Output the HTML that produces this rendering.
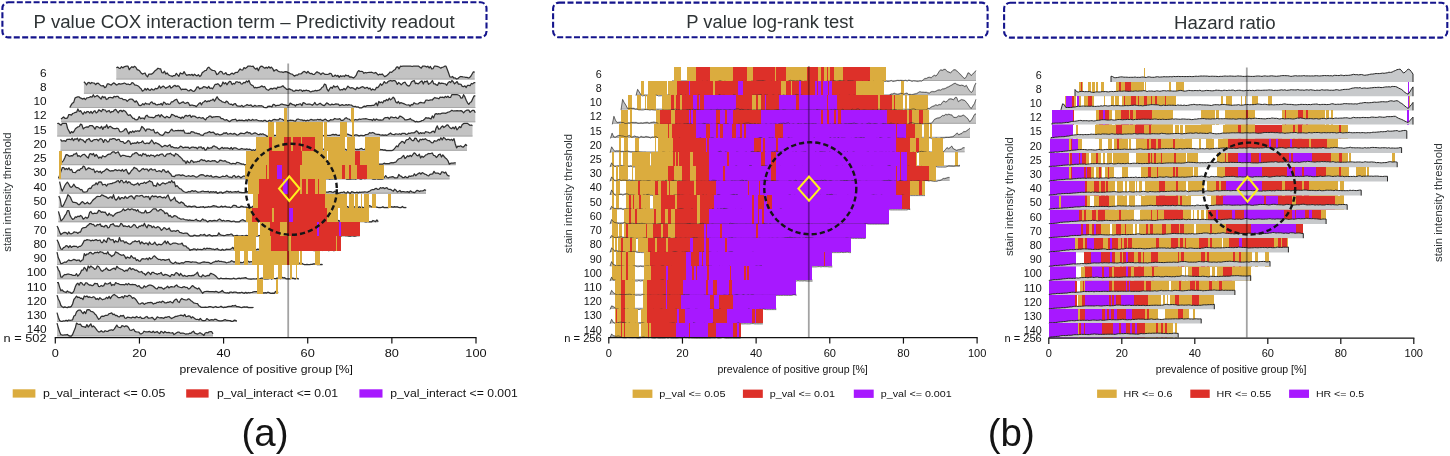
<!DOCTYPE html>
<html><head><meta charset="utf-8"><style>html,body{margin:0;padding:0;background:#fff;}svg{display:block;will-change:transform;}</style></head><body>
<svg width="1450" height="456" viewBox="0 0 1450 456" font-family="&quot;Liberation Sans&quot;, sans-serif">
<rect width="1450" height="456" fill="#ffffff"/>
<rect x="2.4" y="2.2" width="484.1" height="35.2" rx="6" ry="6" fill="none" stroke="#14148c" stroke-width="2.1" stroke-dasharray="6 2.4"/>
<rect x="553.1" y="2.6" width="434.5" height="34.7" rx="6" ry="6" fill="none" stroke="#14148c" stroke-width="2.1" stroke-dasharray="6 2.4"/>
<rect x="1004.1" y="2.8" width="443.2" height="34.8" rx="6" ry="6" fill="none" stroke="#14148c" stroke-width="2.1" stroke-dasharray="6 2.4"/>
<text x="33.6" y="28" font-size="18.3" fill="#2e3335" textLength="421" lengthAdjust="spacingAndGlyphs">P value COX interaction term – Predictivity readout</text>
<text x="686.2" y="28.2" font-size="18.3" fill="#2e3335" textLength="167.5" lengthAdjust="spacingAndGlyphs">P value log-rank test</text>
<text x="1174" y="28.7" font-size="18.3" fill="#2e3335" textLength="101.5" lengthAdjust="spacingAndGlyphs">Hazard ratio</text>
<path d="M116.3 79.5L116.3 67.7 117.6 67.1 118.9 68.1 120.2 68.5 121.5 66.7 122.8 67.9 124.1 66.8 125.4 66.3 126.7 66.2 128 66.2 129.3 69.7 130.6 67.9 131.9 66.7 133.2 67.6 134.5 66.3 135.8 67.2 137.2 69.6 138.5 70.1 139.8 71.1 141.1 73 142.4 74.1 143.7 73.5 145 73 146.3 75.6 147.6 76.8 148.9 74.1 150.2 74.1 151.5 74.1 152.8 73.3 154.1 71.8 155.4 70.4 156.7 69.5 158 68.2 159.3 68.8 160.6 68.8 161.9 72.6 163.2 72.9 164.5 71.2 165.8 74.1 167.1 73 168.4 74.7 169.7 75.5 171 75.9 172.3 76.5 173.6 75.6 174.9 75.7 176.3 73.4 177.6 74.9 178.9 76.3 180.2 72.9 181.5 73.7 182.8 73.8 184.1 71.7 185.4 73.8 186.7 75.3 188 74.9 189.3 74.7 190.6 75.2 191.9 74.3 193.2 75.7 194.5 74.2 195.8 75.3 197.1 75.8 198.4 74.7 199.7 76.5 201 75.4 202.3 72.6 203.6 71.8 204.9 70.6 206.2 70.5 207.5 68.1 208.8 67.2 210.1 68.7 211.4 69.8 212.7 70.3 214 70.5 215.3 71.3 216.7 74.6 218 74 219.3 72.3 220.6 71.3 221.9 71.9 223.2 74 224.5 73.8 225.8 72.6 227.1 74.7 228.4 74.6 229.7 74.9 231 73.7 232.3 73.2 233.6 74.2 234.9 72.9 236.2 72.4 237.5 72.5 238.8 70.7 240.1 68.9 241.4 69.9 242.7 70 244 67.6 245.3 68.6 246.6 67.6 247.9 66.2 249.2 66.2 250.5 66.2 251.8 66.5 253.1 66.2 254.4 68.1 255.8 69.2 257.1 68 258.4 70.7 259.7 67.5 261 66.2 262.3 66.3 263.6 67.4 264.9 68.3 266.2 67.2 267.5 68.2 268.8 66.6 270.1 68.2 271.4 67.1 272.7 68.6 274 71.1 275.3 70 276.6 69.6 277.9 71 279.2 71.6 280.5 72 281.8 71.9 283.1 72.5 284.4 71.9 285.7 71.6 287 71.9 288.3 72.7 289.6 73.2 290.9 74 292.2 74.1 293.5 75.4 294.8 76.1 296.2 75 297.5 75.2 298.8 73.9 300.1 74 301.4 73.7 302.7 72.3 304 71.4 305.3 72 306.6 73 307.9 71.3 309.2 72.9 310.5 73.7 311.8 73.4 313.1 74.5 314.4 74.4 315.7 72.9 317 71.8 318.3 72.6 319.6 73.1 320.9 74.6 322.2 73.1 323.5 73.2 324.8 74.4 326.1 74.4 327.4 74.5 328.7 74.2 330 73.2 331.3 73.8 332.6 76.4 333.9 76.2 335.2 75.1 336.6 76.2 337.9 75.4 339.2 77.4 340.5 75.7 341.8 76.5 343.1 75.8 344.4 76.5 345.7 75 347 75.8 348.3 75.5 349.6 77.2 350.9 76.8 352.2 77.4 353.5 78 354.8 76.9 356.1 75.4 357.4 72.2 358.7 70.6 360 71.5 361.3 71.3 362.6 71.5 363.9 73.3 365.2 72.5 366.5 72.8 367.8 72.5 369.1 72.4 370.4 72.3 371.7 72.2 373 72.8 374.3 73.1 375.7 72.5 377 73.8 378.3 75 379.6 74.2 380.9 74.6 382.2 74 383.5 75.4 384.8 76.7 386.1 75.9 387.4 75 388.7 73.8 390 72 391.3 72.4 392.6 71.4 393.9 70.2 395.2 69.5 396.5 67.1 397.8 66.9 399.1 68.8 400.4 66.2 401.7 66.3 403 66.2 404.3 66.2 405.6 66.2 406.9 66.2 408.2 66.2 409.5 66.2 410.8 66.2 412.1 66.5 413.4 66.2 414.7 66.2 416.1 66.2 417.4 66.2 418.7 66.2 420 67.3 421.3 68.2 422.6 66.2 423.9 66.2 425.2 66.2 426.5 67.1 427.8 66.2 429.1 68 430.4 66.5 431.7 68.9 433 68.7 434.3 66.2 435.6 66.2 436.9 66.3 438.2 66.7 439.5 67.3 440.8 68.2 442.1 67.3 443.4 67 444.7 66.2 446 66.2 447.3 69.5 448.6 73 449.9 76.9 451.2 77.2 452.5 76.5 453.8 78 455.2 77.9 456.5 79 457.8 78.7 459.1 77.4 460.4 76.5 461.7 76.7 463 76.9 464.3 77 465.6 77.3 466.9 77.3 468.2 78 469.5 77.6 470.8 76.2 472.1 74 473.4 71.8 474.7 72.1 474.7 79.5" fill="#c3c3c3"/>
<path d="M116.3 79H474.7" stroke="#a9a9a9" stroke-width="1.1"/>
<path d="M116.3 67.7 117.6 67.1 118.9 68.1 120.2 68.5 121.5 66.7 122.8 67.9 124.1 66.8 125.4 66.3 126.7 66.2 128 66.2 129.3 69.7 130.6 67.9 131.9 66.7 133.2 67.6 134.5 66.3 135.8 67.2 137.2 69.6 138.5 70.1 139.8 71.1 141.1 73 142.4 74.1 143.7 73.5 145 73 146.3 75.6 147.6 76.8 148.9 74.1 150.2 74.1 151.5 74.1 152.8 73.3 154.1 71.8 155.4 70.4 156.7 69.5 158 68.2 159.3 68.8 160.6 68.8 161.9 72.6 163.2 72.9 164.5 71.2 165.8 74.1 167.1 73 168.4 74.7 169.7 75.5 171 75.9 172.3 76.5 173.6 75.6 174.9 75.7 176.3 73.4 177.6 74.9 178.9 76.3 180.2 72.9 181.5 73.7 182.8 73.8 184.1 71.7 185.4 73.8 186.7 75.3 188 74.9 189.3 74.7 190.6 75.2 191.9 74.3 193.2 75.7 194.5 74.2 195.8 75.3 197.1 75.8 198.4 74.7 199.7 76.5 201 75.4 202.3 72.6 203.6 71.8 204.9 70.6 206.2 70.5 207.5 68.1 208.8 67.2 210.1 68.7 211.4 69.8 212.7 70.3 214 70.5 215.3 71.3 216.7 74.6 218 74 219.3 72.3 220.6 71.3 221.9 71.9 223.2 74 224.5 73.8 225.8 72.6 227.1 74.7 228.4 74.6 229.7 74.9 231 73.7 232.3 73.2 233.6 74.2 234.9 72.9 236.2 72.4 237.5 72.5 238.8 70.7 240.1 68.9 241.4 69.9 242.7 70 244 67.6 245.3 68.6 246.6 67.6 247.9 66.2 249.2 66.2 250.5 66.2 251.8 66.5 253.1 66.2 254.4 68.1 255.8 69.2 257.1 68 258.4 70.7 259.7 67.5 261 66.2 262.3 66.3 263.6 67.4 264.9 68.3 266.2 67.2 267.5 68.2 268.8 66.6 270.1 68.2 271.4 67.1 272.7 68.6 274 71.1 275.3 70 276.6 69.6 277.9 71 279.2 71.6 280.5 72 281.8 71.9 283.1 72.5 284.4 71.9 285.7 71.6 287 71.9 288.3 72.7 289.6 73.2 290.9 74 292.2 74.1 293.5 75.4 294.8 76.1 296.2 75 297.5 75.2 298.8 73.9 300.1 74 301.4 73.7 302.7 72.3 304 71.4 305.3 72 306.6 73 307.9 71.3 309.2 72.9 310.5 73.7 311.8 73.4 313.1 74.5 314.4 74.4 315.7 72.9 317 71.8 318.3 72.6 319.6 73.1 320.9 74.6 322.2 73.1 323.5 73.2 324.8 74.4 326.1 74.4 327.4 74.5 328.7 74.2 330 73.2 331.3 73.8 332.6 76.4 333.9 76.2 335.2 75.1 336.6 76.2 337.9 75.4 339.2 77.4 340.5 75.7 341.8 76.5 343.1 75.8 344.4 76.5 345.7 75 347 75.8 348.3 75.5 349.6 77.2 350.9 76.8 352.2 77.4 353.5 78 354.8 76.9 356.1 75.4 357.4 72.2 358.7 70.6 360 71.5 361.3 71.3 362.6 71.5 363.9 73.3 365.2 72.5 366.5 72.8 367.8 72.5 369.1 72.4 370.4 72.3 371.7 72.2 373 72.8 374.3 73.1 375.7 72.5 377 73.8 378.3 75 379.6 74.2 380.9 74.6 382.2 74 383.5 75.4 384.8 76.7 386.1 75.9 387.4 75 388.7 73.8 390 72 391.3 72.4 392.6 71.4 393.9 70.2 395.2 69.5 396.5 67.1 397.8 66.9 399.1 68.8 400.4 66.2 401.7 66.3 403 66.2 404.3 66.2 405.6 66.2 406.9 66.2 408.2 66.2 409.5 66.2 410.8 66.2 412.1 66.5 413.4 66.2 414.7 66.2 416.1 66.2 417.4 66.2 418.7 66.2 420 67.3 421.3 68.2 422.6 66.2 423.9 66.2 425.2 66.2 426.5 67.1 427.8 66.2 429.1 68 430.4 66.5 431.7 68.9 433 68.7 434.3 66.2 435.6 66.2 436.9 66.3 438.2 66.7 439.5 67.3 440.8 68.2 442.1 67.3 443.4 67 444.7 66.2 446 66.2 447.3 69.5 448.6 73 449.9 76.9 451.2 77.2 452.5 76.5 453.8 78 455.2 77.9 456.5 79 457.8 78.7 459.1 77.4 460.4 76.5 461.7 76.7 463 76.9 464.3 77 465.6 77.3 466.9 77.3 468.2 78 469.5 77.6 470.8 76.2 472.1 74 473.4 71.8 474.7 72.1" fill="none" stroke="#303030" stroke-opacity="1" stroke-width="1.25" stroke-linejoin="round"/>
<path d="M83.9 93.8L83.9 81.7 85.2 83 86.5 84.9 87.8 82.9 89.1 82.4 90.4 83.7 91.7 82.5 93 83 94.3 83.2 95.6 84.7 96.9 83.3 98.2 83.2 99.5 84.4 100.8 85.6 102.1 85.8 103.4 85.6 104.7 87.7 106 86.9 107.3 83.9 108.6 83.9 109.9 84.5 111.2 85.1 112.5 83.7 113.8 82.9 115.1 83.7 116.4 85 117.7 84.6 119 83.6 120.3 84.1 121.6 83.9 122.9 83.7 124.2 83 125.5 83.5 126.8 84.4 128.1 84 129.4 84.7 130.7 84.4 132 82.6 133.3 83 134.6 84.8 135.9 85.1 137.2 85.5 138.5 86.2 139.8 87.7 141.1 88.8 142.4 91.1 143.7 90.5 145 88.5 146.3 90.1 147.6 88.5 148.9 89.8 150.2 90.3 151.5 88.8 152.8 89.8 154.1 89.9 155.4 88.3 156.7 88.9 158 88.1 159.3 85.8 160.6 88.1 161.9 87 163.2 86.1 164.5 87.1 165.8 88.3 167.1 87.3 168.4 86.9 169.7 85.6 171 88.1 172.3 87.2 173.6 86 174.9 85.3 176.2 86.5 177.5 85.8 178.8 86.2 180.1 87.8 181.4 89.8 182.7 89.1 184 89.3 185.3 89.1 186.6 89.4 187.9 90.6 189.2 90.8 190.5 89.6 191.8 90.4 193.1 91.3 194.4 91.1 195.7 89.5 197 87.1 198.3 86.8 199.6 88.9 200.9 88.2 202.2 88.2 203.5 86.7 204.8 86.8 206.1 87.4 207.4 88.2 208.7 86.3 210 88.3 211.3 88 212.6 88.8 213.9 86.5 215.2 84.3 216.5 84.4 217.8 83.7 219.1 84.8 220.4 86.5 221.7 85.3 223 82 224.3 83.8 225.6 82.6 226.9 84.8 228.2 82.9 229.5 81.4 230.8 81.7 232.1 84.6 233.4 83.4 234.7 84 236 81.8 237.3 81.8 238.6 82.5 239.9 82.2 241.2 84 242.5 83.8 243.8 82.4 245.1 82.8 246.4 81 247.7 82 249 80.5 250.3 83.9 251.6 85.1 252.9 85.5 254.2 87.8 255.5 87.4 256.8 87.8 258.1 87.4 259.4 87.3 260.7 86.6 262 85.9 263.3 87 264.6 86.5 265.9 88.7 267.2 89.7 268.5 90.3 269.8 89.1 271.1 88.3 272.4 89.1 273.7 88.2 275 88.1 276.3 89.1 277.6 87.1 278.9 87.4 280.3 87.2 281.6 86.6 282.9 85.8 284.2 87.2 285.5 88.3 286.8 89.4 288.1 89.2 289.4 88.8 290.7 89.6 292 89.9 293.3 91.2 294.6 91.2 295.9 90.1 297.2 90.3 298.5 90.7 299.8 89.9 301.1 90 302.4 91.4 303.7 90.3 305 90.8 306.3 90.1 307.6 90.7 308.9 90.7 310.2 91.8 311.5 91.6 312.8 91 314.1 91 315.4 90.4 316.7 90.8 318 90.4 319.3 90.1 320.6 89.3 321.9 87.5 323.2 86.8 324.5 84.1 325.8 84.8 327.1 89.2 328.4 91.1 329.7 88.7 331 87.2 332.3 88.3 333.6 85.7 334.9 87.2 336.2 86.7 337.5 86 338.8 88.3 340.1 90.2 341.4 89.5 342.7 89.8 344 88.4 345.3 89.8 346.6 88.2 347.9 86.1 349.2 87.3 350.5 88.2 351.8 87.6 353.1 88 354.4 88.9 355.7 89.6 357 87.3 358.3 88.5 359.6 88.1 360.9 87.4 362.2 86.7 363.5 87 364.8 88.4 366.1 87.7 367.4 87.3 368.7 88.9 370 88 371.3 90.2 372.6 89 373.9 89.8 375.2 89.8 376.5 87.4 377.8 87.7 379.1 86 380.4 83.7 381.7 85.3 383 83.9 384.3 81.6 385.6 83.1 386.9 83 388.2 81.3 389.5 80.9 390.8 80.5 392.1 81.1 393.4 80.5 394.7 80.5 396 81.7 397.3 84.4 398.6 82.5 399.9 83.4 401.2 84.9 402.5 83.6 403.8 82.5 405.1 82.2 406.4 84.5 407.7 85.7 409 86.1 410.3 84.6 411.6 81.8 412.9 81.1 414.2 80.5 415.5 83.7 416.8 83.2 418.1 83.9 419.4 82.8 420.7 81.6 422 80.9 423.3 84.1 424.6 81.2 425.9 81.9 427.2 80.8 428.5 84.3 429.8 83.4 431.1 82.4 432.4 80.5 433.7 83.8 435 83.8 436.3 84.9 437.6 85.3 438.9 82.4 440.2 83.7 441.5 83.2 442.8 83.4 444.1 83.7 445.4 83.9 446.7 85.3 448 82.9 449.3 81.6 450.6 82.6 451.9 80.5 453.2 81.7 454.5 83.9 455.8 82.7 457.1 81.6 458.4 84.1 459.7 84 461 84.3 462.3 86.4 463.6 86.6 464.9 85.9 466.2 87.5 467.5 85.3 468.8 85.3 470.1 85.6 471.4 83.5 472.7 83.9 474 82.6 475.3 82.6 475.3 93.8" fill="#c3c3c3"/>
<path d="M83.9 93.2H475.3" stroke="#a9a9a9" stroke-width="1.1"/>
<path d="M83.9 81.7 85.2 83 86.5 84.9 87.8 82.9 89.1 82.4 90.4 83.7 91.7 82.5 93 83 94.3 83.2 95.6 84.7 96.9 83.3 98.2 83.2 99.5 84.4 100.8 85.6 102.1 85.8 103.4 85.6 104.7 87.7 106 86.9 107.3 83.9 108.6 83.9 109.9 84.5 111.2 85.1 112.5 83.7 113.8 82.9 115.1 83.7 116.4 85 117.7 84.6 119 83.6 120.3 84.1 121.6 83.9 122.9 83.7 124.2 83 125.5 83.5 126.8 84.4 128.1 84 129.4 84.7 130.7 84.4 132 82.6 133.3 83 134.6 84.8 135.9 85.1 137.2 85.5 138.5 86.2 139.8 87.7 141.1 88.8 142.4 91.1 143.7 90.5 145 88.5 146.3 90.1 147.6 88.5 148.9 89.8 150.2 90.3 151.5 88.8 152.8 89.8 154.1 89.9 155.4 88.3 156.7 88.9 158 88.1 159.3 85.8 160.6 88.1 161.9 87 163.2 86.1 164.5 87.1 165.8 88.3 167.1 87.3 168.4 86.9 169.7 85.6 171 88.1 172.3 87.2 173.6 86 174.9 85.3 176.2 86.5 177.5 85.8 178.8 86.2 180.1 87.8 181.4 89.8 182.7 89.1 184 89.3 185.3 89.1 186.6 89.4 187.9 90.6 189.2 90.8 190.5 89.6 191.8 90.4 193.1 91.3 194.4 91.1 195.7 89.5 197 87.1 198.3 86.8 199.6 88.9 200.9 88.2 202.2 88.2 203.5 86.7 204.8 86.8 206.1 87.4 207.4 88.2 208.7 86.3 210 88.3 211.3 88 212.6 88.8 213.9 86.5 215.2 84.3 216.5 84.4 217.8 83.7 219.1 84.8 220.4 86.5 221.7 85.3 223 82 224.3 83.8 225.6 82.6 226.9 84.8 228.2 82.9 229.5 81.4 230.8 81.7 232.1 84.6 233.4 83.4 234.7 84 236 81.8 237.3 81.8 238.6 82.5 239.9 82.2 241.2 84 242.5 83.8 243.8 82.4 245.1 82.8 246.4 81 247.7 82 249 80.5 250.3 83.9 251.6 85.1 252.9 85.5 254.2 87.8 255.5 87.4 256.8 87.8 258.1 87.4 259.4 87.3 260.7 86.6 262 85.9 263.3 87 264.6 86.5 265.9 88.7 267.2 89.7 268.5 90.3 269.8 89.1 271.1 88.3 272.4 89.1 273.7 88.2 275 88.1 276.3 89.1 277.6 87.1 278.9 87.4 280.3 87.2 281.6 86.6 282.9 85.8 284.2 87.2 285.5 88.3 286.8 89.4 288.1 89.2 289.4 88.8 290.7 89.6 292 89.9 293.3 91.2 294.6 91.2 295.9 90.1 297.2 90.3 298.5 90.7 299.8 89.9 301.1 90 302.4 91.4 303.7 90.3 305 90.8 306.3 90.1 307.6 90.7 308.9 90.7 310.2 91.8 311.5 91.6 312.8 91 314.1 91 315.4 90.4 316.7 90.8 318 90.4 319.3 90.1 320.6 89.3 321.9 87.5 323.2 86.8 324.5 84.1 325.8 84.8 327.1 89.2 328.4 91.1 329.7 88.7 331 87.2 332.3 88.3 333.6 85.7 334.9 87.2 336.2 86.7 337.5 86 338.8 88.3 340.1 90.2 341.4 89.5 342.7 89.8 344 88.4 345.3 89.8 346.6 88.2 347.9 86.1 349.2 87.3 350.5 88.2 351.8 87.6 353.1 88 354.4 88.9 355.7 89.6 357 87.3 358.3 88.5 359.6 88.1 360.9 87.4 362.2 86.7 363.5 87 364.8 88.4 366.1 87.7 367.4 87.3 368.7 88.9 370 88 371.3 90.2 372.6 89 373.9 89.8 375.2 89.8 376.5 87.4 377.8 87.7 379.1 86 380.4 83.7 381.7 85.3 383 83.9 384.3 81.6 385.6 83.1 386.9 83 388.2 81.3 389.5 80.9 390.8 80.5 392.1 81.1 393.4 80.5 394.7 80.5 396 81.7 397.3 84.4 398.6 82.5 399.9 83.4 401.2 84.9 402.5 83.6 403.8 82.5 405.1 82.2 406.4 84.5 407.7 85.7 409 86.1 410.3 84.6 411.6 81.8 412.9 81.1 414.2 80.5 415.5 83.7 416.8 83.2 418.1 83.9 419.4 82.8 420.7 81.6 422 80.9 423.3 84.1 424.6 81.2 425.9 81.9 427.2 80.8 428.5 84.3 429.8 83.4 431.1 82.4 432.4 80.5 433.7 83.8 435 83.8 436.3 84.9 437.6 85.3 438.9 82.4 440.2 83.7 441.5 83.2 442.8 83.4 444.1 83.7 445.4 83.9 446.7 85.3 448 82.9 449.3 81.6 450.6 82.6 451.9 80.5 453.2 81.7 454.5 83.9 455.8 82.7 457.1 81.6 458.4 84.1 459.7 84 461 84.3 462.3 86.4 463.6 86.6 464.9 85.9 466.2 87.5 467.5 85.3 468.8 85.3 470.1 85.6 471.4 83.5 472.7 83.9 474 82.6 475.3 82.6" fill="none" stroke="#303030" stroke-opacity="1" stroke-width="1.25" stroke-linejoin="round"/>
<path d="M69.8 108L69.8 107.5 71.1 105.1 72.4 103.2 73.7 102.4 75 98.1 76.3 97.3 77.6 96.9 78.9 96.8 80.2 97.9 81.5 98.4 82.8 99.1 84.1 98.2 85.4 99.6 86.8 97.8 88.1 97.7 89.4 97.3 90.7 96.6 92 97.2 93.3 94.7 94.6 97 95.9 96.3 97.2 95.5 98.5 96.5 99.8 97.8 101.1 99 102.4 96.3 103.7 97.6 105 96.8 106.3 99.5 107.6 99 108.9 97.5 110.2 97.4 111.5 97.6 112.8 98 114.1 96.3 115.4 96.9 116.7 96.4 118 96.4 119.3 98 120.7 98.5 122 98.4 123.3 99.7 124.6 99.5 125.9 99.8 127.2 101.4 128.5 100.1 129.8 99.2 131.1 99 132.4 99.3 133.7 100.7 135 102.2 136.3 100.8 137.6 102.7 138.9 105.1 140.2 105.7 141.5 105.2 142.8 103.6 144.1 104.9 145.4 103 146.7 104 148 103.8 149.3 104.5 150.6 102.5 151.9 101.9 153.2 103.6 154.6 103.3 155.9 104.7 157.2 104.9 158.5 104.4 159.8 104.5 161.1 103.5 162.4 105.2 163.7 102.1 165 102.8 166.3 104.4 167.6 103.8 168.9 104.4 170.2 104 171.5 101.8 172.8 101.8 174.1 100.6 175.4 99.8 176.7 99.2 178 101.9 179.3 103.6 180.6 103.1 181.9 102.3 183.2 101.8 184.5 103.1 185.8 103.3 187.1 102.4 188.5 102.9 189.8 105.6 191.1 105.1 192.4 105.2 193.7 105.7 195 105.7 196.3 106.7 197.6 105.1 198.9 103.6 200.2 102.7 201.5 104.8 202.8 102.5 204.1 101.7 205.4 100.6 206.7 101.9 208 100.9 209.3 101.4 210.6 100.3 211.9 100.2 213.2 99.1 214.5 101.2 215.8 98.9 217.1 96.7 218.4 99 219.7 100.1 221 100.7 222.4 102 223.7 102.2 225 102.8 226.3 101.1 227.6 101.9 228.9 103.7 230.2 104.3 231.5 104.1 232.8 105.3 234.1 103.9 235.4 103.6 236.7 105.7 238 106.2 239.3 106.1 240.6 106.3 241.9 105.3 243.2 106.8 244.5 106 245.8 105.5 247.1 104.6 248.4 105.3 249.7 105.3 251 104.8 252.3 106.3 253.6 106.3 254.9 105.3 256.3 106.2 257.6 106 258.9 105.7 260.2 105.9 261.5 105.7 262.8 106.3 264.1 107.4 265.4 107.7 266.7 107.7 268 106.3 269.3 106.2 270.6 106.3 271.9 106.9 273.2 104.3 274.5 104.6 275.8 106 277.1 105.3 278.4 105.4 279.7 105.1 281 104.2 282.3 104.1 283.6 104.7 284.9 104.8 286.2 105.1 287.5 105.6 288.8 105.5 290.2 103.1 291.5 103.9 292.8 104.7 294.1 104.8 295.4 106 296.7 104.5 298 104.7 299.3 104 300.6 103.9 301.9 105.7 303.2 102.6 304.5 103.1 305.8 104 307.1 104.3 308.4 104 309.7 104 311 104.5 312.3 105.3 313.6 104.1 314.9 102.5 316.2 104.7 317.5 104.8 318.8 104 320.1 103.2 321.4 104.2 322.7 105.2 324.1 105.7 325.4 104.5 326.7 102.9 328 103.6 329.3 104.7 330.6 105 331.9 104.1 333.2 104.6 334.5 104.3 335.8 103.9 337.1 104.2 338.4 104.2 339.7 105.6 341 105.1 342.3 104.6 343.6 105.3 344.9 105.1 346.2 104.6 347.5 105.3 348.8 104.6 350.1 105 351.4 105.1 352.7 106.2 354 106.5 355.3 106.3 356.6 107 358 106.8 359.3 107.8 360.6 107.8 361.9 107.8 363.2 106.7 364.5 106.2 365.8 106.6 367.1 105.6 368.4 105.7 369.7 105.5 371 105.6 372.3 105.3 373.6 105.4 374.9 104.4 376.2 103 377.5 105.8 378.8 101.4 380.1 102.8 381.4 102 382.7 102.9 384 100.6 385.3 101 386.6 99.5 387.9 100.5 389.2 98.2 390.5 99.9 391.9 98.7 393.2 97.2 394.5 98.5 395.8 102 397.1 103 398.4 101.5 399.7 103.6 401 102.6 402.3 103.2 403.6 103.7 404.9 104.2 406.2 104.8 407.5 105 408.8 104.8 410.1 106.2 411.4 104.5 412.7 104.9 414 102.7 415.3 103.6 416.6 103.9 417.9 104 419.2 102.9 420.5 102.3 421.8 102.7 423.1 102.8 424.4 102.9 425.8 100.2 427.1 100 428.4 100.5 429.7 100.1 431 99.8 432.3 100 433.6 98.5 434.9 97.5 436.2 98.2 437.5 98.2 438.8 98.8 440.1 97.1 441.4 97.3 442.7 97.1 444 97.8 445.3 96.3 446.6 97.4 447.9 96.2 449.2 97.5 450.5 97.4 451.8 94.7 453.1 94.7 454.4 94.7 455.7 94.7 457 94.7 458.3 95 459.7 95.7 461 98.1 462.3 97.9 463.6 94.7 464.9 96.9 466.2 100.2 467.5 102.8 468.8 104.4 470.1 102.5 471.4 101.7 472.7 98.7 474 96.1 475.3 95.6 475.3 108" fill="#c3c3c3"/>
<path d="M69.8 107.5H475.3" stroke="#a9a9a9" stroke-width="1.1"/>
<path d="M69.8 107.5 71.1 105.1 72.4 103.2 73.7 102.4 75 98.1 76.3 97.3 77.6 96.9 78.9 96.8 80.2 97.9 81.5 98.4 82.8 99.1 84.1 98.2 85.4 99.6 86.8 97.8 88.1 97.7 89.4 97.3 90.7 96.6 92 97.2 93.3 94.7 94.6 97 95.9 96.3 97.2 95.5 98.5 96.5 99.8 97.8 101.1 99 102.4 96.3 103.7 97.6 105 96.8 106.3 99.5 107.6 99 108.9 97.5 110.2 97.4 111.5 97.6 112.8 98 114.1 96.3 115.4 96.9 116.7 96.4 118 96.4 119.3 98 120.7 98.5 122 98.4 123.3 99.7 124.6 99.5 125.9 99.8 127.2 101.4 128.5 100.1 129.8 99.2 131.1 99 132.4 99.3 133.7 100.7 135 102.2 136.3 100.8 137.6 102.7 138.9 105.1 140.2 105.7 141.5 105.2 142.8 103.6 144.1 104.9 145.4 103 146.7 104 148 103.8 149.3 104.5 150.6 102.5 151.9 101.9 153.2 103.6 154.6 103.3 155.9 104.7 157.2 104.9 158.5 104.4 159.8 104.5 161.1 103.5 162.4 105.2 163.7 102.1 165 102.8 166.3 104.4 167.6 103.8 168.9 104.4 170.2 104 171.5 101.8 172.8 101.8 174.1 100.6 175.4 99.8 176.7 99.2 178 101.9 179.3 103.6 180.6 103.1 181.9 102.3 183.2 101.8 184.5 103.1 185.8 103.3 187.1 102.4 188.5 102.9 189.8 105.6 191.1 105.1 192.4 105.2 193.7 105.7 195 105.7 196.3 106.7 197.6 105.1 198.9 103.6 200.2 102.7 201.5 104.8 202.8 102.5 204.1 101.7 205.4 100.6 206.7 101.9 208 100.9 209.3 101.4 210.6 100.3 211.9 100.2 213.2 99.1 214.5 101.2 215.8 98.9 217.1 96.7 218.4 99 219.7 100.1 221 100.7 222.4 102 223.7 102.2 225 102.8 226.3 101.1 227.6 101.9 228.9 103.7 230.2 104.3 231.5 104.1 232.8 105.3 234.1 103.9 235.4 103.6 236.7 105.7 238 106.2 239.3 106.1 240.6 106.3 241.9 105.3 243.2 106.8 244.5 106 245.8 105.5 247.1 104.6 248.4 105.3 249.7 105.3 251 104.8 252.3 106.3 253.6 106.3 254.9 105.3 256.3 106.2 257.6 106 258.9 105.7 260.2 105.9 261.5 105.7 262.8 106.3 264.1 107.4 265.4 107.7 266.7 107.7 268 106.3 269.3 106.2 270.6 106.3 271.9 106.9 273.2 104.3 274.5 104.6 275.8 106 277.1 105.3 278.4 105.4 279.7 105.1 281 104.2 282.3 104.1 283.6 104.7 284.9 104.8 286.2 105.1 287.5 105.6 288.8 105.5 290.2 103.1 291.5 103.9 292.8 104.7 294.1 104.8 295.4 106 296.7 104.5 298 104.7 299.3 104 300.6 103.9 301.9 105.7 303.2 102.6 304.5 103.1 305.8 104 307.1 104.3 308.4 104 309.7 104 311 104.5 312.3 105.3 313.6 104.1 314.9 102.5 316.2 104.7 317.5 104.8 318.8 104 320.1 103.2 321.4 104.2 322.7 105.2 324.1 105.7 325.4 104.5 326.7 102.9 328 103.6 329.3 104.7 330.6 105 331.9 104.1 333.2 104.6 334.5 104.3 335.8 103.9 337.1 104.2 338.4 104.2 339.7 105.6 341 105.1 342.3 104.6 343.6 105.3 344.9 105.1 346.2 104.6 347.5 105.3 348.8 104.6 350.1 105 351.4 105.1 352.7 106.2 354 106.5 355.3 106.3 356.6 107 358 106.8 359.3 107.8 360.6 107.8 361.9 107.8 363.2 106.7 364.5 106.2 365.8 106.6 367.1 105.6 368.4 105.7 369.7 105.5 371 105.6 372.3 105.3 373.6 105.4 374.9 104.4 376.2 103 377.5 105.8 378.8 101.4 380.1 102.8 381.4 102 382.7 102.9 384 100.6 385.3 101 386.6 99.5 387.9 100.5 389.2 98.2 390.5 99.9 391.9 98.7 393.2 97.2 394.5 98.5 395.8 102 397.1 103 398.4 101.5 399.7 103.6 401 102.6 402.3 103.2 403.6 103.7 404.9 104.2 406.2 104.8 407.5 105 408.8 104.8 410.1 106.2 411.4 104.5 412.7 104.9 414 102.7 415.3 103.6 416.6 103.9 417.9 104 419.2 102.9 420.5 102.3 421.8 102.7 423.1 102.8 424.4 102.9 425.8 100.2 427.1 100 428.4 100.5 429.7 100.1 431 99.8 432.3 100 433.6 98.5 434.9 97.5 436.2 98.2 437.5 98.2 438.8 98.8 440.1 97.1 441.4 97.3 442.7 97.1 444 97.8 445.3 96.3 446.6 97.4 447.9 96.2 449.2 97.5 450.5 97.4 451.8 94.7 453.1 94.7 454.4 94.7 455.7 94.7 457 94.7 458.3 95 459.7 95.7 461 98.1 462.3 97.9 463.6 94.7 464.9 96.9 466.2 100.2 467.5 102.8 468.8 104.4 470.1 102.5 471.4 101.7 472.7 98.7 474 96.1 475.3 95.6" fill="none" stroke="#303030" stroke-opacity="1" stroke-width="1.25" stroke-linejoin="round"/>
<path d="M61 122.3L61 119 62.3 118 63.6 116.9 64.9 118.3 66.2 118.4 67.5 117.9 68.8 114.6 70.1 114.7 71.4 115.2 72.7 113.5 74 113 75.3 112.4 76.6 112.2 77.9 109 79.2 111.5 80.5 110.7 81.8 112.6 83.1 114.3 84.5 111.9 85.8 113.1 87.1 111.5 88.4 111.7 89.7 113.2 91 111.4 92.3 113.5 93.6 111.6 94.9 110.7 96.2 113 97.5 112.1 98.8 109.9 100.1 110.6 101.4 111.7 102.7 109.3 104 109.8 105.3 110 106.6 112 107.9 111.1 109.2 110.5 110.5 112.7 111.8 111.5 113.1 111.7 114.4 110 115.7 109.4 117 111.2 118.3 112.8 119.6 110.6 120.9 110.3 122.2 111.7 123.5 110.3 124.8 111 126.1 112.2 127.4 114.4 128.7 115.4 130.1 114.7 131.4 116.4 132.7 118.1 134 118.3 135.3 119.7 136.6 119.8 137.9 119.3 139.2 116.6 140.5 118.7 141.8 118.1 143.1 118.1 144.4 119.1 145.7 116 147 115.2 148.3 116.8 149.6 117.2 150.9 117.3 152.2 117.4 153.5 117.8 154.8 117.1 156.1 115.5 157.4 115.6 158.7 114.8 160 117 161.3 114.6 162.6 115.9 163.9 117 165.2 117.9 166.5 116.3 167.8 116.9 169.1 117.8 170.4 117.1 171.7 114.3 173 114.8 174.3 115.5 175.6 116.6 177 116.1 178.3 117.4 179.6 117.3 180.9 118.5 182.2 116.9 183.5 118 184.8 116.1 186.1 115.3 187.4 116.2 188.7 115.6 190 115.2 191.3 117.3 192.6 116 193.9 116.1 195.2 116.4 196.5 117.5 197.8 118 199.1 117.2 200.4 117.8 201.7 118.1 203 117.6 204.3 119 205.6 119.9 206.9 117.8 208.2 117.2 209.5 116.1 210.8 116.2 212.1 117.6 213.4 116.9 214.7 116.9 216 116.7 217.3 116.5 218.6 116.7 219.9 116.8 221.2 118.7 222.6 118.6 223.9 119.6 225.2 120.2 226.5 119.6 227.8 120.5 229.1 121.6 230.4 121.1 231.7 120.1 233 119.5 234.3 119.5 235.6 119.2 236.9 121 238.2 120.4 239.5 120.1 240.8 120.3 242.1 120.1 243.4 120.7 244.7 120.7 246 119.8 247.3 120.8 248.6 119.4 249.9 120.1 251.2 120.4 252.5 119.4 253.8 120.2 255.1 120 256.4 119.7 257.7 120.3 259 120.7 260.3 120.8 261.6 120.7 262.9 121.3 264.2 120.3 265.5 120.4 266.8 121.4 268.1 121.1 269.5 120.2 270.8 121.1 272.1 120.6 273.4 119.6 274.7 119.4 276 119.8 277.3 119.9 278.6 119.9 279.9 118.5 281.2 119 282.5 119.3 283.8 120.4 285.1 120.6 286.4 120.4 287.7 120.8 289 120.5 290.3 120.1 291.6 120.3 292.9 120.4 294.2 120.8 295.5 121.1 296.8 119.4 298.1 119 299.4 119.5 300.7 119.8 302 119.9 303.3 120.6 304.6 120.2 305.9 121 307.2 120.2 308.5 120.7 309.8 120 311.1 119.4 312.4 119.8 313.7 120.2 315.1 119.9 316.4 120 317.7 119.3 319 119.9 320.3 119.4 321.6 120.2 322.9 120.6 324.2 119.7 325.5 119.2 326.8 120.2 328.1 121.1 329.4 120.7 330.7 119.6 332 120 333.3 119.7 334.6 118.5 335.9 118.9 337.2 119.2 338.5 119.1 339.8 118.7 341.1 120.4 342.4 120.4 343.7 119.9 345 118.4 346.3 117.7 347.6 118.9 348.9 119 350.2 120 351.5 120.4 352.8 119.9 354.1 120.1 355.4 119.5 356.7 119.9 358 119.8 359.3 119 360.7 119.3 362 119 363.3 118.8 364.6 118.9 365.9 118.7 367.2 119 368.5 119.5 369.8 119.7 371.1 119.6 372.4 120.5 373.7 118.8 375 120.4 376.3 119 377.6 119.6 378.9 120.1 380.2 119.8 381.5 120.2 382.8 120 384.1 118.3 385.4 117.6 386.7 117.7 388 117.4 389.3 119.1 390.6 117.1 391.9 117 393.2 117.7 394.5 117.7 395.8 117.1 397.1 118.3 398.4 118.1 399.7 116.1 401 116.4 402.3 117.3 403.6 118.2 404.9 119.9 406.2 119.9 407.6 119.6 408.9 119.4 410.2 118.5 411.5 119.9 412.8 120.2 414.1 120.9 415.4 121.9 416.7 121.4 418 122 419.3 121.7 420.6 121.4 421.9 120.5 423.2 120.3 424.5 119.3 425.8 117.6 427.1 118.1 428.4 117.9 429.7 118.4 431 119 432.3 115.9 433.6 117.9 434.9 114.4 436.2 113.6 437.5 114.1 438.8 113.7 440.1 114 441.4 113.4 442.7 113.1 444 113 445.3 113.4 446.6 112.9 447.9 112.2 449.2 112 450.5 111.3 451.8 110.3 453.2 111 454.5 110.8 455.8 110.8 457.1 110.7 458.4 110.8 459.7 110.8 461 110.6 462.3 111.4 463.6 112.9 464.9 111.3 466.2 110.4 467.5 110.1 468.8 110.1 470.1 112.4 471.4 111.1 472.7 110.3 474 110.4 475.3 112.7 475.3 122.3" fill="#c3c3c3"/>
<path d="M61 121.8H475.3" stroke="#a9a9a9" stroke-width="1.1"/>
<path d="M61 119 62.3 118 63.6 116.9 64.9 118.3 66.2 118.4 67.5 117.9 68.8 114.6 70.1 114.7 71.4 115.2 72.7 113.5 74 113 75.3 112.4 76.6 112.2 77.9 109 79.2 111.5 80.5 110.7 81.8 112.6 83.1 114.3 84.5 111.9 85.8 113.1 87.1 111.5 88.4 111.7 89.7 113.2 91 111.4 92.3 113.5 93.6 111.6 94.9 110.7 96.2 113 97.5 112.1 98.8 109.9 100.1 110.6 101.4 111.7 102.7 109.3 104 109.8 105.3 110 106.6 112 107.9 111.1 109.2 110.5 110.5 112.7 111.8 111.5 113.1 111.7 114.4 110 115.7 109.4 117 111.2 118.3 112.8 119.6 110.6 120.9 110.3 122.2 111.7 123.5 110.3 124.8 111 126.1 112.2 127.4 114.4 128.7 115.4 130.1 114.7 131.4 116.4 132.7 118.1 134 118.3 135.3 119.7 136.6 119.8 137.9 119.3 139.2 116.6 140.5 118.7 141.8 118.1 143.1 118.1 144.4 119.1 145.7 116 147 115.2 148.3 116.8 149.6 117.2 150.9 117.3 152.2 117.4 153.5 117.8 154.8 117.1 156.1 115.5 157.4 115.6 158.7 114.8 160 117 161.3 114.6 162.6 115.9 163.9 117 165.2 117.9 166.5 116.3 167.8 116.9 169.1 117.8 170.4 117.1 171.7 114.3 173 114.8 174.3 115.5 175.6 116.6 177 116.1 178.3 117.4 179.6 117.3 180.9 118.5 182.2 116.9 183.5 118 184.8 116.1 186.1 115.3 187.4 116.2 188.7 115.6 190 115.2 191.3 117.3 192.6 116 193.9 116.1 195.2 116.4 196.5 117.5 197.8 118 199.1 117.2 200.4 117.8 201.7 118.1 203 117.6 204.3 119 205.6 119.9 206.9 117.8 208.2 117.2 209.5 116.1 210.8 116.2 212.1 117.6 213.4 116.9 214.7 116.9 216 116.7 217.3 116.5 218.6 116.7 219.9 116.8 221.2 118.7 222.6 118.6 223.9 119.6 225.2 120.2 226.5 119.6 227.8 120.5 229.1 121.6 230.4 121.1 231.7 120.1 233 119.5 234.3 119.5 235.6 119.2 236.9 121 238.2 120.4 239.5 120.1 240.8 120.3 242.1 120.1 243.4 120.7 244.7 120.7 246 119.8 247.3 120.8 248.6 119.4 249.9 120.1 251.2 120.4 252.5 119.4 253.8 120.2 255.1 120 256.4 119.7 257.7 120.3 259 120.7 260.3 120.8 261.6 120.7 262.9 121.3 264.2 120.3 265.5 120.4 266.8 121.4 268.1 121.1 269.5 120.2 270.8 121.1 272.1 120.6 273.4 119.6 274.7 119.4 276 119.8 277.3 119.9 278.6 119.9 279.9 118.5 281.2 119 282.5 119.3 283.8 120.4 285.1 120.6 286.4 120.4 287.7 120.8 289 120.5 290.3 120.1 291.6 120.3 292.9 120.4 294.2 120.8 295.5 121.1 296.8 119.4 298.1 119 299.4 119.5 300.7 119.8 302 119.9 303.3 120.6 304.6 120.2 305.9 121 307.2 120.2 308.5 120.7 309.8 120 311.1 119.4 312.4 119.8 313.7 120.2 315.1 119.9 316.4 120 317.7 119.3 319 119.9 320.3 119.4 321.6 120.2 322.9 120.6 324.2 119.7 325.5 119.2 326.8 120.2 328.1 121.1 329.4 120.7 330.7 119.6 332 120 333.3 119.7 334.6 118.5 335.9 118.9 337.2 119.2 338.5 119.1 339.8 118.7 341.1 120.4 342.4 120.4 343.7 119.9 345 118.4 346.3 117.7 347.6 118.9 348.9 119 350.2 120 351.5 120.4 352.8 119.9 354.1 120.1 355.4 119.5 356.7 119.9 358 119.8 359.3 119 360.7 119.3 362 119 363.3 118.8 364.6 118.9 365.9 118.7 367.2 119 368.5 119.5 369.8 119.7 371.1 119.6 372.4 120.5 373.7 118.8 375 120.4 376.3 119 377.6 119.6 378.9 120.1 380.2 119.8 381.5 120.2 382.8 120 384.1 118.3 385.4 117.6 386.7 117.7 388 117.4 389.3 119.1 390.6 117.1 391.9 117 393.2 117.7 394.5 117.7 395.8 117.1 397.1 118.3 398.4 118.1 399.7 116.1 401 116.4 402.3 117.3 403.6 118.2 404.9 119.9 406.2 119.9 407.6 119.6 408.9 119.4 410.2 118.5 411.5 119.9 412.8 120.2 414.1 120.9 415.4 121.9 416.7 121.4 418 122 419.3 121.7 420.6 121.4 421.9 120.5 423.2 120.3 424.5 119.3 425.8 117.6 427.1 118.1 428.4 117.9 429.7 118.4 431 119 432.3 115.9 433.6 117.9 434.9 114.4 436.2 113.6 437.5 114.1 438.8 113.7 440.1 114 441.4 113.4 442.7 113.1 444 113 445.3 113.4 446.6 112.9 447.9 112.2 449.2 112 450.5 111.3 451.8 110.3 453.2 111 454.5 110.8 455.8 110.8 457.1 110.7 458.4 110.8 459.7 110.8 461 110.6 462.3 111.4 463.6 112.9 464.9 111.3 466.2 110.4 467.5 110.1 468.8 110.1 470.1 112.4 471.4 111.1 472.7 110.3 474 110.4 475.3 112.7" fill="none" stroke="#303030" stroke-opacity="1" stroke-width="1.25" stroke-linejoin="round"/>
<path d="M284 108h3v14h-3zM351 108h3v14h-3z" fill="#dbac3e" shape-rendering="crispEdges"/>
<path d="M57.2 136.6L57.2 123.5 58.5 123.3 59.8 124.4 61.1 125.2 62.4 123.3 63.7 123.3 65 123.3 66.3 123.3 67.6 128.5 68.9 130.9 70.2 133.4 71.5 131.6 72.8 132.7 74.1 131.3 75.4 128.8 76.7 127.7 78 126.9 79.3 126.5 80.6 124.1 81.9 124.9 83.2 128.9 84.5 127.8 85.8 127.2 87.1 126.8 88.4 127.2 89.7 125.6 91 125.6 92.4 125.7 93.7 127.1 95 129.2 96.3 126.5 97.6 126.7 98.9 127.6 100.2 128.2 101.5 126.3 102.8 129.4 104.1 126.9 105.4 127.3 106.7 124.7 108 128.3 109.3 126.6 110.6 126.4 111.9 127.6 113.2 128.4 114.5 128.7 115.8 128.6 117.1 128.2 118.4 128.8 119.7 131.6 121 131.8 122.3 131.5 123.6 130.8 124.9 129.1 126.2 128.7 127.5 131.5 128.8 133.9 130.1 131.6 131.4 132.6 132.7 130.9 134 132.4 135.3 130.9 136.6 131.3 137.9 130.7 139.2 131.4 140.5 129.8 141.8 126.5 143.1 127.6 144.4 129 145.7 131.1 147 129 148.3 129.1 149.6 129.2 150.9 130.1 152.2 130.2 153.5 129.5 154.8 132.7 156.1 133.1 157.4 132.1 158.7 133.4 160 134.7 161.4 135.1 162.7 135.3 164 134 165.3 131.9 166.6 132.4 167.9 132.9 169.2 132.4 170.5 130.5 171.8 129.1 173.1 130.9 174.4 131 175.7 130.5 177 130.7 178.3 130.3 179.6 130.6 180.9 130.4 182.2 130.9 183.5 130.1 184.8 132.9 186.1 133.2 187.4 133.4 188.7 133.1 190 133.5 191.3 131.6 192.6 131.8 193.9 132.2 195.2 133.2 196.5 133.1 197.8 133.8 199.1 133.6 200.4 134.9 201.7 135.1 203 135.3 204.3 133.5 205.6 133.1 206.9 132.9 208.2 132.2 209.5 131.6 210.8 132.7 212.1 132.4 213.4 132.2 214.7 133.5 216 134.6 217.3 133.8 218.6 134.4 219.9 135 221.2 134.6 222.5 134.2 223.8 132.9 225.1 133.4 226.4 132.6 227.7 134.2 229 134 230.4 133.4 231.7 133.9 233 134.1 234.3 133.4 235.6 134.1 236.9 135.1 238.2 134.8 239.5 133.9 240.8 133.1 242.1 133.3 243.4 133.5 244.7 133.5 246 132.6 247.3 131.9 248.6 133 249.9 132.6 251.2 134.1 252.5 134 253.8 133.2 255.1 132.8 256.4 133.5 257.7 134.3 259 134.7 260.3 133.9 261.6 134.4 262.9 133.8 264.2 134.7 265.5 135 266.8 136.3 268.1 136.3 269.4 135.3 270.7 135.8 272 134.9 273.3 134.5 274.6 135.7 275.9 135.3 277.2 134.2 278.5 134.1 279.8 134.7 281.1 134.7 282.4 134.5 283.7 135.2 285 135.2 286.3 135.3 287.6 136 288.9 135.3 290.2 135.8 291.5 134.8 292.8 135.6 294.1 136 295.4 135.6 296.7 135.2 298 134.3 299.3 134.7 300.7 134.7 302 136.1 303.3 136.3 304.6 136.3 305.9 136 307.2 135.9 308.5 136 309.8 136.2 311.1 136.3 312.4 135.9 313.7 135.2 315 135.8 316.3 135.4 317.6 136 318.9 136.3 320.2 136.3 321.5 136.3 322.8 136 324.1 135.3 325.4 134.5 326.7 135.2 328 135.5 329.3 135.3 330.6 135.3 331.9 134.7 333.2 134.3 334.5 134.8 335.8 134.3 337.1 135.1 338.4 135.3 339.7 135.1 341 135.8 342.3 135.1 343.6 135.2 344.9 135.2 346.2 134 347.5 134.2 348.8 134.7 350.1 135.1 351.4 135.8 352.7 135 354 135.6 355.3 134.9 356.6 134.8 357.9 135.3 359.2 135.8 360.5 135.4 361.8 135.3 363.1 135.7 364.4 135.5 365.7 134.6 367 134.5 368.3 134.2 369.7 132.6 371 133.2 372.3 132.5 373.6 132.8 374.9 133.8 376.2 134.1 377.5 134.3 378.8 134.4 380.1 134.9 381.4 135.1 382.7 134.8 384 135.3 385.3 134.9 386.6 135.4 387.9 134.7 389.2 133.9 390.5 133 391.8 134.2 393.1 134.5 394.4 134.6 395.7 133.9 397 134 398.3 134.3 399.6 133.7 400.9 134.6 402.2 133.3 403.5 133.3 404.8 133.3 406.1 134.4 407.4 134.2 408.7 133.1 410 133.5 411.3 132.8 412.6 132.8 413.9 132.9 415.2 132.1 416.5 130.8 417.8 131.9 419.1 133.8 420.4 132.6 421.7 133.4 423 132.8 424.3 133.5 425.6 131.6 426.9 132 428.2 132.2 429.5 133 430.8 132.7 432.1 131.6 433.4 131.1 434.7 132.6 436 128.2 437.3 125.9 438.7 129.2 440 128.9 441.3 127.1 442.6 126 443.9 127.5 445.2 126.6 446.5 125.2 447.8 124.9 449.1 126.6 450.4 128.2 451.7 128.6 453 127.2 454.3 128.8 455.6 126.5 456.9 129.9 458.2 128.4 459.5 126.6 460.8 127.7 462.1 124.7 463.4 123.7 464.7 123.3 466 123.3 467.3 123.3 468.6 124.2 469.9 125.3 471.2 125 472.5 125.6 472.5 136.6" fill="#c3c3c3"/>
<path d="M57.2 136H472.5" stroke="#a9a9a9" stroke-width="1.1"/>
<path d="M57.2 123.5 58.5 123.3 59.8 124.4 61.1 125.2 62.4 123.3 63.7 123.3 65 123.3 66.3 123.3 67.6 128.5 68.9 130.9 70.2 133.4 71.5 131.6 72.8 132.7 74.1 131.3 75.4 128.8 76.7 127.7 78 126.9 79.3 126.5 80.6 124.1 81.9 124.9 83.2 128.9 84.5 127.8 85.8 127.2 87.1 126.8 88.4 127.2 89.7 125.6 91 125.6 92.4 125.7 93.7 127.1 95 129.2 96.3 126.5 97.6 126.7 98.9 127.6 100.2 128.2 101.5 126.3 102.8 129.4 104.1 126.9 105.4 127.3 106.7 124.7 108 128.3 109.3 126.6 110.6 126.4 111.9 127.6 113.2 128.4 114.5 128.7 115.8 128.6 117.1 128.2 118.4 128.8 119.7 131.6 121 131.8 122.3 131.5 123.6 130.8 124.9 129.1 126.2 128.7 127.5 131.5 128.8 133.9 130.1 131.6 131.4 132.6 132.7 130.9 134 132.4 135.3 130.9 136.6 131.3 137.9 130.7 139.2 131.4 140.5 129.8 141.8 126.5 143.1 127.6 144.4 129 145.7 131.1 147 129 148.3 129.1 149.6 129.2 150.9 130.1 152.2 130.2 153.5 129.5 154.8 132.7 156.1 133.1 157.4 132.1 158.7 133.4 160 134.7 161.4 135.1 162.7 135.3 164 134 165.3 131.9 166.6 132.4 167.9 132.9 169.2 132.4 170.5 130.5 171.8 129.1 173.1 130.9 174.4 131 175.7 130.5 177 130.7 178.3 130.3 179.6 130.6 180.9 130.4 182.2 130.9 183.5 130.1 184.8 132.9 186.1 133.2 187.4 133.4 188.7 133.1 190 133.5 191.3 131.6 192.6 131.8 193.9 132.2 195.2 133.2 196.5 133.1 197.8 133.8 199.1 133.6 200.4 134.9 201.7 135.1 203 135.3 204.3 133.5 205.6 133.1 206.9 132.9 208.2 132.2 209.5 131.6 210.8 132.7 212.1 132.4 213.4 132.2 214.7 133.5 216 134.6 217.3 133.8 218.6 134.4 219.9 135 221.2 134.6 222.5 134.2 223.8 132.9 225.1 133.4 226.4 132.6 227.7 134.2 229 134 230.4 133.4 231.7 133.9 233 134.1 234.3 133.4 235.6 134.1 236.9 135.1 238.2 134.8 239.5 133.9 240.8 133.1 242.1 133.3 243.4 133.5 244.7 133.5 246 132.6 247.3 131.9 248.6 133 249.9 132.6 251.2 134.1 252.5 134 253.8 133.2 255.1 132.8 256.4 133.5 257.7 134.3 259 134.7 260.3 133.9 261.6 134.4 262.9 133.8 264.2 134.7 265.5 135 266.8 136.3 268.1 136.3 269.4 135.3 270.7 135.8 272 134.9 273.3 134.5 274.6 135.7 275.9 135.3 277.2 134.2 278.5 134.1 279.8 134.7 281.1 134.7 282.4 134.5 283.7 135.2 285 135.2 286.3 135.3 287.6 136 288.9 135.3 290.2 135.8 291.5 134.8 292.8 135.6 294.1 136 295.4 135.6 296.7 135.2 298 134.3 299.3 134.7 300.7 134.7 302 136.1 303.3 136.3 304.6 136.3 305.9 136 307.2 135.9 308.5 136 309.8 136.2 311.1 136.3 312.4 135.9 313.7 135.2 315 135.8 316.3 135.4 317.6 136 318.9 136.3 320.2 136.3 321.5 136.3 322.8 136 324.1 135.3 325.4 134.5 326.7 135.2 328 135.5 329.3 135.3 330.6 135.3 331.9 134.7 333.2 134.3 334.5 134.8 335.8 134.3 337.1 135.1 338.4 135.3 339.7 135.1 341 135.8 342.3 135.1 343.6 135.2 344.9 135.2 346.2 134 347.5 134.2 348.8 134.7 350.1 135.1 351.4 135.8 352.7 135 354 135.6 355.3 134.9 356.6 134.8 357.9 135.3 359.2 135.8 360.5 135.4 361.8 135.3 363.1 135.7 364.4 135.5 365.7 134.6 367 134.5 368.3 134.2 369.7 132.6 371 133.2 372.3 132.5 373.6 132.8 374.9 133.8 376.2 134.1 377.5 134.3 378.8 134.4 380.1 134.9 381.4 135.1 382.7 134.8 384 135.3 385.3 134.9 386.6 135.4 387.9 134.7 389.2 133.9 390.5 133 391.8 134.2 393.1 134.5 394.4 134.6 395.7 133.9 397 134 398.3 134.3 399.6 133.7 400.9 134.6 402.2 133.3 403.5 133.3 404.8 133.3 406.1 134.4 407.4 134.2 408.7 133.1 410 133.5 411.3 132.8 412.6 132.8 413.9 132.9 415.2 132.1 416.5 130.8 417.8 131.9 419.1 133.8 420.4 132.6 421.7 133.4 423 132.8 424.3 133.5 425.6 131.6 426.9 132 428.2 132.2 429.5 133 430.8 132.7 432.1 131.6 433.4 131.1 434.7 132.6 436 128.2 437.3 125.9 438.7 129.2 440 128.9 441.3 127.1 442.6 126 443.9 127.5 445.2 126.6 446.5 125.2 447.8 124.9 449.1 126.6 450.4 128.2 451.7 128.6 453 127.2 454.3 128.8 455.6 126.5 456.9 129.9 458.2 128.4 459.5 126.6 460.8 127.7 462.1 124.7 463.4 123.7 464.7 123.3 466 123.3 467.3 123.3 468.6 124.2 469.9 125.3 471.2 125 472.5 125.6" fill="none" stroke="#303030" stroke-opacity="1" stroke-width="1.25" stroke-linejoin="round"/>
<path d="M268 122h6v15h-6zM276 122h47v15h-47zM324 122h3v15h-3zM340 122h7v15h-7zM352 122h2v15h-2z" fill="#dbac3e" shape-rendering="crispEdges"/>
<path d="M60.5 150.8L60.5 139.4 61.8 141.2 63.1 140.9 64.4 140.7 65.7 141.4 67 139.3 68.3 139.4 69.6 139.2 70.9 139.8 72.2 138.2 73.5 140.6 74.8 138.8 76.1 139.4 77.4 138.2 78.7 141.1 80 138.8 81.3 139.6 82.6 139.8 84 141.3 85.3 142.5 86.6 139.8 87.9 139.3 89.2 138.6 90.5 141 91.8 141.5 93.1 140.2 94.4 139.5 95.7 139.5 97 139.4 98.3 140.9 99.6 139 100.9 138.7 102.2 139.5 103.5 142.4 104.8 139.6 106.1 140 107.4 141.9 108.7 141.7 110 139 111.3 139.4 112.6 138.7 113.9 138.6 115.2 139 116.5 140.4 117.8 139.4 119.1 139.4 120.4 141.5 121.7 141.7 123 141.6 124.3 143.3 125.6 143.1 126.9 142.1 128.2 140.5 129.6 141.3 130.9 144.4 132.2 143.2 133.5 143.3 134.8 142.9 136.1 143.3 137.4 141.8 138.7 143.2 140 142.5 141.3 142.3 142.6 140.9 143.9 143 145.2 143.7 146.5 143.1 147.8 143.1 149.1 143.6 150.4 142 151.7 140 153 141.8 154.3 143.9 155.6 142.6 156.9 143.2 158.2 143.9 159.5 144.6 160.8 145.8 162.1 147 163.4 146.3 164.7 145.4 166 145.7 167.3 146.5 168.6 145.6 169.9 144.7 171.2 147.1 172.5 146.7 173.9 147.7 175.2 147.9 176.5 147.7 177.8 148.3 179.1 147.6 180.4 146.2 181.7 146.6 183 147.8 184.3 147.4 185.6 147.1 186.9 147.4 188.2 147.1 189.5 148.6 190.8 147.7 192.1 147.2 193.4 147.2 194.7 147.6 196 147.3 197.3 148.8 198.6 147.2 199.9 147.2 201.2 146.9 202.5 148.7 203.8 147.6 205.1 150.2 206.4 149.6 207.7 147.2 209 148.5 210.3 147.8 211.6 148 212.9 146.3 214.2 145.9 215.5 146.8 216.8 147.2 218.1 148.6 219.5 149.2 220.8 148.2 222.1 147.3 223.4 148.5 224.7 147.8 226 148.2 227.3 147.9 228.6 148.3 229.9 149 231.2 147.4 232.5 149.4 233.8 147.8 235.1 147.9 236.4 148.2 237.7 149 239 149.3 240.3 149.1 241.6 148.5 242.9 148.9 244.2 149.1 245.5 149.4 246.8 148.9 248.1 149.5 249.4 149.2 250.7 149.5 252 150.6 253.3 149.7 254.6 150.6 255.9 149.4 257.2 148.7 258.5 147.8 259.8 150 261.1 150 262.4 149.8 263.8 149.6 265.1 150.6 266.4 150.6 267.7 149.9 269 150.1 270.3 150.6 271.6 149.9 272.9 149.5 274.2 149.4 275.5 149.5 276.8 149.9 278.1 149.6 279.4 150.3 280.7 149.9 282 149.5 283.3 149.3 284.6 149 285.9 149.4 287.2 148.8 288.5 149.9 289.8 149.6 291.1 148.9 292.4 148.9 293.7 149.2 295 149.1 296.3 147.8 297.6 149.2 298.9 149.9 300.2 149.7 301.5 150.3 302.8 150.1 304.1 149.3 305.4 149.7 306.7 148.9 308 149.4 309.4 150 310.7 149.2 312 149.6 313.3 149.6 314.6 150.3 315.9 149.2 317.2 150.3 318.5 150.3 319.8 150.4 321.1 150.5 322.4 149.6 323.7 149.2 325 149 326.3 148.4 327.6 148.7 328.9 149.1 330.2 148.7 331.5 149.7 332.8 148.9 334.1 149.1 335.4 149.7 336.7 149.4 338 149.5 339.3 149.7 340.6 149.2 341.9 148.7 343.2 147.9 344.5 148.9 345.8 149.5 347.1 150.1 348.4 150.1 349.7 149.1 351 149.1 352.3 149.5 353.6 149.2 355 149.2 356.3 149.7 357.6 149.3 358.9 149.7 360.2 148.8 361.5 148.4 362.8 149.3 364.1 149.5 365.4 148.8 366.7 148.4 368 148 369.3 148.1 370.6 149 371.9 149.2 373.2 150.5 374.5 149.4 375.8 149.7 377.1 150.5 378.4 149.9 379.7 149.3 381 149.7 382.3 149.7 383.6 150.2 384.9 149.8 386.2 150.6 387.5 150.6 388.8 150.5 390.1 150.6 391.4 150.6 392.7 150.3 394 149.2 395.3 147.7 396.6 145.9 397.9 146.8 399.2 143.9 400.6 142.8 401.9 141.4 403.2 141.9 404.5 143.3 405.8 140.6 407.1 139.6 408.4 139.5 409.7 137.5 411 139.3 412.3 140.6 413.6 140.6 414.9 138.1 416.2 138.4 417.5 140.7 418.8 141.8 420.1 139.2 421.4 139.9 422.7 139.1 424 139.6 425.3 138.7 426.6 139.7 427.9 140.6 429.2 140.5 430.5 141.8 431.8 142.8 433.1 142.6 434.4 140.6 435.7 141.2 437 140.8 438.3 139.3 439.6 140.1 440.9 137.7 442.2 139.9 443.5 137.5 444.9 138.3 446.2 139.9 447.5 139.4 448.8 139.3 450.1 140.2 451.4 139.3 452.7 140.5 454 138.7 455.3 144 456.6 147.8 457.9 146.1 459.2 146.5 460.5 145.8 461.8 146.6 463.1 147.2 464.4 146 465.7 144.5 467 145.7 467 150.8" fill="#c3c3c3"/>
<path d="M60.5 150.3H467" stroke="#a9a9a9" stroke-width="1.1"/>
<path d="M60.5 139.4 61.8 141.2 63.1 140.9 64.4 140.7 65.7 141.4 67 139.3 68.3 139.4 69.6 139.2 70.9 139.8 72.2 138.2 73.5 140.6 74.8 138.8 76.1 139.4 77.4 138.2 78.7 141.1 80 138.8 81.3 139.6 82.6 139.8 84 141.3 85.3 142.5 86.6 139.8 87.9 139.3 89.2 138.6 90.5 141 91.8 141.5 93.1 140.2 94.4 139.5 95.7 139.5 97 139.4 98.3 140.9 99.6 139 100.9 138.7 102.2 139.5 103.5 142.4 104.8 139.6 106.1 140 107.4 141.9 108.7 141.7 110 139 111.3 139.4 112.6 138.7 113.9 138.6 115.2 139 116.5 140.4 117.8 139.4 119.1 139.4 120.4 141.5 121.7 141.7 123 141.6 124.3 143.3 125.6 143.1 126.9 142.1 128.2 140.5 129.6 141.3 130.9 144.4 132.2 143.2 133.5 143.3 134.8 142.9 136.1 143.3 137.4 141.8 138.7 143.2 140 142.5 141.3 142.3 142.6 140.9 143.9 143 145.2 143.7 146.5 143.1 147.8 143.1 149.1 143.6 150.4 142 151.7 140 153 141.8 154.3 143.9 155.6 142.6 156.9 143.2 158.2 143.9 159.5 144.6 160.8 145.8 162.1 147 163.4 146.3 164.7 145.4 166 145.7 167.3 146.5 168.6 145.6 169.9 144.7 171.2 147.1 172.5 146.7 173.9 147.7 175.2 147.9 176.5 147.7 177.8 148.3 179.1 147.6 180.4 146.2 181.7 146.6 183 147.8 184.3 147.4 185.6 147.1 186.9 147.4 188.2 147.1 189.5 148.6 190.8 147.7 192.1 147.2 193.4 147.2 194.7 147.6 196 147.3 197.3 148.8 198.6 147.2 199.9 147.2 201.2 146.9 202.5 148.7 203.8 147.6 205.1 150.2 206.4 149.6 207.7 147.2 209 148.5 210.3 147.8 211.6 148 212.9 146.3 214.2 145.9 215.5 146.8 216.8 147.2 218.1 148.6 219.5 149.2 220.8 148.2 222.1 147.3 223.4 148.5 224.7 147.8 226 148.2 227.3 147.9 228.6 148.3 229.9 149 231.2 147.4 232.5 149.4 233.8 147.8 235.1 147.9 236.4 148.2 237.7 149 239 149.3 240.3 149.1 241.6 148.5 242.9 148.9 244.2 149.1 245.5 149.4 246.8 148.9 248.1 149.5 249.4 149.2 250.7 149.5 252 150.6 253.3 149.7 254.6 150.6 255.9 149.4 257.2 148.7 258.5 147.8 259.8 150 261.1 150 262.4 149.8 263.8 149.6 265.1 150.6 266.4 150.6 267.7 149.9 269 150.1 270.3 150.6 271.6 149.9 272.9 149.5 274.2 149.4 275.5 149.5 276.8 149.9 278.1 149.6 279.4 150.3 280.7 149.9 282 149.5 283.3 149.3 284.6 149 285.9 149.4 287.2 148.8 288.5 149.9 289.8 149.6 291.1 148.9 292.4 148.9 293.7 149.2 295 149.1 296.3 147.8 297.6 149.2 298.9 149.9 300.2 149.7 301.5 150.3 302.8 150.1 304.1 149.3 305.4 149.7 306.7 148.9 308 149.4 309.4 150 310.7 149.2 312 149.6 313.3 149.6 314.6 150.3 315.9 149.2 317.2 150.3 318.5 150.3 319.8 150.4 321.1 150.5 322.4 149.6 323.7 149.2 325 149 326.3 148.4 327.6 148.7 328.9 149.1 330.2 148.7 331.5 149.7 332.8 148.9 334.1 149.1 335.4 149.7 336.7 149.4 338 149.5 339.3 149.7 340.6 149.2 341.9 148.7 343.2 147.9 344.5 148.9 345.8 149.5 347.1 150.1 348.4 150.1 349.7 149.1 351 149.1 352.3 149.5 353.6 149.2 355 149.2 356.3 149.7 357.6 149.3 358.9 149.7 360.2 148.8 361.5 148.4 362.8 149.3 364.1 149.5 365.4 148.8 366.7 148.4 368 148 369.3 148.1 370.6 149 371.9 149.2 373.2 150.5 374.5 149.4 375.8 149.7 377.1 150.5 378.4 149.9 379.7 149.3 381 149.7 382.3 149.7 383.6 150.2 384.9 149.8 386.2 150.6 387.5 150.6 388.8 150.5 390.1 150.6 391.4 150.6 392.7 150.3 394 149.2 395.3 147.7 396.6 145.9 397.9 146.8 399.2 143.9 400.6 142.8 401.9 141.4 403.2 141.9 404.5 143.3 405.8 140.6 407.1 139.6 408.4 139.5 409.7 137.5 411 139.3 412.3 140.6 413.6 140.6 414.9 138.1 416.2 138.4 417.5 140.7 418.8 141.8 420.1 139.2 421.4 139.9 422.7 139.1 424 139.6 425.3 138.7 426.6 139.7 427.9 140.6 429.2 140.5 430.5 141.8 431.8 142.8 433.1 142.6 434.4 140.6 435.7 141.2 437 140.8 438.3 139.3 439.6 140.1 440.9 137.7 442.2 139.9 443.5 137.5 444.9 138.3 446.2 139.9 447.5 139.4 448.8 139.3 450.1 140.2 451.4 139.3 452.7 140.5 454 138.7 455.3 144 456.6 147.8 457.9 146.1 459.2 146.5 460.5 145.8 461.8 146.6 463.1 147.2 464.4 146 465.7 144.5 467 145.7" fill="none" stroke="#303030" stroke-opacity="1" stroke-width="1.25" stroke-linejoin="round"/>
<path d="M256 137h13v14h-13zM272 137h12v14h-12zM291 137h2v14h-2zM301 137h1v14h-1zM315 137h8v14h-8zM324 137h21v14h-21zM347 137h8v14h-8zM365 137h15v14h-15z" fill="#dbac3e" shape-rendering="crispEdges"/>
<path d="M269 137h3v14h-3zM284 137h7v14h-7zM293 137h8v14h-8zM302 137h13v14h-13z" fill="#dd3029" shape-rendering="crispEdges"/>
<path d="M59.6 165.1L59.6 161.6 60.9 162.9 62.2 161.9 63.5 160.6 64.8 157.8 66.1 154.6 67.4 154.8 68.7 155.9 70 156.3 71.3 155.6 72.6 155.9 73.9 154.2 75.2 154.1 76.5 152.9 77.8 156.3 79.1 155.6 80.5 156.9 81.8 155.4 83.1 154.5 84.4 154.3 85.7 155.6 87 157 88.3 158 89.6 154 90.9 153.6 92.2 154.8 93.5 153.5 94.8 156.4 96.1 154.5 97.4 156 98.7 158.3 100 156.9 101.3 158.1 102.6 155.7 103.9 156.3 105.2 156.8 106.5 155.7 107.8 154.6 109.1 154.1 110.4 154.2 111.7 152.6 113 151.8 114.3 151.8 115.6 153.3 116.9 152.5 118.2 151.8 119.6 154.7 120.9 156.6 122.2 155.4 123.5 155.3 124.8 155.5 126.1 156.2 127.4 156.3 128.7 156.4 130 157 131.3 156.2 132.6 154.2 133.9 153.9 135.2 152.8 136.5 152.6 137.8 153.8 139.1 155.4 140.4 154.7 141.7 156.1 143 153.4 144.3 154.5 145.6 154.1 146.9 156.3 148.2 155.1 149.5 156.4 150.8 154.9 152.1 155.5 153.4 155.4 154.7 156.8 156 155.6 157.3 154.9 158.7 155.7 160 154.5 161.3 154.1 162.6 154 163.9 156 165.2 156.4 166.5 154.3 167.8 153.9 169.1 153.9 170.4 153.2 171.7 154.7 173 154.9 174.3 156.2 175.6 153.5 176.9 154.2 178.2 155.1 179.5 156.6 180.8 157.6 182.1 158.9 183.4 160.9 184.7 160.9 186 163.5 187.3 160.8 188.6 162.5 189.9 162.8 191.2 160.3 192.5 161 193.8 162.5 195.1 161.8 196.4 162 197.7 161.4 199.1 161.5 200.4 160.1 201.7 159.5 203 160.6 204.3 160.1 205.6 161.1 206.9 161.6 208.2 160.6 209.5 161.1 210.8 161.5 212.1 160.7 213.4 160.9 214.7 160.6 216 161.5 217.3 162.4 218.6 161.8 219.9 160.1 221.2 160.4 222.5 160.8 223.8 161.1 225.1 160.6 226.4 161.8 227.7 162.2 229 162.5 230.3 163.5 231.6 163.9 232.9 163.3 234.2 163.5 235.5 163.8 236.8 162.3 238.2 162.5 239.5 163 240.8 163.7 242.1 164.2 243.4 164 244.7 164.9 246 164.5 247.3 163.8 248.6 163.7 249.9 164.1 251.2 163.7 252.5 164.7 253.8 164.4 255.1 164.8 256.4 163.7 257.7 164.3 259 164.6 260.3 164.9 261.6 163.1 262.9 164.4 264.2 164.3 265.5 164.1 266.8 164.5 268.1 163.7 269.4 163 270.7 164.5 272 164.7 273.3 164.5 274.6 164.9 275.9 164.9 277.2 164.9 278.6 164.9 279.9 164.9 281.2 163.8 282.5 164 283.8 163.5 285.1 163.3 286.4 163.3 287.7 162.9 289 163.5 290.3 164.4 291.6 163.4 292.9 163.9 294.2 163.9 295.5 163.3 296.8 163.8 298.1 164.6 299.4 164.9 300.7 164 302 164.4 303.3 164.9 304.6 164.6 305.9 164.3 307.2 164.2 308.5 164.9 309.8 163.8 311.1 163.2 312.4 164.4 313.7 163.7 315 164.3 316.3 164 317.7 163.7 319 164.3 320.3 164.7 321.6 164.9 322.9 164.6 324.2 164.7 325.5 164.8 326.8 164.7 328.1 164.4 329.4 164.4 330.7 164.9 332 164.5 333.3 164.7 334.6 164.5 335.9 164.4 337.2 164.3 338.5 164.6 339.8 164.2 341.1 163.4 342.4 164 343.7 164.2 345 164.5 346.3 163.2 347.6 163.3 348.9 163 350.2 164.9 351.5 164.9 352.8 164.4 354.1 164.9 355.4 164.7 356.8 163.2 358.1 163.2 359.4 162.7 360.7 163 362 164.2 363.3 164.7 364.6 163.8 365.9 164.5 367.2 164.1 368.5 164.3 369.8 164.9 371.1 164.9 372.4 164.8 373.7 163.8 375 163.3 376.3 164.1 377.6 164.6 378.9 164.2 380.2 164 381.5 164 382.8 164 384.1 163.2 385.4 163.7 386.7 163.5 388 163.6 389.3 163.6 390.6 162.8 391.9 162.7 393.2 162.8 394.5 162.3 395.8 162.1 397.2 160.4 398.5 159 399.8 158.5 401.1 158.2 402.4 156.6 403.7 155.5 405 158.5 406.3 157.2 407.6 155.8 408.9 156.6 410.2 155.3 411.5 156.5 412.8 154.6 414.1 152.8 415.4 153.6 416.7 155.4 418 155.8 419.3 154.1 420.6 158 421.9 156.1 423.2 157.3 424.5 156.2 425.8 154.9 427.1 154.6 428.4 153.5 429.7 153.6 431 153.4 432.3 153 433.6 155.5 434.9 155.6 436.3 157.5 437.6 156.2 438.9 154.5 440.2 154.1 441.5 157 442.8 154.9 444.1 156.5 445.4 158 446.7 159 448 160.8 449.3 164.2 450.6 163.4 451.9 163 453.2 163.2 454.5 162.8 455.8 162.8 455.8 165.1" fill="#c3c3c3"/>
<path d="M59.6 164.6H455.8" stroke="#a9a9a9" stroke-width="1.1"/>
<path d="M59.6 161.6 60.9 162.9 62.2 161.9 63.5 160.6 64.8 157.8 66.1 154.6 67.4 154.8 68.7 155.9 70 156.3 71.3 155.6 72.6 155.9 73.9 154.2 75.2 154.1 76.5 152.9 77.8 156.3 79.1 155.6 80.5 156.9 81.8 155.4 83.1 154.5 84.4 154.3 85.7 155.6 87 157 88.3 158 89.6 154 90.9 153.6 92.2 154.8 93.5 153.5 94.8 156.4 96.1 154.5 97.4 156 98.7 158.3 100 156.9 101.3 158.1 102.6 155.7 103.9 156.3 105.2 156.8 106.5 155.7 107.8 154.6 109.1 154.1 110.4 154.2 111.7 152.6 113 151.8 114.3 151.8 115.6 153.3 116.9 152.5 118.2 151.8 119.6 154.7 120.9 156.6 122.2 155.4 123.5 155.3 124.8 155.5 126.1 156.2 127.4 156.3 128.7 156.4 130 157 131.3 156.2 132.6 154.2 133.9 153.9 135.2 152.8 136.5 152.6 137.8 153.8 139.1 155.4 140.4 154.7 141.7 156.1 143 153.4 144.3 154.5 145.6 154.1 146.9 156.3 148.2 155.1 149.5 156.4 150.8 154.9 152.1 155.5 153.4 155.4 154.7 156.8 156 155.6 157.3 154.9 158.7 155.7 160 154.5 161.3 154.1 162.6 154 163.9 156 165.2 156.4 166.5 154.3 167.8 153.9 169.1 153.9 170.4 153.2 171.7 154.7 173 154.9 174.3 156.2 175.6 153.5 176.9 154.2 178.2 155.1 179.5 156.6 180.8 157.6 182.1 158.9 183.4 160.9 184.7 160.9 186 163.5 187.3 160.8 188.6 162.5 189.9 162.8 191.2 160.3 192.5 161 193.8 162.5 195.1 161.8 196.4 162 197.7 161.4 199.1 161.5 200.4 160.1 201.7 159.5 203 160.6 204.3 160.1 205.6 161.1 206.9 161.6 208.2 160.6 209.5 161.1 210.8 161.5 212.1 160.7 213.4 160.9 214.7 160.6 216 161.5 217.3 162.4 218.6 161.8 219.9 160.1 221.2 160.4 222.5 160.8 223.8 161.1 225.1 160.6 226.4 161.8 227.7 162.2 229 162.5 230.3 163.5 231.6 163.9 232.9 163.3 234.2 163.5 235.5 163.8 236.8 162.3 238.2 162.5 239.5 163 240.8 163.7 242.1 164.2 243.4 164 244.7 164.9 246 164.5 247.3 163.8 248.6 163.7 249.9 164.1 251.2 163.7 252.5 164.7 253.8 164.4 255.1 164.8 256.4 163.7 257.7 164.3 259 164.6 260.3 164.9 261.6 163.1 262.9 164.4 264.2 164.3 265.5 164.1 266.8 164.5 268.1 163.7 269.4 163 270.7 164.5 272 164.7 273.3 164.5 274.6 164.9 275.9 164.9 277.2 164.9 278.6 164.9 279.9 164.9 281.2 163.8 282.5 164 283.8 163.5 285.1 163.3 286.4 163.3 287.7 162.9 289 163.5 290.3 164.4 291.6 163.4 292.9 163.9 294.2 163.9 295.5 163.3 296.8 163.8 298.1 164.6 299.4 164.9 300.7 164 302 164.4 303.3 164.9 304.6 164.6 305.9 164.3 307.2 164.2 308.5 164.9 309.8 163.8 311.1 163.2 312.4 164.4 313.7 163.7 315 164.3 316.3 164 317.7 163.7 319 164.3 320.3 164.7 321.6 164.9 322.9 164.6 324.2 164.7 325.5 164.8 326.8 164.7 328.1 164.4 329.4 164.4 330.7 164.9 332 164.5 333.3 164.7 334.6 164.5 335.9 164.4 337.2 164.3 338.5 164.6 339.8 164.2 341.1 163.4 342.4 164 343.7 164.2 345 164.5 346.3 163.2 347.6 163.3 348.9 163 350.2 164.9 351.5 164.9 352.8 164.4 354.1 164.9 355.4 164.7 356.8 163.2 358.1 163.2 359.4 162.7 360.7 163 362 164.2 363.3 164.7 364.6 163.8 365.9 164.5 367.2 164.1 368.5 164.3 369.8 164.9 371.1 164.9 372.4 164.8 373.7 163.8 375 163.3 376.3 164.1 377.6 164.6 378.9 164.2 380.2 164 381.5 164 382.8 164 384.1 163.2 385.4 163.7 386.7 163.5 388 163.6 389.3 163.6 390.6 162.8 391.9 162.7 393.2 162.8 394.5 162.3 395.8 162.1 397.2 160.4 398.5 159 399.8 158.5 401.1 158.2 402.4 156.6 403.7 155.5 405 158.5 406.3 157.2 407.6 155.8 408.9 156.6 410.2 155.3 411.5 156.5 412.8 154.6 414.1 152.8 415.4 153.6 416.7 155.4 418 155.8 419.3 154.1 420.6 158 421.9 156.1 423.2 157.3 424.5 156.2 425.8 154.9 427.1 154.6 428.4 153.5 429.7 153.6 431 153.4 432.3 153 433.6 155.5 434.9 155.6 436.3 157.5 437.6 156.2 438.9 154.5 440.2 154.1 441.5 157 442.8 154.9 444.1 156.5 445.4 158 446.7 159 448 160.8 449.3 164.2 450.6 163.4 451.9 163 453.2 163.2 454.5 162.8 455.8 162.8" fill="none" stroke="#303030" stroke-opacity="1" stroke-width="1.25" stroke-linejoin="round"/>
<path d="M246 151h23v14h-23zM302 151h25v14h-25zM328 151h27v14h-27zM360 151h19v14h-19zM59 151h3v14h-3z" fill="#dbac3e" shape-rendering="crispEdges"/>
<path d="M269 151h33v14h-33zM355 151h5v14h-5z" fill="#dd3029" shape-rendering="crispEdges"/>
<path d="M58.5 179.4L58.5 178.3 59.8 174.9 61.1 170.9 62.4 167.6 63.7 167.5 65 169.6 66.3 168.5 67.6 169.6 68.9 167.8 70.2 170.2 71.5 169.3 72.8 172.3 74.1 172.5 75.4 172.7 76.8 170.9 78.1 169.9 79.4 170.3 80.7 168.6 82 168.4 83.3 166.1 84.6 166.8 85.9 170 87.2 169.1 88.5 167.8 89.8 168.3 91.1 169 92.4 169.6 93.7 169.1 95 172.6 96.3 171.1 97.6 171.1 98.9 172.4 100.2 171.1 101.5 173.2 102.8 171.6 104.1 171.2 105.4 169.9 106.7 168.8 108 169.6 109.3 170.7 110.6 171.1 112 170.7 113.3 170.9 114.6 169.9 115.9 169.7 117.2 170.7 118.5 170 119.8 170.2 121.1 171.1 122.4 169.5 123.7 171.4 125 170.1 126.3 169.4 127.6 172.5 128.9 174 130.2 172.8 131.5 170.5 132.8 169.5 134.1 167.4 135.4 168.1 136.7 168.6 138 170.4 139.3 171.6 140.6 170.6 141.9 169.1 143.2 168.5 144.5 169.7 145.8 169 147.1 169 148.5 171.1 149.8 169.4 151.1 168.7 152.4 170 153.7 169.9 155 169.3 156.3 171.5 157.6 171.3 158.9 170.7 160.2 171.1 161.5 172 162.8 169.7 164.1 169.8 165.4 171.8 166.7 172.3 168 170.9 169.3 172.8 170.6 173.9 171.9 176.1 173.2 176.3 174.5 176.7 175.8 175.1 177.1 175.1 178.4 174.8 179.7 174.9 181 175.7 182.3 174.8 183.7 175.3 185 176 186.3 176.5 187.6 176 188.9 175.7 190.2 176.3 191.5 176.1 192.8 175.6 194.1 176 195.4 176.8 196.7 177.1 198 176.5 199.3 175.6 200.6 174.8 201.9 174.7 203.2 174.8 204.5 175.8 205.8 176.4 207.1 175.3 208.4 175.8 209.7 176.4 211 175.5 212.3 177 213.6 177.2 214.9 176.7 216.2 176.3 217.5 176.8 218.9 177.4 220.2 177.3 221.5 176.7 222.8 176.1 224.1 176.5 225.4 176.3 226.7 175.3 228 176.5 229.3 177.2 230.6 177.1 231.9 177.7 233.2 175.9 234.5 175.5 235.8 177.4 237.1 176.9 238.4 176.1 239.7 176.8 241 177.9 242.3 176.7 243.6 176 244.9 176.1 246.2 177.4 247.5 177.7 248.8 178.3 250.1 179.1 251.4 179.1 252.7 179.1 254.1 179.1 255.4 179.1 256.7 179.1 258 179.1 259.3 179.1 260.6 178.7 261.9 178.2 263.2 179.1 264.5 178.4 265.8 178 267.1 178.9 268.4 178.9 269.7 179 271 178.4 272.3 178.6 273.6 178.8 274.9 178.5 276.2 178.9 277.5 178.4 278.8 177.6 280.1 178.2 281.4 178.5 282.7 178.1 284 179.1 285.3 178.4 286.6 179 287.9 178.9 289.2 179.1 290.6 178.5 291.9 178 293.2 178.5 294.5 178.3 295.8 178.5 297.1 178.2 298.4 178.6 299.7 179.1 301 179.1 302.3 178.4 303.6 178.3 304.9 178 306.2 177.7 307.5 178.7 308.8 179.1 310.1 179.1 311.4 179.1 312.7 178.3 314 178.5 315.3 179 316.6 178.8 317.9 178.7 319.2 179.1 320.5 178.7 321.8 179.1 323.1 178.6 324.4 178.5 325.8 178.7 327.1 178.5 328.4 178.7 329.7 179.1 331 178.6 332.3 178.9 333.6 178.6 334.9 178.7 336.2 178.7 337.5 178.1 338.8 178.1 340.1 178.1 341.4 177.6 342.7 178 344 177.9 345.3 178 346.6 179.1 347.9 179.1 349.2 179.1 350.5 179.1 351.8 179 353.1 178.8 354.4 178.7 355.7 179.1 357 178.3 358.3 178 359.6 178.7 361 179.1 362.3 178.4 363.6 178.4 364.9 178.6 366.2 178.4 367.5 178.2 368.8 177.6 370.1 178.4 371.4 178.2 372.7 179.1 374 178.8 375.3 179.1 376.6 178.4 377.9 179.1 379.2 179.1 380.5 179 381.8 179.1 383.1 178.8 384.4 177.4 385.7 175.7 387 177.5 388.3 177.9 389.6 177.2 390.9 177.2 392.2 176.6 393.5 176.9 394.8 177.9 396.1 177.8 397.5 177.7 398.8 174.5 400.1 175.9 401.4 176.3 402.7 177.7 404 177.7 405.3 176.5 406.6 177.5 407.9 177.5 409.2 176 410.5 176.3 411.8 175.8 413.1 176 414.4 173.9 415.7 175.7 417 174.6 418.3 173.6 419.6 172.8 420.9 174.2 422.2 172.6 423.5 173.2 424.8 174.2 426.1 174.5 427.4 175.5 428.7 175.9 430 174.4 431.3 174.1 432.7 173.9 434 171.4 435.3 173.1 436.6 173.2 437.9 173.1 439.2 173.8 440.5 174.3 441.8 171.8 443.1 172 444.4 173.1 445.7 172.1 447 174.7 448.3 175.8 449.6 175.8 449.6 179.4" fill="#c3c3c3"/>
<path d="M58.5 178.8H449.6" stroke="#a9a9a9" stroke-width="1.1"/>
<path d="M58.5 178.3 59.8 174.9 61.1 170.9 62.4 167.6 63.7 167.5 65 169.6 66.3 168.5 67.6 169.6 68.9 167.8 70.2 170.2 71.5 169.3 72.8 172.3 74.1 172.5 75.4 172.7 76.8 170.9 78.1 169.9 79.4 170.3 80.7 168.6 82 168.4 83.3 166.1 84.6 166.8 85.9 170 87.2 169.1 88.5 167.8 89.8 168.3 91.1 169 92.4 169.6 93.7 169.1 95 172.6 96.3 171.1 97.6 171.1 98.9 172.4 100.2 171.1 101.5 173.2 102.8 171.6 104.1 171.2 105.4 169.9 106.7 168.8 108 169.6 109.3 170.7 110.6 171.1 112 170.7 113.3 170.9 114.6 169.9 115.9 169.7 117.2 170.7 118.5 170 119.8 170.2 121.1 171.1 122.4 169.5 123.7 171.4 125 170.1 126.3 169.4 127.6 172.5 128.9 174 130.2 172.8 131.5 170.5 132.8 169.5 134.1 167.4 135.4 168.1 136.7 168.6 138 170.4 139.3 171.6 140.6 170.6 141.9 169.1 143.2 168.5 144.5 169.7 145.8 169 147.1 169 148.5 171.1 149.8 169.4 151.1 168.7 152.4 170 153.7 169.9 155 169.3 156.3 171.5 157.6 171.3 158.9 170.7 160.2 171.1 161.5 172 162.8 169.7 164.1 169.8 165.4 171.8 166.7 172.3 168 170.9 169.3 172.8 170.6 173.9 171.9 176.1 173.2 176.3 174.5 176.7 175.8 175.1 177.1 175.1 178.4 174.8 179.7 174.9 181 175.7 182.3 174.8 183.7 175.3 185 176 186.3 176.5 187.6 176 188.9 175.7 190.2 176.3 191.5 176.1 192.8 175.6 194.1 176 195.4 176.8 196.7 177.1 198 176.5 199.3 175.6 200.6 174.8 201.9 174.7 203.2 174.8 204.5 175.8 205.8 176.4 207.1 175.3 208.4 175.8 209.7 176.4 211 175.5 212.3 177 213.6 177.2 214.9 176.7 216.2 176.3 217.5 176.8 218.9 177.4 220.2 177.3 221.5 176.7 222.8 176.1 224.1 176.5 225.4 176.3 226.7 175.3 228 176.5 229.3 177.2 230.6 177.1 231.9 177.7 233.2 175.9 234.5 175.5 235.8 177.4 237.1 176.9 238.4 176.1 239.7 176.8 241 177.9 242.3 176.7 243.6 176 244.9 176.1 246.2 177.4 247.5 177.7 248.8 178.3 250.1 179.1 251.4 179.1 252.7 179.1 254.1 179.1 255.4 179.1 256.7 179.1 258 179.1 259.3 179.1 260.6 178.7 261.9 178.2 263.2 179.1 264.5 178.4 265.8 178 267.1 178.9 268.4 178.9 269.7 179 271 178.4 272.3 178.6 273.6 178.8 274.9 178.5 276.2 178.9 277.5 178.4 278.8 177.6 280.1 178.2 281.4 178.5 282.7 178.1 284 179.1 285.3 178.4 286.6 179 287.9 178.9 289.2 179.1 290.6 178.5 291.9 178 293.2 178.5 294.5 178.3 295.8 178.5 297.1 178.2 298.4 178.6 299.7 179.1 301 179.1 302.3 178.4 303.6 178.3 304.9 178 306.2 177.7 307.5 178.7 308.8 179.1 310.1 179.1 311.4 179.1 312.7 178.3 314 178.5 315.3 179 316.6 178.8 317.9 178.7 319.2 179.1 320.5 178.7 321.8 179.1 323.1 178.6 324.4 178.5 325.8 178.7 327.1 178.5 328.4 178.7 329.7 179.1 331 178.6 332.3 178.9 333.6 178.6 334.9 178.7 336.2 178.7 337.5 178.1 338.8 178.1 340.1 178.1 341.4 177.6 342.7 178 344 177.9 345.3 178 346.6 179.1 347.9 179.1 349.2 179.1 350.5 179.1 351.8 179 353.1 178.8 354.4 178.7 355.7 179.1 357 178.3 358.3 178 359.6 178.7 361 179.1 362.3 178.4 363.6 178.4 364.9 178.6 366.2 178.4 367.5 178.2 368.8 177.6 370.1 178.4 371.4 178.2 372.7 179.1 374 178.8 375.3 179.1 376.6 178.4 377.9 179.1 379.2 179.1 380.5 179 381.8 179.1 383.1 178.8 384.4 177.4 385.7 175.7 387 177.5 388.3 177.9 389.6 177.2 390.9 177.2 392.2 176.6 393.5 176.9 394.8 177.9 396.1 177.8 397.5 177.7 398.8 174.5 400.1 175.9 401.4 176.3 402.7 177.7 404 177.7 405.3 176.5 406.6 177.5 407.9 177.5 409.2 176 410.5 176.3 411.8 175.8 413.1 176 414.4 173.9 415.7 175.7 417 174.6 418.3 173.6 419.6 172.8 420.9 174.2 422.2 172.6 423.5 173.2 424.8 174.2 426.1 174.5 427.4 175.5 428.7 175.9 430 174.4 431.3 174.1 432.7 173.9 434 171.4 435.3 173.1 436.6 173.2 437.9 173.1 439.2 173.8 440.5 174.3 441.8 171.8 443.1 172 444.4 173.1 445.7 172.1 447 174.7 448.3 175.8 449.6 175.8" fill="none" stroke="#303030" stroke-opacity="1" stroke-width="1.25" stroke-linejoin="round"/>
<path d="M245 165h21v14h-21zM267 165h2v14h-2zM300 165h42v14h-42zM345 165h4v14h-4zM351 165h6v14h-6zM367 165h17v14h-17zM59 165h2v14h-2z" fill="#dbac3e" shape-rendering="crispEdges"/>
<path d="M266 165h1v14h-1zM269 165h8v14h-8zM282 165h18v14h-18zM342 165h3v14h-3zM349 165h2v14h-2zM357 165h10v14h-10z" fill="#dd3029" shape-rendering="crispEdges"/>
<path d="M277 165h5v14h-5z" fill="#a718ff" shape-rendering="crispEdges"/>
<path d="M59.6 193.7L59.6 181.7 60.9 187.2 62.2 191.1 63.5 188.4 64.8 185.5 66.1 183.7 67.4 182.2 68.7 184 70 186.4 71.3 187.4 72.6 186.2 73.9 184.2 75.2 186.5 76.6 187.7 77.9 187.7 79.2 188.6 80.5 189.8 81.8 189.5 83.1 191.9 84.4 192.2 85.7 192 87 191.7 88.3 189 89.6 188.2 90.9 188.6 92.2 185.9 93.5 185 94.8 184.8 96.1 182.8 97.4 184.7 98.7 182.1 100 181.8 101.3 182.1 102.6 185 103.9 184.5 105.2 184.4 106.5 186.1 107.8 184.2 109.1 184 110.5 183.7 111.8 183.6 113.1 182.9 114.4 182.7 115.7 182.2 117 181 118.3 180.7 119.6 182.7 120.9 180.4 122.2 180.5 123.5 182.8 124.8 182.5 126.1 180.8 127.4 183.1 128.7 181.7 130 182.4 131.3 184.2 132.6 184.4 133.9 185.2 135.2 184.4 136.5 184.1 137.8 183 139.1 185.3 140.4 183.5 141.7 183.3 143.1 183.4 144.4 182.1 145.7 183.4 147 182.3 148.3 181.9 149.6 180.7 150.9 181.7 152.2 182 153.5 185.9 154.8 185.5 156.1 186.4 157.4 183 158.7 184.6 160 185.4 161.3 183.9 162.6 182.9 163.9 183.2 165.2 184 166.5 183.2 167.8 182.9 169.1 181.7 170.4 182.7 171.7 180.5 173 182.7 174.3 181.9 175.6 186.7 177 185.6 178.3 187.2 179.6 188.7 180.9 188.9 182.2 190.3 183.5 191.5 184.8 192 186.1 192.3 187.4 192.1 188.7 191.5 190 191.9 191.3 190.9 192.6 190.7 193.9 191.6 195.2 190.7 196.5 191.5 197.8 192.3 199.1 192 200.4 191.8 201.7 191.3 203 191 204.3 191.7 205.6 191.6 206.9 191.6 208.2 191.3 209.6 192.6 210.9 191.6 212.2 192.2 213.5 191.7 214.8 192.4 216.1 191.6 217.4 193.4 218.7 192.9 220 192 221.3 192 222.6 193.3 223.9 192.4 225.2 192.2 226.5 191.2 227.8 191.3 229.1 192.3 230.4 191.4 231.7 192.3 233 192 234.3 191.8 235.6 191.6 236.9 192.1 238.2 191.2 239.5 192.4 240.8 192.3 242.1 192.7 243.5 192.7 244.8 192.6 246.1 191.6 247.4 192 248.7 191 250 191.1 251.3 192.2 252.6 192.7 253.9 192.7 255.2 192.6 256.5 192.6 257.8 192.6 259.1 192.7 260.4 191.9 261.7 192.1 263 192.5 264.3 191.7 265.6 192.1 266.9 193.3 268.2 192 269.5 191.7 270.8 192.8 272.1 192.4 273.4 190.4 274.7 191.2 276 192.8 277.4 192.8 278.7 192.7 280 193.4 281.3 192.6 282.6 193.3 283.9 193.2 285.2 192.6 286.5 191.6 287.8 189.6 289.1 190.7 290.4 191 291.7 191.2 293 192.9 294.3 192.2 295.6 193.4 296.9 192 298.2 192.7 299.5 191.5 300.8 191.8 302.1 191.3 303.4 191.5 304.7 190.2 306 191.1 307.3 192.6 308.6 191.7 310 191.8 311.3 192.4 312.6 192.2 313.9 193.4 315.2 192.7 316.5 193.2 317.8 191.9 319.1 191.8 320.4 191.2 321.7 192.3 323 192.2 324.3 191.8 325.6 192.1 326.9 192.2 328.2 192.1 329.5 191.5 330.8 191.5 332.1 192.1 333.4 192.3 334.7 191.3 336 191.7 337.3 192.7 338.6 193.4 339.9 192.8 341.2 192.3 342.5 192.5 343.9 191.8 345.2 193 346.5 193.2 347.8 191.7 349.1 192.9 350.4 193.4 351.7 191.7 353 192.1 354.3 192.6 355.6 192.7 356.9 192.1 358.2 192.9 359.5 192.1 360.8 192.3 362.1 192.1 363.4 192.1 364.7 191.8 366 192 367.3 192.3 368.6 191.6 369.9 191 371.2 190 372.5 189.5 373.8 189.7 375.1 188.7 376.5 188.4 377.8 189.4 379.1 189.1 380.4 187.6 381.7 188.2 383 187.6 384.3 188.6 385.6 188.1 386.9 187.7 388.2 189.2 389.5 189.4 390.8 189.4 392.1 190.5 393.4 191.1 394.7 189.2 396 190.2 397.3 192 398.6 191.3 399.9 190.4 401.2 192 402.5 191.5 403.8 191.6 405.1 192 406.4 191.8 407.7 191.6 409 192.5 410.4 190.8 411.7 191.8 413 192.1 414.3 192.7 415.6 191.7 416.9 190.4 418.2 190.7 419.5 191.5 420.8 190.9 422.1 191 423.4 190.7 424.7 189.7 426 190.6 426 193.7" fill="#c3c3c3"/>
<path d="M59.6 193.1H426" stroke="#a9a9a9" stroke-width="1.1"/>
<path d="M59.6 181.7 60.9 187.2 62.2 191.1 63.5 188.4 64.8 185.5 66.1 183.7 67.4 182.2 68.7 184 70 186.4 71.3 187.4 72.6 186.2 73.9 184.2 75.2 186.5 76.6 187.7 77.9 187.7 79.2 188.6 80.5 189.8 81.8 189.5 83.1 191.9 84.4 192.2 85.7 192 87 191.7 88.3 189 89.6 188.2 90.9 188.6 92.2 185.9 93.5 185 94.8 184.8 96.1 182.8 97.4 184.7 98.7 182.1 100 181.8 101.3 182.1 102.6 185 103.9 184.5 105.2 184.4 106.5 186.1 107.8 184.2 109.1 184 110.5 183.7 111.8 183.6 113.1 182.9 114.4 182.7 115.7 182.2 117 181 118.3 180.7 119.6 182.7 120.9 180.4 122.2 180.5 123.5 182.8 124.8 182.5 126.1 180.8 127.4 183.1 128.7 181.7 130 182.4 131.3 184.2 132.6 184.4 133.9 185.2 135.2 184.4 136.5 184.1 137.8 183 139.1 185.3 140.4 183.5 141.7 183.3 143.1 183.4 144.4 182.1 145.7 183.4 147 182.3 148.3 181.9 149.6 180.7 150.9 181.7 152.2 182 153.5 185.9 154.8 185.5 156.1 186.4 157.4 183 158.7 184.6 160 185.4 161.3 183.9 162.6 182.9 163.9 183.2 165.2 184 166.5 183.2 167.8 182.9 169.1 181.7 170.4 182.7 171.7 180.5 173 182.7 174.3 181.9 175.6 186.7 177 185.6 178.3 187.2 179.6 188.7 180.9 188.9 182.2 190.3 183.5 191.5 184.8 192 186.1 192.3 187.4 192.1 188.7 191.5 190 191.9 191.3 190.9 192.6 190.7 193.9 191.6 195.2 190.7 196.5 191.5 197.8 192.3 199.1 192 200.4 191.8 201.7 191.3 203 191 204.3 191.7 205.6 191.6 206.9 191.6 208.2 191.3 209.6 192.6 210.9 191.6 212.2 192.2 213.5 191.7 214.8 192.4 216.1 191.6 217.4 193.4 218.7 192.9 220 192 221.3 192 222.6 193.3 223.9 192.4 225.2 192.2 226.5 191.2 227.8 191.3 229.1 192.3 230.4 191.4 231.7 192.3 233 192 234.3 191.8 235.6 191.6 236.9 192.1 238.2 191.2 239.5 192.4 240.8 192.3 242.1 192.7 243.5 192.7 244.8 192.6 246.1 191.6 247.4 192 248.7 191 250 191.1 251.3 192.2 252.6 192.7 253.9 192.7 255.2 192.6 256.5 192.6 257.8 192.6 259.1 192.7 260.4 191.9 261.7 192.1 263 192.5 264.3 191.7 265.6 192.1 266.9 193.3 268.2 192 269.5 191.7 270.8 192.8 272.1 192.4 273.4 190.4 274.7 191.2 276 192.8 277.4 192.8 278.7 192.7 280 193.4 281.3 192.6 282.6 193.3 283.9 193.2 285.2 192.6 286.5 191.6 287.8 189.6 289.1 190.7 290.4 191 291.7 191.2 293 192.9 294.3 192.2 295.6 193.4 296.9 192 298.2 192.7 299.5 191.5 300.8 191.8 302.1 191.3 303.4 191.5 304.7 190.2 306 191.1 307.3 192.6 308.6 191.7 310 191.8 311.3 192.4 312.6 192.2 313.9 193.4 315.2 192.7 316.5 193.2 317.8 191.9 319.1 191.8 320.4 191.2 321.7 192.3 323 192.2 324.3 191.8 325.6 192.1 326.9 192.2 328.2 192.1 329.5 191.5 330.8 191.5 332.1 192.1 333.4 192.3 334.7 191.3 336 191.7 337.3 192.7 338.6 193.4 339.9 192.8 341.2 192.3 342.5 192.5 343.9 191.8 345.2 193 346.5 193.2 347.8 191.7 349.1 192.9 350.4 193.4 351.7 191.7 353 192.1 354.3 192.6 355.6 192.7 356.9 192.1 358.2 192.9 359.5 192.1 360.8 192.3 362.1 192.1 363.4 192.1 364.7 191.8 366 192 367.3 192.3 368.6 191.6 369.9 191 371.2 190 372.5 189.5 373.8 189.7 375.1 188.7 376.5 188.4 377.8 189.4 379.1 189.1 380.4 187.6 381.7 188.2 383 187.6 384.3 188.6 385.6 188.1 386.9 187.7 388.2 189.2 389.5 189.4 390.8 189.4 392.1 190.5 393.4 191.1 394.7 189.2 396 190.2 397.3 192 398.6 191.3 399.9 190.4 401.2 192 402.5 191.5 403.8 191.6 405.1 192 406.4 191.8 407.7 191.6 409 192.5 410.4 190.8 411.7 191.8 413 192.1 414.3 192.7 415.6 191.7 416.9 190.4 418.2 190.7 419.5 191.5 420.8 190.9 422.1 191 423.4 190.7 424.7 189.7 426 190.6" fill="none" stroke="#303030" stroke-opacity="1" stroke-width="1.25" stroke-linejoin="round"/>
<path d="M248 179h11v15h-11zM300 179h2v15h-2zM306 179h2v15h-2zM315 179h3v15h-3zM319 179h7v15h-7z" fill="#dbac3e" shape-rendering="crispEdges"/>
<path d="M259 179h24v15h-24zM288 179h12v15h-12zM302 179h4v15h-4zM308 179h7v15h-7zM318 179h1v15h-1z" fill="#dd3029" shape-rendering="crispEdges"/>
<path d="M283 179h5v15h-5z" fill="#a718ff" shape-rendering="crispEdges"/>
<path d="M58.8 207.9L58.8 196 60.1 198.9 61.4 206.2 62.7 206.4 64 204.1 65.3 201.3 66.6 198.6 67.9 194.7 69.2 195.9 70.5 197.4 71.8 200.6 73.1 202.4 74.4 202.4 75.7 202.6 77 203.1 78.3 204.5 79.6 204.5 80.9 203 82.2 201.6 83.5 202.5 84.8 203.9 86.1 203.2 87.4 202.2 88.7 203.6 90 203.9 91.3 202.5 92.6 200.5 93.9 199.2 95.2 198.4 96.5 196.8 97.8 196.4 99.1 196.5 100.4 196.4 101.7 194.9 103.1 195.4 104.4 196.1 105.7 196.6 107 197.4 108.3 198.4 109.6 197.3 110.9 196.7 112.2 198.4 113.5 194.7 114.8 198.9 116.1 200.2 117.4 198.8 118.7 196.7 120 199.5 121.3 197.6 122.6 197.7 123.9 198.6 125.2 196.3 126.5 198 127.8 198 129.1 196.8 130.4 196.1 131.7 195.9 133 197.5 134.3 199.1 135.6 196.1 136.9 195.7 138.2 196 139.5 196.1 140.8 195.5 142.1 195.4 143.4 196.8 144.7 197.2 146 196.4 147.3 197 148.6 196.4 149.9 199.7 151.2 196.7 152.5 195.7 153.8 196.9 155.1 196.1 156.4 196.3 157.7 197.6 159 196.6 160.3 196.4 161.6 197.4 162.9 197.9 164.2 196.9 165.5 198.1 166.8 196.4 168.1 194.9 169.4 198.5 170.7 200.9 172 199.8 173.3 199 174.6 197.2 175.9 200.8 177.2 201.3 178.5 202.6 179.8 203.3 181.1 201.9 182.4 202.6 183.7 203.4 185 205.4 186.3 205.9 187.6 206.8 188.9 206.1 190.3 206.4 191.6 206.9 192.9 206.3 194.2 206 195.5 206.4 196.8 207.5 198.1 207.4 199.4 207.3 200.7 206.9 202 207 203.3 206.6 204.6 207.7 205.9 207.1 207.2 207.2 208.5 206.5 209.8 207 211.1 206.7 212.4 206.1 213.7 205.7 215 206.2 216.3 206.2 217.6 207.1 218.9 207.1 220.2 206.8 221.5 206.1 222.8 207 224.1 206.5 225.4 206.2 226.7 207 228 207.2 229.3 207 230.6 207.7 231.9 207 233.2 205.4 234.5 205.3 235.8 205.5 237.1 207 238.4 207.4 239.7 207.4 241 206.2 242.3 206.4 243.6 206.8 244.9 207 246.2 207.2 247.5 207.7 248.8 207.7 250.1 207.7 251.4 207.7 252.7 206.3 254 206.6 255.3 207.1 256.6 206.7 257.9 206.9 259.2 207.5 260.5 206.7 261.8 206.7 263.1 207.3 264.4 207.5 265.7 207.2 267 207 268.3 205.9 269.6 206.6 270.9 206.5 272.2 206.4 273.5 206.7 274.8 206.7 276.2 206.9 277.5 206.7 278.8 207.1 280.1 207.3 281.4 207.7 282.7 207.1 284 207.3 285.3 207.1 286.6 206.8 287.9 207.7 289.2 207.1 290.5 206.2 291.8 207.2 293.1 206.6 294.4 206.9 295.7 206.5 297 206.6 298.3 205.9 299.6 206.8 300.9 207.2 302.2 207.6 303.5 207 304.8 207 306.1 207.7 307.4 207.4 308.7 207.6 310 207.2 311.3 206.8 312.6 207 313.9 206.9 315.2 206.3 316.5 206.8 317.8 206.9 319.1 207 320.4 207.7 321.7 207.7 323 207.7 324.3 207.7 325.6 207.4 326.9 207.1 328.2 206.3 329.5 207.6 330.8 207.6 332.1 206.3 333.4 206.3 334.7 206.9 336 207.6 337.3 207.7 338.6 207.2 339.9 207.2 341.2 207.2 342.5 207.2 343.8 207.4 345.1 207.1 346.4 206.4 347.7 206.7 349 207.5 350.3 207.4 351.6 207.5 352.9 206.9 354.2 206.9 355.5 207.1 356.8 207.4 358.1 207.5 359.4 206.8 360.7 207.5 362 207 363.4 207.7 364.7 207.7 366 207.7 367.3 207.2 368.6 205.8 369.9 205.7 371.2 206.5 372.5 207.2 373.8 206.8 375.1 206.8 376.4 207 377.7 207.4 379 207.7 380.3 207.7 381.6 207.5 382.9 206.7 384.2 207.7 385.5 207.7 386.8 207.7 388.1 207.7 389.4 207.3 390.7 206.6 392 206.8 393.3 207.1 394.6 206.6 395.9 207 397.2 206.7 398.5 207.4 399.8 207.7 401.1 207.6 402.4 206.4 403.7 207.6 405 207.5 406.3 207.6 406.3 207.9" fill="#c3c3c3"/>
<path d="M58.8 207.4H406.3" stroke="#a9a9a9" stroke-width="1.1"/>
<path d="M58.8 196 60.1 198.9 61.4 206.2 62.7 206.4 64 204.1 65.3 201.3 66.6 198.6 67.9 194.7 69.2 195.9 70.5 197.4 71.8 200.6 73.1 202.4 74.4 202.4 75.7 202.6 77 203.1 78.3 204.5 79.6 204.5 80.9 203 82.2 201.6 83.5 202.5 84.8 203.9 86.1 203.2 87.4 202.2 88.7 203.6 90 203.9 91.3 202.5 92.6 200.5 93.9 199.2 95.2 198.4 96.5 196.8 97.8 196.4 99.1 196.5 100.4 196.4 101.7 194.9 103.1 195.4 104.4 196.1 105.7 196.6 107 197.4 108.3 198.4 109.6 197.3 110.9 196.7 112.2 198.4 113.5 194.7 114.8 198.9 116.1 200.2 117.4 198.8 118.7 196.7 120 199.5 121.3 197.6 122.6 197.7 123.9 198.6 125.2 196.3 126.5 198 127.8 198 129.1 196.8 130.4 196.1 131.7 195.9 133 197.5 134.3 199.1 135.6 196.1 136.9 195.7 138.2 196 139.5 196.1 140.8 195.5 142.1 195.4 143.4 196.8 144.7 197.2 146 196.4 147.3 197 148.6 196.4 149.9 199.7 151.2 196.7 152.5 195.7 153.8 196.9 155.1 196.1 156.4 196.3 157.7 197.6 159 196.6 160.3 196.4 161.6 197.4 162.9 197.9 164.2 196.9 165.5 198.1 166.8 196.4 168.1 194.9 169.4 198.5 170.7 200.9 172 199.8 173.3 199 174.6 197.2 175.9 200.8 177.2 201.3 178.5 202.6 179.8 203.3 181.1 201.9 182.4 202.6 183.7 203.4 185 205.4 186.3 205.9 187.6 206.8 188.9 206.1 190.3 206.4 191.6 206.9 192.9 206.3 194.2 206 195.5 206.4 196.8 207.5 198.1 207.4 199.4 207.3 200.7 206.9 202 207 203.3 206.6 204.6 207.7 205.9 207.1 207.2 207.2 208.5 206.5 209.8 207 211.1 206.7 212.4 206.1 213.7 205.7 215 206.2 216.3 206.2 217.6 207.1 218.9 207.1 220.2 206.8 221.5 206.1 222.8 207 224.1 206.5 225.4 206.2 226.7 207 228 207.2 229.3 207 230.6 207.7 231.9 207 233.2 205.4 234.5 205.3 235.8 205.5 237.1 207 238.4 207.4 239.7 207.4 241 206.2 242.3 206.4 243.6 206.8 244.9 207 246.2 207.2 247.5 207.7 248.8 207.7 250.1 207.7 251.4 207.7 252.7 206.3 254 206.6 255.3 207.1 256.6 206.7 257.9 206.9 259.2 207.5 260.5 206.7 261.8 206.7 263.1 207.3 264.4 207.5 265.7 207.2 267 207 268.3 205.9 269.6 206.6 270.9 206.5 272.2 206.4 273.5 206.7 274.8 206.7 276.2 206.9 277.5 206.7 278.8 207.1 280.1 207.3 281.4 207.7 282.7 207.1 284 207.3 285.3 207.1 286.6 206.8 287.9 207.7 289.2 207.1 290.5 206.2 291.8 207.2 293.1 206.6 294.4 206.9 295.7 206.5 297 206.6 298.3 205.9 299.6 206.8 300.9 207.2 302.2 207.6 303.5 207 304.8 207 306.1 207.7 307.4 207.4 308.7 207.6 310 207.2 311.3 206.8 312.6 207 313.9 206.9 315.2 206.3 316.5 206.8 317.8 206.9 319.1 207 320.4 207.7 321.7 207.7 323 207.7 324.3 207.7 325.6 207.4 326.9 207.1 328.2 206.3 329.5 207.6 330.8 207.6 332.1 206.3 333.4 206.3 334.7 206.9 336 207.6 337.3 207.7 338.6 207.2 339.9 207.2 341.2 207.2 342.5 207.2 343.8 207.4 345.1 207.1 346.4 206.4 347.7 206.7 349 207.5 350.3 207.4 351.6 207.5 352.9 206.9 354.2 206.9 355.5 207.1 356.8 207.4 358.1 207.5 359.4 206.8 360.7 207.5 362 207 363.4 207.7 364.7 207.7 366 207.7 367.3 207.2 368.6 205.8 369.9 205.7 371.2 206.5 372.5 207.2 373.8 206.8 375.1 206.8 376.4 207 377.7 207.4 379 207.7 380.3 207.7 381.6 207.5 382.9 206.7 384.2 207.7 385.5 207.7 386.8 207.7 388.1 207.7 389.4 207.3 390.7 206.6 392 206.8 393.3 207.1 394.6 206.6 395.9 207 397.2 206.7 398.5 207.4 399.8 207.7 401.1 207.6 402.4 206.4 403.7 207.6 405 207.5 406.3 207.6" fill="none" stroke="#303030" stroke-opacity="1" stroke-width="1.25" stroke-linejoin="round"/>
<path d="M253 194h5v14h-5zM325 194h22v14h-22zM349 194h5v14h-5zM355 194h3v14h-3zM361 194h1v14h-1zM364 194h5v14h-5zM372 194h4v14h-4zM388 194h3v14h-3z" fill="#dbac3e" shape-rendering="crispEdges"/>
<path d="M258 194h67v14h-67z" fill="#dd3029" shape-rendering="crispEdges"/>
<path d="M58.4 222.2L58.4 211.4 59.7 215.7 61 220.8 62.3 219.7 63.6 218.1 64.9 215.6 66.2 213.8 67.5 210.6 68.8 210.7 70.1 215.6 71.4 217.8 72.7 219.4 74 218.8 75.3 216.9 76.6 217.3 77.9 216.1 79.2 216.7 80.5 215.5 81.8 216.2 83.1 219.1 84.4 218.4 85.7 217.1 87 218.3 88.3 217.2 89.6 212.6 90.9 211.5 92.2 213.6 93.5 213.7 94.8 213.2 96.1 213.5 97.4 212.9 98.7 210.4 100 210.9 101.3 212.3 102.6 211.9 103.9 212.4 105.2 212.1 106.5 214.3 107.8 215.6 109.1 213.2 110.4 215 111.7 214.9 113 216.4 114.3 214.9 115.6 213.5 116.9 212.9 118.2 212.4 119.5 212.1 120.8 211.5 122.1 210.7 123.4 208.9 124.7 210.6 126 210.1 127.3 209.2 128.6 208.9 129.9 209.9 131.2 208.9 132.5 209 133.8 210 135.1 209.6 136.4 211.2 137.7 209.7 139 211.8 140.3 212 141.6 212.9 142.9 212.8 144.2 212.8 145.5 210.4 146.8 213 148.1 212.6 149.4 212.5 150.7 211.6 152 210.1 153.3 208.9 154.6 208.9 155.9 208.9 157.2 210.9 158.5 211 159.8 209.6 161.1 209.4 162.4 210.6 163.7 211.3 165 213.6 166.3 212.9 167.6 213.4 168.9 216.2 170.2 215.4 171.5 217.1 172.8 217.1 174.1 215.6 175.4 215.8 176.7 216.5 178 217.9 179.3 218.2 180.6 219 181.9 219 183.2 218.9 184.5 219.5 185.8 219.8 187.1 219.8 188.4 220.3 189.7 219.9 191 220.3 192.3 220.4 193.6 220.5 194.9 220 196.2 219.2 197.5 220.6 198.8 220.7 200.1 221.3 201.4 220.3 202.7 218.9 204 220.2 205.3 220.1 206.6 221.1 207.9 221.9 209.2 220.7 210.5 220.5 211.8 221.1 213.1 220.6 214.4 220.3 215.7 220.7 217 220.9 218.3 219.7 219.6 219 220.9 219.9 222.2 221 223.5 220.3 224.8 221 226.1 220.9 227.4 220.6 228.7 220.7 230 221.2 231.3 221.7 232.6 221.3 233.9 221 235.2 221.8 236.5 221.8 237.8 221.9 239.1 221.9 240.4 220.8 241.7 220 243 219.7 244.3 220.7 245.6 221.2 246.9 221.2 248.2 220.7 249.5 221.3 250.8 220.5 252.1 219.8 253.4 220.3 254.7 220.1 256 220.9 257.3 220.8 258.6 221.1 259.9 220.9 261.2 220.8 262.5 219.8 263.8 220.7 265.1 221.4 266.4 221.4 267.7 221.9 269 221.9 270.3 221.5 271.6 220.7 272.9 220.7 274.2 221.8 275.5 221 276.8 220.7 278.1 220.4 279.4 221.4 280.7 219.9 282 220.4 283.3 221.8 284.6 220.9 285.9 220.3 287.2 220.4 288.5 220.5 289.8 220.9 291.1 220.6 292.4 221.5 293.7 220.5 295 220.3 296.3 220.3 297.6 220.7 298.9 220.2 300.2 220.2 301.5 221.3 302.8 220.7 304.1 220.2 305.4 220.2 306.7 220.9 308 220.3 309.3 219.6 310.6 220.5 311.9 220 313.2 220.2 314.5 221.2 315.8 221.2 317.1 220.2 318.4 220.9 319.7 220.3 321 220.3 322.3 220.3 323.6 220.9 324.9 220.9 326.2 220.8 327.5 220.8 328.8 221 330.1 221.5 331.4 221.5 332.7 220.8 334 221.4 335.3 220.6 336.6 220.6 337.9 220.3 339.2 221.1 340.5 220.7 341.8 220.6 343.1 220.7 344.4 220.5 345.7 219.7 347 221.9 348.3 221.4 349.6 221.9 350.9 221.9 352.2 220.9 353.5 221.3 354.8 221.5 356.1 221.3 357.4 221.3 358.7 220.4 360 220.6 361.3 220.6 362.6 221.2 363.9 221.3 365.2 221.9 366.5 221.9 367.8 221.5 369.1 221.9 370.4 221.9 371.7 221.8 373 220.5 374.3 221 375.6 221.6 376.9 219.9 378.2 221.6 378.2 222.2" fill="#c3c3c3"/>
<path d="M58.4 221.6H378.2" stroke="#a9a9a9" stroke-width="1.1"/>
<path d="M58.4 211.4 59.7 215.7 61 220.8 62.3 219.7 63.6 218.1 64.9 215.6 66.2 213.8 67.5 210.6 68.8 210.7 70.1 215.6 71.4 217.8 72.7 219.4 74 218.8 75.3 216.9 76.6 217.3 77.9 216.1 79.2 216.7 80.5 215.5 81.8 216.2 83.1 219.1 84.4 218.4 85.7 217.1 87 218.3 88.3 217.2 89.6 212.6 90.9 211.5 92.2 213.6 93.5 213.7 94.8 213.2 96.1 213.5 97.4 212.9 98.7 210.4 100 210.9 101.3 212.3 102.6 211.9 103.9 212.4 105.2 212.1 106.5 214.3 107.8 215.6 109.1 213.2 110.4 215 111.7 214.9 113 216.4 114.3 214.9 115.6 213.5 116.9 212.9 118.2 212.4 119.5 212.1 120.8 211.5 122.1 210.7 123.4 208.9 124.7 210.6 126 210.1 127.3 209.2 128.6 208.9 129.9 209.9 131.2 208.9 132.5 209 133.8 210 135.1 209.6 136.4 211.2 137.7 209.7 139 211.8 140.3 212 141.6 212.9 142.9 212.8 144.2 212.8 145.5 210.4 146.8 213 148.1 212.6 149.4 212.5 150.7 211.6 152 210.1 153.3 208.9 154.6 208.9 155.9 208.9 157.2 210.9 158.5 211 159.8 209.6 161.1 209.4 162.4 210.6 163.7 211.3 165 213.6 166.3 212.9 167.6 213.4 168.9 216.2 170.2 215.4 171.5 217.1 172.8 217.1 174.1 215.6 175.4 215.8 176.7 216.5 178 217.9 179.3 218.2 180.6 219 181.9 219 183.2 218.9 184.5 219.5 185.8 219.8 187.1 219.8 188.4 220.3 189.7 219.9 191 220.3 192.3 220.4 193.6 220.5 194.9 220 196.2 219.2 197.5 220.6 198.8 220.7 200.1 221.3 201.4 220.3 202.7 218.9 204 220.2 205.3 220.1 206.6 221.1 207.9 221.9 209.2 220.7 210.5 220.5 211.8 221.1 213.1 220.6 214.4 220.3 215.7 220.7 217 220.9 218.3 219.7 219.6 219 220.9 219.9 222.2 221 223.5 220.3 224.8 221 226.1 220.9 227.4 220.6 228.7 220.7 230 221.2 231.3 221.7 232.6 221.3 233.9 221 235.2 221.8 236.5 221.8 237.8 221.9 239.1 221.9 240.4 220.8 241.7 220 243 219.7 244.3 220.7 245.6 221.2 246.9 221.2 248.2 220.7 249.5 221.3 250.8 220.5 252.1 219.8 253.4 220.3 254.7 220.1 256 220.9 257.3 220.8 258.6 221.1 259.9 220.9 261.2 220.8 262.5 219.8 263.8 220.7 265.1 221.4 266.4 221.4 267.7 221.9 269 221.9 270.3 221.5 271.6 220.7 272.9 220.7 274.2 221.8 275.5 221 276.8 220.7 278.1 220.4 279.4 221.4 280.7 219.9 282 220.4 283.3 221.8 284.6 220.9 285.9 220.3 287.2 220.4 288.5 220.5 289.8 220.9 291.1 220.6 292.4 221.5 293.7 220.5 295 220.3 296.3 220.3 297.6 220.7 298.9 220.2 300.2 220.2 301.5 221.3 302.8 220.7 304.1 220.2 305.4 220.2 306.7 220.9 308 220.3 309.3 219.6 310.6 220.5 311.9 220 313.2 220.2 314.5 221.2 315.8 221.2 317.1 220.2 318.4 220.9 319.7 220.3 321 220.3 322.3 220.3 323.6 220.9 324.9 220.9 326.2 220.8 327.5 220.8 328.8 221 330.1 221.5 331.4 221.5 332.7 220.8 334 221.4 335.3 220.6 336.6 220.6 337.9 220.3 339.2 221.1 340.5 220.7 341.8 220.6 343.1 220.7 344.4 220.5 345.7 219.7 347 221.9 348.3 221.4 349.6 221.9 350.9 221.9 352.2 220.9 353.5 221.3 354.8 221.5 356.1 221.3 357.4 221.3 358.7 220.4 360 220.6 361.3 220.6 362.6 221.2 363.9 221.3 365.2 221.9 366.5 221.9 367.8 221.5 369.1 221.9 370.4 221.9 371.7 221.8 373 220.5 374.3 221 375.6 221.6 376.9 219.9 378.2 221.6" fill="none" stroke="#303030" stroke-opacity="1" stroke-width="1.25" stroke-linejoin="round"/>
<path d="M246 208h6v14h-6zM272 208h2v14h-2zM327 208h11v14h-11zM340 208h29v14h-29z" fill="#dbac3e" shape-rendering="crispEdges"/>
<path d="M252 208h20v14h-20zM274 208h15v14h-15zM293 208h34v14h-34z" fill="#dd3029" shape-rendering="crispEdges"/>
<path d="M289 208h4v14h-4z" fill="#a718ff" shape-rendering="crispEdges"/>
<path d="M57 236.5L57 226 58.3 228.4 59.6 232.1 60.9 234.6 62.2 233.6 63.5 232.7 64.8 232.4 66.1 232.7 67.4 234.2 68.7 232 70 233.6 71.4 233.8 72.7 233.2 74 231.9 75.3 232.2 76.6 232.3 77.9 233.4 79.2 232.2 80.5 232.1 81.8 228.7 83.1 227.8 84.4 227.6 85.7 227.5 87 226.1 88.3 225.1 89.6 223.7 90.9 223.5 92.2 224.5 93.5 224.4 94.8 226.1 96.1 226 97.4 224.5 98.8 224.8 100.1 223.9 101.4 226.4 102.7 226.2 104 227.1 105.3 225.4 106.6 225.6 107.9 227.9 109.2 227.5 110.5 224.7 111.8 224.4 113.1 223.7 114.4 225.6 115.7 226.1 117 225.8 118.3 226.6 119.6 226 120.9 223.3 122.2 224.3 123.5 226.4 124.8 225.9 126.2 226.4 127.5 226.7 128.8 225.7 130.1 227.3 131.4 227.1 132.7 225.8 134 224.4 135.3 225.3 136.6 227.5 137.9 228 139.2 226.2 140.5 226.3 141.8 225.1 143.1 226 144.4 223.2 145.7 226.2 147 227.8 148.3 224.8 149.6 225.6 150.9 225.7 152.2 227.6 153.6 226.2 154.9 227.7 156.2 227.8 157.5 226.7 158.8 227.1 160.1 228.3 161.4 230.4 162.7 229.2 164 227.6 165.3 228.3 166.6 229.6 167.9 229.2 169.2 228 170.5 230.6 171.8 231.3 173.1 230.8 174.4 230.8 175.7 231.4 177 230.4 178.3 230.5 179.6 232.3 181 232.6 182.3 233.2 183.6 233.5 184.9 233.2 186.2 233.1 187.5 233.4 188.8 235.1 190.1 236 191.4 236 192.7 236.2 194 235.2 195.3 235.4 196.6 235.8 197.9 235.8 199.2 235.8 200.5 234.7 201.8 235 203.1 235.1 204.4 234.3 205.7 235.7 207 235.9 208.3 235.1 209.7 234.7 211 235.7 212.3 236.1 213.6 235.5 214.9 235.7 216.2 235.6 217.5 235.5 218.8 232.9 220.1 234.6 221.4 235.1 222.7 235.3 224 235.7 225.3 235.5 226.6 234.8 227.9 234.6 229.2 234.8 230.5 234.2 231.8 234.1 233.1 235.7 234.4 236 235.7 235.5 237.1 235.4 238.4 236.2 239.7 236.2 241 236.1 242.3 235.6 243.6 236.2 244.9 236 246.2 235.4 247.5 235.6 248.8 235.9 250.1 236.2 251.4 235.9 252.7 235.4 254 235.6 255.3 235.9 256.6 235.8 257.9 235.8 259.2 235.5 260.5 235.9 261.8 236.2 263.1 236.2 264.5 236.2 265.8 236.1 267.1 235.3 268.4 234.9 269.7 235.1 271 235.2 272.3 234.9 273.6 234.8 274.9 235.2 276.2 235.9 277.5 235.9 278.8 235.7 280.1 235.9 281.4 236 282.7 236.2 284 236 285.3 234.7 286.6 234.9 287.9 235.3 289.2 235.4 290.5 235.5 291.9 235.4 293.2 235.4 294.5 234.8 295.8 235.7 297.1 234.6 298.4 234.3 299.7 235.7 301 236.2 302.3 236.2 303.6 235.7 304.9 236 306.2 236.2 307.5 235.5 308.8 236 310.1 235.4 311.4 235.5 312.7 236.2 314 235.4 315.3 235.2 316.6 235.1 317.9 234.8 319.3 234.7 320.6 235.7 321.9 235.7 323.2 235.7 324.5 236.2 325.8 234.8 327.1 235.7 328.4 236.2 329.7 235.8 331 235.4 332.3 235 333.6 235.1 334.9 235.8 336.2 235.1 337.5 235.7 338.8 234.6 340.1 235.4 341.4 235.9 342.7 234 344 234.4 345.3 235.5 346.7 235.5 348 235.8 349.3 236.2 350.6 236.2 351.9 235.4 353.2 235.8 354.5 236.1 355.8 235.8 357.1 235.5 358.4 235.3 359.7 234.1 359.7 236.5" fill="#c3c3c3"/>
<path d="M57 235.9H359.7" stroke="#a9a9a9" stroke-width="1.1"/>
<path d="M57 226 58.3 228.4 59.6 232.1 60.9 234.6 62.2 233.6 63.5 232.7 64.8 232.4 66.1 232.7 67.4 234.2 68.7 232 70 233.6 71.4 233.8 72.7 233.2 74 231.9 75.3 232.2 76.6 232.3 77.9 233.4 79.2 232.2 80.5 232.1 81.8 228.7 83.1 227.8 84.4 227.6 85.7 227.5 87 226.1 88.3 225.1 89.6 223.7 90.9 223.5 92.2 224.5 93.5 224.4 94.8 226.1 96.1 226 97.4 224.5 98.8 224.8 100.1 223.9 101.4 226.4 102.7 226.2 104 227.1 105.3 225.4 106.6 225.6 107.9 227.9 109.2 227.5 110.5 224.7 111.8 224.4 113.1 223.7 114.4 225.6 115.7 226.1 117 225.8 118.3 226.6 119.6 226 120.9 223.3 122.2 224.3 123.5 226.4 124.8 225.9 126.2 226.4 127.5 226.7 128.8 225.7 130.1 227.3 131.4 227.1 132.7 225.8 134 224.4 135.3 225.3 136.6 227.5 137.9 228 139.2 226.2 140.5 226.3 141.8 225.1 143.1 226 144.4 223.2 145.7 226.2 147 227.8 148.3 224.8 149.6 225.6 150.9 225.7 152.2 227.6 153.6 226.2 154.9 227.7 156.2 227.8 157.5 226.7 158.8 227.1 160.1 228.3 161.4 230.4 162.7 229.2 164 227.6 165.3 228.3 166.6 229.6 167.9 229.2 169.2 228 170.5 230.6 171.8 231.3 173.1 230.8 174.4 230.8 175.7 231.4 177 230.4 178.3 230.5 179.6 232.3 181 232.6 182.3 233.2 183.6 233.5 184.9 233.2 186.2 233.1 187.5 233.4 188.8 235.1 190.1 236 191.4 236 192.7 236.2 194 235.2 195.3 235.4 196.6 235.8 197.9 235.8 199.2 235.8 200.5 234.7 201.8 235 203.1 235.1 204.4 234.3 205.7 235.7 207 235.9 208.3 235.1 209.7 234.7 211 235.7 212.3 236.1 213.6 235.5 214.9 235.7 216.2 235.6 217.5 235.5 218.8 232.9 220.1 234.6 221.4 235.1 222.7 235.3 224 235.7 225.3 235.5 226.6 234.8 227.9 234.6 229.2 234.8 230.5 234.2 231.8 234.1 233.1 235.7 234.4 236 235.7 235.5 237.1 235.4 238.4 236.2 239.7 236.2 241 236.1 242.3 235.6 243.6 236.2 244.9 236 246.2 235.4 247.5 235.6 248.8 235.9 250.1 236.2 251.4 235.9 252.7 235.4 254 235.6 255.3 235.9 256.6 235.8 257.9 235.8 259.2 235.5 260.5 235.9 261.8 236.2 263.1 236.2 264.5 236.2 265.8 236.1 267.1 235.3 268.4 234.9 269.7 235.1 271 235.2 272.3 234.9 273.6 234.8 274.9 235.2 276.2 235.9 277.5 235.9 278.8 235.7 280.1 235.9 281.4 236 282.7 236.2 284 236 285.3 234.7 286.6 234.9 287.9 235.3 289.2 235.4 290.5 235.5 291.9 235.4 293.2 235.4 294.5 234.8 295.8 235.7 297.1 234.6 298.4 234.3 299.7 235.7 301 236.2 302.3 236.2 303.6 235.7 304.9 236 306.2 236.2 307.5 235.5 308.8 236 310.1 235.4 311.4 235.5 312.7 236.2 314 235.4 315.3 235.2 316.6 235.1 317.9 234.8 319.3 234.7 320.6 235.7 321.9 235.7 323.2 235.7 324.5 236.2 325.8 234.8 327.1 235.7 328.4 236.2 329.7 235.8 331 235.4 332.3 235 333.6 235.1 334.9 235.8 336.2 235.1 337.5 235.7 338.8 234.6 340.1 235.4 341.4 235.9 342.7 234 344 234.4 345.3 235.5 346.7 235.5 348 235.8 349.3 236.2 350.6 236.2 351.9 235.4 353.2 235.8 354.5 236.1 355.8 235.8 357.1 235.5 358.4 235.3 359.7 234.1" fill="none" stroke="#303030" stroke-opacity="1" stroke-width="1.25" stroke-linejoin="round"/>
<path d="M248 222h10v14h-10zM260 222h10v14h-10zM280 222h7v14h-7z" fill="#dbac3e" shape-rendering="crispEdges"/>
<path d="M270 222h10v14h-10zM287 222h30v14h-30zM319 222h20v14h-20zM341 222h19v14h-19z" fill="#dd3029" shape-rendering="crispEdges"/>
<path d="M317 222h2v14h-2zM339 222h2v14h-2z" fill="#a718ff" shape-rendering="crispEdges"/>
<path d="M57 250.7L57 239.7 58.3 242.3 59.6 245.9 60.9 249 62.2 249.4 63.5 247.6 64.8 247.1 66.1 245.6 67.4 246 68.7 247.5 70 245.6 71.3 247.4 72.6 246.5 73.9 246.1 75.2 246.3 76.5 246.4 77.8 247.6 79.1 246.4 80.4 246.4 81.8 245.1 83.1 242.9 84.4 240.3 85.7 240.5 87 239.6 88.3 239.9 89.6 240 90.9 240.9 92.2 240.2 93.5 240.7 94.8 240.1 96.1 239.6 97.4 240.6 98.7 240.4 100 240 101.3 242.5 102.6 242.5 103.9 239.7 105.2 241.3 106.5 242.3 107.8 238.2 109.1 238.1 110.4 239.9 111.7 239.8 113 239.5 114.3 242.7 115.6 240.7 116.9 241.9 118.2 241.8 119.5 237.5 120.8 241.1 122.1 240.9 123.4 240.9 124.7 242.9 126 241.8 127.3 243.1 128.7 243.8 130 244.1 131.3 243.4 132.6 241.9 133.9 241.6 135.2 240.9 136.5 241.7 137.8 241.6 139.1 240.7 140.4 243.9 141.7 241.8 143 243.1 144.3 243.9 145.6 243 146.9 243.1 148.2 245 149.5 242 150.8 244 152.1 244.4 153.4 243.9 154.7 242.1 156 244.2 157.3 245.2 158.6 244.2 159.9 244.4 161.2 244.8 162.5 243.9 163.8 242.5 165.1 240.9 166.4 243.7 167.7 241.3 169 243.5 170.3 244.6 171.6 244 172.9 243.2 174.2 243.1 175.6 243.2 176.9 243.5 178.2 244.1 179.5 244 180.8 243.9 182.1 243.1 183.4 245.7 184.7 245.9 186 246.1 187.3 247.9 188.6 248.2 189.9 250.4 191.2 249.6 192.5 249.6 193.8 248.8 195.1 249.1 196.4 250.1 197.7 249 199 249.5 200.3 249.3 201.6 249.7 202.9 249.3 204.2 248.2 205.5 249.2 206.8 248.2 208.1 248.7 209.4 248.4 210.7 248.7 212 249.1 213.3 249 214.6 249.7 215.9 249.2 217.2 248.5 218.5 249.7 219.8 250 221.1 250.3 222.4 249.2 223.8 250.1 225.1 250 226.4 249.1 227.7 249.3 229 249.4 230.3 249.3 231.6 248.4 232.9 247.3 234.2 249.3 235.5 248.5 236.8 248.3 238.1 248.6 239.4 249 240.7 249.8 242 249.3 243.3 250 244.6 250.5 245.9 249.7 247.2 249.5 248.5 248.7 249.8 247.9 251.1 249.2 252.4 249.1 253.7 249.1 255 250 256.3 249.7 257.6 249.1 258.9 249.4 260.2 250.2 261.5 249 262.8 249.7 264.1 250.5 265.4 249.1 266.7 249.7 268 249.6 269.3 249.5 270.7 248 272 248.8 273.3 248.3 274.6 249.4 275.9 248.1 277.2 248.6 278.5 249.5 279.8 249.9 281.1 250.5 282.4 250.5 283.7 249.1 285 248.7 286.3 249.4 287.6 249.5 288.9 249.8 290.2 250.3 291.5 249.9 292.8 249.9 294.1 249.8 295.4 249.3 296.7 250.5 298 249.2 299.3 249.8 300.6 250.5 301.9 250.5 303.2 250 304.5 249.8 305.8 248.9 307.1 249.1 308.4 249.4 309.7 250.4 311 249.5 312.3 249.5 313.6 250.5 314.9 250.5 316.2 249.5 317.6 249.3 318.9 250.2 320.2 249.7 321.5 249.8 322.8 250.5 324.1 250.2 325.4 250.1 326.7 250.2 328 250.5 329.3 250.5 330.6 249.7 331.9 249.7 333.2 250.5 334.5 250.5 335.8 249.5 337.1 250 338.4 249.7 339.7 250.1 341 250.4 341 250.7" fill="#c3c3c3"/>
<path d="M57 250.2H341" stroke="#a9a9a9" stroke-width="1.1"/>
<path d="M57 239.7 58.3 242.3 59.6 245.9 60.9 249 62.2 249.4 63.5 247.6 64.8 247.1 66.1 245.6 67.4 246 68.7 247.5 70 245.6 71.3 247.4 72.6 246.5 73.9 246.1 75.2 246.3 76.5 246.4 77.8 247.6 79.1 246.4 80.4 246.4 81.8 245.1 83.1 242.9 84.4 240.3 85.7 240.5 87 239.6 88.3 239.9 89.6 240 90.9 240.9 92.2 240.2 93.5 240.7 94.8 240.1 96.1 239.6 97.4 240.6 98.7 240.4 100 240 101.3 242.5 102.6 242.5 103.9 239.7 105.2 241.3 106.5 242.3 107.8 238.2 109.1 238.1 110.4 239.9 111.7 239.8 113 239.5 114.3 242.7 115.6 240.7 116.9 241.9 118.2 241.8 119.5 237.5 120.8 241.1 122.1 240.9 123.4 240.9 124.7 242.9 126 241.8 127.3 243.1 128.7 243.8 130 244.1 131.3 243.4 132.6 241.9 133.9 241.6 135.2 240.9 136.5 241.7 137.8 241.6 139.1 240.7 140.4 243.9 141.7 241.8 143 243.1 144.3 243.9 145.6 243 146.9 243.1 148.2 245 149.5 242 150.8 244 152.1 244.4 153.4 243.9 154.7 242.1 156 244.2 157.3 245.2 158.6 244.2 159.9 244.4 161.2 244.8 162.5 243.9 163.8 242.5 165.1 240.9 166.4 243.7 167.7 241.3 169 243.5 170.3 244.6 171.6 244 172.9 243.2 174.2 243.1 175.6 243.2 176.9 243.5 178.2 244.1 179.5 244 180.8 243.9 182.1 243.1 183.4 245.7 184.7 245.9 186 246.1 187.3 247.9 188.6 248.2 189.9 250.4 191.2 249.6 192.5 249.6 193.8 248.8 195.1 249.1 196.4 250.1 197.7 249 199 249.5 200.3 249.3 201.6 249.7 202.9 249.3 204.2 248.2 205.5 249.2 206.8 248.2 208.1 248.7 209.4 248.4 210.7 248.7 212 249.1 213.3 249 214.6 249.7 215.9 249.2 217.2 248.5 218.5 249.7 219.8 250 221.1 250.3 222.4 249.2 223.8 250.1 225.1 250 226.4 249.1 227.7 249.3 229 249.4 230.3 249.3 231.6 248.4 232.9 247.3 234.2 249.3 235.5 248.5 236.8 248.3 238.1 248.6 239.4 249 240.7 249.8 242 249.3 243.3 250 244.6 250.5 245.9 249.7 247.2 249.5 248.5 248.7 249.8 247.9 251.1 249.2 252.4 249.1 253.7 249.1 255 250 256.3 249.7 257.6 249.1 258.9 249.4 260.2 250.2 261.5 249 262.8 249.7 264.1 250.5 265.4 249.1 266.7 249.7 268 249.6 269.3 249.5 270.7 248 272 248.8 273.3 248.3 274.6 249.4 275.9 248.1 277.2 248.6 278.5 249.5 279.8 249.9 281.1 250.5 282.4 250.5 283.7 249.1 285 248.7 286.3 249.4 287.6 249.5 288.9 249.8 290.2 250.3 291.5 249.9 292.8 249.9 294.1 249.8 295.4 249.3 296.7 250.5 298 249.2 299.3 249.8 300.6 250.5 301.9 250.5 303.2 250 304.5 249.8 305.8 248.9 307.1 249.1 308.4 249.4 309.7 250.4 311 249.5 312.3 249.5 313.6 250.5 314.9 250.5 316.2 249.5 317.6 249.3 318.9 250.2 320.2 249.7 321.5 249.8 322.8 250.5 324.1 250.2 325.4 250.1 326.7 250.2 328 250.5 329.3 250.5 330.6 249.7 331.9 249.7 333.2 250.5 334.5 250.5 335.8 249.5 337.1 250 338.4 249.7 339.7 250.1 341 250.4" fill="none" stroke="#303030" stroke-opacity="1" stroke-width="1.25" stroke-linejoin="round"/>
<path d="M234 236h22v15h-22zM259 236h12v15h-12zM288 236h3v15h-3zM336 236h1v15h-1z" fill="#dbac3e" shape-rendering="crispEdges"/>
<path d="M271 236h17v15h-17zM291 236h45v15h-45zM337 236h4v15h-4z" fill="#dd3029" shape-rendering="crispEdges"/>
<path d="M57 265L57 252.1 58.3 257.8 59.6 260.4 60.9 263.7 62.2 263.4 63.5 262.7 64.8 262 66.1 262.3 67.4 261.1 68.7 259.9 70 260.7 71.3 260.7 72.6 260 73.9 259.4 75.2 259.8 76.5 260.6 77.8 260.1 79.1 260 80.4 261.7 81.7 260.4 83 259.8 84.3 253.7 85.6 255.6 86.9 254 88.2 254.1 89.5 252.7 90.9 252.3 92.2 253.8 93.5 253.8 94.8 252.3 96.1 252.7 97.4 252.1 98.7 252.9 100 251.7 101.3 252 102.6 252.3 103.9 253.6 105.2 253.3 106.5 253.9 107.8 251.7 109.1 254.4 110.4 255 111.7 256.5 113 255.4 114.3 254.7 115.6 251.8 116.9 252.7 118.2 253.2 119.5 254.2 120.8 254.9 122.1 255.3 123.4 254.7 124.7 256.1 126 258.7 127.3 257 128.6 257.6 129.9 258.2 131.2 255.6 132.5 257.2 133.8 258.4 135.1 257.9 136.4 260.5 137.7 259.6 139 261.1 140.3 261.1 141.6 259.1 142.9 258.6 144.2 259 145.5 259.1 146.8 258.2 148.1 259.8 149.4 257.6 150.7 259 152 258.5 153.3 256.5 154.6 255.8 155.9 257.3 157.3 258.6 158.6 259.5 159.9 259.3 161.2 260.2 162.5 259.6 163.8 259.6 165.1 260.4 166.4 259.9 167.7 259.7 169 259.1 170.3 261.7 171.6 262.7 172.9 263.6 174.2 263 175.5 262 176.8 263.2 178.1 263.1 179.4 263.6 180.7 263 182 262.6 183.3 263.2 184.6 262.3 185.9 261.5 187.2 261.7 188.5 261.7 189.8 261.8 191.1 262.3 192.4 261.8 193.7 262 195 262.2 196.3 262.2 197.6 262.9 198.9 263.1 200.2 263.1 201.5 262.5 202.8 262.1 204.1 261.8 205.4 262.1 206.7 262.3 208 262.4 209.3 262.7 210.6 263.6 211.9 263.1 213.2 262.2 214.5 262 215.8 261.1 217.1 261.6 218.4 260.7 219.7 261.5 221 261.3 222.3 261.7 223.7 261.8 225 262.1 226.3 262.8 227.6 262.5 228.9 262.1 230.2 261.9 231.5 260.7 232.8 261.3 234.1 262.2 235.4 261.3 236.7 263.3 238 263.6 239.3 263 240.6 262.4 241.9 262.7 243.2 262.3 244.5 261.4 245.8 262.7 247.1 262.4 248.4 261.3 249.7 262.3 251 261.5 252.3 261.9 253.6 262.7 254.9 262.7 256.2 263.5 257.5 262.9 258.8 263.7 260.1 262.9 261.4 262.8 262.7 263.5 264 262.7 265.3 263.4 266.6 262.8 267.9 263.3 269.2 263.5 270.5 263.2 271.8 264.1 273.1 262.6 274.4 263.2 275.7 262 277 262.7 278.3 263.3 279.6 263.6 280.9 263.8 282.2 262.7 283.5 263.4 284.8 264.1 286.1 264 287.4 264.1 288.7 263.6 290.1 263.8 291.4 263.4 292.7 264.1 294 263.5 295.3 263.6 296.6 263.1 297.9 262.5 299.2 263.2 300.5 263.3 301.8 263.2 303.1 264 304.4 264.6 305.7 264.7 307 264.4 308.3 264.6 309.6 264.7 310.9 264.4 312.2 264.3 313.5 263.8 314.8 263.8 316.1 264.1 317.4 264.7 318.7 264.7 320 264.6 321.3 264.3 322.6 264.7 322.6 265" fill="#c3c3c3"/>
<path d="M57 264.5H322.6" stroke="#a9a9a9" stroke-width="1.1"/>
<path d="M57 252.1 58.3 257.8 59.6 260.4 60.9 263.7 62.2 263.4 63.5 262.7 64.8 262 66.1 262.3 67.4 261.1 68.7 259.9 70 260.7 71.3 260.7 72.6 260 73.9 259.4 75.2 259.8 76.5 260.6 77.8 260.1 79.1 260 80.4 261.7 81.7 260.4 83 259.8 84.3 253.7 85.6 255.6 86.9 254 88.2 254.1 89.5 252.7 90.9 252.3 92.2 253.8 93.5 253.8 94.8 252.3 96.1 252.7 97.4 252.1 98.7 252.9 100 251.7 101.3 252 102.6 252.3 103.9 253.6 105.2 253.3 106.5 253.9 107.8 251.7 109.1 254.4 110.4 255 111.7 256.5 113 255.4 114.3 254.7 115.6 251.8 116.9 252.7 118.2 253.2 119.5 254.2 120.8 254.9 122.1 255.3 123.4 254.7 124.7 256.1 126 258.7 127.3 257 128.6 257.6 129.9 258.2 131.2 255.6 132.5 257.2 133.8 258.4 135.1 257.9 136.4 260.5 137.7 259.6 139 261.1 140.3 261.1 141.6 259.1 142.9 258.6 144.2 259 145.5 259.1 146.8 258.2 148.1 259.8 149.4 257.6 150.7 259 152 258.5 153.3 256.5 154.6 255.8 155.9 257.3 157.3 258.6 158.6 259.5 159.9 259.3 161.2 260.2 162.5 259.6 163.8 259.6 165.1 260.4 166.4 259.9 167.7 259.7 169 259.1 170.3 261.7 171.6 262.7 172.9 263.6 174.2 263 175.5 262 176.8 263.2 178.1 263.1 179.4 263.6 180.7 263 182 262.6 183.3 263.2 184.6 262.3 185.9 261.5 187.2 261.7 188.5 261.7 189.8 261.8 191.1 262.3 192.4 261.8 193.7 262 195 262.2 196.3 262.2 197.6 262.9 198.9 263.1 200.2 263.1 201.5 262.5 202.8 262.1 204.1 261.8 205.4 262.1 206.7 262.3 208 262.4 209.3 262.7 210.6 263.6 211.9 263.1 213.2 262.2 214.5 262 215.8 261.1 217.1 261.6 218.4 260.7 219.7 261.5 221 261.3 222.3 261.7 223.7 261.8 225 262.1 226.3 262.8 227.6 262.5 228.9 262.1 230.2 261.9 231.5 260.7 232.8 261.3 234.1 262.2 235.4 261.3 236.7 263.3 238 263.6 239.3 263 240.6 262.4 241.9 262.7 243.2 262.3 244.5 261.4 245.8 262.7 247.1 262.4 248.4 261.3 249.7 262.3 251 261.5 252.3 261.9 253.6 262.7 254.9 262.7 256.2 263.5 257.5 262.9 258.8 263.7 260.1 262.9 261.4 262.8 262.7 263.5 264 262.7 265.3 263.4 266.6 262.8 267.9 263.3 269.2 263.5 270.5 263.2 271.8 264.1 273.1 262.6 274.4 263.2 275.7 262 277 262.7 278.3 263.3 279.6 263.6 280.9 263.8 282.2 262.7 283.5 263.4 284.8 264.1 286.1 264 287.4 264.1 288.7 263.6 290.1 263.8 291.4 263.4 292.7 264.1 294 263.5 295.3 263.6 296.6 263.1 297.9 262.5 299.2 263.2 300.5 263.3 301.8 263.2 303.1 264 304.4 264.6 305.7 264.7 307 264.4 308.3 264.6 309.6 264.7 310.9 264.4 312.2 264.3 313.5 263.8 314.8 263.8 316.1 264.1 317.4 264.7 318.7 264.7 320 264.6 321.3 264.3 322.6 264.7" fill="none" stroke="#303030" stroke-opacity="1" stroke-width="1.25" stroke-linejoin="round"/>
<path d="M235 251h5v14h-5zM244 251h4v14h-4zM252 251h35v14h-35zM289 251h10v14h-10zM300 251h2v14h-2zM315 251h5v14h-5z" fill="#dbac3e" shape-rendering="crispEdges"/>
<path d="M287 251h2v14h-2z" fill="#dd3029" shape-rendering="crispEdges"/>
<path d="M57 279.3L57 266.3 58.3 269.6 59.6 271.7 60.9 277.2 62.2 277.2 63.5 275.4 64.8 274.5 66.1 274.6 67.4 274.2 68.7 274 70 274.5 71.3 274.6 72.6 275.3 73.9 275.4 75.2 275.5 76.5 273.7 77.8 276.1 79.1 274.7 80.4 273.1 81.7 270 83 270 84.3 267.4 85.6 268.7 86.9 271.2 88.2 266 89.5 267.9 90.8 266 92.1 267.1 93.4 267.8 94.7 269.4 96 268.8 97.3 266 98.6 266.5 99.9 268.5 101.2 270.6 102.5 271.3 103.8 270 105.1 269.5 106.4 267.9 107.7 269.6 109 270.4 110.3 270.3 111.6 269.2 112.9 268.6 114.2 268.2 115.5 269.5 116.8 266.3 118.2 267.8 119.5 268.5 120.8 269.1 122.1 269.5 123.4 270.4 124.7 271.4 126 270.1 127.3 270.9 128.6 268.9 129.9 267.7 131.2 269.7 132.5 268.7 133.8 269.1 135.1 270.3 136.4 270 137.7 271 139 272.1 140.3 272 141.6 271.5 142.9 273.1 144.2 273.5 145.5 275.2 146.8 273.5 148.1 272.1 149.4 273.1 150.7 274.6 152 272.3 153.3 272.3 154.6 273.3 155.9 273.6 157.2 274.5 158.5 273.6 159.8 273.6 161.1 272.4 162.4 274.7 163.7 275.4 165 274.3 166.3 274.7 167.6 275.1 168.9 275.7 170.2 276.7 171.5 274.5 172.8 274.7 174.1 275.4 175.4 273.2 176.7 272.7 178 273.7 179.3 275.7 180.6 273.4 181.9 275.1 183.2 276.2 184.5 275.4 185.8 276.2 187.1 276.5 188.4 275.5 189.7 275.5 191 275.8 192.3 275.3 193.6 275.6 194.9 274.5 196.2 273.7 197.5 272.2 198.8 275.8 200.1 276.5 201.4 276.8 202.7 274.8 204 275.8 205.3 276.5 206.6 275.8 207.9 275.3 209.2 275.6 210.5 273.3 211.8 273.7 213.1 274.3 214.4 275 215.7 276 217 277.4 218.3 278.7 219.6 278.8 220.9 278.1 222.2 278.5 223.5 278.5 224.8 278.6 226.1 278.4 227.4 278.7 228.7 278.7 230 278.8 231.3 278.8 232.6 278.6 233.9 278.2 235.2 278.9 236.5 279 237.8 278.3 239.2 278.1 240.5 278.6 241.8 278.2 243.1 278.1 244.4 277.8 245.7 277.6 247 278.5 248.3 278.8 249.6 279 250.9 279 252.2 279 253.5 278.8 254.8 279 256.1 278.9 257.4 278.6 258.7 279 260 279 261.3 278.1 262.6 278.2 263.9 278.8 265.2 279 266.5 278.8 267.8 278.8 269.1 278.6 270.4 277.7 271.7 279 273 278.2 274.3 278.5 275.6 278.7 276.9 278.1 278.2 278.2 279.5 278.2 280.8 278.6 282.1 277.4 283.4 277.8 284.7 277.7 286 278.8 287.3 278.8 288.6 278.9 289.9 278.9 291.2 278.3 292.5 278.1 293.8 278.4 295.1 279 296.4 278.2 297.7 278.7 299 279 299 279.3" fill="#c3c3c3"/>
<path d="M57 278.7H299" stroke="#a9a9a9" stroke-width="1.1"/>
<path d="M57 266.3 58.3 269.6 59.6 271.7 60.9 277.2 62.2 277.2 63.5 275.4 64.8 274.5 66.1 274.6 67.4 274.2 68.7 274 70 274.5 71.3 274.6 72.6 275.3 73.9 275.4 75.2 275.5 76.5 273.7 77.8 276.1 79.1 274.7 80.4 273.1 81.7 270 83 270 84.3 267.4 85.6 268.7 86.9 271.2 88.2 266 89.5 267.9 90.8 266 92.1 267.1 93.4 267.8 94.7 269.4 96 268.8 97.3 266 98.6 266.5 99.9 268.5 101.2 270.6 102.5 271.3 103.8 270 105.1 269.5 106.4 267.9 107.7 269.6 109 270.4 110.3 270.3 111.6 269.2 112.9 268.6 114.2 268.2 115.5 269.5 116.8 266.3 118.2 267.8 119.5 268.5 120.8 269.1 122.1 269.5 123.4 270.4 124.7 271.4 126 270.1 127.3 270.9 128.6 268.9 129.9 267.7 131.2 269.7 132.5 268.7 133.8 269.1 135.1 270.3 136.4 270 137.7 271 139 272.1 140.3 272 141.6 271.5 142.9 273.1 144.2 273.5 145.5 275.2 146.8 273.5 148.1 272.1 149.4 273.1 150.7 274.6 152 272.3 153.3 272.3 154.6 273.3 155.9 273.6 157.2 274.5 158.5 273.6 159.8 273.6 161.1 272.4 162.4 274.7 163.7 275.4 165 274.3 166.3 274.7 167.6 275.1 168.9 275.7 170.2 276.7 171.5 274.5 172.8 274.7 174.1 275.4 175.4 273.2 176.7 272.7 178 273.7 179.3 275.7 180.6 273.4 181.9 275.1 183.2 276.2 184.5 275.4 185.8 276.2 187.1 276.5 188.4 275.5 189.7 275.5 191 275.8 192.3 275.3 193.6 275.6 194.9 274.5 196.2 273.7 197.5 272.2 198.8 275.8 200.1 276.5 201.4 276.8 202.7 274.8 204 275.8 205.3 276.5 206.6 275.8 207.9 275.3 209.2 275.6 210.5 273.3 211.8 273.7 213.1 274.3 214.4 275 215.7 276 217 277.4 218.3 278.7 219.6 278.8 220.9 278.1 222.2 278.5 223.5 278.5 224.8 278.6 226.1 278.4 227.4 278.7 228.7 278.7 230 278.8 231.3 278.8 232.6 278.6 233.9 278.2 235.2 278.9 236.5 279 237.8 278.3 239.2 278.1 240.5 278.6 241.8 278.2 243.1 278.1 244.4 277.8 245.7 277.6 247 278.5 248.3 278.8 249.6 279 250.9 279 252.2 279 253.5 278.8 254.8 279 256.1 278.9 257.4 278.6 258.7 279 260 279 261.3 278.1 262.6 278.2 263.9 278.8 265.2 279 266.5 278.8 267.8 278.8 269.1 278.6 270.4 277.7 271.7 279 273 278.2 274.3 278.5 275.6 278.7 276.9 278.1 278.2 278.2 279.5 278.2 280.8 278.6 282.1 277.4 283.4 277.8 284.7 277.7 286 278.8 287.3 278.8 288.6 278.9 289.9 278.9 291.2 278.3 292.5 278.1 293.8 278.4 295.1 279 296.4 278.2 297.7 278.7 299 279" fill="none" stroke="#303030" stroke-opacity="1" stroke-width="1.25" stroke-linejoin="round"/>
<path d="M257 265h2v14h-2zM263 265h11v14h-11zM278 265h4v14h-4zM290 265h2v14h-2zM296 265h1v14h-1z" fill="#dbac3e" shape-rendering="crispEdges"/>
<path d="M57 293.5L57 282.6 58.3 282.5 59.6 287.1 60.9 290.8 62.2 289.8 63.5 291.5 64.8 291.9 66.1 292.5 67.4 290.9 68.7 292.1 70 292.2 71.3 293.3 72.6 292.8 73.9 291 75.2 287.1 76.5 284.2 77.8 283.2 79.1 285.2 80.4 282.5 81.7 282.9 83 284.7 84.3 285.3 85.6 282.9 86.9 282.9 88.2 284.3 89.5 285.1 90.8 284.9 92.1 285.8 93.4 285.1 94.7 283.3 96 283.7 97.3 283.5 98.6 286.4 99.9 286.6 101.2 285.4 102.5 286.3 103.8 285.6 105.1 283.1 106.4 283.9 107.7 284 109 283.4 110.3 282.4 111.6 285.6 113 284.5 114.3 285.2 115.6 282.6 116.9 283.3 118.2 283.6 119.5 284.3 120.8 284.6 122.1 284.6 123.4 284.7 124.7 284.9 126 283.7 127.3 284.9 128.6 283.4 129.9 284.6 131.2 284.7 132.5 284.4 133.8 284.6 135.1 284.6 136.4 285.5 137.7 286.5 139 285.6 140.3 287.4 141.6 288.1 142.9 287.9 144.2 285.8 145.5 287.1 146.8 286.5 148.1 285.6 149.4 285 150.7 285.2 152 285.6 153.3 286.2 154.6 287.5 155.9 288.6 157.2 288.8 158.5 287 159.8 287.6 161.1 287.3 162.4 288.2 163.7 289.2 165 288.1 166.3 287.5 167.6 286.2 168.9 287.9 170.2 286.9 171.5 286.7 172.8 286.9 174.1 287 175.4 285.8 176.7 284.9 178 286.6 179.3 287 180.6 287.5 181.9 287.7 183.2 286.9 184.5 286.7 185.8 287.5 187.1 287.3 188.4 288.8 189.7 288.7 191 287.1 192.3 285.6 193.6 286.4 194.9 287.7 196.2 288.2 197.5 289.1 198.8 288 200.1 289.6 201.4 291.6 202.7 293.3 204 291.9 205.3 291.5 206.6 291.3 207.9 291.3 209.2 291.7 210.5 291.5 211.8 291.5 213.1 291.6 214.4 291.8 215.7 291.3 217 291.7 218.3 292.6 219.6 292.2 220.9 291.7 222.2 290.5 223.6 292 224.9 292.7 226.2 293 227.5 292.7 228.8 293.3 230.1 292 231.4 292 232.7 292.7 234 292.2 235.3 292.2 236.6 292.4 237.9 293 239.2 292.7 240.5 292.8 241.8 292.2 243.1 292.9 244.4 293.3 245.7 292.3 247 293.3 248.3 292.5 249.6 292.9 250.9 292.5 252.2 292.4 253.5 291.8 254.8 291.5 256.1 291.7 257.4 291.5 258.7 291.8 260 291.3 261.3 292.4 262.6 292.6 263.9 293.1 265.2 292.7 266.5 293.1 267.8 292.2 269.1 292.6 270.4 293.3 271.7 293.3 273 293.2 274.3 293.3 275.6 291.4 276.9 292.3 278.2 292.3 278.2 293.5" fill="#c3c3c3"/>
<path d="M57 293H278.2" stroke="#a9a9a9" stroke-width="1.1"/>
<path d="M57 282.6 58.3 282.5 59.6 287.1 60.9 290.8 62.2 289.8 63.5 291.5 64.8 291.9 66.1 292.5 67.4 290.9 68.7 292.1 70 292.2 71.3 293.3 72.6 292.8 73.9 291 75.2 287.1 76.5 284.2 77.8 283.2 79.1 285.2 80.4 282.5 81.7 282.9 83 284.7 84.3 285.3 85.6 282.9 86.9 282.9 88.2 284.3 89.5 285.1 90.8 284.9 92.1 285.8 93.4 285.1 94.7 283.3 96 283.7 97.3 283.5 98.6 286.4 99.9 286.6 101.2 285.4 102.5 286.3 103.8 285.6 105.1 283.1 106.4 283.9 107.7 284 109 283.4 110.3 282.4 111.6 285.6 113 284.5 114.3 285.2 115.6 282.6 116.9 283.3 118.2 283.6 119.5 284.3 120.8 284.6 122.1 284.6 123.4 284.7 124.7 284.9 126 283.7 127.3 284.9 128.6 283.4 129.9 284.6 131.2 284.7 132.5 284.4 133.8 284.6 135.1 284.6 136.4 285.5 137.7 286.5 139 285.6 140.3 287.4 141.6 288.1 142.9 287.9 144.2 285.8 145.5 287.1 146.8 286.5 148.1 285.6 149.4 285 150.7 285.2 152 285.6 153.3 286.2 154.6 287.5 155.9 288.6 157.2 288.8 158.5 287 159.8 287.6 161.1 287.3 162.4 288.2 163.7 289.2 165 288.1 166.3 287.5 167.6 286.2 168.9 287.9 170.2 286.9 171.5 286.7 172.8 286.9 174.1 287 175.4 285.8 176.7 284.9 178 286.6 179.3 287 180.6 287.5 181.9 287.7 183.2 286.9 184.5 286.7 185.8 287.5 187.1 287.3 188.4 288.8 189.7 288.7 191 287.1 192.3 285.6 193.6 286.4 194.9 287.7 196.2 288.2 197.5 289.1 198.8 288 200.1 289.6 201.4 291.6 202.7 293.3 204 291.9 205.3 291.5 206.6 291.3 207.9 291.3 209.2 291.7 210.5 291.5 211.8 291.5 213.1 291.6 214.4 291.8 215.7 291.3 217 291.7 218.3 292.6 219.6 292.2 220.9 291.7 222.2 290.5 223.6 292 224.9 292.7 226.2 293 227.5 292.7 228.8 293.3 230.1 292 231.4 292 232.7 292.7 234 292.2 235.3 292.2 236.6 292.4 237.9 293 239.2 292.7 240.5 292.8 241.8 292.2 243.1 292.9 244.4 293.3 245.7 292.3 247 293.3 248.3 292.5 249.6 292.9 250.9 292.5 252.2 292.4 253.5 291.8 254.8 291.5 256.1 291.7 257.4 291.5 258.7 291.8 260 291.3 261.3 292.4 262.6 292.6 263.9 293.1 265.2 292.7 266.5 293.1 267.8 292.2 269.1 292.6 270.4 293.3 271.7 293.3 273 293.2 274.3 293.3 275.6 291.4 276.9 292.3 278.2 292.3" fill="none" stroke="#303030" stroke-opacity="1" stroke-width="1.25" stroke-linejoin="round"/>
<path d="M257 279h6v15h-6zM276 279h2v15h-2z" fill="#dbac3e" shape-rendering="crispEdges"/>
<path d="M57 307.8L57 295.1 58.3 299 59.6 301.5 60.9 305.5 62.2 306.7 63.5 307.6 64.8 306.9 66.1 307.3 67.4 307.6 68.7 306.8 70 307.1 71.3 306.4 72.6 304 73.9 299.5 75.2 297.9 76.5 296.1 77.8 297.5 79.1 297.1 80.4 298.3 81.7 298.1 83 299.5 84.3 296 85.6 296.8 86.9 296 88.2 297.3 89.5 296.8 90.8 297.5 92.1 297.6 93.4 296.7 94.7 297.3 96 299.4 97.3 298.5 98.6 299.7 99.9 297.7 101.2 298.8 102.5 299.8 103.8 299.2 105.1 298.9 106.5 297.3 107.8 298.5 109.1 296.4 110.4 298.6 111.7 296.4 113 295.1 114.3 294.5 115.6 295.5 116.9 296.3 118.2 297.6 119.5 297.6 120.8 297.3 122.1 296.4 123.4 298 124.7 295.6 126 296.2 127.3 296.7 128.6 295.4 129.9 295.4 131.2 296.5 132.5 298.3 133.8 297.6 135.1 298.8 136.4 300.2 137.7 302.4 139 303.9 140.3 304 141.6 303.1 142.9 302.9 144.2 304.4 145.5 303.4 146.8 303.1 148.1 302.7 149.4 302.6 150.7 302.3 152 302.6 153.3 304 154.6 303.4 155.9 303.3 157.2 302.3 158.5 302.4 159.8 301.7 161.1 302.5 162.4 301.1 163.7 301.8 165 302.9 166.3 302.9 167.6 302.2 168.9 302.3 170.2 301.5 171.5 302.3 172.8 302.8 174.1 300.7 175.4 299.4 176.7 299.2 178 301.8 179.3 302.5 180.6 299.8 181.9 298.5 183.2 299.3 184.5 299.7 185.8 300 187.1 299.8 188.4 298.8 189.7 299.4 191 300.7 192.3 301.6 193.6 302.8 194.9 303.2 196.2 303.5 197.5 303.7 198.8 305.7 200.1 306.4 201.4 307.4 202.7 307.4 204 307.3 205.4 307.2 206.7 307.3 208 307.2 209.3 306.7 210.6 306.7 211.9 307 213.2 307.6 214.5 307 215.8 306.5 217.1 307.4 218.4 307.4 219.7 307 221 306.2 222.3 307.2 223.6 307.6 224.9 307.1 226.2 307.3 227.5 306.6 228.8 306.3 230.1 306.3 231.4 306.4 232.7 305.6 234 306 235.3 305.3 236.6 306.6 237.9 306.6 239.2 306.9 240.5 307.3 241.8 307.6 243.1 307.2 244.4 306.8 245.7 307.1 247 306.9 248.3 307.6 249.6 307.6 250.9 307.6 252.2 307.6 253.5 307.5 253.5 307.8" fill="#c3c3c3"/>
<path d="M57 307.3H253.5" stroke="#a9a9a9" stroke-width="1.1"/>
<path d="M57 295.1 58.3 299 59.6 301.5 60.9 305.5 62.2 306.7 63.5 307.6 64.8 306.9 66.1 307.3 67.4 307.6 68.7 306.8 70 307.1 71.3 306.4 72.6 304 73.9 299.5 75.2 297.9 76.5 296.1 77.8 297.5 79.1 297.1 80.4 298.3 81.7 298.1 83 299.5 84.3 296 85.6 296.8 86.9 296 88.2 297.3 89.5 296.8 90.8 297.5 92.1 297.6 93.4 296.7 94.7 297.3 96 299.4 97.3 298.5 98.6 299.7 99.9 297.7 101.2 298.8 102.5 299.8 103.8 299.2 105.1 298.9 106.5 297.3 107.8 298.5 109.1 296.4 110.4 298.6 111.7 296.4 113 295.1 114.3 294.5 115.6 295.5 116.9 296.3 118.2 297.6 119.5 297.6 120.8 297.3 122.1 296.4 123.4 298 124.7 295.6 126 296.2 127.3 296.7 128.6 295.4 129.9 295.4 131.2 296.5 132.5 298.3 133.8 297.6 135.1 298.8 136.4 300.2 137.7 302.4 139 303.9 140.3 304 141.6 303.1 142.9 302.9 144.2 304.4 145.5 303.4 146.8 303.1 148.1 302.7 149.4 302.6 150.7 302.3 152 302.6 153.3 304 154.6 303.4 155.9 303.3 157.2 302.3 158.5 302.4 159.8 301.7 161.1 302.5 162.4 301.1 163.7 301.8 165 302.9 166.3 302.9 167.6 302.2 168.9 302.3 170.2 301.5 171.5 302.3 172.8 302.8 174.1 300.7 175.4 299.4 176.7 299.2 178 301.8 179.3 302.5 180.6 299.8 181.9 298.5 183.2 299.3 184.5 299.7 185.8 300 187.1 299.8 188.4 298.8 189.7 299.4 191 300.7 192.3 301.6 193.6 302.8 194.9 303.2 196.2 303.5 197.5 303.7 198.8 305.7 200.1 306.4 201.4 307.4 202.7 307.4 204 307.3 205.4 307.2 206.7 307.3 208 307.2 209.3 306.7 210.6 306.7 211.9 307 213.2 307.6 214.5 307 215.8 306.5 217.1 307.4 218.4 307.4 219.7 307 221 306.2 222.3 307.2 223.6 307.6 224.9 307.1 226.2 307.3 227.5 306.6 228.8 306.3 230.1 306.3 231.4 306.4 232.7 305.6 234 306 235.3 305.3 236.6 306.6 237.9 306.6 239.2 306.9 240.5 307.3 241.8 307.6 243.1 307.2 244.4 306.8 245.7 307.1 247 306.9 248.3 307.6 249.6 307.6 250.9 307.6 252.2 307.6 253.5 307.5" fill="none" stroke="#303030" stroke-opacity="1" stroke-width="1.25" stroke-linejoin="round"/>
<path d="M57 322.1L57 312.7 58.3 317.2 59.6 320.4 60.9 321.3 62.2 321.4 63.5 320.8 64.8 321 66.1 320.2 67.4 321 68.7 320 70 320.3 71.3 320.2 72.6 319.8 73.9 316 75.2 315.4 76.5 312 77.8 310.6 79.1 310 80.5 310 81.8 312.1 83.1 313.7 84.4 311.6 85.7 313.6 87 309.8 88.3 309.6 89.6 309.8 90.9 311.4 92.2 311.6 93.5 312.2 94.8 314 96.1 315 97.4 317.4 98.7 319.3 100 318.5 101.3 316.3 102.6 316.2 103.9 316.3 105.2 315.4 106.5 315.4 107.8 315.2 109.1 313.6 110.4 313.4 111.7 312.9 113 314.6 114.3 314.2 115.6 315.6 116.9 315.4 118.2 316.7 119.5 316.9 120.8 315.5 122.1 316.1 123.4 315.3 124.8 318 126.1 318.3 127.4 317.2 128.7 317.4 130 317.7 131.3 318 132.6 317.1 133.9 317.4 135.2 317.8 136.5 316.5 137.8 317.3 139.1 317.7 140.4 316.8 141.7 318.3 143 318.3 144.3 318.2 145.6 317 146.9 316.5 148.2 318 149.5 318 150.8 317.8 152.1 317.3 153.4 318.5 154.7 319.9 156 318.7 157.3 316.8 158.6 317.5 159.9 317.9 161.2 317.7 162.5 317.9 163.8 318.3 165.1 317.2 166.4 317.4 167.7 316.8 169 316.5 170.4 317.7 171.7 318.6 173 317.7 174.3 317.1 175.6 316.4 176.9 316.4 178.2 315.8 179.5 315.5 180.8 315.1 182.1 315.4 183.4 316 184.7 314.4 186 316.7 187.3 316.3 188.6 315.8 189.9 316.2 191.2 318 192.5 316.8 193.8 317.7 195.1 318.9 196.4 319.5 197.7 319.3 199 320 200.3 318.4 201.6 320 202.9 320.6 204.2 320.7 205.5 320.5 206.8 318.6 208.1 319.5 209.4 320.4 210.7 319.9 212 319.6 213.3 320.2 214.7 319.2 216 319.3 217.3 320.1 218.6 320.7 219.9 320.9 221.2 320.9 222.5 320.7 223.8 320.1 225.1 319.6 226.4 320.3 227.7 320.4 229 320.5 230.3 320.6 231.6 321.4 232.9 321.3 234.2 320.2 235.5 320.4 236.8 321.1 236.8 322.1" fill="#c3c3c3"/>
<path d="M57 321.5H236.8" stroke="#a9a9a9" stroke-width="1.1"/>
<path d="M57 312.7 58.3 317.2 59.6 320.4 60.9 321.3 62.2 321.4 63.5 320.8 64.8 321 66.1 320.2 67.4 321 68.7 320 70 320.3 71.3 320.2 72.6 319.8 73.9 316 75.2 315.4 76.5 312 77.8 310.6 79.1 310 80.5 310 81.8 312.1 83.1 313.7 84.4 311.6 85.7 313.6 87 309.8 88.3 309.6 89.6 309.8 90.9 311.4 92.2 311.6 93.5 312.2 94.8 314 96.1 315 97.4 317.4 98.7 319.3 100 318.5 101.3 316.3 102.6 316.2 103.9 316.3 105.2 315.4 106.5 315.4 107.8 315.2 109.1 313.6 110.4 313.4 111.7 312.9 113 314.6 114.3 314.2 115.6 315.6 116.9 315.4 118.2 316.7 119.5 316.9 120.8 315.5 122.1 316.1 123.4 315.3 124.8 318 126.1 318.3 127.4 317.2 128.7 317.4 130 317.7 131.3 318 132.6 317.1 133.9 317.4 135.2 317.8 136.5 316.5 137.8 317.3 139.1 317.7 140.4 316.8 141.7 318.3 143 318.3 144.3 318.2 145.6 317 146.9 316.5 148.2 318 149.5 318 150.8 317.8 152.1 317.3 153.4 318.5 154.7 319.9 156 318.7 157.3 316.8 158.6 317.5 159.9 317.9 161.2 317.7 162.5 317.9 163.8 318.3 165.1 317.2 166.4 317.4 167.7 316.8 169 316.5 170.4 317.7 171.7 318.6 173 317.7 174.3 317.1 175.6 316.4 176.9 316.4 178.2 315.8 179.5 315.5 180.8 315.1 182.1 315.4 183.4 316 184.7 314.4 186 316.7 187.3 316.3 188.6 315.8 189.9 316.2 191.2 318 192.5 316.8 193.8 317.7 195.1 318.9 196.4 319.5 197.7 319.3 199 320 200.3 318.4 201.6 320 202.9 320.6 204.2 320.7 205.5 320.5 206.8 318.6 208.1 319.5 209.4 320.4 210.7 319.9 212 319.6 213.3 320.2 214.7 319.2 216 319.3 217.3 320.1 218.6 320.7 219.9 320.9 221.2 320.9 222.5 320.7 223.8 320.1 225.1 319.6 226.4 320.3 227.7 320.4 229 320.5 230.3 320.6 231.6 321.4 232.9 321.3 234.2 320.2 235.5 320.4 236.8 321.1" fill="none" stroke="#303030" stroke-opacity="1" stroke-width="1.25" stroke-linejoin="round"/>
<path d="M57 336.4L57 323.1 58.3 327.6 59.6 331.8 60.9 334.7 62.2 335 63.5 335 64.8 334.8 66.1 334.9 67.4 334.5 68.7 335.7 70 336.1 71.3 336.1 72.6 334.5 73.9 331.2 75.2 328.3 76.5 323.1 77.8 324.1 79.1 324.3 80.4 324.2 81.7 326.1 83 326.7 84.3 326.9 85.6 327.4 86.9 324.6 88.2 327 89.5 325.5 90.8 323.8 92.1 326.9 93.4 326 94.7 327.2 96 328.9 97.3 330.6 98.6 331.9 99.9 331.9 101.2 330.7 102.5 331.8 103.8 332 105.1 330.7 106.4 331.3 107.7 331.4 109 330.4 110.3 330.1 111.6 329.8 112.9 330.4 114.2 329.1 115.5 327.1 116.8 325.1 118.1 327 119.4 327.5 120.7 327.7 122 325.6 123.3 326 124.6 326.8 125.9 325.8 127.2 326.1 128.5 327.5 129.8 330 131.1 330.3 132.4 329.8 133.7 329.2 135 331.4 136.3 331.9 137.6 332 138.9 332.1 140.2 333.9 141.5 333.8 142.8 333 144.1 331.2 145.4 331.8 146.7 331.8 148 331.8 149.3 331.3 150.6 332.1 151.9 332.5 153.2 331.1 154.5 332.6 155.8 332.2 157.1 331.5 158.4 332.7 159.7 333.6 161 331.3 162.3 332 163.6 333 164.9 331.5 166.2 332.6 167.5 332.7 168.8 332.4 170.1 332.8 171.4 333 172.7 332.6 174 334.6 175.3 333.7 176.6 332.8 177.9 332.1 179.2 332.1 180.5 333.4 181.8 333.1 183.1 333.1 184.4 333.5 185.7 334.2 187 333.8 188.3 334 189.6 333.2 190.9 333.4 192.2 332 193.5 331.2 194.8 333.1 196.1 333.7 197.4 334.1 198.7 333.5 200 332.7 201.3 333.6 202.6 334.3 203.9 335.4 205.2 333 206.5 332.5 207.8 332.9 209.1 331.8 210.4 331.7 211.7 331.7 213 333.9 213 336.4" fill="#c3c3c3"/>
<path d="M57 335.8H213" stroke="#a9a9a9" stroke-width="1.1"/>
<path d="M57 323.1 58.3 327.6 59.6 331.8 60.9 334.7 62.2 335 63.5 335 64.8 334.8 66.1 334.9 67.4 334.5 68.7 335.7 70 336.1 71.3 336.1 72.6 334.5 73.9 331.2 75.2 328.3 76.5 323.1 77.8 324.1 79.1 324.3 80.4 324.2 81.7 326.1 83 326.7 84.3 326.9 85.6 327.4 86.9 324.6 88.2 327 89.5 325.5 90.8 323.8 92.1 326.9 93.4 326 94.7 327.2 96 328.9 97.3 330.6 98.6 331.9 99.9 331.9 101.2 330.7 102.5 331.8 103.8 332 105.1 330.7 106.4 331.3 107.7 331.4 109 330.4 110.3 330.1 111.6 329.8 112.9 330.4 114.2 329.1 115.5 327.1 116.8 325.1 118.1 327 119.4 327.5 120.7 327.7 122 325.6 123.3 326 124.6 326.8 125.9 325.8 127.2 326.1 128.5 327.5 129.8 330 131.1 330.3 132.4 329.8 133.7 329.2 135 331.4 136.3 331.9 137.6 332 138.9 332.1 140.2 333.9 141.5 333.8 142.8 333 144.1 331.2 145.4 331.8 146.7 331.8 148 331.8 149.3 331.3 150.6 332.1 151.9 332.5 153.2 331.1 154.5 332.6 155.8 332.2 157.1 331.5 158.4 332.7 159.7 333.6 161 331.3 162.3 332 163.6 333 164.9 331.5 166.2 332.6 167.5 332.7 168.8 332.4 170.1 332.8 171.4 333 172.7 332.6 174 334.6 175.3 333.7 176.6 332.8 177.9 332.1 179.2 332.1 180.5 333.4 181.8 333.1 183.1 333.1 184.4 333.5 185.7 334.2 187 333.8 188.3 334 189.6 333.2 190.9 333.4 192.2 332 193.5 331.2 194.8 333.1 196.1 333.7 197.4 334.1 198.7 333.5 200 332.7 201.3 333.6 202.6 334.3 203.9 335.4 205.2 333 206.5 332.5 207.8 332.9 209.1 331.8 210.4 331.7 211.7 331.7 213 333.9" fill="none" stroke="#303030" stroke-opacity="1" stroke-width="1.25" stroke-linejoin="round"/>
<path d="M672 81L672 80.7 673.6 80.7 675.2 80.6 676.8 80.7 678.4 80.7 680 80.7 681.6 80.7 683.2 80.7 684.8 80.7 686.4 80.7 688 80.7 689.6 80.7 691.2 80.7 692.8 80.7 694.4 80.7 696 80.7 697.6 80.7 699.2 80.7 700.8 80.7 702.4 80.5 704 80.7 705.6 80.7 707.2 80.4 708.8 80.7 710.4 80.7 712 80.7 713.6 80.6 715.2 80.7 716.8 80.7 718.4 80.3 720 79.8 721.6 80.3 723.2 80.7 724.8 80.4 726.4 80.6 728 80.7 729.6 80.7 731.2 80.6 732.8 80.4 734.4 80.7 736 80.7 737.6 80.7 739.2 80.7 740.8 80.7 742.4 80.4 744 80.7 745.6 80.5 747.2 80.7 748.8 80.5 750.4 80.6 752 80.1 753.6 80.5 755.2 80.7 756.8 80.2 758.4 79.9 760 80 761.6 79.9 763.2 79.8 764.8 80.3 766.4 80.6 768 80.7 769.6 80.7 771.2 80.5 772.8 80.6 774.4 80.6 776 80.7 777.6 80.4 779.2 80.7 780.8 80.7 782.4 80.7 784 80.7 785.6 80.7 787.2 80.6 788.8 80 790.4 79.4 792 79.9 793.6 79.7 795.2 80.1 796.8 79.8 798.4 80 800 79.3 801.6 80.2 803.2 80.7 804.8 80.3 806.4 80.3 808 80.7 809.6 80.5 811.2 80.7 812.8 80.7 814.4 80.7 816 80.7 817.6 80.7 819.2 80.7 820.8 80.7 822.4 80.7 824 80.7 825.6 80.7 827.2 80.3 828.8 80.4 830.4 80.2 832 80.5 833.6 79.6 835.2 79.9 836.8 80.3 838.4 79.8 840 79.5 841.6 79.7 843.2 80 844.8 80.4 846.4 80.7 848 79.9 849.6 79.9 851.2 80 852.8 80 854.4 80.4 856 80.5 857.6 80.7 859.2 80.7 860.8 80.7 862.4 80.5 864 80.7 865.6 80.7 867.2 80.7 868.8 80.2 870.4 80.7 872 80.7 873.6 80.5 875.2 80.7 876.8 80.7 878.4 80.7 880 80.7 881.6 80.7 883.2 80.3 884.8 80.7 886.4 80.4 888 80.7 889.6 80.5 891.2 79.7 892.8 80.7 894.4 80.5 896 80 897.6 79.6 899.2 79.8 900.8 79.6 902.4 79.8 904 79.9 905.6 79.5 907.2 80.2 908.8 79.3 910.4 79.8 912 80.6 913.6 80 915.2 80.2 916.8 80.6 918.4 80.7 920 80 921.6 80.4 923.2 79.1 924.8 77.8 926.4 77.7 928 76.7 929.6 76.5 931.2 77 932.8 75.5 934.4 74.5 936 75.2 937.6 73.3 939.2 70.4 940.8 69.1 942.4 69.6 944 68.6 945.6 68.7 947.2 70.7 948.8 71.3 950.4 72 952 70.7 953.6 69 955.2 69 956.8 70.1 958.4 71.7 960 73.3 961.6 74.8 963.2 76.7 964.8 77.8 966.4 75.8 968 72 969.6 72.7 971.2 74.8 972.8 73.2 974.4 71.6 976 69.8 976 81" fill="#c3c3c3"/>
<path d="M672 80.5H976" stroke="#a9a9a9" stroke-width="1.1"/>
<path d="M674 67h7v14h-7zM687 67h9v14h-9zM710 67h23v14h-23zM747 67h6v14h-6zM775 67h1v14h-1zM786 67h4v14h-4zM790 67h17v14h-17zM818 67h3v14h-3zM824 67h3v14h-3zM828 67h2v14h-2zM834 67h9v14h-9zM870 67h16v14h-16z" fill="#dbac3e" shape-rendering="crispEdges"/>
<path d="M696 67h14v14h-14zM733 67h14v14h-14zM753 67h22v14h-22zM776 67h10v14h-10zM807 67h11v14h-11zM821 67h3v14h-3zM827 67h1v14h-1zM830 67h4v14h-4zM843 67h27v14h-27z" fill="#dd3029" shape-rendering="crispEdges"/>
<path d="M672 80.7 673.6 80.7 675.2 80.6 676.8 80.7 678.4 80.7 680 80.7 681.6 80.7 683.2 80.7 684.8 80.7 686.4 80.7 688 80.7 689.6 80.7 691.2 80.7 692.8 80.7 694.4 80.7 696 80.7 697.6 80.7 699.2 80.7 700.8 80.7 702.4 80.5 704 80.7 705.6 80.7 707.2 80.4 708.8 80.7 710.4 80.7 712 80.7 713.6 80.6 715.2 80.7 716.8 80.7 718.4 80.3 720 79.8 721.6 80.3 723.2 80.7 724.8 80.4 726.4 80.6 728 80.7 729.6 80.7 731.2 80.6 732.8 80.4 734.4 80.7 736 80.7 737.6 80.7 739.2 80.7 740.8 80.7 742.4 80.4 744 80.7 745.6 80.5 747.2 80.7 748.8 80.5 750.4 80.6 752 80.1 753.6 80.5 755.2 80.7 756.8 80.2 758.4 79.9 760 80 761.6 79.9 763.2 79.8 764.8 80.3 766.4 80.6 768 80.7 769.6 80.7 771.2 80.5 772.8 80.6 774.4 80.6 776 80.7 777.6 80.4 779.2 80.7 780.8 80.7 782.4 80.7 784 80.7 785.6 80.7 787.2 80.6 788.8 80 790.4 79.4 792 79.9 793.6 79.7 795.2 80.1 796.8 79.8 798.4 80 800 79.3 801.6 80.2 803.2 80.7 804.8 80.3 806.4 80.3 808 80.7 809.6 80.5 811.2 80.7 812.8 80.7 814.4 80.7 816 80.7 817.6 80.7 819.2 80.7 820.8 80.7 822.4 80.7 824 80.7 825.6 80.7 827.2 80.3 828.8 80.4 830.4 80.2 832 80.5 833.6 79.6 835.2 79.9 836.8 80.3 838.4 79.8 840 79.5 841.6 79.7 843.2 80 844.8 80.4 846.4 80.7 848 79.9 849.6 79.9 851.2 80 852.8 80 854.4 80.4 856 80.5 857.6 80.7 859.2 80.7 860.8 80.7 862.4 80.5 864 80.7 865.6 80.7 867.2 80.7 868.8 80.2 870.4 80.7 872 80.7 873.6 80.5 875.2 80.7 876.8 80.7 878.4 80.7 880 80.7 881.6 80.7 883.2 80.3 884.8 80.7 886.4 80.4 888 80.7 889.6 80.5 891.2 79.7 892.8 80.7 894.4 80.5 896 80 897.6 79.6 899.2 79.8 900.8 79.6 902.4 79.8 904 79.9 905.6 79.5 907.2 80.2 908.8 79.3 910.4 79.8 912 80.6 913.6 80 915.2 80.2 916.8 80.6 918.4 80.7 920 80 921.6 80.4 923.2 79.1 924.8 77.8 926.4 77.7 928 76.7 929.6 76.5 931.2 77 932.8 75.5 934.4 74.5 936 75.2 937.6 73.3 939.2 70.4 940.8 69.1 942.4 69.6 944 68.6 945.6 68.7 947.2 70.7 948.8 71.3 950.4 72 952 70.7 953.6 69 955.2 69 956.8 70.1 958.4 71.7 960 73.3 961.6 74.8 963.2 76.7 964.8 77.8 966.4 75.8 968 72 969.6 72.7 971.2 74.8 972.8 73.2 974.4 71.6 976 69.8" fill="none" stroke="#303030" stroke-opacity="0.75" stroke-width="0.9" stroke-linejoin="round" transform="translate(0 0.9)"/>
<path d="M636 95.2L636 94.7 637.6 88.5 639.2 91.1 640.8 93.8 642.4 95 644 94.7 645.6 94.6 647.2 95 648.8 95 650.4 94.7 652 95 653.6 94.8 655.2 94.5 656.8 94.3 658.5 95 660.1 94.9 661.7 94.8 663.3 95 664.9 94.8 666.5 95 668.1 94.3 669.7 94.4 671.3 95 672.9 94.4 674.5 94.8 676.1 94.7 677.7 94.5 679.3 95 680.9 94 682.5 94.7 684.1 94.8 685.7 94.4 687.3 95 688.9 95 690.5 94.9 692.1 95 693.7 95 695.3 95 696.9 95 698.5 94.2 700.2 94.5 701.8 95 703.4 94.7 705 94.6 706.6 95 708.2 95 709.8 95 711.4 95 713 95 714.6 95 716.2 95 717.8 94.8 719.4 93.6 721 94.6 722.6 94.5 724.2 94.4 725.8 94.7 727.4 94.9 729 94.6 730.6 94.6 732.2 94.7 733.8 94 735.4 94.4 737 94.7 738.6 95 740.2 95 741.8 94.8 743.5 95 745.1 95 746.7 95 748.3 95 749.9 94.8 751.5 94.6 753.1 94.3 754.7 94.4 756.3 94.2 757.9 94.2 759.5 94 761.1 93.7 762.7 94.9 764.3 94.3 765.9 94.3 767.5 94.3 769.1 95 770.7 94.8 772.3 94.4 773.9 94.2 775.5 95 777.1 95 778.7 94.2 780.3 94.5 781.9 94.7 783.5 94.1 785.2 94.5 786.8 94.5 788.4 94.9 790 95 791.6 95 793.2 94.4 794.8 94.4 796.4 93.5 798 94 799.6 94.6 801.2 94.3 802.8 94.6 804.4 95 806 95 807.6 95 809.2 94.7 810.8 95 812.4 94.9 814 94.8 815.6 95 817.2 94.9 818.8 95 820.4 95 822 94.9 823.6 94.9 825.2 95 826.8 95 828.5 95 830.1 95 831.7 94.8 833.3 94.6 834.9 95 836.5 95 838.1 95 839.7 94.4 841.3 95 842.9 94.8 844.5 95 846.1 94.7 847.7 94.7 849.3 94.4 850.9 95 852.5 94.7 854.1 94.4 855.7 94.6 857.3 94.6 858.9 94.9 860.5 95 862.1 94.5 863.7 95 865.3 95 866.9 95 868.5 95 870.2 95 871.8 95 873.4 95 875 94.8 876.6 94.7 878.2 95 879.8 95 881.4 94.7 883 95 884.6 95 886.2 95 887.8 95 889.4 94.4 891 93.2 892.6 93.2 894.2 92.4 895.8 93.1 897.4 93.4 899 93.2 900.6 92.5 902.2 92.6 903.8 93.4 905.4 92.7 907 92.3 908.6 93.7 910.2 93.6 911.8 94 913.5 93.5 915.1 93.1 916.7 92.8 918.3 91.8 919.9 90.9 921.5 91.4 923.1 91.4 924.7 91.6 926.3 91.5 927.9 92.1 929.5 92.3 931.1 91 932.7 90.8 934.3 90.9 935.9 90.4 937.5 89.5 939.1 89.1 940.7 89.4 942.3 88.2 943.9 88.1 945.5 87.6 947.1 86.6 948.7 86 950.3 85 951.9 84.2 953.5 83.1 955.2 82.4 956.8 83.6 958.4 84.1 960 84.8 961.6 84.4 963.2 84.7 964.8 85.8 966.4 84.6 968 87.6 969.6 89.9 971.2 91.7 972.8 90.3 974.4 85 976 82.1 976 95.2" fill="#c3c3c3"/>
<path d="M636 94.7H976" stroke="#a9a9a9" stroke-width="1.1"/>
<path d="M641 81h3v14h-3zM648 81h19v14h-19zM668 81h9v14h-9zM713 81h2v14h-2zM781 81h5v14h-5zM791 81h1v14h-1zM856 81h28v14h-28zM901 81h3v14h-3z" fill="#dbac3e" shape-rendering="crispEdges"/>
<path d="M677 81h12v14h-12zM690 81h23v14h-23zM715 81h23v14h-23zM743 81h38v14h-38zM786 81h4v14h-4zM790 81h1v14h-1zM792 81h7v14h-7zM801 81h14v14h-14zM817 81h1v14h-1zM821 81h2v14h-2zM828 81h1v14h-1zM832 81h24v14h-24z" fill="#dd3029" shape-rendering="crispEdges"/>
<path d="M689 81h1v14h-1zM738 81h5v14h-5zM799 81h2v14h-2zM815 81h2v14h-2zM818 81h3v14h-3zM823 81h5v14h-5zM829 81h3v14h-3z" fill="#a718ff" shape-rendering="crispEdges"/>
<path d="M636 94.7 637.6 88.5 639.2 91.1 640.8 93.8 642.4 95 644 94.7 645.6 94.6 647.2 95 648.8 95 650.4 94.7 652 95 653.6 94.8 655.2 94.5 656.8 94.3 658.5 95 660.1 94.9 661.7 94.8 663.3 95 664.9 94.8 666.5 95 668.1 94.3 669.7 94.4 671.3 95 672.9 94.4 674.5 94.8 676.1 94.7 677.7 94.5 679.3 95 680.9 94 682.5 94.7 684.1 94.8 685.7 94.4 687.3 95 688.9 95 690.5 94.9 692.1 95 693.7 95 695.3 95 696.9 95 698.5 94.2 700.2 94.5 701.8 95 703.4 94.7 705 94.6 706.6 95 708.2 95 709.8 95 711.4 95 713 95 714.6 95 716.2 95 717.8 94.8 719.4 93.6 721 94.6 722.6 94.5 724.2 94.4 725.8 94.7 727.4 94.9 729 94.6 730.6 94.6 732.2 94.7 733.8 94 735.4 94.4 737 94.7 738.6 95 740.2 95 741.8 94.8 743.5 95 745.1 95 746.7 95 748.3 95 749.9 94.8 751.5 94.6 753.1 94.3 754.7 94.4 756.3 94.2 757.9 94.2 759.5 94 761.1 93.7 762.7 94.9 764.3 94.3 765.9 94.3 767.5 94.3 769.1 95 770.7 94.8 772.3 94.4 773.9 94.2 775.5 95 777.1 95 778.7 94.2 780.3 94.5 781.9 94.7 783.5 94.1 785.2 94.5 786.8 94.5 788.4 94.9 790 95 791.6 95 793.2 94.4 794.8 94.4 796.4 93.5 798 94 799.6 94.6 801.2 94.3 802.8 94.6 804.4 95 806 95 807.6 95 809.2 94.7 810.8 95 812.4 94.9 814 94.8 815.6 95 817.2 94.9 818.8 95 820.4 95 822 94.9 823.6 94.9 825.2 95 826.8 95 828.5 95 830.1 95 831.7 94.8 833.3 94.6 834.9 95 836.5 95 838.1 95 839.7 94.4 841.3 95 842.9 94.8 844.5 95 846.1 94.7 847.7 94.7 849.3 94.4 850.9 95 852.5 94.7 854.1 94.4 855.7 94.6 857.3 94.6 858.9 94.9 860.5 95 862.1 94.5 863.7 95 865.3 95 866.9 95 868.5 95 870.2 95 871.8 95 873.4 95 875 94.8 876.6 94.7 878.2 95 879.8 95 881.4 94.7 883 95 884.6 95 886.2 95 887.8 95 889.4 94.4 891 93.2 892.6 93.2 894.2 92.4 895.8 93.1 897.4 93.4 899 93.2 900.6 92.5 902.2 92.6 903.8 93.4 905.4 92.7 907 92.3 908.6 93.7 910.2 93.6 911.8 94 913.5 93.5 915.1 93.1 916.7 92.8 918.3 91.8 919.9 90.9 921.5 91.4 923.1 91.4 924.7 91.6 926.3 91.5 927.9 92.1 929.5 92.3 931.1 91 932.7 90.8 934.3 90.9 935.9 90.4 937.5 89.5 939.1 89.1 940.7 89.4 942.3 88.2 943.9 88.1 945.5 87.6 947.1 86.6 948.7 86 950.3 85 951.9 84.2 953.5 83.1 955.2 82.4 956.8 83.6 958.4 84.1 960 84.8 961.6 84.4 963.2 84.7 964.8 85.8 966.4 84.6 968 87.6 969.6 89.9 971.2 91.7 972.8 90.3 974.4 85 976 82.1" fill="none" stroke="#303030" stroke-opacity="0.75" stroke-width="0.9" stroke-linejoin="round" transform="translate(0 0.9)"/>
<path d="M621 109.5L621 109.2 622.6 98.5 624.2 101.8 625.8 104.2 627.4 107.5 629 107.5 630.6 107.4 632.2 107.6 633.9 107.6 635.5 108.4 637.1 108.1 638.7 109 640.3 109 641.9 109.1 643.5 109 645.1 108.6 646.7 108.7 648.3 108.8 649.9 109.2 651.5 108.8 653.1 109 654.7 109.2 656.3 109.2 657.9 108.9 659.6 109.2 661.2 109.2 662.8 109 664.4 109.2 666 109.2 667.6 109.2 669.2 109.1 670.8 109 672.4 108.6 674 108.5 675.6 108.2 677.2 109.2 678.8 108.9 680.4 109.2 682 109.2 683.6 109.2 685.3 109.2 686.9 108.8 688.5 108.7 690.1 108.6 691.7 109.2 693.3 108.3 694.9 108.7 696.5 108.5 698.1 108.7 699.7 108.8 701.3 109.2 702.9 109.2 704.5 109.2 706.1 109.2 707.7 109.2 709.3 109.2 711 108.9 712.6 109.1 714.2 109.1 715.8 109 717.4 108.5 719 109 720.6 108.7 722.2 109.2 723.8 108.9 725.4 108.8 727 109.1 728.6 108.9 730.2 108.8 731.8 109.1 733.4 109.1 735 108.4 736.7 108 738.3 107.9 739.9 108.7 741.5 108.4 743.1 108.6 744.7 109 746.3 109.1 747.9 108.7 749.5 109 751.1 109.2 752.7 109.2 754.3 109 755.9 109.2 757.5 109.2 759.1 108.9 760.8 108.9 762.4 109.2 764 109.2 765.6 109.2 767.2 108.9 768.8 109 770.4 109.2 772 109.2 773.6 109.2 775.2 108.9 776.8 108.7 778.4 108.6 780 109.2 781.6 109.2 783.2 108.8 784.8 108.9 786.5 109.1 788.1 109.2 789.7 109.2 791.3 109.2 792.9 109 794.5 109.2 796.1 109.2 797.7 109.2 799.3 109.2 800.9 109.2 802.5 109.2 804.1 109.2 805.7 109.1 807.3 109.1 808.9 109.2 810.5 109.1 812.2 109.2 813.8 109.1 815.4 109.2 817 108.6 818.6 108.9 820.2 109.1 821.8 109.2 823.4 109.2 825 109.2 826.6 109.2 828.2 109.2 829.8 109.1 831.4 108.7 833 109.1 834.6 108.5 836.2 108.8 837.9 109.1 839.5 109.2 841.1 109.2 842.7 108.4 844.3 109.2 845.9 109.2 847.5 109.1 849.1 109.2 850.7 109.1 852.3 108.3 853.9 109.1 855.5 108.8 857.1 108.1 858.7 108.2 860.3 109.2 862 109.2 863.6 108.9 865.2 109 866.8 109.2 868.4 109.2 870 109.2 871.6 109.1 873.2 108.9 874.8 109.2 876.4 109.2 878 108.3 879.6 108.4 881.2 108.8 882.8 109.2 884.4 109.2 886 108.9 887.7 109.2 889.3 109.2 890.9 109 892.5 109 894.1 108.7 895.7 108.6 897.3 109.2 898.9 109.1 900.5 109.1 902.1 109.2 903.7 109.2 905.3 109 906.9 109.2 908.5 109 910.1 108.8 911.7 108.3 913.4 108 915 108.3 916.6 109.2 918.2 109.2 919.8 109.2 921.4 109.2 923 109.2 924.6 109.2 926.2 109.2 927.8 107.6 929.4 107.8 931 106.4 932.6 105.6 934.2 105.1 935.8 104 937.4 104.7 939.1 103.7 940.7 104 942.3 101.6 943.9 100.2 945.5 101.2 947.1 100.6 948.7 98.5 950.3 98.1 951.9 98.3 953.5 99.1 955.1 96.8 956.7 96.7 958.3 100.9 959.9 99.7 961.5 98.8 963.1 99.2 964.8 99.7 966.4 101.5 968 103.4 969.6 105.9 971.2 107.8 972.8 105.2 974.4 102.8 976 98.4 976 109.5" fill="#c3c3c3"/>
<path d="M621 109H976" stroke="#a9a9a9" stroke-width="1.1"/>
<path d="M628 95h4v15h-4zM637 95h4v15h-4zM645 95h1v15h-1zM647 95h9v15h-9zM662 95h9v15h-9zM674 95h2v15h-2zM680 95h2v15h-2zM752 95h4v15h-4zM758 95h3v15h-3zM878 95h2v15h-2zM892 95h2v15h-2zM895 95h8v15h-8zM905 95h2v15h-2zM909 95h19v15h-19z" fill="#dbac3e" shape-rendering="crispEdges"/>
<path d="M671 95h3v15h-3zM676 95h4v15h-4zM682 95h11v15h-11zM697 95h2v15h-2zM700 95h4v15h-4zM736 95h16v15h-16zM756 95h2v15h-2zM761 95h4v15h-4zM766 95h13v15h-13zM796 95h3v15h-3zM827 95h1v15h-1zM837 95h41v15h-41zM880 95h12v15h-12zM894 95h1v15h-1z" fill="#dd3029" shape-rendering="crispEdges"/>
<path d="M693 95h4v15h-4zM699 95h1v15h-1zM704 95h32v15h-32zM765 95h1v15h-1zM779 95h11v15h-11zM790 95h6v15h-6zM799 95h28v15h-28zM828 95h9v15h-9z" fill="#a718ff" shape-rendering="crispEdges"/>
<path d="M621 109.2 622.6 98.5 624.2 101.8 625.8 104.2 627.4 107.5 629 107.5 630.6 107.4 632.2 107.6 633.9 107.6 635.5 108.4 637.1 108.1 638.7 109 640.3 109 641.9 109.1 643.5 109 645.1 108.6 646.7 108.7 648.3 108.8 649.9 109.2 651.5 108.8 653.1 109 654.7 109.2 656.3 109.2 657.9 108.9 659.6 109.2 661.2 109.2 662.8 109 664.4 109.2 666 109.2 667.6 109.2 669.2 109.1 670.8 109 672.4 108.6 674 108.5 675.6 108.2 677.2 109.2 678.8 108.9 680.4 109.2 682 109.2 683.6 109.2 685.3 109.2 686.9 108.8 688.5 108.7 690.1 108.6 691.7 109.2 693.3 108.3 694.9 108.7 696.5 108.5 698.1 108.7 699.7 108.8 701.3 109.2 702.9 109.2 704.5 109.2 706.1 109.2 707.7 109.2 709.3 109.2 711 108.9 712.6 109.1 714.2 109.1 715.8 109 717.4 108.5 719 109 720.6 108.7 722.2 109.2 723.8 108.9 725.4 108.8 727 109.1 728.6 108.9 730.2 108.8 731.8 109.1 733.4 109.1 735 108.4 736.7 108 738.3 107.9 739.9 108.7 741.5 108.4 743.1 108.6 744.7 109 746.3 109.1 747.9 108.7 749.5 109 751.1 109.2 752.7 109.2 754.3 109 755.9 109.2 757.5 109.2 759.1 108.9 760.8 108.9 762.4 109.2 764 109.2 765.6 109.2 767.2 108.9 768.8 109 770.4 109.2 772 109.2 773.6 109.2 775.2 108.9 776.8 108.7 778.4 108.6 780 109.2 781.6 109.2 783.2 108.8 784.8 108.9 786.5 109.1 788.1 109.2 789.7 109.2 791.3 109.2 792.9 109 794.5 109.2 796.1 109.2 797.7 109.2 799.3 109.2 800.9 109.2 802.5 109.2 804.1 109.2 805.7 109.1 807.3 109.1 808.9 109.2 810.5 109.1 812.2 109.2 813.8 109.1 815.4 109.2 817 108.6 818.6 108.9 820.2 109.1 821.8 109.2 823.4 109.2 825 109.2 826.6 109.2 828.2 109.2 829.8 109.1 831.4 108.7 833 109.1 834.6 108.5 836.2 108.8 837.9 109.1 839.5 109.2 841.1 109.2 842.7 108.4 844.3 109.2 845.9 109.2 847.5 109.1 849.1 109.2 850.7 109.1 852.3 108.3 853.9 109.1 855.5 108.8 857.1 108.1 858.7 108.2 860.3 109.2 862 109.2 863.6 108.9 865.2 109 866.8 109.2 868.4 109.2 870 109.2 871.6 109.1 873.2 108.9 874.8 109.2 876.4 109.2 878 108.3 879.6 108.4 881.2 108.8 882.8 109.2 884.4 109.2 886 108.9 887.7 109.2 889.3 109.2 890.9 109 892.5 109 894.1 108.7 895.7 108.6 897.3 109.2 898.9 109.1 900.5 109.1 902.1 109.2 903.7 109.2 905.3 109 906.9 109.2 908.5 109 910.1 108.8 911.7 108.3 913.4 108 915 108.3 916.6 109.2 918.2 109.2 919.8 109.2 921.4 109.2 923 109.2 924.6 109.2 926.2 109.2 927.8 107.6 929.4 107.8 931 106.4 932.6 105.6 934.2 105.1 935.8 104 937.4 104.7 939.1 103.7 940.7 104 942.3 101.6 943.9 100.2 945.5 101.2 947.1 100.6 948.7 98.5 950.3 98.1 951.9 98.3 953.5 99.1 955.1 96.8 956.7 96.7 958.3 100.9 959.9 99.7 961.5 98.8 963.1 99.2 964.8 99.7 966.4 101.5 968 103.4 969.6 105.9 971.2 107.8 972.8 105.2 974.4 102.8 976 98.4" fill="none" stroke="#303030" stroke-opacity="0.75" stroke-width="0.9" stroke-linejoin="round" transform="translate(0 0.9)"/>
<path d="M612.3 123.8L612.3 123.5 613.9 115.4 615.5 119.5 617.1 121.8 618.7 121.6 620.3 121.4 621.9 121.6 623.5 121.6 625.1 122.7 626.7 122.5 628.3 122.1 629.9 122.2 631.5 121.7 633.1 121.7 634.7 121.8 636.3 121.7 637.9 122.4 639.5 122.4 641.1 122.1 642.7 122.4 644.3 121.9 645.9 121.8 647.5 121.6 649.2 122.5 650.8 121.8 652.4 121.6 654 121.3 655.6 121.8 657.2 121.9 658.8 123.5 660.4 123.5 662 123.5 663.6 123.5 665.2 123.5 666.8 123.5 668.4 123.3 670 123.5 671.6 123.4 673.2 123.4 674.8 123.4 676.4 123.1 678 123.5 679.6 123.3 681.2 123.5 682.8 123.5 684.4 122.9 686 123.1 687.6 122.7 689.2 123.1 690.8 122.6 692.4 123.5 694 123.5 695.6 123.5 697.2 123.4 698.8 123.2 700.4 123.3 702 123.2 703.6 122.5 705.2 122.7 706.8 123.1 708.4 123 710 123.5 711.6 123.3 713.2 123.5 714.8 123.4 716.4 123.2 718 122.6 719.6 123.1 721.2 123.5 722.9 123.5 724.5 123 726.1 123.5 727.7 122.8 729.3 123.5 730.9 123.5 732.5 123.5 734.1 123.5 735.7 123.5 737.3 123.5 738.9 122.9 740.5 123.3 742.1 123.4 743.7 122.7 745.3 122.4 746.9 122.2 748.5 122.1 750.1 122.6 751.7 122.9 753.3 123.2 754.9 122.6 756.5 123.4 758.1 122.9 759.7 123.2 761.3 123.4 762.9 123.5 764.5 123.5 766.1 123.1 767.7 123.5 769.3 123.5 770.9 123.2 772.5 123.4 774.1 123.3 775.7 123 777.3 123.5 778.9 122.8 780.5 122.5 782.1 122.5 783.7 122.3 785.3 122.7 786.9 122.2 788.5 122 790.1 123.4 791.7 123.4 793.3 123 795 123.5 796.6 123.4 798.2 122.7 799.8 123.2 801.4 123 803 123.5 804.6 122.8 806.2 122.8 807.8 123.2 809.4 123.1 811 123.1 812.6 122.8 814.2 123 815.8 122.9 817.4 123.5 819 123.5 820.6 123.5 822.2 123.4 823.8 123.5 825.4 123.5 827 123.5 828.6 123.5 830.2 123.1 831.8 123.5 833.4 123.1 835 122.9 836.6 123.5 838.2 123.1 839.8 123.5 841.4 123 843 123.5 844.6 122.9 846.2 122.8 847.8 123 849.4 122.6 851 122.7 852.6 122.5 854.2 122.2 855.8 122.7 857.4 123 859 123.5 860.6 123.4 862.2 122.9 863.8 123.5 865.4 123.4 867.1 122.9 868.7 122.3 870.3 122.5 871.9 123.3 873.5 122.9 875.1 122.7 876.7 122.9 878.3 123.5 879.9 123.5 881.5 123.3 883.1 122.6 884.7 122.8 886.3 123 887.9 123.2 889.5 122.7 891.1 122.1 892.7 123 894.3 123 895.9 123.5 897.5 122.9 899.1 123.5 900.7 123.5 902.3 123.5 903.9 123.4 905.5 123.2 907.1 123.5 908.7 122.6 910.3 122 911.9 121.8 913.5 122.2 915.1 122.7 916.7 122.7 918.3 122.8 919.9 122.3 921.5 123.1 923.1 123 924.7 122.8 926.3 122.8 927.9 122.7 929.5 122.6 931.1 122.6 932.7 121.2 934.3 118.7 935.9 117.9 937.5 117.3 939.1 117.1 940.8 116.3 942.4 114.7 944 115 945.6 113.6 947.2 114 948.8 113.4 950.4 114 952 114.3 953.6 116.5 955.2 116.7 956.8 116.5 958.4 115.1 960 115.5 961.6 115.2 963.2 114.3 964.8 115.3 966.4 116.7 968 118.1 969.6 121 971.2 119.7 972.8 116.9 974.4 113.8 976 113.1 976 123.8" fill="#c3c3c3"/>
<path d="M612.3 123.2H976" stroke="#a9a9a9" stroke-width="1.1"/>
<path d="M621 110h7v14h-7zM630 110h2v14h-2zM656 110h4v14h-4zM671 110h4v14h-4zM907 110h2v14h-2zM912 110h7v14h-7zM923 110h6v14h-6z" fill="#dbac3e" shape-rendering="crispEdges"/>
<path d="M660 110h11v14h-11zM675 110h14v14h-14zM689 110h2v14h-2zM693 110h3v14h-3zM716 110h4v14h-4zM725 110h2v14h-2zM733 110h28v14h-28zM821 110h2v14h-2zM827 110h2v14h-2zM834 110h2v14h-2zM838 110h3v14h-3zM887 110h20v14h-20zM909 110h3v14h-3zM919 110h4v14h-4z" fill="#dd3029" shape-rendering="crispEdges"/>
<path d="M689 110h1v14h-1zM691 110h2v14h-2zM696 110h20v14h-20zM720 110h5v14h-5zM727 110h6v14h-6zM761 110h29v14h-29zM790 110h31v14h-31zM823 110h4v14h-4zM829 110h5v14h-5zM836 110h2v14h-2zM841 110h46v14h-46z" fill="#a718ff" shape-rendering="crispEdges"/>
<path d="M612.3 123.5 613.9 115.4 615.5 119.5 617.1 121.8 618.7 121.6 620.3 121.4 621.9 121.6 623.5 121.6 625.1 122.7 626.7 122.5 628.3 122.1 629.9 122.2 631.5 121.7 633.1 121.7 634.7 121.8 636.3 121.7 637.9 122.4 639.5 122.4 641.1 122.1 642.7 122.4 644.3 121.9 645.9 121.8 647.5 121.6 649.2 122.5 650.8 121.8 652.4 121.6 654 121.3 655.6 121.8 657.2 121.9 658.8 123.5 660.4 123.5 662 123.5 663.6 123.5 665.2 123.5 666.8 123.5 668.4 123.3 670 123.5 671.6 123.4 673.2 123.4 674.8 123.4 676.4 123.1 678 123.5 679.6 123.3 681.2 123.5 682.8 123.5 684.4 122.9 686 123.1 687.6 122.7 689.2 123.1 690.8 122.6 692.4 123.5 694 123.5 695.6 123.5 697.2 123.4 698.8 123.2 700.4 123.3 702 123.2 703.6 122.5 705.2 122.7 706.8 123.1 708.4 123 710 123.5 711.6 123.3 713.2 123.5 714.8 123.4 716.4 123.2 718 122.6 719.6 123.1 721.2 123.5 722.9 123.5 724.5 123 726.1 123.5 727.7 122.8 729.3 123.5 730.9 123.5 732.5 123.5 734.1 123.5 735.7 123.5 737.3 123.5 738.9 122.9 740.5 123.3 742.1 123.4 743.7 122.7 745.3 122.4 746.9 122.2 748.5 122.1 750.1 122.6 751.7 122.9 753.3 123.2 754.9 122.6 756.5 123.4 758.1 122.9 759.7 123.2 761.3 123.4 762.9 123.5 764.5 123.5 766.1 123.1 767.7 123.5 769.3 123.5 770.9 123.2 772.5 123.4 774.1 123.3 775.7 123 777.3 123.5 778.9 122.8 780.5 122.5 782.1 122.5 783.7 122.3 785.3 122.7 786.9 122.2 788.5 122 790.1 123.4 791.7 123.4 793.3 123 795 123.5 796.6 123.4 798.2 122.7 799.8 123.2 801.4 123 803 123.5 804.6 122.8 806.2 122.8 807.8 123.2 809.4 123.1 811 123.1 812.6 122.8 814.2 123 815.8 122.9 817.4 123.5 819 123.5 820.6 123.5 822.2 123.4 823.8 123.5 825.4 123.5 827 123.5 828.6 123.5 830.2 123.1 831.8 123.5 833.4 123.1 835 122.9 836.6 123.5 838.2 123.1 839.8 123.5 841.4 123 843 123.5 844.6 122.9 846.2 122.8 847.8 123 849.4 122.6 851 122.7 852.6 122.5 854.2 122.2 855.8 122.7 857.4 123 859 123.5 860.6 123.4 862.2 122.9 863.8 123.5 865.4 123.4 867.1 122.9 868.7 122.3 870.3 122.5 871.9 123.3 873.5 122.9 875.1 122.7 876.7 122.9 878.3 123.5 879.9 123.5 881.5 123.3 883.1 122.6 884.7 122.8 886.3 123 887.9 123.2 889.5 122.7 891.1 122.1 892.7 123 894.3 123 895.9 123.5 897.5 122.9 899.1 123.5 900.7 123.5 902.3 123.5 903.9 123.4 905.5 123.2 907.1 123.5 908.7 122.6 910.3 122 911.9 121.8 913.5 122.2 915.1 122.7 916.7 122.7 918.3 122.8 919.9 122.3 921.5 123.1 923.1 123 924.7 122.8 926.3 122.8 927.9 122.7 929.5 122.6 931.1 122.6 932.7 121.2 934.3 118.7 935.9 117.9 937.5 117.3 939.1 117.1 940.8 116.3 942.4 114.7 944 115 945.6 113.6 947.2 114 948.8 113.4 950.4 114 952 114.3 953.6 116.5 955.2 116.7 956.8 116.5 958.4 115.1 960 115.5 961.6 115.2 963.2 114.3 964.8 115.3 966.4 116.7 968 118.1 969.6 121 971.2 119.7 972.8 116.9 974.4 113.8 976 113.1" fill="none" stroke="#303030" stroke-opacity="0.75" stroke-width="0.9" stroke-linejoin="round" transform="translate(0 0.9)"/>
<path d="M610.5 138L610.5 137.6 612.1 132.3 613.7 136 615.3 136.5 616.9 135.4 618.5 134.7 620.1 134.7 621.7 135 623.3 135.1 624.9 135.8 626.5 135.9 628.2 135 629.8 134.7 631.4 136.2 633 136.1 634.6 135.3 636.2 135.9 637.8 136.1 639.4 136.9 641 135.6 642.6 136.3 644.2 136.5 645.8 135.7 647.4 136 649 136.4 650.6 137.1 652.2 136.3 653.8 136.4 655.4 135.8 657 136.2 658.6 137.6 660.3 137.7 661.9 137.7 663.5 137.7 665.1 137.7 666.7 137.6 668.3 137.7 669.9 137.7 671.5 137.7 673.1 137.7 674.7 137.7 676.3 137.7 677.9 137.7 679.5 137.4 681.1 137.7 682.7 137.7 684.3 137.6 685.9 137.7 687.5 137.7 689.1 137.7 690.7 137.7 692.4 137.7 694 137.7 695.6 137.7 697.2 137.7 698.8 137.5 700.4 137.1 702 137.7 703.6 137.7 705.2 137.7 706.8 137.7 708.4 137.7 710 137.4 711.6 137 713.2 137.1 714.8 137.7 716.4 137.7 718 137.7 719.6 137.7 721.2 137.7 722.8 137.6 724.4 137.7 726.1 137.7 727.7 137.7 729.3 137.6 730.9 137.7 732.5 137.5 734.1 137.7 735.7 137.7 737.3 137.5 738.9 137.3 740.5 137.2 742.1 137.7 743.7 137.7 745.3 137.7 746.9 137.5 748.5 137.7 750.1 137.7 751.7 137.7 753.3 137.7 754.9 137.7 756.5 137.7 758.2 137.4 759.8 136.7 761.4 136.7 763 137.7 764.6 137.7 766.2 137.7 767.8 137.7 769.4 137 771 137.4 772.6 137.1 774.2 137.5 775.8 137.6 777.4 137.6 779 137.7 780.6 137.2 782.2 137.5 783.8 137.5 785.4 137.7 787 137.7 788.6 137 790.2 137.5 791.9 137.4 793.5 137.7 795.1 137.7 796.7 137.7 798.3 137.6 799.9 137.7 801.5 137.7 803.1 137.7 804.7 137.7 806.3 137.7 807.9 137.7 809.5 137.7 811.1 137.7 812.7 137.7 814.3 137.3 815.9 137.7 817.5 137.7 819.1 137.7 820.7 137.7 822.3 137.7 824 137.7 825.6 137.6 827.2 137.7 828.8 137.6 830.4 136.9 832 137.7 833.6 137.3 835.2 137.1 836.8 137.7 838.4 136.7 840 137.7 841.6 137.2 843.2 137.3 844.8 137.3 846.4 137.7 848 137.7 849.6 137.7 851.2 137.5 852.8 137.7 854.4 137.4 856.1 136.9 857.7 137.4 859.3 137.2 860.9 136.7 862.5 137.1 864.1 136.9 865.7 137.7 867.3 137.7 868.9 137.7 870.5 137.7 872.1 137.7 873.7 137.7 875.3 137.7 876.9 137.5 878.5 137.7 880.1 136.9 881.7 137.2 883.3 137.7 884.9 137.7 886.5 137.7 888.1 137.2 889.8 137.3 891.4 137.7 893 137.7 894.6 137.7 896.2 137.7 897.8 137.1 899.4 137.3 901 137.4 902.6 137.3 904.2 137.4 905.8 137.7 907.4 137.7 909 137.4 910.6 137.7 912.2 137.7 913.8 137.4 915.4 137.6 917 137.5 918.6 137.7 920.2 137.7 921.9 137.4 923.5 137.7 925.1 137.7 926.7 137.7 928.3 137.6 929.9 136.8 931.5 137.7 933.1 137.7 934.7 137.6 936.3 137.1 937.9 137.7 939.5 137.7 941.1 136.9 942.7 137 944.3 136.9 945.9 136.6 947.5 136.6 949.1 136.6 950.7 136.2 952.3 136 954 135.2 955.6 133.6 957.2 132.2 958.8 134.1 960.4 133.1 962 132.6 963.6 130.8 965.2 130.9 966.8 129.9 968.4 128.7 970 127.4 970 138" fill="#c3c3c3"/>
<path d="M610.5 137.4H970" stroke="#a9a9a9" stroke-width="1.1"/>
<path d="M619 124h9v14h-9zM630 124h2v14h-2zM654 124h14v14h-14zM669 124h3v14h-3zM915 124h7v14h-7zM924 124h5v14h-5zM930 124h2v14h-2z" fill="#dbac3e" shape-rendering="crispEdges"/>
<path d="M668 124h1v14h-1zM672 124h24v14h-24zM706 124h4v14h-4zM716 124h2v14h-2zM720 124h3v14h-3zM732 124h4v14h-4zM740 124h2v14h-2zM744 124h2v14h-2zM775 124h8v14h-8zM896 124h1v14h-1zM906 124h9v14h-9z" fill="#dd3029" shape-rendering="crispEdges"/>
<path d="M696 124h10v14h-10zM710 124h6v14h-6zM718 124h2v14h-2zM723 124h9v14h-9zM736 124h4v14h-4zM742 124h2v14h-2zM746 124h29v14h-29zM783 124h7v14h-7zM790 124h106v14h-106zM897 124h9v14h-9z" fill="#a718ff" shape-rendering="crispEdges"/>
<path d="M610.5 137.6 612.1 132.3 613.7 136 615.3 136.5 616.9 135.4 618.5 134.7 620.1 134.7 621.7 135 623.3 135.1 624.9 135.8 626.5 135.9 628.2 135 629.8 134.7 631.4 136.2 633 136.1 634.6 135.3 636.2 135.9 637.8 136.1 639.4 136.9 641 135.6 642.6 136.3 644.2 136.5 645.8 135.7 647.4 136 649 136.4 650.6 137.1 652.2 136.3 653.8 136.4 655.4 135.8 657 136.2 658.6 137.6 660.3 137.7 661.9 137.7 663.5 137.7 665.1 137.7 666.7 137.6 668.3 137.7 669.9 137.7 671.5 137.7 673.1 137.7 674.7 137.7 676.3 137.7 677.9 137.7 679.5 137.4 681.1 137.7 682.7 137.7 684.3 137.6 685.9 137.7 687.5 137.7 689.1 137.7 690.7 137.7 692.4 137.7 694 137.7 695.6 137.7 697.2 137.7 698.8 137.5 700.4 137.1 702 137.7 703.6 137.7 705.2 137.7 706.8 137.7 708.4 137.7 710 137.4 711.6 137 713.2 137.1 714.8 137.7 716.4 137.7 718 137.7 719.6 137.7 721.2 137.7 722.8 137.6 724.4 137.7 726.1 137.7 727.7 137.7 729.3 137.6 730.9 137.7 732.5 137.5 734.1 137.7 735.7 137.7 737.3 137.5 738.9 137.3 740.5 137.2 742.1 137.7 743.7 137.7 745.3 137.7 746.9 137.5 748.5 137.7 750.1 137.7 751.7 137.7 753.3 137.7 754.9 137.7 756.5 137.7 758.2 137.4 759.8 136.7 761.4 136.7 763 137.7 764.6 137.7 766.2 137.7 767.8 137.7 769.4 137 771 137.4 772.6 137.1 774.2 137.5 775.8 137.6 777.4 137.6 779 137.7 780.6 137.2 782.2 137.5 783.8 137.5 785.4 137.7 787 137.7 788.6 137 790.2 137.5 791.9 137.4 793.5 137.7 795.1 137.7 796.7 137.7 798.3 137.6 799.9 137.7 801.5 137.7 803.1 137.7 804.7 137.7 806.3 137.7 807.9 137.7 809.5 137.7 811.1 137.7 812.7 137.7 814.3 137.3 815.9 137.7 817.5 137.7 819.1 137.7 820.7 137.7 822.3 137.7 824 137.7 825.6 137.6 827.2 137.7 828.8 137.6 830.4 136.9 832 137.7 833.6 137.3 835.2 137.1 836.8 137.7 838.4 136.7 840 137.7 841.6 137.2 843.2 137.3 844.8 137.3 846.4 137.7 848 137.7 849.6 137.7 851.2 137.5 852.8 137.7 854.4 137.4 856.1 136.9 857.7 137.4 859.3 137.2 860.9 136.7 862.5 137.1 864.1 136.9 865.7 137.7 867.3 137.7 868.9 137.7 870.5 137.7 872.1 137.7 873.7 137.7 875.3 137.7 876.9 137.5 878.5 137.7 880.1 136.9 881.7 137.2 883.3 137.7 884.9 137.7 886.5 137.7 888.1 137.2 889.8 137.3 891.4 137.7 893 137.7 894.6 137.7 896.2 137.7 897.8 137.1 899.4 137.3 901 137.4 902.6 137.3 904.2 137.4 905.8 137.7 907.4 137.7 909 137.4 910.6 137.7 912.2 137.7 913.8 137.4 915.4 137.6 917 137.5 918.6 137.7 920.2 137.7 921.9 137.4 923.5 137.7 925.1 137.7 926.7 137.7 928.3 137.6 929.9 136.8 931.5 137.7 933.1 137.7 934.7 137.6 936.3 137.1 937.9 137.7 939.5 137.7 941.1 136.9 942.7 137 944.3 136.9 945.9 136.6 947.5 136.6 949.1 136.6 950.7 136.2 952.3 136 954 135.2 955.6 133.6 957.2 132.2 958.8 134.1 960.4 133.1 962 132.6 963.6 130.8 965.2 130.9 966.8 129.9 968.4 128.7 970 127.4" fill="none" stroke="#303030" stroke-opacity="0.75" stroke-width="0.9" stroke-linejoin="round" transform="translate(0 0.9)"/>
<path d="M610 152.2L610 152 611.6 146 613.2 148.5 614.8 150.5 616.4 150.1 618 150.2 619.6 150.1 621.2 150.7 622.8 150.6 624.4 150.9 626 150.3 627.6 150.3 629.3 150.7 630.9 151.1 632.5 151 634.1 151.2 635.7 150.6 637.3 150.8 638.9 151.1 640.5 151.3 642.1 151.4 643.7 151.5 645.3 151.4 646.9 152 648.5 152 650.1 152 651.7 152 653.3 152 654.9 151.7 656.5 152 658.1 151.8 659.7 151.6 661.3 151.7 662.9 151.3 664.6 151.4 666.2 151.7 667.8 151.7 669.4 151.5 671 152 672.6 151.4 674.2 151.3 675.8 152 677.4 152 679 151.2 680.6 152 682.2 151.9 683.8 152 685.4 151.6 687 151.8 688.6 152 690.2 152 691.8 152 693.4 152 695 152 696.6 152 698.2 152 699.9 152 701.5 151.8 703.1 152 704.7 152 706.3 152 707.9 151.9 709.5 151.9 711.1 151.8 712.7 152 714.3 151.9 715.9 152 717.5 151.5 719.1 150.8 720.7 150.4 722.3 151.7 723.9 151.8 725.5 151.1 727.1 151.4 728.7 151.6 730.3 151.6 731.9 151.7 733.5 152 735.2 152 736.8 151.2 738.4 151.5 740 152 741.6 151.9 743.2 152 744.8 151.5 746.4 151.3 748 152 749.6 152 751.2 150.8 752.8 150.5 754.4 151.1 756 151.4 757.6 150.7 759.2 151 760.8 152 762.4 151.4 764 151.9 765.6 151.3 767.2 151.8 768.8 151.5 770.5 151.5 772.1 150.8 773.7 151 775.3 150.4 776.9 150.2 778.5 151 780.1 151.4 781.7 151 783.3 151.4 784.9 151.9 786.5 151.8 788.1 151.9 789.7 152 791.3 151.9 792.9 151.4 794.5 151.7 796.1 151.1 797.7 151.9 799.3 151.8 800.9 151.5 802.5 151.4 804.1 151.2 805.8 151.1 807.4 151.9 809 151.9 810.6 152 812.2 152 813.8 152 815.4 151.3 817 151.6 818.6 151.6 820.2 151 821.8 151 823.4 151.2 825 151.2 826.6 151.6 828.2 151.8 829.8 151.2 831.4 151.8 833 152 834.6 152 836.2 151.2 837.8 151.5 839.4 152 841.1 152 842.7 151.7 844.3 151.2 845.9 151.9 847.5 151 849.1 152 850.7 151.9 852.3 151.5 853.9 151.2 855.5 151.7 857.1 152 858.7 152 860.3 152 861.9 151.8 863.5 152 865.1 152 866.7 151.5 868.3 151.3 869.9 151.9 871.5 152 873.1 152 874.7 151.4 876.4 151.5 878 151.9 879.6 151.5 881.2 151.5 882.8 151.5 884.4 151.7 886 151.4 887.6 151.7 889.2 151.4 890.8 152 892.4 151.4 894 151.3 895.6 151.7 897.2 152 898.8 151.4 900.4 152 902 152 903.6 151.9 905.2 151.4 906.8 151.9 908.4 152 910 151.7 911.7 151.7 913.3 151.3 914.9 151.8 916.5 152 918.1 151.3 919.7 150.8 921.3 150.4 922.9 150.7 924.5 151 926.1 151.2 927.7 151.9 929.3 151.3 930.9 151.8 932.5 152 934.1 152 935.7 152 937.3 151.7 938.9 151.8 940.5 151.6 942.1 152 943.7 150.8 945.3 148.9 947 146.8 948.6 147.9 950.2 146.8 951.8 145.3 953.4 148.1 955 148.8 956.6 149.6 958.2 149 959.8 148.8 961.4 148.3 963 146.9 964.6 146.9 964.6 152.2" fill="#c3c3c3"/>
<path d="M610 151.7H964.6" stroke="#a9a9a9" stroke-width="1.1"/>
<path d="M619 138h2v14h-2zM624 138h4v14h-4zM635 138h4v14h-4zM655 138h1v14h-1zM658 138h15v14h-15zM910 138h6v14h-6zM919 138h10v14h-10zM932 138h11v14h-11z" fill="#dbac3e" shape-rendering="crispEdges"/>
<path d="M673 138h33v14h-33zM707 138h2v14h-2zM754 138h7v14h-7zM763 138h2v14h-2zM776 138h2v14h-2zM896 138h14v14h-14zM916 138h3v14h-3z" fill="#dd3029" shape-rendering="crispEdges"/>
<path d="M706 138h1v14h-1zM709 138h45v14h-45zM761 138h2v14h-2zM765 138h11v14h-11zM778 138h12v14h-12zM790 138h106v14h-106z" fill="#a718ff" shape-rendering="crispEdges"/>
<path d="M610 152 611.6 146 613.2 148.5 614.8 150.5 616.4 150.1 618 150.2 619.6 150.1 621.2 150.7 622.8 150.6 624.4 150.9 626 150.3 627.6 150.3 629.3 150.7 630.9 151.1 632.5 151 634.1 151.2 635.7 150.6 637.3 150.8 638.9 151.1 640.5 151.3 642.1 151.4 643.7 151.5 645.3 151.4 646.9 152 648.5 152 650.1 152 651.7 152 653.3 152 654.9 151.7 656.5 152 658.1 151.8 659.7 151.6 661.3 151.7 662.9 151.3 664.6 151.4 666.2 151.7 667.8 151.7 669.4 151.5 671 152 672.6 151.4 674.2 151.3 675.8 152 677.4 152 679 151.2 680.6 152 682.2 151.9 683.8 152 685.4 151.6 687 151.8 688.6 152 690.2 152 691.8 152 693.4 152 695 152 696.6 152 698.2 152 699.9 152 701.5 151.8 703.1 152 704.7 152 706.3 152 707.9 151.9 709.5 151.9 711.1 151.8 712.7 152 714.3 151.9 715.9 152 717.5 151.5 719.1 150.8 720.7 150.4 722.3 151.7 723.9 151.8 725.5 151.1 727.1 151.4 728.7 151.6 730.3 151.6 731.9 151.7 733.5 152 735.2 152 736.8 151.2 738.4 151.5 740 152 741.6 151.9 743.2 152 744.8 151.5 746.4 151.3 748 152 749.6 152 751.2 150.8 752.8 150.5 754.4 151.1 756 151.4 757.6 150.7 759.2 151 760.8 152 762.4 151.4 764 151.9 765.6 151.3 767.2 151.8 768.8 151.5 770.5 151.5 772.1 150.8 773.7 151 775.3 150.4 776.9 150.2 778.5 151 780.1 151.4 781.7 151 783.3 151.4 784.9 151.9 786.5 151.8 788.1 151.9 789.7 152 791.3 151.9 792.9 151.4 794.5 151.7 796.1 151.1 797.7 151.9 799.3 151.8 800.9 151.5 802.5 151.4 804.1 151.2 805.8 151.1 807.4 151.9 809 151.9 810.6 152 812.2 152 813.8 152 815.4 151.3 817 151.6 818.6 151.6 820.2 151 821.8 151 823.4 151.2 825 151.2 826.6 151.6 828.2 151.8 829.8 151.2 831.4 151.8 833 152 834.6 152 836.2 151.2 837.8 151.5 839.4 152 841.1 152 842.7 151.7 844.3 151.2 845.9 151.9 847.5 151 849.1 152 850.7 151.9 852.3 151.5 853.9 151.2 855.5 151.7 857.1 152 858.7 152 860.3 152 861.9 151.8 863.5 152 865.1 152 866.7 151.5 868.3 151.3 869.9 151.9 871.5 152 873.1 152 874.7 151.4 876.4 151.5 878 151.9 879.6 151.5 881.2 151.5 882.8 151.5 884.4 151.7 886 151.4 887.6 151.7 889.2 151.4 890.8 152 892.4 151.4 894 151.3 895.6 151.7 897.2 152 898.8 151.4 900.4 152 902 152 903.6 151.9 905.2 151.4 906.8 151.9 908.4 152 910 151.7 911.7 151.7 913.3 151.3 914.9 151.8 916.5 152 918.1 151.3 919.7 150.8 921.3 150.4 922.9 150.7 924.5 151 926.1 151.2 927.7 151.9 929.3 151.3 930.9 151.8 932.5 152 934.1 152 935.7 152 937.3 151.7 938.9 151.8 940.5 151.6 942.1 152 943.7 150.8 945.3 148.9 947 146.8 948.6 147.9 950.2 146.8 951.8 145.3 953.4 148.1 955 148.8 956.6 149.6 958.2 149 959.8 148.8 961.4 148.3 963 146.9 964.6 146.9" fill="none" stroke="#303030" stroke-opacity="0.75" stroke-width="0.9" stroke-linejoin="round" transform="translate(0 0.9)"/>
<path d="M610 166.5L610 166.2 611.6 162 613.2 164.4 614.8 165.7 616.4 165.5 618 165.1 619.6 165.4 621.2 164.7 622.8 165.1 624.4 165.4 626.1 165.7 627.7 165.5 629.3 165.7 630.9 165.1 632.5 166.1 634.1 166.1 635.7 165.9 637.3 166 638.9 165.5 640.5 166.1 642.1 166.1 643.7 166.2 645.3 166.2 646.9 166.2 648.5 166.2 650.1 166.2 651.7 166.2 653.3 166.1 655 166 656.6 166.1 658.2 166.1 659.8 165.7 661.4 166.2 663 166.2 664.6 166.1 666.2 166.2 667.8 166.2 669.4 166.1 671 166.2 672.6 165.9 674.2 165.9 675.8 166.1 677.4 165.9 679 165.9 680.6 165.5 682.2 166.2 683.9 166.2 685.5 166.2 687.1 166.2 688.7 166.2 690.3 166.2 691.9 166.2 693.5 166.2 695.1 166.2 696.7 166.2 698.3 166.2 699.9 166.2 701.5 166.2 703.1 165.5 704.7 166.2 706.3 165.8 707.9 166.2 709.5 166 711.1 166.2 712.8 165.9 714.4 165.8 716 166.2 717.6 166.2 719.2 165.9 720.8 166.2 722.4 166.2 724 165.8 725.6 165.7 727.2 166 728.8 166.2 730.4 166.2 732 166.2 733.6 166.2 735.2 165.4 736.8 165.2 738.4 166 740 165.8 741.7 166.2 743.3 166.2 744.9 166.1 746.5 166.2 748.1 165.9 749.7 164.9 751.3 164.9 752.9 165.9 754.5 166.1 756.1 166.2 757.7 166.1 759.3 166.2 760.9 165.4 762.5 164.9 764.1 165.2 765.7 164.8 767.3 165.3 768.9 165.8 770.6 166.2 772.2 165.3 773.8 165.8 775.4 166.2 777 166 778.6 166.1 780.2 165.5 781.8 166 783.4 166.2 785 166.2 786.6 166.2 788.2 166.2 789.8 165.8 791.4 165.8 793 165.8 794.6 165.4 796.2 165.6 797.8 165.8 799.4 165.9 801.1 165.7 802.7 165.6 804.3 166.2 805.9 165.8 807.5 165.6 809.1 165.7 810.7 166.1 812.3 165.9 813.9 166.2 815.5 165.9 817.1 166.2 818.7 166 820.3 165.4 821.9 165.8 823.5 166 825.1 166.2 826.7 166.2 828.3 166.2 830 166.2 831.6 166.2 833.2 166.1 834.8 165.6 836.4 165.4 838 165.5 839.6 165.8 841.2 165.7 842.8 165.5 844.4 166.2 846 165.9 847.6 166 849.2 166 850.8 165.9 852.4 166 854 166.1 855.6 166 857.2 165.8 858.9 166.1 860.5 166.2 862.1 165.4 863.7 165.7 865.3 165.5 866.9 166.2 868.5 166.2 870.1 165.9 871.7 165.4 873.3 165.5 874.9 166.2 876.5 166.2 878.1 165.9 879.7 166.2 881.3 166 882.9 166.2 884.5 166.2 886.1 166.2 887.8 165.2 889.4 164.8 891 165.4 892.6 166 894.2 166.2 895.8 166.2 897.4 166.2 899 165.9 900.6 166.2 902.2 166.2 903.8 166 905.4 166.2 907 165.7 908.6 165.3 910.2 165.7 911.8 166.2 913.4 166.2 915 166.2 916.7 166.2 918.3 166.2 919.9 166.2 921.5 165.5 923.1 165.9 924.7 166.1 926.3 166.2 927.9 166.2 929.5 165.9 931.1 166 932.7 166.2 934.3 166.1 935.9 165.6 937.5 166.1 939.1 166.2 940.7 166.2 942.3 166.2 943.9 166.2 945.6 166.2 947.2 165.7 948.8 165 950.4 165.2 952 165.2 953.6 165.4 955.2 165 956.8 164.8 958.4 165 960 164.6 960 166.5" fill="#c3c3c3"/>
<path d="M610 165.9H960" stroke="#a9a9a9" stroke-width="1.1"/>
<path d="M612 152h2v14h-2zM619 152h2v14h-2zM623 152h5v14h-5zM632 152h18v14h-18zM651 152h22v14h-22zM675 152h1v14h-1zM678 152h1v14h-1zM690 152h3v14h-3zM916 152h1v14h-1zM919 152h25v14h-25zM955 152h3v14h-3z" fill="#dbac3e" shape-rendering="crispEdges"/>
<path d="M673 152h2v14h-2zM676 152h2v14h-2zM679 152h11v14h-11zM693 152h16v14h-16zM727 152h2v14h-2zM761 152h4v14h-4zM771 152h5v14h-5zM900 152h1v14h-1zM907 152h9v14h-9z" fill="#dd3029" shape-rendering="crispEdges"/>
<path d="M709 152h18v14h-18zM729 152h32v14h-32zM765 152h6v14h-6zM776 152h14v14h-14zM790 152h110v14h-110zM901 152h6v14h-6z" fill="#a718ff" shape-rendering="crispEdges"/>
<path d="M610 166.2 611.6 162 613.2 164.4 614.8 165.7 616.4 165.5 618 165.1 619.6 165.4 621.2 164.7 622.8 165.1 624.4 165.4 626.1 165.7 627.7 165.5 629.3 165.7 630.9 165.1 632.5 166.1 634.1 166.1 635.7 165.9 637.3 166 638.9 165.5 640.5 166.1 642.1 166.1 643.7 166.2 645.3 166.2 646.9 166.2 648.5 166.2 650.1 166.2 651.7 166.2 653.3 166.1 655 166 656.6 166.1 658.2 166.1 659.8 165.7 661.4 166.2 663 166.2 664.6 166.1 666.2 166.2 667.8 166.2 669.4 166.1 671 166.2 672.6 165.9 674.2 165.9 675.8 166.1 677.4 165.9 679 165.9 680.6 165.5 682.2 166.2 683.9 166.2 685.5 166.2 687.1 166.2 688.7 166.2 690.3 166.2 691.9 166.2 693.5 166.2 695.1 166.2 696.7 166.2 698.3 166.2 699.9 166.2 701.5 166.2 703.1 165.5 704.7 166.2 706.3 165.8 707.9 166.2 709.5 166 711.1 166.2 712.8 165.9 714.4 165.8 716 166.2 717.6 166.2 719.2 165.9 720.8 166.2 722.4 166.2 724 165.8 725.6 165.7 727.2 166 728.8 166.2 730.4 166.2 732 166.2 733.6 166.2 735.2 165.4 736.8 165.2 738.4 166 740 165.8 741.7 166.2 743.3 166.2 744.9 166.1 746.5 166.2 748.1 165.9 749.7 164.9 751.3 164.9 752.9 165.9 754.5 166.1 756.1 166.2 757.7 166.1 759.3 166.2 760.9 165.4 762.5 164.9 764.1 165.2 765.7 164.8 767.3 165.3 768.9 165.8 770.6 166.2 772.2 165.3 773.8 165.8 775.4 166.2 777 166 778.6 166.1 780.2 165.5 781.8 166 783.4 166.2 785 166.2 786.6 166.2 788.2 166.2 789.8 165.8 791.4 165.8 793 165.8 794.6 165.4 796.2 165.6 797.8 165.8 799.4 165.9 801.1 165.7 802.7 165.6 804.3 166.2 805.9 165.8 807.5 165.6 809.1 165.7 810.7 166.1 812.3 165.9 813.9 166.2 815.5 165.9 817.1 166.2 818.7 166 820.3 165.4 821.9 165.8 823.5 166 825.1 166.2 826.7 166.2 828.3 166.2 830 166.2 831.6 166.2 833.2 166.1 834.8 165.6 836.4 165.4 838 165.5 839.6 165.8 841.2 165.7 842.8 165.5 844.4 166.2 846 165.9 847.6 166 849.2 166 850.8 165.9 852.4 166 854 166.1 855.6 166 857.2 165.8 858.9 166.1 860.5 166.2 862.1 165.4 863.7 165.7 865.3 165.5 866.9 166.2 868.5 166.2 870.1 165.9 871.7 165.4 873.3 165.5 874.9 166.2 876.5 166.2 878.1 165.9 879.7 166.2 881.3 166 882.9 166.2 884.5 166.2 886.1 166.2 887.8 165.2 889.4 164.8 891 165.4 892.6 166 894.2 166.2 895.8 166.2 897.4 166.2 899 165.9 900.6 166.2 902.2 166.2 903.8 166 905.4 166.2 907 165.7 908.6 165.3 910.2 165.7 911.8 166.2 913.4 166.2 915 166.2 916.7 166.2 918.3 166.2 919.9 166.2 921.5 165.5 923.1 165.9 924.7 166.1 926.3 166.2 927.9 166.2 929.5 165.9 931.1 166 932.7 166.2 934.3 166.1 935.9 165.6 937.5 166.1 939.1 166.2 940.7 166.2 942.3 166.2 943.9 166.2 945.6 166.2 947.2 165.7 948.8 165 950.4 165.2 952 165.2 953.6 165.4 955.2 165 956.8 164.8 958.4 165 960 164.6" fill="none" stroke="#303030" stroke-opacity="0.75" stroke-width="0.9" stroke-linejoin="round" transform="translate(0 0.9)"/>
<path d="M610 180.8L610 180.5 611.6 176.1 613.2 177.9 614.8 180 616.4 179.7 618 179 619.6 178.8 621.2 179.7 622.8 179.3 624.4 179.3 626 179.4 627.6 179.7 629.2 179.1 630.8 179.7 632.4 179.6 634 179.9 635.6 179.8 637.2 180 638.8 179.9 640.4 179.7 642 180.3 643.6 180.1 645.2 180.2 646.8 180 648.4 179.7 650 180 651.6 180.5 653.3 180.4 654.9 180.2 656.5 180.3 658.1 179.9 659.7 180.4 661.3 180.3 662.9 180 664.5 180.2 666.1 179.2 667.7 180.3 669.3 180.5 670.9 180.5 672.5 179.6 674.1 179.5 675.7 179.6 677.3 180.2 678.9 179.8 680.5 180 682.1 180 683.7 180.3 685.3 180.3 686.9 180.5 688.5 180.5 690.1 180.3 691.7 180.3 693.3 180.2 694.9 180.5 696.5 180.2 698.1 180.5 699.7 180.5 701.3 180.3 702.9 180.5 704.5 180.4 706.1 180.5 707.7 180.5 709.3 180 710.9 180.3 712.5 179.4 714.1 179.4 715.7 179.6 717.3 180.4 718.9 180.2 720.5 180.5 722.1 180.5 723.7 180.5 725.3 180.2 726.9 180.5 728.5 180.4 730.1 180.5 731.7 180 733.3 180.2 734.9 180.1 736.5 180.2 738.2 180.3 739.8 180 741.4 179.5 743 179.4 744.6 180.1 746.2 179.6 747.8 180.3 749.4 180.5 751 180.5 752.6 180.5 754.2 180.5 755.8 180.5 757.4 180.5 759 180.5 760.6 180.3 762.2 180.2 763.8 179.6 765.4 179.9 767 179.3 768.6 180.1 770.2 180.3 771.8 179.8 773.4 179.7 775 180.1 776.6 180.1 778.2 180.2 779.8 180.5 781.4 180.5 783 180.5 784.6 180.5 786.2 180.5 787.8 180.5 789.4 180 791 180.1 792.6 180.4 794.2 180 795.8 179.4 797.4 180.2 799 180.3 800.6 179.7 802.2 180.1 803.8 179.7 805.4 180 807 179.9 808.6 180.3 810.2 180.1 811.8 180.5 813.4 179.8 815 179.7 816.6 179.6 818.2 179.7 819.8 179.9 821.4 179.5 823.1 179.7 824.7 179.4 826.3 179.6 827.9 180.3 829.5 179.8 831.1 179.8 832.7 180.3 834.3 180.5 835.9 180.3 837.5 180.3 839.1 180.5 840.7 179.9 842.3 180 843.9 179.7 845.5 179.6 847.1 179.6 848.7 180 850.3 180.2 851.9 179.7 853.5 179.6 855.1 180 856.7 180.5 858.3 180.3 859.9 180.3 861.5 180.5 863.1 180.5 864.7 180.5 866.3 180.3 867.9 180.5 869.5 180.5 871.1 180.5 872.7 180.5 874.3 180.5 875.9 180.5 877.5 180.5 879.1 180.5 880.7 180.5 882.3 180.3 883.9 179.9 885.5 179.8 887.1 179.9 888.7 179.4 890.3 179.6 891.9 180.2 893.5 180.4 895.1 180.1 896.7 180.5 898.3 180.5 899.9 179.6 901.5 179.6 903.1 180.2 904.7 180.4 906.3 180.2 908 180.4 909.6 180.5 911.2 180 912.8 180.4 914.4 180.2 916 180.2 917.6 180 919.2 179.9 920.8 180.5 922.4 180.5 924 180 925.6 179.7 927.2 179.7 928.8 180.1 930.4 179.8 932 180.1 933.6 180.5 935.2 180.5 936.8 180.5 938.4 179.8 940 179.7 941.6 178.9 943.2 177.7 944.8 177.8 946.4 177.3 948 176.7 949.6 176.8 949.6 180.8" fill="#c3c3c3"/>
<path d="M610 180.2H949.6" stroke="#a9a9a9" stroke-width="1.1"/>
<path d="M612 166h2v15h-2zM616 166h2v15h-2zM619 166h9v15h-9zM632 166h1v15h-1zM635 166h33v15h-33zM674 166h8v15h-8zM690 166h6v15h-6zM929 166h7v15h-7z" fill="#dbac3e" shape-rendering="crispEdges"/>
<path d="M668 166h6v15h-6zM682 166h8v15h-8zM696 166h13v15h-13zM723 166h2v15h-2zM771 166h5v15h-5zM896 166h1v15h-1zM900 166h1v15h-1zM907 166h22v15h-22z" fill="#dd3029" shape-rendering="crispEdges"/>
<path d="M709 166h14v15h-14zM725 166h46v15h-46zM776 166h14v15h-14zM790 166h106v15h-106zM897 166h3v15h-3zM901 166h6v15h-6z" fill="#a718ff" shape-rendering="crispEdges"/>
<path d="M610 180.5 611.6 176.1 613.2 177.9 614.8 180 616.4 179.7 618 179 619.6 178.8 621.2 179.7 622.8 179.3 624.4 179.3 626 179.4 627.6 179.7 629.2 179.1 630.8 179.7 632.4 179.6 634 179.9 635.6 179.8 637.2 180 638.8 179.9 640.4 179.7 642 180.3 643.6 180.1 645.2 180.2 646.8 180 648.4 179.7 650 180 651.6 180.5 653.3 180.4 654.9 180.2 656.5 180.3 658.1 179.9 659.7 180.4 661.3 180.3 662.9 180 664.5 180.2 666.1 179.2 667.7 180.3 669.3 180.5 670.9 180.5 672.5 179.6 674.1 179.5 675.7 179.6 677.3 180.2 678.9 179.8 680.5 180 682.1 180 683.7 180.3 685.3 180.3 686.9 180.5 688.5 180.5 690.1 180.3 691.7 180.3 693.3 180.2 694.9 180.5 696.5 180.2 698.1 180.5 699.7 180.5 701.3 180.3 702.9 180.5 704.5 180.4 706.1 180.5 707.7 180.5 709.3 180 710.9 180.3 712.5 179.4 714.1 179.4 715.7 179.6 717.3 180.4 718.9 180.2 720.5 180.5 722.1 180.5 723.7 180.5 725.3 180.2 726.9 180.5 728.5 180.4 730.1 180.5 731.7 180 733.3 180.2 734.9 180.1 736.5 180.2 738.2 180.3 739.8 180 741.4 179.5 743 179.4 744.6 180.1 746.2 179.6 747.8 180.3 749.4 180.5 751 180.5 752.6 180.5 754.2 180.5 755.8 180.5 757.4 180.5 759 180.5 760.6 180.3 762.2 180.2 763.8 179.6 765.4 179.9 767 179.3 768.6 180.1 770.2 180.3 771.8 179.8 773.4 179.7 775 180.1 776.6 180.1 778.2 180.2 779.8 180.5 781.4 180.5 783 180.5 784.6 180.5 786.2 180.5 787.8 180.5 789.4 180 791 180.1 792.6 180.4 794.2 180 795.8 179.4 797.4 180.2 799 180.3 800.6 179.7 802.2 180.1 803.8 179.7 805.4 180 807 179.9 808.6 180.3 810.2 180.1 811.8 180.5 813.4 179.8 815 179.7 816.6 179.6 818.2 179.7 819.8 179.9 821.4 179.5 823.1 179.7 824.7 179.4 826.3 179.6 827.9 180.3 829.5 179.8 831.1 179.8 832.7 180.3 834.3 180.5 835.9 180.3 837.5 180.3 839.1 180.5 840.7 179.9 842.3 180 843.9 179.7 845.5 179.6 847.1 179.6 848.7 180 850.3 180.2 851.9 179.7 853.5 179.6 855.1 180 856.7 180.5 858.3 180.3 859.9 180.3 861.5 180.5 863.1 180.5 864.7 180.5 866.3 180.3 867.9 180.5 869.5 180.5 871.1 180.5 872.7 180.5 874.3 180.5 875.9 180.5 877.5 180.5 879.1 180.5 880.7 180.5 882.3 180.3 883.9 179.9 885.5 179.8 887.1 179.9 888.7 179.4 890.3 179.6 891.9 180.2 893.5 180.4 895.1 180.1 896.7 180.5 898.3 180.5 899.9 179.6 901.5 179.6 903.1 180.2 904.7 180.4 906.3 180.2 908 180.4 909.6 180.5 911.2 180 912.8 180.4 914.4 180.2 916 180.2 917.6 180 919.2 179.9 920.8 180.5 922.4 180.5 924 180 925.6 179.7 927.2 179.7 928.8 180.1 930.4 179.8 932 180.1 933.6 180.5 935.2 180.5 936.8 180.5 938.4 179.8 940 179.7 941.6 178.9 943.2 177.7 944.8 177.8 946.4 177.3 948 176.7 949.6 176.8" fill="none" stroke="#303030" stroke-opacity="0.75" stroke-width="0.9" stroke-linejoin="round" transform="translate(0 0.9)"/>
<path d="M610 195L610 194 611.6 189.1 613.2 191.9 614.8 194.2 616.4 194.4 618 194.4 619.6 193.6 621.2 193.4 622.9 194.3 624.5 193.4 626.1 192.9 627.7 193.1 629.3 193.9 630.9 194.1 632.5 194.1 634.1 194.2 635.7 194.6 637.3 194.7 638.9 194.4 640.5 194.4 642.1 194.7 643.8 194 645.4 194.3 647 193.6 648.6 193.5 650.2 194.4 651.8 194.4 653.4 194.7 655 194.6 656.6 194.3 658.2 194.2 659.8 194.6 661.4 194.7 663 194.7 664.6 194.7 666.2 194.7 667.9 194.7 669.5 194.7 671.1 194.5 672.7 194.7 674.3 194.1 675.9 194.1 677.5 194.3 679.1 194.1 680.7 194.4 682.3 194.3 683.9 194.5 685.5 194.7 687.1 194.7 688.8 194.6 690.4 194.5 692 194.7 693.6 194.7 695.2 194.7 696.8 194.6 698.4 194.3 700 194.7 701.6 194.7 703.2 194.2 704.8 194.7 706.4 194.4 708 194.7 709.6 194.7 711.2 194.6 712.9 194.5 714.5 194.7 716.1 194.7 717.7 193.9 719.3 193.9 720.9 194.6 722.5 194.7 724.1 194.7 725.7 194.7 727.3 194.7 728.9 194.7 730.5 194.4 732.1 194 733.8 193.5 735.4 194.1 737 193.7 738.6 194.7 740.2 194.7 741.8 194.7 743.4 194.7 745 194.7 746.6 194.7 748.2 194.7 749.8 194.6 751.4 194.7 753 194.6 754.6 194.7 756.2 194.7 757.9 194.7 759.5 194.7 761.1 194.7 762.7 194.7 764.3 194.4 765.9 194.7 767.5 194.7 769.1 194.7 770.7 194.7 772.3 194.7 773.9 194.7 775.5 194.7 777.1 194.7 778.8 194.7 780.4 194.7 782 194.7 783.6 194.7 785.2 194.7 786.8 194.7 788.4 194.5 790 194.1 791.6 194.7 793.2 194.7 794.8 194.5 796.4 194.7 798 194.7 799.6 194.6 801.2 194.7 802.9 194.4 804.5 194.5 806.1 194.7 807.7 194.5 809.3 194.7 810.9 194.7 812.5 194.5 814.1 194.7 815.7 194.4 817.3 194.5 818.9 194.7 820.5 194.5 822.1 194.7 823.8 194.7 825.4 194.7 827 193.9 828.6 194.1 830.2 193.7 831.8 193.5 833.4 194.4 835 194.5 836.6 194.5 838.2 194.7 839.8 194.7 841.4 194.7 843 194.7 844.6 194.7 846.2 194.7 847.9 194.5 849.5 194.7 851.1 194.7 852.7 194.7 854.3 194.7 855.9 194.7 857.5 194.7 859.1 194.7 860.7 194.7 862.3 194.7 863.9 194.7 865.5 194.7 867.1 194.7 868.8 194.7 870.4 194.7 872 194.4 873.6 194.1 875.2 194.5 876.8 194.5 878.4 194.7 880 194.7 881.6 194.3 883.2 194.7 884.8 194.7 886.4 194.7 888 194.7 889.6 194.7 891.2 194.7 892.9 194.7 894.5 194.7 896.1 194.7 897.7 194.7 899.3 194.7 900.9 194.7 902.5 194.2 904.1 194.5 905.7 194.7 907.3 194.7 908.9 194.6 910.5 194.7 912.1 194.7 913.8 194.7 915.4 194.7 917 194.7 918.6 194.7 920.2 194.7 921.8 194.7 923.4 194.7 925 194.7 925 195" fill="#c3c3c3"/>
<path d="M610 194.4H925" stroke="#a9a9a9" stroke-width="1.1"/>
<path d="M612 181h2v14h-2zM616 181h4v14h-4zM626 181h12v14h-12zM640 181h15v14h-15zM658 181h3v14h-3zM667 181h2v14h-2zM670 181h7v14h-7zM694 181h2v14h-2zM910 181h9v14h-9zM922 181h3v14h-3z" fill="#dbac3e" shape-rendering="crispEdges"/>
<path d="M638 181h2v14h-2zM655 181h3v14h-3zM661 181h6v14h-6zM669 181h1v14h-1zM677 181h17v14h-17zM696 181h20v14h-20zM748 181h1v14h-1zM759 181h1v14h-1zM896 181h14v14h-14zM919 181h3v14h-3z" fill="#dd3029" shape-rendering="crispEdges"/>
<path d="M716 181h32v14h-32zM749 181h10v14h-10zM760 181h30v14h-30zM790 181h106v14h-106z" fill="#a718ff" shape-rendering="crispEdges"/>
<path d="M610 194 611.6 189.1 613.2 191.9 614.8 194.2 616.4 194.4 618 194.4 619.6 193.6 621.2 193.4 622.9 194.3 624.5 193.4 626.1 192.9 627.7 193.1 629.3 193.9 630.9 194.1 632.5 194.1 634.1 194.2 635.7 194.6 637.3 194.7 638.9 194.4 640.5 194.4 642.1 194.7 643.8 194 645.4 194.3 647 193.6 648.6 193.5 650.2 194.4 651.8 194.4 653.4 194.7 655 194.6 656.6 194.3 658.2 194.2 659.8 194.6 661.4 194.7 663 194.7 664.6 194.7 666.2 194.7 667.9 194.7 669.5 194.7 671.1 194.5 672.7 194.7 674.3 194.1 675.9 194.1 677.5 194.3 679.1 194.1 680.7 194.4 682.3 194.3 683.9 194.5 685.5 194.7 687.1 194.7 688.8 194.6 690.4 194.5 692 194.7 693.6 194.7 695.2 194.7 696.8 194.6 698.4 194.3 700 194.7 701.6 194.7 703.2 194.2 704.8 194.7 706.4 194.4 708 194.7 709.6 194.7 711.2 194.6 712.9 194.5 714.5 194.7 716.1 194.7 717.7 193.9 719.3 193.9 720.9 194.6 722.5 194.7 724.1 194.7 725.7 194.7 727.3 194.7 728.9 194.7 730.5 194.4 732.1 194 733.8 193.5 735.4 194.1 737 193.7 738.6 194.7 740.2 194.7 741.8 194.7 743.4 194.7 745 194.7 746.6 194.7 748.2 194.7 749.8 194.6 751.4 194.7 753 194.6 754.6 194.7 756.2 194.7 757.9 194.7 759.5 194.7 761.1 194.7 762.7 194.7 764.3 194.4 765.9 194.7 767.5 194.7 769.1 194.7 770.7 194.7 772.3 194.7 773.9 194.7 775.5 194.7 777.1 194.7 778.8 194.7 780.4 194.7 782 194.7 783.6 194.7 785.2 194.7 786.8 194.7 788.4 194.5 790 194.1 791.6 194.7 793.2 194.7 794.8 194.5 796.4 194.7 798 194.7 799.6 194.6 801.2 194.7 802.9 194.4 804.5 194.5 806.1 194.7 807.7 194.5 809.3 194.7 810.9 194.7 812.5 194.5 814.1 194.7 815.7 194.4 817.3 194.5 818.9 194.7 820.5 194.5 822.1 194.7 823.8 194.7 825.4 194.7 827 193.9 828.6 194.1 830.2 193.7 831.8 193.5 833.4 194.4 835 194.5 836.6 194.5 838.2 194.7 839.8 194.7 841.4 194.7 843 194.7 844.6 194.7 846.2 194.7 847.9 194.5 849.5 194.7 851.1 194.7 852.7 194.7 854.3 194.7 855.9 194.7 857.5 194.7 859.1 194.7 860.7 194.7 862.3 194.7 863.9 194.7 865.5 194.7 867.1 194.7 868.8 194.7 870.4 194.7 872 194.4 873.6 194.1 875.2 194.5 876.8 194.5 878.4 194.7 880 194.7 881.6 194.3 883.2 194.7 884.8 194.7 886.4 194.7 888 194.7 889.6 194.7 891.2 194.7 892.9 194.7 894.5 194.7 896.1 194.7 897.7 194.7 899.3 194.7 900.9 194.7 902.5 194.2 904.1 194.5 905.7 194.7 907.3 194.7 908.9 194.6 910.5 194.7 912.1 194.7 913.8 194.7 915.4 194.7 917 194.7 918.6 194.7 920.2 194.7 921.8 194.7 923.4 194.7 925 194.7" fill="none" stroke="#303030" stroke-opacity="0.75" stroke-width="0.9" stroke-linejoin="round" transform="translate(0 0.9)"/>
<path d="M610 209.2L610 209 611.6 205.5 613.2 207.1 614.8 207.8 616.4 207.7 618 207.9 619.6 207.7 621.2 207.6 622.8 208.6 624.4 208.3 626.1 207.9 627.7 208 629.3 208.3 630.9 208 632.5 208.7 634.1 208.8 635.7 208.6 637.3 208.3 638.9 208.5 640.5 208.3 642.1 208.1 643.7 209 645.3 208.4 646.9 209 648.5 209 650.1 208.9 651.7 209 653.3 209 654.9 209 656.6 209 658.2 209 659.8 209 661.4 209 663 209 664.6 208.8 666.2 208.8 667.8 208.9 669.4 208.5 671 208.8 672.6 209 674.2 209 675.8 209 677.4 208.5 679 208.2 680.6 207.9 682.2 208 683.8 208.4 685.5 209 687.1 208.8 688.7 208.8 690.3 208.9 691.9 208.2 693.5 208.6 695.1 209 696.7 209 698.3 209 699.9 208.8 701.5 209 703.1 208.6 704.7 208.9 706.3 209 707.9 209 709.5 208.4 711.1 208.9 712.7 208 714.3 208.5 716 208.8 717.6 208.2 719.2 208.6 720.8 207.9 722.4 208.2 724 207.5 725.6 207.7 727.2 208.2 728.8 208.6 730.4 209 732 208.9 733.6 209 735.2 208.5 736.8 208.9 738.4 209 740 208.6 741.6 208.5 743.2 208.8 744.8 209 746.5 209 748.1 209 749.7 208.7 751.3 208.8 752.9 209 754.5 209 756.1 209 757.7 208.9 759.3 209 760.9 209 762.5 208.7 764.1 208.7 765.7 208.7 767.3 208.9 768.9 209 770.5 209 772.1 209 773.7 209 775.4 209 777 208.8 778.6 209 780.2 208.2 781.8 208.3 783.4 209 785 208.9 786.6 209 788.2 209 789.8 208.6 791.4 209 793 208.5 794.6 209 796.2 209 797.8 209 799.4 209 801 209 802.6 208.8 804.2 209 805.9 208.6 807.5 208.9 809.1 208.6 810.7 209 812.3 209 813.9 209 815.5 209 817.1 209 818.7 209 820.3 209 821.9 209 823.5 208.7 825.1 208.7 826.7 208.8 828.3 209 829.9 208.6 831.5 209 833.1 209 834.7 209 836.4 209 838 209 839.6 209 841.2 209 842.8 209 844.4 209 846 209 847.6 209 849.2 209 850.8 209 852.4 209 854 209 855.6 209 857.2 209 858.8 209 860.4 209 862 209 863.6 209 865.3 209 866.9 209 868.5 209 870.1 209 871.7 208.9 873.3 209 874.9 209 876.5 208.9 878.1 209 879.7 209 881.3 209 882.9 209 884.5 209 886.1 209 887.7 208.7 889.3 208.8 890.9 209 892.5 209 894.1 209 895.8 209 897.4 209 899 209 900.6 209 902.2 209 903.8 209 905.4 209 907 209 908.6 208.4 910.2 208.7 910.2 209.2" fill="#c3c3c3"/>
<path d="M610 208.7H910.2" stroke="#a9a9a9" stroke-width="1.1"/>
<path d="M612 195h2v14h-2zM616 195h3v14h-3zM626 195h3v14h-3zM631 195h2v14h-2zM634 195h5v14h-5zM641 195h9v14h-9zM653 195h8v14h-8zM675 195h2v14h-2zM697 195h3v14h-3z" fill="#dbac3e" shape-rendering="crispEdges"/>
<path d="M629 195h2v14h-2zM633 195h1v14h-1zM639 195h2v14h-2zM661 195h14v14h-14zM677 195h20v14h-20zM700 195h14v14h-14zM752 195h2v14h-2zM758 195h6v14h-6zM767 195h5v14h-5zM902 195h8v14h-8z" fill="#dd3029" shape-rendering="crispEdges"/>
<path d="M714 195h38v14h-38zM754 195h4v14h-4zM764 195h3v14h-3zM772 195h18v14h-18zM790 195h112v14h-112z" fill="#a718ff" shape-rendering="crispEdges"/>
<path d="M610 209 611.6 205.5 613.2 207.1 614.8 207.8 616.4 207.7 618 207.9 619.6 207.7 621.2 207.6 622.8 208.6 624.4 208.3 626.1 207.9 627.7 208 629.3 208.3 630.9 208 632.5 208.7 634.1 208.8 635.7 208.6 637.3 208.3 638.9 208.5 640.5 208.3 642.1 208.1 643.7 209 645.3 208.4 646.9 209 648.5 209 650.1 208.9 651.7 209 653.3 209 654.9 209 656.6 209 658.2 209 659.8 209 661.4 209 663 209 664.6 208.8 666.2 208.8 667.8 208.9 669.4 208.5 671 208.8 672.6 209 674.2 209 675.8 209 677.4 208.5 679 208.2 680.6 207.9 682.2 208 683.8 208.4 685.5 209 687.1 208.8 688.7 208.8 690.3 208.9 691.9 208.2 693.5 208.6 695.1 209 696.7 209 698.3 209 699.9 208.8 701.5 209 703.1 208.6 704.7 208.9 706.3 209 707.9 209 709.5 208.4 711.1 208.9 712.7 208 714.3 208.5 716 208.8 717.6 208.2 719.2 208.6 720.8 207.9 722.4 208.2 724 207.5 725.6 207.7 727.2 208.2 728.8 208.6 730.4 209 732 208.9 733.6 209 735.2 208.5 736.8 208.9 738.4 209 740 208.6 741.6 208.5 743.2 208.8 744.8 209 746.5 209 748.1 209 749.7 208.7 751.3 208.8 752.9 209 754.5 209 756.1 209 757.7 208.9 759.3 209 760.9 209 762.5 208.7 764.1 208.7 765.7 208.7 767.3 208.9 768.9 209 770.5 209 772.1 209 773.7 209 775.4 209 777 208.8 778.6 209 780.2 208.2 781.8 208.3 783.4 209 785 208.9 786.6 209 788.2 209 789.8 208.6 791.4 209 793 208.5 794.6 209 796.2 209 797.8 209 799.4 209 801 209 802.6 208.8 804.2 209 805.9 208.6 807.5 208.9 809.1 208.6 810.7 209 812.3 209 813.9 209 815.5 209 817.1 209 818.7 209 820.3 209 821.9 209 823.5 208.7 825.1 208.7 826.7 208.8 828.3 209 829.9 208.6 831.5 209 833.1 209 834.7 209 836.4 209 838 209 839.6 209 841.2 209 842.8 209 844.4 209 846 209 847.6 209 849.2 209 850.8 209 852.4 209 854 209 855.6 209 857.2 209 858.8 209 860.4 209 862 209 863.6 209 865.3 209 866.9 209 868.5 209 870.1 209 871.7 208.9 873.3 209 874.9 209 876.5 208.9 878.1 209 879.7 209 881.3 209 882.9 209 884.5 209 886.1 209 887.7 208.7 889.3 208.8 890.9 209 892.5 209 894.1 209 895.8 209 897.4 209 899 209 900.6 209 902.2 209 903.8 209 905.4 209 907 209 908.6 208.4 910.2 208.7" fill="none" stroke="#303030" stroke-opacity="0.75" stroke-width="0.9" stroke-linejoin="round" transform="translate(0 0.9)"/>
<path d="M610 223.5L610 223.2 611.6 218.7 613.2 220.6 614.8 221.7 616.4 221.9 618 222.4 619.6 222.8 621.2 222.5 622.8 222.5 624.4 221.5 626 222.5 627.6 222.7 629.2 222.7 630.8 222.4 632.4 222.4 634 222.6 635.6 223.1 637.2 222.6 638.8 222.7 640.4 222.6 642 222.4 643.6 222.7 645.3 222.9 646.9 223.2 648.5 223.2 650.1 223.2 651.7 223.2 653.3 222.8 654.9 223.1 656.5 223.2 658.1 222.9 659.7 222.6 661.3 222.7 662.9 223.1 664.5 223.2 666.1 222.8 667.7 223 669.3 223.2 670.9 223.2 672.5 223.2 674.1 223.2 675.7 223.2 677.3 223.2 678.9 223.2 680.5 223.2 682.1 223.2 683.7 223.2 685.3 223.1 686.9 222.9 688.5 222.6 690.1 222.7 691.7 223.1 693.3 223.1 694.9 223.2 696.5 223.2 698.1 223.2 699.7 222.6 701.3 222.6 702.9 222.4 704.5 223.1 706.1 223.1 707.7 223.2 709.3 223.2 710.9 223.2 712.5 222.9 714.1 223.2 715.8 223.2 717.4 223.2 719 223.2 720.6 223.2 722.2 223.2 723.8 223.2 725.4 223.2 727 223.2 728.6 223.2 730.2 222.4 731.8 222.7 733.4 222.7 735 223.1 736.6 223 738.2 223.2 739.8 223.2 741.4 223.2 743 223.2 744.6 223.2 746.2 223.1 747.8 223.2 749.4 223.2 751 223.2 752.6 223.2 754.2 223.2 755.8 223.2 757.4 222.8 759 223.2 760.6 223.2 762.2 223.2 763.8 222.4 765.4 222.8 767 223 768.6 223.2 770.2 222.7 771.8 223.2 773.4 223.2 775 223.2 776.6 223.2 778.2 223.2 779.8 223.2 781.4 223.2 783 223.2 784.7 223.2 786.3 223.2 787.9 223.2 789.5 223.2 791.1 223.2 792.7 223.2 794.3 223.2 795.9 223.2 797.5 223.2 799.1 223.2 800.7 223.2 802.3 223.2 803.9 223.2 805.5 223.2 807.1 222.9 808.7 222.6 810.3 223.2 811.9 223.1 813.5 223.2 815.1 223.2 816.7 223.2 818.3 223.2 819.9 223.2 821.5 223.2 823.1 223.2 824.7 223.2 826.3 223.2 827.9 223 829.5 222.9 831.1 223.1 832.7 223.2 834.3 223 835.9 223.2 837.5 223.2 839.1 223.2 840.7 222.8 842.3 222.9 843.9 222.9 845.5 223.2 847.1 223.2 848.7 223.2 850.3 223.2 851.9 223.2 853.5 223.2 855.2 223.2 856.8 223.2 858.4 223.2 860 223.2 861.6 223.2 863.2 223.2 864.8 222.9 866.4 222.8 868 223.1 869.6 223.2 871.2 223.2 872.8 223.2 874.4 223.2 876 223.2 877.6 223.2 879.2 223.2 880.8 223.2 882.4 223.2 884 223.2 885.6 223.2 887.2 223.2 888.8 223.2 888.8 223.5" fill="#c3c3c3"/>
<path d="M610 222.9H888.8" stroke="#a9a9a9" stroke-width="1.1"/>
<path d="M612 209h5v15h-5zM624 209h5v15h-5zM631 209h4v15h-4zM637 209h17v15h-17zM656 209h5v15h-5zM665 209h3v15h-3zM671 209h4v15h-4zM697 209h3v15h-3z" fill="#dbac3e" shape-rendering="crispEdges"/>
<path d="M629 209h2v15h-2zM635 209h2v15h-2zM654 209h2v15h-2zM661 209h4v15h-4zM668 209h3v15h-3zM675 209h22v15h-22zM700 209h9v15h-9zM752 209h2v15h-2zM758 209h1v15h-1zM762 209h2v15h-2z" fill="#dd3029" shape-rendering="crispEdges"/>
<path d="M709 209h43v15h-43zM754 209h4v15h-4zM759 209h3v15h-3zM764 209h26v15h-26zM790 209h99v15h-99z" fill="#a718ff" shape-rendering="crispEdges"/>
<path d="M610 223.2 611.6 218.7 613.2 220.6 614.8 221.7 616.4 221.9 618 222.4 619.6 222.8 621.2 222.5 622.8 222.5 624.4 221.5 626 222.5 627.6 222.7 629.2 222.7 630.8 222.4 632.4 222.4 634 222.6 635.6 223.1 637.2 222.6 638.8 222.7 640.4 222.6 642 222.4 643.6 222.7 645.3 222.9 646.9 223.2 648.5 223.2 650.1 223.2 651.7 223.2 653.3 222.8 654.9 223.1 656.5 223.2 658.1 222.9 659.7 222.6 661.3 222.7 662.9 223.1 664.5 223.2 666.1 222.8 667.7 223 669.3 223.2 670.9 223.2 672.5 223.2 674.1 223.2 675.7 223.2 677.3 223.2 678.9 223.2 680.5 223.2 682.1 223.2 683.7 223.2 685.3 223.1 686.9 222.9 688.5 222.6 690.1 222.7 691.7 223.1 693.3 223.1 694.9 223.2 696.5 223.2 698.1 223.2 699.7 222.6 701.3 222.6 702.9 222.4 704.5 223.1 706.1 223.1 707.7 223.2 709.3 223.2 710.9 223.2 712.5 222.9 714.1 223.2 715.8 223.2 717.4 223.2 719 223.2 720.6 223.2 722.2 223.2 723.8 223.2 725.4 223.2 727 223.2 728.6 223.2 730.2 222.4 731.8 222.7 733.4 222.7 735 223.1 736.6 223 738.2 223.2 739.8 223.2 741.4 223.2 743 223.2 744.6 223.2 746.2 223.1 747.8 223.2 749.4 223.2 751 223.2 752.6 223.2 754.2 223.2 755.8 223.2 757.4 222.8 759 223.2 760.6 223.2 762.2 223.2 763.8 222.4 765.4 222.8 767 223 768.6 223.2 770.2 222.7 771.8 223.2 773.4 223.2 775 223.2 776.6 223.2 778.2 223.2 779.8 223.2 781.4 223.2 783 223.2 784.7 223.2 786.3 223.2 787.9 223.2 789.5 223.2 791.1 223.2 792.7 223.2 794.3 223.2 795.9 223.2 797.5 223.2 799.1 223.2 800.7 223.2 802.3 223.2 803.9 223.2 805.5 223.2 807.1 222.9 808.7 222.6 810.3 223.2 811.9 223.1 813.5 223.2 815.1 223.2 816.7 223.2 818.3 223.2 819.9 223.2 821.5 223.2 823.1 223.2 824.7 223.2 826.3 223.2 827.9 223 829.5 222.9 831.1 223.1 832.7 223.2 834.3 223 835.9 223.2 837.5 223.2 839.1 223.2 840.7 222.8 842.3 222.9 843.9 222.9 845.5 223.2 847.1 223.2 848.7 223.2 850.3 223.2 851.9 223.2 853.5 223.2 855.2 223.2 856.8 223.2 858.4 223.2 860 223.2 861.6 223.2 863.2 223.2 864.8 222.9 866.4 222.8 868 223.1 869.6 223.2 871.2 223.2 872.8 223.2 874.4 223.2 876 223.2 877.6 223.2 879.2 223.2 880.8 223.2 882.4 223.2 884 223.2 885.6 223.2 887.2 223.2 888.8 223.2" fill="none" stroke="#303030" stroke-opacity="0.75" stroke-width="0.9" stroke-linejoin="round" transform="translate(0 0.9)"/>
<path d="M610 237.8L610 237.5 611.6 234.7 613.2 235.9 614.8 236.8 616.4 236.8 618 236.3 619.6 236.3 621.3 235.8 622.9 236.7 624.5 236.6 626.1 236.4 627.7 236.9 629.3 237.5 630.9 236.7 632.5 237.1 634.1 237.5 635.7 237.5 637.3 237.5 638.9 237.5 640.5 237.5 642.2 237.5 643.8 237 645.4 236.9 647 237.4 648.6 237.5 650.2 237.5 651.8 237.5 653.4 237.5 655 236.9 656.6 236.9 658.2 237 659.8 237.1 661.4 237.1 663 236.7 664.7 237.1 666.3 237 667.9 237 669.5 236.6 671.1 237.5 672.7 237.5 674.3 237.2 675.9 237 677.5 237.5 679.1 237.5 680.7 237.3 682.3 237.5 683.9 237.5 685.6 237.3 687.2 237.5 688.8 237.4 690.4 237.5 692 237.4 693.6 236.8 695.2 237 696.8 236.9 698.4 237.4 700 237.5 701.6 237.5 703.2 237.5 704.8 237.5 706.5 237.4 708.1 237.5 709.7 237.3 711.3 237.5 712.9 237.5 714.5 237.5 716.1 237.5 717.7 237.5 719.3 237.5 720.9 237.3 722.5 237.5 724.1 237.3 725.7 237.5 727.4 237.5 729 237.1 730.6 237.1 732.2 236.8 733.8 237.4 735.4 237.3 737 237.5 738.6 237.5 740.2 237.5 741.8 237.5 743.4 237.5 745 237.5 746.6 237.5 748.2 237.5 749.9 237.5 751.5 237.5 753.1 237.4 754.7 237.4 756.3 237.3 757.9 237.5 759.5 237.3 761.1 237.5 762.7 237.5 764.3 237.5 765.9 237.5 767.5 237.5 769.1 237.4 770.8 237.5 772.4 237.3 774 237.5 775.6 237.5 777.2 237.3 778.8 237.5 780.4 237.5 782 237.4 783.6 237.3 785.2 236.9 786.8 236.8 788.4 236.7 790 236.3 791.7 236.7 793.3 237 794.9 236.9 796.5 237.1 798.1 237.2 799.7 237 801.3 237.5 802.9 237.2 804.5 237.2 806.1 236.5 807.7 236.8 809.3 236.9 810.9 237 812.6 237.1 814.2 237.5 815.8 237.5 817.4 237.5 819 237.5 820.6 237.5 822.2 237.5 823.8 237.5 825.4 237.5 827 237.5 828.6 237.5 830.2 237.5 831.8 237.5 833.4 237.5 835.1 237.5 836.7 237.5 838.3 237.5 839.9 237.5 841.5 237.5 843.1 237.5 844.7 237.5 846.3 237.2 847.9 237.3 849.5 237.5 851.1 237.3 852.7 237.5 854.3 237.4 856 237.5 857.6 237.4 859.2 237.5 860.8 237.5 862.4 237.5 864 237.5 865.6 237.5 865.6 237.8" fill="#c3c3c3"/>
<path d="M610 237.2H865.6" stroke="#a9a9a9" stroke-width="1.1"/>
<path d="M612 224h6v14h-6zM619 224h3v14h-3zM624 224h2v14h-2zM628 224h18v14h-18zM647 224h6v14h-6zM661 224h2v14h-2zM668 224h7v14h-7z" fill="#dbac3e" shape-rendering="crispEdges"/>
<path d="M626 224h2v14h-2zM646 224h1v14h-1zM653 224h8v14h-8zM663 224h5v14h-5zM675 224h29v14h-29zM706 224h1v14h-1zM720 224h2v14h-2zM756 224h2v14h-2z" fill="#dd3029" shape-rendering="crispEdges"/>
<path d="M704 224h2v14h-2zM707 224h13v14h-13zM722 224h34v14h-34zM758 224h32v14h-32zM790 224h76v14h-76z" fill="#a718ff" shape-rendering="crispEdges"/>
<path d="M610 237.5 611.6 234.7 613.2 235.9 614.8 236.8 616.4 236.8 618 236.3 619.6 236.3 621.3 235.8 622.9 236.7 624.5 236.6 626.1 236.4 627.7 236.9 629.3 237.5 630.9 236.7 632.5 237.1 634.1 237.5 635.7 237.5 637.3 237.5 638.9 237.5 640.5 237.5 642.2 237.5 643.8 237 645.4 236.9 647 237.4 648.6 237.5 650.2 237.5 651.8 237.5 653.4 237.5 655 236.9 656.6 236.9 658.2 237 659.8 237.1 661.4 237.1 663 236.7 664.7 237.1 666.3 237 667.9 237 669.5 236.6 671.1 237.5 672.7 237.5 674.3 237.2 675.9 237 677.5 237.5 679.1 237.5 680.7 237.3 682.3 237.5 683.9 237.5 685.6 237.3 687.2 237.5 688.8 237.4 690.4 237.5 692 237.4 693.6 236.8 695.2 237 696.8 236.9 698.4 237.4 700 237.5 701.6 237.5 703.2 237.5 704.8 237.5 706.5 237.4 708.1 237.5 709.7 237.3 711.3 237.5 712.9 237.5 714.5 237.5 716.1 237.5 717.7 237.5 719.3 237.5 720.9 237.3 722.5 237.5 724.1 237.3 725.7 237.5 727.4 237.5 729 237.1 730.6 237.1 732.2 236.8 733.8 237.4 735.4 237.3 737 237.5 738.6 237.5 740.2 237.5 741.8 237.5 743.4 237.5 745 237.5 746.6 237.5 748.2 237.5 749.9 237.5 751.5 237.5 753.1 237.4 754.7 237.4 756.3 237.3 757.9 237.5 759.5 237.3 761.1 237.5 762.7 237.5 764.3 237.5 765.9 237.5 767.5 237.5 769.1 237.4 770.8 237.5 772.4 237.3 774 237.5 775.6 237.5 777.2 237.3 778.8 237.5 780.4 237.5 782 237.4 783.6 237.3 785.2 236.9 786.8 236.8 788.4 236.7 790 236.3 791.7 236.7 793.3 237 794.9 236.9 796.5 237.1 798.1 237.2 799.7 237 801.3 237.5 802.9 237.2 804.5 237.2 806.1 236.5 807.7 236.8 809.3 236.9 810.9 237 812.6 237.1 814.2 237.5 815.8 237.5 817.4 237.5 819 237.5 820.6 237.5 822.2 237.5 823.8 237.5 825.4 237.5 827 237.5 828.6 237.5 830.2 237.5 831.8 237.5 833.4 237.5 835.1 237.5 836.7 237.5 838.3 237.5 839.9 237.5 841.5 237.5 843.1 237.5 844.7 237.5 846.3 237.2 847.9 237.3 849.5 237.5 851.1 237.3 852.7 237.5 854.3 237.4 856 237.5 857.6 237.4 859.2 237.5 860.8 237.5 862.4 237.5 864 237.5 865.6 237.5" fill="none" stroke="#303030" stroke-opacity="0.75" stroke-width="0.9" stroke-linejoin="round" transform="translate(0 0.9)"/>
<path d="M610 252L610 251.7 611.6 247.1 613.2 248.6 614.8 250.1 616.4 249.7 618 250.4 619.6 250.3 621.2 251 622.9 250.9 624.5 250.8 626.1 251.7 627.7 251.5 629.3 250.7 630.9 251 632.5 250.7 634.1 250.3 635.7 250.9 637.3 251.6 638.9 251.6 640.5 251.6 642.1 251.7 643.7 251.7 645.3 251.7 647 251.4 648.6 251.7 650.2 251.1 651.8 251.6 653.4 251.7 655 251.7 656.6 251.7 658.2 251.4 659.8 251.6 661.4 251.7 663 251.7 664.6 251.5 666.2 251.5 667.8 251.5 669.4 251.7 671.1 251.7 672.7 251.3 674.3 250.8 675.9 250.9 677.5 251.4 679.1 251.7 680.7 251.7 682.3 251.3 683.9 251.4 685.5 251.1 687.1 251.1 688.7 251.4 690.3 251.3 691.9 251.7 693.5 251.7 695.2 251.7 696.8 251.7 698.4 251.6 700 251.1 701.6 251.7 703.2 250.9 704.8 251.6 706.4 251.7 708 251.7 709.6 251.2 711.2 251.5 712.8 251.7 714.4 251.7 716 251.6 717.6 251.5 719.3 251.7 720.9 251.7 722.5 251.7 724.1 251.7 725.7 251.5 727.3 251.7 728.9 251.3 730.5 251 732.1 251 733.7 251.6 735.3 251.7 736.9 251.7 738.5 251.7 740.1 251.7 741.7 251.7 743.4 251.7 745 251.7 746.6 251.7 748.2 251.7 749.8 251.7 751.4 251.6 753 251.4 754.6 251.7 756.2 251.7 757.8 251.7 759.4 251.7 761 251.7 762.6 251.7 764.2 251.7 765.8 251.7 767.5 251.7 769.1 251.7 770.7 251.7 772.3 251.7 773.9 251.7 775.5 251.7 777.1 251.7 778.7 251.7 780.3 251.7 781.9 251.7 783.5 251.7 785.1 251.7 786.7 251.7 788.3 251.7 789.9 251.7 791.6 251.7 793.2 251.7 794.8 251.7 796.4 251.7 798 251.7 799.6 251.7 801.2 251.7 802.8 251.7 804.4 251.7 806 251.7 807.6 251.7 809.2 251.7 810.8 251.7 812.4 251.7 814 251.7 815.7 251.7 817.3 251.7 818.9 251.6 820.5 251.7 822.1 251.7 823.7 251.7 825.3 251.7 826.9 251.7 828.5 251.7 830.1 251.7 831.7 251.7 833.3 251.7 834.9 251.7 836.5 251.7 838.1 251.7 839.8 251.7 841.4 251.4 843 251.7 844.6 251.6 846.2 251.4 847.8 251.3 849.4 251.7 851 251.7 851 252" fill="#c3c3c3"/>
<path d="M610 251.4H851" stroke="#a9a9a9" stroke-width="1.1"/>
<path d="M612 238h2v14h-2zM615 238h2v14h-2zM618 238h3v14h-3zM623 238h7v14h-7zM632 238h4v14h-4zM638 238h10v14h-10zM655 238h2v14h-2zM666 238h2v14h-2z" fill="#dbac3e" shape-rendering="crispEdges"/>
<path d="M621 238h2v14h-2zM630 238h2v14h-2zM648 238h7v14h-7zM657 238h9v14h-9zM668 238h22v14h-22zM693 238h11v14h-11zM706 238h3v14h-3zM725 238h2v14h-2z" fill="#dd3029" shape-rendering="crispEdges"/>
<path d="M690 238h3v14h-3zM704 238h2v14h-2zM709 238h16v14h-16zM727 238h63v14h-63zM790 238h61v14h-61z" fill="#a718ff" shape-rendering="crispEdges"/>
<path d="M610 251.7 611.6 247.1 613.2 248.6 614.8 250.1 616.4 249.7 618 250.4 619.6 250.3 621.2 251 622.9 250.9 624.5 250.8 626.1 251.7 627.7 251.5 629.3 250.7 630.9 251 632.5 250.7 634.1 250.3 635.7 250.9 637.3 251.6 638.9 251.6 640.5 251.6 642.1 251.7 643.7 251.7 645.3 251.7 647 251.4 648.6 251.7 650.2 251.1 651.8 251.6 653.4 251.7 655 251.7 656.6 251.7 658.2 251.4 659.8 251.6 661.4 251.7 663 251.7 664.6 251.5 666.2 251.5 667.8 251.5 669.4 251.7 671.1 251.7 672.7 251.3 674.3 250.8 675.9 250.9 677.5 251.4 679.1 251.7 680.7 251.7 682.3 251.3 683.9 251.4 685.5 251.1 687.1 251.1 688.7 251.4 690.3 251.3 691.9 251.7 693.5 251.7 695.2 251.7 696.8 251.7 698.4 251.6 700 251.1 701.6 251.7 703.2 250.9 704.8 251.6 706.4 251.7 708 251.7 709.6 251.2 711.2 251.5 712.8 251.7 714.4 251.7 716 251.6 717.6 251.5 719.3 251.7 720.9 251.7 722.5 251.7 724.1 251.7 725.7 251.5 727.3 251.7 728.9 251.3 730.5 251 732.1 251 733.7 251.6 735.3 251.7 736.9 251.7 738.5 251.7 740.1 251.7 741.7 251.7 743.4 251.7 745 251.7 746.6 251.7 748.2 251.7 749.8 251.7 751.4 251.6 753 251.4 754.6 251.7 756.2 251.7 757.8 251.7 759.4 251.7 761 251.7 762.6 251.7 764.2 251.7 765.8 251.7 767.5 251.7 769.1 251.7 770.7 251.7 772.3 251.7 773.9 251.7 775.5 251.7 777.1 251.7 778.7 251.7 780.3 251.7 781.9 251.7 783.5 251.7 785.1 251.7 786.7 251.7 788.3 251.7 789.9 251.7 791.6 251.7 793.2 251.7 794.8 251.7 796.4 251.7 798 251.7 799.6 251.7 801.2 251.7 802.8 251.7 804.4 251.7 806 251.7 807.6 251.7 809.2 251.7 810.8 251.7 812.4 251.7 814 251.7 815.7 251.7 817.3 251.7 818.9 251.6 820.5 251.7 822.1 251.7 823.7 251.7 825.3 251.7 826.9 251.7 828.5 251.7 830.1 251.7 831.7 251.7 833.3 251.7 834.9 251.7 836.5 251.7 838.1 251.7 839.8 251.7 841.4 251.4 843 251.7 844.6 251.6 846.2 251.4 847.8 251.3 849.4 251.7 851 251.7" fill="none" stroke="#303030" stroke-opacity="0.75" stroke-width="0.9" stroke-linejoin="round" transform="translate(0 0.9)"/>
<path d="M610 266.2L610 265.2 611.6 260.8 613.2 263.7 614.8 264.2 616.4 265.1 618.1 264.8 619.7 264.6 621.3 265.4 622.9 265.2 624.5 265.5 626.1 266 627.7 265.6 629.3 265.5 630.9 265.7 632.6 265.5 634.2 265 635.8 265.2 637.4 265.8 639 265.8 640.6 265.3 642.2 265.7 643.8 265.7 645.4 265.3 647 265.2 648.7 265.1 650.3 265.7 651.9 265.3 653.5 265.5 655.1 265.5 656.7 266 658.3 266 659.9 265.7 661.5 265.2 663.2 265.1 664.8 265.6 666.4 265.9 668 265.4 669.6 265.8 671.2 265.5 672.8 266 674.4 266 676 266 677.7 266 679.3 266 680.9 266 682.5 266 684.1 266 685.7 266 687.3 265.8 688.9 265.9 690.5 266 692.2 265.6 693.8 265.6 695.4 266 697 266 698.6 265.4 700.2 265.6 701.8 265.3 703.4 265.5 705 265.7 706.7 265.7 708.3 265.2 709.9 265.4 711.5 265.4 713.1 266 714.7 266 716.3 265.7 717.9 265.7 719.5 265.5 721.1 265.7 722.8 265.6 724.4 266 726 266 727.6 265.9 729.2 265.4 730.8 266 732.4 266 734 265.8 735.6 266 737.3 266 738.9 266 740.5 266 742.1 266 743.7 265.7 745.3 266 746.9 265.9 748.5 265.7 750.1 266 751.8 266 753.4 265.9 755 265.5 756.6 265.2 758.2 265.5 759.8 265.2 761.4 264.9 763 266 764.6 266 766.3 266 767.9 265.8 769.5 266 771.1 265.8 772.7 266 774.3 266 775.9 266 777.5 266 779.1 266 780.8 266 782.4 266 784 266 785.6 266 787.2 266 788.8 266 790.4 266 792 266 793.6 266 795.2 266 796.9 266 798.5 266 800.1 265.9 801.7 266 803.3 266 804.9 266 806.5 266 808.1 266 809.7 265.9 811.4 266 813 266 814.6 266 816.2 266 817.8 265.8 819.4 265.7 821 266 822.6 265.7 824.2 265.8 825.9 265.8 827.5 265.8 829.1 266 830.7 266 832.3 266 832.3 266.2" fill="#c3c3c3"/>
<path d="M610 265.7H832.3" stroke="#a9a9a9" stroke-width="1.1"/>
<path d="M612 252h2v14h-2zM616 252h5v14h-5zM622 252h4v14h-4zM628 252h7v14h-7zM644 252h6v14h-6z" fill="#dbac3e" shape-rendering="crispEdges"/>
<path d="M621 252h1v14h-1zM626 252h2v14h-2zM650 252h36v14h-36zM691 252h8v14h-8zM702 252h1v14h-1zM706 252h3v14h-3zM824 252h1v14h-1z" fill="#dd3029" shape-rendering="crispEdges"/>
<path d="M686 252h5v14h-5zM699 252h3v14h-3zM703 252h3v14h-3zM709 252h81v14h-81zM790 252h34v14h-34zM825 252h7v14h-7z" fill="#a718ff" shape-rendering="crispEdges"/>
<path d="M610 265.2 611.6 260.8 613.2 263.7 614.8 264.2 616.4 265.1 618.1 264.8 619.7 264.6 621.3 265.4 622.9 265.2 624.5 265.5 626.1 266 627.7 265.6 629.3 265.5 630.9 265.7 632.6 265.5 634.2 265 635.8 265.2 637.4 265.8 639 265.8 640.6 265.3 642.2 265.7 643.8 265.7 645.4 265.3 647 265.2 648.7 265.1 650.3 265.7 651.9 265.3 653.5 265.5 655.1 265.5 656.7 266 658.3 266 659.9 265.7 661.5 265.2 663.2 265.1 664.8 265.6 666.4 265.9 668 265.4 669.6 265.8 671.2 265.5 672.8 266 674.4 266 676 266 677.7 266 679.3 266 680.9 266 682.5 266 684.1 266 685.7 266 687.3 265.8 688.9 265.9 690.5 266 692.2 265.6 693.8 265.6 695.4 266 697 266 698.6 265.4 700.2 265.6 701.8 265.3 703.4 265.5 705 265.7 706.7 265.7 708.3 265.2 709.9 265.4 711.5 265.4 713.1 266 714.7 266 716.3 265.7 717.9 265.7 719.5 265.5 721.1 265.7 722.8 265.6 724.4 266 726 266 727.6 265.9 729.2 265.4 730.8 266 732.4 266 734 265.8 735.6 266 737.3 266 738.9 266 740.5 266 742.1 266 743.7 265.7 745.3 266 746.9 265.9 748.5 265.7 750.1 266 751.8 266 753.4 265.9 755 265.5 756.6 265.2 758.2 265.5 759.8 265.2 761.4 264.9 763 266 764.6 266 766.3 266 767.9 265.8 769.5 266 771.1 265.8 772.7 266 774.3 266 775.9 266 777.5 266 779.1 266 780.8 266 782.4 266 784 266 785.6 266 787.2 266 788.8 266 790.4 266 792 266 793.6 266 795.2 266 796.9 266 798.5 266 800.1 265.9 801.7 266 803.3 266 804.9 266 806.5 266 808.1 266 809.7 265.9 811.4 266 813 266 814.6 266 816.2 266 817.8 265.8 819.4 265.7 821 266 822.6 265.7 824.2 265.8 825.9 265.8 827.5 265.8 829.1 266 830.7 266 832.3 266" fill="none" stroke="#303030" stroke-opacity="0.75" stroke-width="0.9" stroke-linejoin="round" transform="translate(0 0.9)"/>
<path d="M610 280.5L610 280.2 611.6 276.2 613.2 279.2 614.8 279.1 616.4 279.6 618 280.2 619.6 279.9 621.2 280.2 622.9 280.2 624.5 280.2 626.1 279.7 627.7 280 629.3 279.9 630.9 280.2 632.5 279.5 634.1 280 635.7 280.1 637.3 280.2 638.9 279.6 640.5 280.2 642.1 279.8 643.8 279.8 645.4 280.2 647 280.2 648.6 280.2 650.2 280.2 651.8 280.2 653.4 280.2 655 279.6 656.6 280.2 658.2 280.2 659.8 279.6 661.4 279.3 663 279.1 664.6 279.7 666.2 280.2 667.9 280 669.5 279.6 671.1 280.1 672.7 280 674.3 280.2 675.9 280.2 677.5 280.2 679.1 280.2 680.7 280.2 682.3 280.2 683.9 279.7 685.5 279.9 687.1 280.2 688.8 280.2 690.4 280.2 692 280.2 693.6 279.9 695.2 279.6 696.8 280.2 698.4 280.2 700 280.2 701.6 280.2 703.2 280.2 704.8 279.7 706.4 280.2 708 279.9 709.6 280.2 711.2 280.2 712.9 280.2 714.5 280.1 716.1 280.2 717.7 280.2 719.3 280.2 720.9 280.2 722.5 280.2 724.1 280.2 725.7 280.2 727.3 280.2 728.9 280.2 730.5 280.2 732.1 280.2 733.8 280.2 735.4 279.6 737 279.7 738.6 280.2 740.2 280.1 741.8 280.2 743.4 280.2 745 280.2 746.6 280.2 748.2 280.2 749.8 279.9 751.4 279.7 753 279.9 754.6 280.2 756.2 280.2 757.9 280.2 759.5 280.2 761.1 280.2 762.7 280.2 764.3 280.2 765.9 280.2 767.5 280.2 769.1 280.2 770.7 280.2 772.3 280.2 773.9 280.2 775.5 280.1 777.1 279.8 778.8 280.2 780.4 280.1 782 280.2 783.6 280.2 785.2 280.2 786.8 280.2 788.4 280.2 790 280.2 791.6 280.2 793.2 280.2 794.8 280.2 796.4 280.2 798 279.8 799.6 280.1 801.2 280 802.9 280.1 804.5 279.9 806.1 280.1 807.7 280.2 809.3 280.2 810.9 280.2 812.5 280.2 812.5 280.5" fill="#c3c3c3"/>
<path d="M610 279.9H812.5" stroke="#a9a9a9" stroke-width="1.1"/>
<path d="M612 266h9v14h-9zM622 266h4v14h-4zM628 266h7v14h-7zM644 266h7v14h-7z" fill="#dbac3e" shape-rendering="crispEdges"/>
<path d="M621 266h1v14h-1zM626 266h2v14h-2zM651 266h15v14h-15zM668 266h18v14h-18zM692 266h2v14h-2zM696 266h1v14h-1zM707 266h2v14h-2zM730 266h1v14h-1zM744 266h2v14h-2zM747 266h2v14h-2z" fill="#dd3029" shape-rendering="crispEdges"/>
<path d="M666 266h2v14h-2zM686 266h6v14h-6zM694 266h2v14h-2zM697 266h10v14h-10zM709 266h21v14h-21zM731 266h13v14h-13zM746 266h1v14h-1zM749 266h41v14h-41zM790 266h22v14h-22z" fill="#a718ff" shape-rendering="crispEdges"/>
<path d="M610 280.2 611.6 276.2 613.2 279.2 614.8 279.1 616.4 279.6 618 280.2 619.6 279.9 621.2 280.2 622.9 280.2 624.5 280.2 626.1 279.7 627.7 280 629.3 279.9 630.9 280.2 632.5 279.5 634.1 280 635.7 280.1 637.3 280.2 638.9 279.6 640.5 280.2 642.1 279.8 643.8 279.8 645.4 280.2 647 280.2 648.6 280.2 650.2 280.2 651.8 280.2 653.4 280.2 655 279.6 656.6 280.2 658.2 280.2 659.8 279.6 661.4 279.3 663 279.1 664.6 279.7 666.2 280.2 667.9 280 669.5 279.6 671.1 280.1 672.7 280 674.3 280.2 675.9 280.2 677.5 280.2 679.1 280.2 680.7 280.2 682.3 280.2 683.9 279.7 685.5 279.9 687.1 280.2 688.8 280.2 690.4 280.2 692 280.2 693.6 279.9 695.2 279.6 696.8 280.2 698.4 280.2 700 280.2 701.6 280.2 703.2 280.2 704.8 279.7 706.4 280.2 708 279.9 709.6 280.2 711.2 280.2 712.9 280.2 714.5 280.1 716.1 280.2 717.7 280.2 719.3 280.2 720.9 280.2 722.5 280.2 724.1 280.2 725.7 280.2 727.3 280.2 728.9 280.2 730.5 280.2 732.1 280.2 733.8 280.2 735.4 279.6 737 279.7 738.6 280.2 740.2 280.1 741.8 280.2 743.4 280.2 745 280.2 746.6 280.2 748.2 280.2 749.8 279.9 751.4 279.7 753 279.9 754.6 280.2 756.2 280.2 757.9 280.2 759.5 280.2 761.1 280.2 762.7 280.2 764.3 280.2 765.9 280.2 767.5 280.2 769.1 280.2 770.7 280.2 772.3 280.2 773.9 280.2 775.5 280.1 777.1 279.8 778.8 280.2 780.4 280.1 782 280.2 783.6 280.2 785.2 280.2 786.8 280.2 788.4 280.2 790 280.2 791.6 280.2 793.2 280.2 794.8 280.2 796.4 280.2 798 279.8 799.6 280.1 801.2 280 802.9 280.1 804.5 279.9 806.1 280.1 807.7 280.2 809.3 280.2 810.9 280.2 812.5 280.2" fill="none" stroke="#303030" stroke-opacity="0.75" stroke-width="0.9" stroke-linejoin="round" transform="translate(0 0.9)"/>
<path d="M610 294.8L610 293.7 611.6 289.5 613.2 291.8 614.8 292.9 616.4 293.6 618 294.2 619.6 293.5 621.3 293.6 622.9 294 624.5 293.8 626.1 293.5 627.7 293.5 629.3 293.3 630.9 293.5 632.5 294.3 634.1 293.8 635.7 294.4 637.3 294.3 638.9 294.2 640.5 294.5 642.2 293.7 643.8 293.9 645.4 294.5 647 294.4 648.6 294.5 650.2 294.3 651.8 294.5 653.4 294.5 655 294.5 656.6 294.5 658.2 294.3 659.8 294.5 661.4 294.5 663.1 294.2 664.7 293.7 666.3 294.3 667.9 294.5 669.5 294.1 671.1 294.5 672.7 294.5 674.3 294.5 675.9 294.5 677.5 294.5 679.1 294.5 680.7 294.3 682.3 294.3 684 293.7 685.6 294 687.2 293.9 688.8 293.8 690.4 294.5 692 294.5 693.6 294.5 695.2 294.5 696.8 294.5 698.4 294.5 700 294.5 701.6 294.5 703.2 294.5 704.9 294.2 706.5 294.5 708.1 294.2 709.7 294.4 711.3 294.5 712.9 294.5 714.5 294.5 716.1 294.5 717.7 294.5 719.3 294.5 720.9 294.5 722.5 294.5 724.2 294.2 725.8 294.3 727.4 294.5 729 294 730.6 294.5 732.2 294.3 733.8 294.5 735.4 294 737 293.7 738.6 294.2 740.2 294.5 741.8 294.4 743.4 293.7 745.1 294.5 746.7 294.4 748.3 294 749.9 294.5 751.5 294 753.1 294 754.7 294.5 756.3 294.5 757.9 294.5 759.5 294.5 761.1 294.5 762.7 294.4 764.3 294.5 766 294.5 767.6 294.5 769.2 294.5 770.8 294.5 772.4 294.5 774 294.5 775.6 294.5 777.2 294.5 778.8 294.5 780.4 294.5 782 294.5 783.6 294.4 785.2 294.5 786.9 294.5 788.5 294.5 790.1 294.5 791.7 294.5 793.3 293.9 794.9 293.9 796.5 294.5 796.5 294.8" fill="#c3c3c3"/>
<path d="M610 294.2H796.5" stroke="#a9a9a9" stroke-width="1.1"/>
<path d="M615 280h6v15h-6zM625 280h10v15h-10zM643 280h4v15h-4z" fill="#dbac3e" shape-rendering="crispEdges"/>
<path d="M621 280h4v15h-4zM647 280h19v15h-19zM667 280h16v15h-16zM706 280h2v15h-2zM713 280h4v15h-4zM729 280h3v15h-3z" fill="#dd3029" shape-rendering="crispEdges"/>
<path d="M666 280h1v15h-1zM683 280h23v15h-23zM708 280h5v15h-5zM717 280h12v15h-12zM732 280h64v15h-64z" fill="#a718ff" shape-rendering="crispEdges"/>
<path d="M610 293.7 611.6 289.5 613.2 291.8 614.8 292.9 616.4 293.6 618 294.2 619.6 293.5 621.3 293.6 622.9 294 624.5 293.8 626.1 293.5 627.7 293.5 629.3 293.3 630.9 293.5 632.5 294.3 634.1 293.8 635.7 294.4 637.3 294.3 638.9 294.2 640.5 294.5 642.2 293.7 643.8 293.9 645.4 294.5 647 294.4 648.6 294.5 650.2 294.3 651.8 294.5 653.4 294.5 655 294.5 656.6 294.5 658.2 294.3 659.8 294.5 661.4 294.5 663.1 294.2 664.7 293.7 666.3 294.3 667.9 294.5 669.5 294.1 671.1 294.5 672.7 294.5 674.3 294.5 675.9 294.5 677.5 294.5 679.1 294.5 680.7 294.3 682.3 294.3 684 293.7 685.6 294 687.2 293.9 688.8 293.8 690.4 294.5 692 294.5 693.6 294.5 695.2 294.5 696.8 294.5 698.4 294.5 700 294.5 701.6 294.5 703.2 294.5 704.9 294.2 706.5 294.5 708.1 294.2 709.7 294.4 711.3 294.5 712.9 294.5 714.5 294.5 716.1 294.5 717.7 294.5 719.3 294.5 720.9 294.5 722.5 294.5 724.2 294.2 725.8 294.3 727.4 294.5 729 294 730.6 294.5 732.2 294.3 733.8 294.5 735.4 294 737 293.7 738.6 294.2 740.2 294.5 741.8 294.4 743.4 293.7 745.1 294.5 746.7 294.4 748.3 294 749.9 294.5 751.5 294 753.1 294 754.7 294.5 756.3 294.5 757.9 294.5 759.5 294.5 761.1 294.5 762.7 294.4 764.3 294.5 766 294.5 767.6 294.5 769.2 294.5 770.8 294.5 772.4 294.5 774 294.5 775.6 294.5 777.2 294.5 778.8 294.5 780.4 294.5 782 294.5 783.6 294.4 785.2 294.5 786.9 294.5 788.5 294.5 790.1 294.5 791.7 294.5 793.3 293.9 794.9 293.9 796.5 294.5" fill="none" stroke="#303030" stroke-opacity="0.75" stroke-width="0.9" stroke-linejoin="round" transform="translate(0 0.9)"/>
<path d="M610 309L610 308.7 611.6 305.1 613.2 305.8 614.8 306.8 616.5 308 618.1 308.2 619.7 308.7 621.3 308.6 622.9 308.7 624.5 308 626.1 308.6 627.8 308.3 629.4 308.7 631 308.7 632.6 308.7 634.2 308.4 635.8 308.5 637.4 308.4 639.1 308.7 640.7 308.3 642.3 308.6 643.9 308.7 645.5 308.6 647.1 308.6 648.7 308.7 650.4 308.7 652 308.7 653.6 308.5 655.2 308.7 656.8 308.7 658.4 308.7 660.1 308.5 661.7 308.3 663.3 308.6 664.9 308.7 666.5 308.7 668.1 308.7 669.7 308.6 671.4 308.7 673 308.7 674.6 308.7 676.2 308.3 677.8 308.7 679.4 308.7 681 308.6 682.7 308.7 684.3 308.7 685.9 308.5 687.5 308.4 689.1 308.3 690.7 308.7 692.3 308.7 694 308.7 695.6 308.4 697.2 308.5 698.8 308.7 700.4 308.7 702 308.7 703.6 308.7 705.3 308.7 706.9 308.7 708.5 308.7 710.1 308.4 711.7 308.7 713.3 308.5 714.9 308.5 716.6 308.7 718.2 308.7 719.8 308.1 721.4 308.6 723 308.7 724.6 308.7 726.2 308.6 727.9 308.7 729.5 308.7 731.1 308.7 732.7 308.7 734.3 308.7 735.9 308.7 737.6 308.7 739.2 308.7 740.8 308.7 742.4 308.7 744 308.7 745.6 308.7 747.2 308.7 748.9 308.1 750.5 308.7 752.1 308.6 753.7 308.6 755.3 308.7 756.9 308.7 758.5 308.6 760.2 308.4 761.8 308.7 763.4 308.2 765 308.5 766.6 308.7 768.2 308.7 769.8 308.7 771.5 308.7 773.1 308.7 774.7 308.7 776.3 308.7 776.3 309" fill="#c3c3c3"/>
<path d="M610 308.4H776.3" stroke="#a9a9a9" stroke-width="1.1"/>
<path d="M615 295h6v14h-6zM625 295h10v14h-10zM643 295h4v14h-4z" fill="#dbac3e" shape-rendering="crispEdges"/>
<path d="M621 295h4v14h-4zM647 295h19v14h-19zM667 295h14v14h-14zM710 295h4v14h-4zM719 295h14v14h-14z" fill="#dd3029" shape-rendering="crispEdges"/>
<path d="M666 295h1v14h-1zM681 295h29v14h-29zM714 295h5v14h-5zM733 295h43v14h-43z" fill="#a718ff" shape-rendering="crispEdges"/>
<path d="M610 308.7 611.6 305.1 613.2 305.8 614.8 306.8 616.5 308 618.1 308.2 619.7 308.7 621.3 308.6 622.9 308.7 624.5 308 626.1 308.6 627.8 308.3 629.4 308.7 631 308.7 632.6 308.7 634.2 308.4 635.8 308.5 637.4 308.4 639.1 308.7 640.7 308.3 642.3 308.6 643.9 308.7 645.5 308.6 647.1 308.6 648.7 308.7 650.4 308.7 652 308.7 653.6 308.5 655.2 308.7 656.8 308.7 658.4 308.7 660.1 308.5 661.7 308.3 663.3 308.6 664.9 308.7 666.5 308.7 668.1 308.7 669.7 308.6 671.4 308.7 673 308.7 674.6 308.7 676.2 308.3 677.8 308.7 679.4 308.7 681 308.6 682.7 308.7 684.3 308.7 685.9 308.5 687.5 308.4 689.1 308.3 690.7 308.7 692.3 308.7 694 308.7 695.6 308.4 697.2 308.5 698.8 308.7 700.4 308.7 702 308.7 703.6 308.7 705.3 308.7 706.9 308.7 708.5 308.7 710.1 308.4 711.7 308.7 713.3 308.5 714.9 308.5 716.6 308.7 718.2 308.7 719.8 308.1 721.4 308.6 723 308.7 724.6 308.7 726.2 308.6 727.9 308.7 729.5 308.7 731.1 308.7 732.7 308.7 734.3 308.7 735.9 308.7 737.6 308.7 739.2 308.7 740.8 308.7 742.4 308.7 744 308.7 745.6 308.7 747.2 308.7 748.9 308.1 750.5 308.7 752.1 308.6 753.7 308.6 755.3 308.7 756.9 308.7 758.5 308.6 760.2 308.4 761.8 308.7 763.4 308.2 765 308.5 766.6 308.7 768.2 308.7 769.8 308.7 771.5 308.7 773.1 308.7 774.7 308.7 776.3 308.7" fill="none" stroke="#303030" stroke-opacity="0.75" stroke-width="0.9" stroke-linejoin="round" transform="translate(0 0.9)"/>
<path d="M610 323.2L610 322.9 611.6 318.4 613.2 321.4 614.8 322.4 616.4 322.3 618 321.7 619.7 321.4 621.3 321.2 622.9 321.9 624.5 321.5 626.1 322.3 627.7 322.7 629.3 322.1 630.9 323 632.5 322.8 634.1 322.7 635.7 322.5 637.3 323 639 322.2 640.6 322.2 642.2 321.8 643.8 322.2 645.4 322.8 647 322.8 648.6 323 650.2 323 651.8 322.8 653.4 323 655 323 656.6 323 658.3 323 659.9 322.6 661.5 322.7 663.1 323 664.7 323 666.3 323 667.9 323 669.5 322.5 671.1 322.4 672.7 322.1 674.3 322.2 675.9 322.7 677.6 322.6 679.2 322.9 680.8 322.5 682.4 323 684 323 685.6 323 687.2 322.9 688.8 323 690.4 323 692 323 693.6 321.9 695.2 322.4 696.9 323 698.5 322.8 700.1 322.9 701.7 322.7 703.3 322.8 704.9 322.5 706.5 323 708.1 323 709.7 323 711.3 322.8 712.9 322.2 714.5 322.5 716.2 322.8 717.8 323 719.4 323 721 323 722.6 323 724.2 323 725.8 323 727.4 323 729 323 730.6 323 732.2 323 733.8 323 735.5 323 737.1 322.3 738.7 322 740.3 322.8 741.9 323 743.5 323 745.1 322.9 746.7 323 748.3 323 749.9 323 751.5 322.8 753.1 322.7 754.8 323 756.4 323 758 323 759.6 323 761.2 323 762.8 323 762.8 323.2" fill="#c3c3c3"/>
<path d="M610 322.7H762.8" stroke="#a9a9a9" stroke-width="1.1"/>
<path d="M615 309h1v14h-1zM617 309h4v14h-4zM625 309h13v14h-13zM641 309h6v14h-6z" fill="#dbac3e" shape-rendering="crispEdges"/>
<path d="M616 309h1v14h-1zM621 309h4v14h-4zM647 309h30v14h-30zM679 309h6v14h-6zM713 309h14v14h-14zM752 309h3v14h-3zM756 309h7v14h-7z" fill="#dd3029" shape-rendering="crispEdges"/>
<path d="M677 309h2v14h-2zM685 309h28v14h-28zM727 309h25v14h-25zM755 309h1v14h-1z" fill="#a718ff" shape-rendering="crispEdges"/>
<path d="M610 322.9 611.6 318.4 613.2 321.4 614.8 322.4 616.4 322.3 618 321.7 619.7 321.4 621.3 321.2 622.9 321.9 624.5 321.5 626.1 322.3 627.7 322.7 629.3 322.1 630.9 323 632.5 322.8 634.1 322.7 635.7 322.5 637.3 323 639 322.2 640.6 322.2 642.2 321.8 643.8 322.2 645.4 322.8 647 322.8 648.6 323 650.2 323 651.8 322.8 653.4 323 655 323 656.6 323 658.3 323 659.9 322.6 661.5 322.7 663.1 323 664.7 323 666.3 323 667.9 323 669.5 322.5 671.1 322.4 672.7 322.1 674.3 322.2 675.9 322.7 677.6 322.6 679.2 322.9 680.8 322.5 682.4 323 684 323 685.6 323 687.2 322.9 688.8 323 690.4 323 692 323 693.6 321.9 695.2 322.4 696.9 323 698.5 322.8 700.1 322.9 701.7 322.7 703.3 322.8 704.9 322.5 706.5 323 708.1 323 709.7 323 711.3 322.8 712.9 322.2 714.5 322.5 716.2 322.8 717.8 323 719.4 323 721 323 722.6 323 724.2 323 725.8 323 727.4 323 729 323 730.6 323 732.2 323 733.8 323 735.5 323 737.1 322.3 738.7 322 740.3 322.8 741.9 323 743.5 323 745.1 322.9 746.7 323 748.3 323 749.9 323 751.5 322.8 753.1 322.7 754.8 323 756.4 323 758 323 759.6 323 761.2 323 762.8 323" fill="none" stroke="#303030" stroke-opacity="0.75" stroke-width="0.9" stroke-linejoin="round" transform="translate(0 0.9)"/>
<path d="M610 337.5L610 337.2 611.6 333.1 613.2 334.9 614.8 335.2 616.4 335.5 618.1 335 619.7 335.4 621.3 336.4 622.9 336.8 624.5 336.9 626.1 336.9 627.7 336.6 629.3 336.8 631 336.8 632.6 336.9 634.2 336.8 635.8 336.8 637.4 337.2 639 337.2 640.6 336.9 642.2 336.2 643.9 336.1 645.5 336.5 647.1 336.4 648.7 336.9 650.3 336.5 651.9 337 653.5 337.2 655.1 337.2 656.8 336.8 658.4 337.2 660 337.2 661.6 337.2 663.2 337.2 664.8 337.2 666.4 336.8 668 337.2 669.7 336.8 671.3 337.2 672.9 337.2 674.5 337.2 676.1 337.2 677.7 337.2 679.3 337 680.9 337.1 682.6 337.2 684.2 336.2 685.8 336.9 687.4 336.7 689 337.1 690.6 336.9 692.2 337.1 693.8 337.1 695.5 337.2 697.1 337.2 698.7 337.2 700.3 337.2 701.9 337.2 703.5 337.2 705.1 337.2 706.7 337.2 708.4 337.2 710 337.2 711.6 337 713.2 337 714.8 337.1 716.4 336.8 718 337.2 719.6 337.2 721.3 336.9 722.9 336.5 724.5 336.9 726.1 337.2 727.7 337.2 729.3 337.2 730.9 337.1 732.5 337.1 734.2 337.2 735.8 337.2 737.4 337.2 739 337.2 740.6 337.2 740.6 337.5" fill="#c3c3c3"/>
<path d="M610 336.9H740.6" stroke="#a9a9a9" stroke-width="1.1"/>
<path d="M615 323h6v15h-6zM622 323h2v15h-2zM625 323h14v15h-14zM641 323h7v15h-7zM649 323h2v15h-2z" fill="#dbac3e" shape-rendering="crispEdges"/>
<path d="M621 323h1v15h-1zM624 323h1v15h-1zM648 323h1v15h-1zM651 323h25v15h-25zM689 323h1v15h-1zM708 323h8v15h-8zM733 323h4v15h-4zM739 323h2v15h-2z" fill="#dd3029" shape-rendering="crispEdges"/>
<path d="M676 323h13v15h-13zM690 323h18v15h-18zM716 323h17v15h-17zM737 323h2v15h-2z" fill="#a718ff" shape-rendering="crispEdges"/>
<path d="M610 337.2 611.6 333.1 613.2 334.9 614.8 335.2 616.4 335.5 618.1 335 619.7 335.4 621.3 336.4 622.9 336.8 624.5 336.9 626.1 336.9 627.7 336.6 629.3 336.8 631 336.8 632.6 336.9 634.2 336.8 635.8 336.8 637.4 337.2 639 337.2 640.6 336.9 642.2 336.2 643.9 336.1 645.5 336.5 647.1 336.4 648.7 336.9 650.3 336.5 651.9 337 653.5 337.2 655.1 337.2 656.8 336.8 658.4 337.2 660 337.2 661.6 337.2 663.2 337.2 664.8 337.2 666.4 336.8 668 337.2 669.7 336.8 671.3 337.2 672.9 337.2 674.5 337.2 676.1 337.2 677.7 337.2 679.3 337 680.9 337.1 682.6 337.2 684.2 336.2 685.8 336.9 687.4 336.7 689 337.1 690.6 336.9 692.2 337.1 693.8 337.1 695.5 337.2 697.1 337.2 698.7 337.2 700.3 337.2 701.9 337.2 703.5 337.2 705.1 337.2 706.7 337.2 708.4 337.2 710 337.2 711.6 337 713.2 337 714.8 337.1 716.4 336.8 718 337.2 719.6 337.2 721.3 336.9 722.9 336.5 724.5 336.9 726.1 337.2 727.7 337.2 729.3 337.2 730.9 337.1 732.5 337.1 734.2 337.2 735.8 337.2 737.4 337.2 739 337.2 740.6 337.2" fill="none" stroke="#303030" stroke-opacity="0.75" stroke-width="0.9" stroke-linejoin="round" transform="translate(0 0.9)"/>
<path d="M1144 68h1v14h-1z" fill="#dbac3e" shape-rendering="crispEdges"/>
<path d="M1111 82L1111 76.2 1112.6 76.6 1114.2 77.6 1115.8 77.7 1117.4 77.5 1119 77.2 1120.6 76.9 1122.2 76.9 1123.9 77.2 1125.5 77.2 1127.1 77.2 1128.7 77.4 1130.3 77.3 1131.9 77.3 1133.5 77.3 1135.1 77 1136.7 77.4 1138.3 77.3 1139.9 77.4 1141.5 77.1 1143.1 77 1144.7 77.3 1146.3 77.5 1147.9 76.9 1149.6 76.9 1151.2 77.3 1152.8 77.3 1154.4 77.3 1156 76.9 1157.6 76.7 1159.2 77.1 1160.8 77 1162.4 76.9 1164 76.7 1165.6 76.8 1167.2 76.8 1168.8 76.8 1170.4 76.6 1172 76.9 1173.6 76.4 1175.3 76.6 1176.9 76.5 1178.5 76.4 1180.1 76.6 1181.7 76.5 1183.3 76.5 1184.9 76.6 1186.5 76.5 1188.1 76.6 1189.7 76.4 1191.3 76.6 1192.9 76.6 1194.5 76.4 1196.1 76.2 1197.7 76.4 1199.4 76.2 1201 76 1202.6 76.1 1204.2 76 1205.8 76.1 1207.4 76.1 1209 76.4 1210.6 76.3 1212.2 76.2 1213.8 76.3 1215.4 76.3 1217 76.4 1218.6 76.6 1220.2 76.3 1221.8 76.4 1223.4 76.2 1225.1 76 1226.7 76.2 1228.3 76.2 1229.9 76 1231.5 76.1 1233.1 76.2 1234.7 76.3 1236.3 76.2 1237.9 75.9 1239.5 76.1 1241.1 76.1 1242.7 76.4 1244.3 76.4 1245.9 76.3 1247.5 76.2 1249.1 76.3 1250.8 76.4 1252.4 76.4 1254 76.4 1255.6 76.2 1257.2 76 1258.8 76 1260.4 76.2 1262 76.4 1263.6 76 1265.2 75.9 1266.8 76.2 1268.4 76.2 1270 76 1271.6 75.8 1273.2 76 1274.9 76.2 1276.5 76.3 1278.1 76.1 1279.7 76 1281.3 75.7 1282.9 75.6 1284.5 75.6 1286.1 75.7 1287.7 75.7 1289.3 76 1290.9 76.4 1292.5 76.2 1294.1 75.9 1295.7 75.7 1297.3 76 1298.9 75.9 1300.6 75.9 1302.2 75.9 1303.8 75.6 1305.4 75.9 1307 75.9 1308.6 75.9 1310.2 76 1311.8 75.9 1313.4 76 1315 75.8 1316.6 75.7 1318.2 75.9 1319.8 76 1321.4 75.8 1323 75.7 1324.6 75.5 1326.3 75.7 1327.9 75.6 1329.5 75.8 1331.1 75.7 1332.7 76 1334.3 75.3 1335.9 75.4 1337.5 75.5 1339.1 75.6 1340.7 75.1 1342.3 75.3 1343.9 75.7 1345.5 75.3 1347.1 75.4 1348.7 75.3 1350.4 75.1 1352 74.8 1353.6 74.3 1355.2 74.7 1356.8 74.6 1358.4 74.9 1360 74.7 1361.6 74.5 1363.2 75 1364.8 75.3 1366.4 75 1368 74.9 1369.6 74.4 1371.2 74.1 1372.8 74.1 1374.4 73.8 1376.1 73.5 1377.7 73.6 1379.3 73.6 1380.9 73.4 1382.5 73.1 1384.1 73.3 1385.7 73 1387.3 72.8 1388.9 72.2 1390.5 72.4 1392.1 72.1 1393.7 71.2 1395.3 70.6 1396.9 69.7 1398.5 69.4 1400.1 69.1 1401.8 71 1403.4 73 1405 72.3 1406.6 70.6 1408.2 69 1409.8 69.8 1411.4 71.7 1413 74.1 1413 82" fill="#c7c9cb" stroke="#262626" stroke-width="1" stroke-linejoin="round"/>
<path d="M1079 82h2v14h-2zM1082 82h1v14h-1zM1088 82h3v14h-3zM1092 82h3v14h-3zM1096 82h2v14h-2zM1101 82h3v14h-3zM1116 82h3v14h-3zM1121 82h4v14h-4zM1131 82h13v14h-13zM1145 82h1v14h-1zM1169 82h2v14h-2zM1176 82h8v14h-8z" fill="#dbac3e" shape-rendering="crispEdges"/>
<path d="M1081 82h1v14h-1zM1119 82h2v14h-2zM1125 82h6v14h-6z" fill="#dd3029" shape-rendering="crispEdges"/>
<path d="M1408 82h1v14h-1z" fill="#a718ff" shape-rendering="crispEdges"/>
<path d="M1075 96.2L1075 89.5 1076.6 91.6 1078.2 92.1 1079.8 91.6 1081.4 91.4 1083 91.4 1084.6 91.7 1086.2 91.6 1087.8 91.7 1089.4 91.5 1091 92 1092.6 92.4 1094.2 92.4 1095.8 91.9 1097.4 91.9 1099 92 1100.6 91.9 1102.2 91.6 1103.8 91.7 1105.4 91.5 1107 91.8 1108.6 91.9 1110.2 91.6 1111.8 91.4 1113.4 91.7 1115 91.4 1116.6 91.5 1118.3 91.2 1119.9 91.1 1121.5 91.3 1123.1 91.1 1124.7 91 1126.3 91.2 1127.9 91.3 1129.5 91.4 1131.1 91.1 1132.7 91.3 1134.3 91.1 1135.9 90.9 1137.5 91.2 1139.1 91 1140.7 91 1142.3 90.9 1143.9 90.6 1145.5 90.9 1147.1 91.5 1148.7 91 1150.3 91.1 1151.9 91 1153.5 91.3 1155.1 91.3 1156.7 90.8 1158.3 91 1159.9 91.3 1161.5 91 1163.1 90.7 1164.7 90.7 1166.3 91 1167.9 90.7 1169.5 91 1171.1 90.9 1172.7 91.1 1174.3 91.1 1175.9 91.1 1177.5 90.9 1179.1 90.6 1180.7 90.4 1182.3 90.7 1183.9 91.1 1185.5 91.1 1187.1 90.8 1188.7 90.4 1190.3 90.5 1191.9 90.7 1193.5 90.7 1195.1 90.5 1196.7 90.6 1198.3 90.7 1199.9 90.2 1201.5 90.9 1203.2 90.9 1204.8 90.7 1206.4 90.4 1208 90.5 1209.6 90.6 1211.2 90.8 1212.8 90.8 1214.4 90.6 1216 90.1 1217.6 90.3 1219.2 90.3 1220.8 90.7 1222.4 90.7 1224 90.2 1225.6 90.4 1227.2 90.6 1228.8 90.2 1230.4 90.4 1232 90.1 1233.6 90.2 1235.2 90.9 1236.8 90.4 1238.4 90.3 1240 90.2 1241.6 90.6 1243.2 90.8 1244.8 90.7 1246.4 90.4 1248 90.5 1249.6 90.3 1251.2 90.6 1252.8 90.3 1254.4 90.7 1256 90.3 1257.6 90.2 1259.2 90.3 1260.8 90.4 1262.4 90.3 1264 90.2 1265.6 90.2 1267.2 90.2 1268.8 89.9 1270.4 90 1272 90.1 1273.6 90.5 1275.2 90.3 1276.8 90.4 1278.4 90.3 1280 90.1 1281.6 89.8 1283.2 90.2 1284.8 89.8 1286.5 90.4 1288.1 90.2 1289.7 90 1291.3 89.7 1292.9 89.9 1294.5 89.9 1296.1 90 1297.7 89.5 1299.3 90 1300.9 90.1 1302.5 90 1304.1 90.3 1305.7 89.9 1307.3 89.8 1308.9 90.2 1310.5 89.7 1312.1 90 1313.7 90.2 1315.3 90.5 1316.9 90.1 1318.5 90.3 1320.1 90.3 1321.7 89.7 1323.3 90 1324.9 90.1 1326.5 89.9 1328.1 90 1329.7 90.3 1331.3 90.2 1332.9 90.3 1334.5 90.1 1336.1 89.7 1337.7 89.8 1339.3 90.3 1340.9 90 1342.5 89.7 1344.1 89.4 1345.7 89.4 1347.3 89.3 1348.9 89.3 1350.5 88.7 1352.1 88.2 1353.7 88 1355.3 87.7 1356.9 87.8 1358.5 87.9 1360.1 87.6 1361.7 88.4 1363.3 88.1 1364.9 88 1366.5 88.3 1368.1 88.2 1369.7 88 1371.4 87.8 1373 87.7 1374.6 87.4 1376.2 87.5 1377.8 87.3 1379.4 87.3 1381 87.6 1382.6 87.5 1384.2 87.2 1385.8 86.9 1387.4 86.9 1389 86.8 1390.6 87 1392.2 86.4 1393.8 86.5 1395.4 86.5 1397 87.1 1398.6 88 1400.2 88.8 1401.8 89.6 1403.4 91.1 1405 92.5 1406.6 93.5 1408.2 94.2 1409.8 92 1411.4 89.3 1413 86.9 1413 96.2" fill="#c7c9cb" stroke="#262626" stroke-width="1" stroke-linejoin="round"/>
<path d="M1065 96h1v14h-1zM1074 96h2v14h-2zM1079 96h2v14h-2zM1084 96h4v14h-4zM1092 96h2v14h-2zM1104 96h1v14h-1zM1111 96h3v14h-3zM1115 96h4v14h-4zM1122 96h2v14h-2zM1125 96h6v14h-6zM1136 96h2v14h-2zM1139 96h5v14h-5zM1147 96h4v14h-4zM1152 96h3v14h-3zM1157 96h8v14h-8zM1166 96h10v14h-10zM1221 96h2v14h-2zM1226 96h6v14h-6zM1241 96h1v14h-1zM1245 96h1v14h-1zM1252 96h6v14h-6zM1268 96h4v14h-4zM1409 96h1v14h-1z" fill="#dbac3e" shape-rendering="crispEdges"/>
<path d="M1066 96h6v14h-6zM1077 96h2v14h-2zM1408 96h1v14h-1z" fill="#a718ff" shape-rendering="crispEdges"/>
<path d="M1072 96h2v14h-2zM1088 96h4v14h-4zM1124 96h1v14h-1zM1131 96h5v14h-5zM1138 96h1v14h-1zM1144 96h3v14h-3zM1151 96h1v14h-1zM1155 96h2v14h-2zM1165 96h1v14h-1z" fill="#dd3029" shape-rendering="crispEdges"/>
<path d="M1061 110.4L1061 109.6 1062.6 103.8 1064.2 104.6 1065.8 107.5 1067.4 107.5 1069 107.5 1070.6 107.5 1072.2 107.3 1073.8 107.1 1075.4 106.9 1077 106.4 1078.6 106.2 1080.2 106.4 1081.8 106.1 1083.4 106 1085 106.2 1086.6 106.2 1088.2 106.2 1089.8 106.3 1091.4 106.1 1093 106.3 1094.6 106.4 1096.2 106.4 1097.8 106.2 1099.4 106.3 1101 105.8 1102.6 106.1 1104.2 105.7 1105.8 105.7 1107.4 106 1109 106 1110.6 105.7 1112.2 105.4 1113.8 105.8 1115.4 105.6 1117 105.6 1118.6 105.6 1120.2 105.8 1121.8 105.8 1123.4 105.8 1125 105.6 1126.6 105.6 1128.2 105.7 1129.8 105.5 1131.4 105.4 1133 105.3 1134.6 105.1 1136.2 105.3 1137.8 105.6 1139.4 105.7 1141 105.6 1142.6 105.9 1144.2 105.6 1145.8 105.5 1147.4 105.1 1149 105 1150.6 104.7 1152.2 104.6 1153.8 104.7 1155.4 104.8 1157 104.8 1158.6 105 1160.2 105.6 1161.8 105.6 1163.4 105.1 1165 105.4 1166.6 105.5 1168.2 105.2 1169.8 105.2 1171.4 105.3 1173 105.2 1174.6 105.4 1176.2 105.5 1177.8 104.9 1179.4 105.3 1181 105.1 1182.6 105.5 1184.2 105.1 1185.8 105.5 1187.4 105.4 1189 105.1 1190.6 104.7 1192.2 104.7 1193.8 104.3 1195.4 104.6 1197 104.9 1198.6 104.7 1200.2 104.6 1201.8 104.9 1203.4 104.9 1205 105 1206.6 105 1208.2 105.1 1209.8 105.3 1211.4 105.5 1213 105 1214.6 104.7 1216.2 104.7 1217.8 104.7 1219.4 105 1221 104.6 1222.6 104.5 1224.2 104.4 1225.8 104.7 1227.4 104.9 1229 105 1230.6 105.2 1232.2 105.3 1233.8 105.1 1235.4 105 1237 105 1238.6 104.6 1240.2 105.2 1241.8 105.2 1243.4 105 1245 104.7 1246.6 104.6 1248.2 104.5 1249.8 104.8 1251.4 104.6 1253 104.7 1254.6 104.5 1256.2 104.3 1257.8 104 1259.4 104.1 1261 104.4 1262.6 104.5 1264.2 104.2 1265.8 104.3 1267.4 104.6 1269 104.9 1270.6 104.7 1272.2 104.7 1273.8 104.9 1275.4 104.7 1277 104.6 1278.6 104.7 1280.2 104.4 1281.8 104.5 1283.4 104 1285 103.9 1286.6 104.3 1288.2 104.4 1289.8 104.4 1291.4 104.4 1293 104.7 1294.6 104.8 1296.2 104.9 1297.8 104.7 1299.4 104.6 1301 104.3 1302.6 104.4 1304.2 104.5 1305.8 104.4 1307.4 104.7 1309 104.4 1310.6 104.7 1312.2 104.3 1313.8 104.2 1315.4 104.1 1317 104 1318.6 104.5 1320.2 104.7 1321.8 104.4 1323.4 104.4 1325 104.4 1326.6 104.6 1328.2 104.5 1329.8 104.4 1331.4 103.8 1333 103.8 1334.6 104.3 1336.2 104.4 1337.8 104.2 1339.4 104.3 1341 104.2 1342.6 104 1344.2 103.6 1345.8 103.7 1347.4 103.7 1349 103.9 1350.6 103.8 1352.2 103.9 1353.8 104 1355.4 103.8 1357 104.1 1358.6 103.5 1360.2 103.1 1361.8 103.1 1363.4 102.7 1365 102.5 1366.6 102.7 1368.2 102.8 1369.8 102.7 1371.4 102.6 1373 102.3 1374.6 102.1 1376.2 102.3 1377.8 102.2 1379.4 102 1381 101.8 1382.6 101.7 1384.2 101.8 1385.8 101.9 1387.4 101.8 1389 101.2 1390.6 100.8 1392.2 100.9 1393.8 101.3 1395.4 100.9 1397 100.7 1398.6 101.4 1400.2 102.7 1401.8 103.5 1403.4 104.8 1405 106.2 1406.6 107.4 1408.2 108.5 1409.8 106.5 1411.4 104.6 1413 102.4 1413 110.4" fill="#c7c9cb" stroke="#262626" stroke-width="1" stroke-linejoin="round"/>
<path d="M1052 110h21v15h-21zM1103 110h2v15h-2zM1407 110h2v15h-2z" fill="#a718ff" shape-rendering="crispEdges"/>
<path d="M1073 110h1v15h-1zM1099 110h4v15h-4zM1105 110h4v15h-4zM1121 110h8v15h-8zM1130 110h3v15h-3zM1136 110h16v15h-16zM1246 110h2v15h-2zM1285 110h1v15h-1zM1298 110h5v15h-5zM1306 110h2v15h-2z" fill="#dd3029" shape-rendering="crispEdges"/>
<path d="M1096 110h3v15h-3zM1109 110h3v15h-3zM1115 110h6v15h-6zM1129 110h1v15h-1zM1133 110h3v15h-3zM1152 110h21v15h-21zM1201 110h14v15h-14zM1216 110h3v15h-3zM1225 110h21v15h-21zM1248 110h7v15h-7zM1282 110h3v15h-3zM1286 110h12v15h-12zM1303 110h3v15h-3zM1308 110h17v15h-17zM1326 110h3v15h-3zM1331 110h2v15h-2z" fill="#dbac3e" shape-rendering="crispEdges"/>
<path d="M1052 124.6L1052 123.1 1053.6 123.3 1055.2 123.1 1056.8 123.1 1058.4 123.1 1060 123 1061.6 123.1 1063.2 122.8 1064.8 122.7 1066.4 122.4 1068 122.5 1069.6 122 1071.3 121.6 1072.9 121.3 1074.5 121.3 1076.1 121.1 1077.7 120.8 1079.3 120.5 1080.9 120.4 1082.5 120.8 1084.1 120.7 1085.7 120.7 1087.3 120.7 1088.9 121 1090.5 120.7 1092.1 120.7 1093.7 121 1095.3 120.8 1096.9 120.3 1098.5 120.3 1100.1 120.1 1101.7 119.7 1103.3 119.7 1104.9 119.7 1106.6 120 1108.2 120.1 1109.8 120 1111.4 119.7 1113 120 1114.6 120.1 1116.2 119.9 1117.8 119.5 1119.4 119.5 1121 119.6 1122.6 119.8 1124.2 119.6 1125.8 119.6 1127.4 119.3 1129 119.5 1130.6 119.3 1132.2 119.7 1133.8 119.7 1135.4 119.3 1137 119.5 1138.6 119.3 1140.2 119.4 1141.8 119.2 1143.5 119.2 1145.1 119.2 1146.7 119.3 1148.3 119.2 1149.9 119.4 1151.5 119.3 1153.1 119.2 1154.7 119 1156.3 119.1 1157.9 119.5 1159.5 119.3 1161.1 119.5 1162.7 119.2 1164.3 119.4 1165.9 119.5 1167.5 119.4 1169.1 119.3 1170.7 119.2 1172.3 118.9 1173.9 119.2 1175.5 118.9 1177.1 119.1 1178.8 119.2 1180.4 119.3 1182 119 1183.6 119 1185.2 119.1 1186.8 119.3 1188.4 119.2 1190 119.3 1191.6 119.6 1193.2 119.5 1194.8 119.1 1196.4 119.2 1198 118.8 1199.6 118.7 1201.2 118.7 1202.8 118.6 1204.4 118.6 1206 119 1207.6 118.9 1209.2 119 1210.8 119.1 1212.4 118.8 1214 118.9 1215.7 118.8 1217.3 118.4 1218.9 118.9 1220.5 118.7 1222.1 118.8 1223.7 118.7 1225.3 118.7 1226.9 118.8 1228.5 118.9 1230.1 118.9 1231.7 119 1233.3 118.8 1234.9 119.1 1236.5 119.2 1238.1 118.8 1239.7 118.7 1241.3 118.8 1242.9 118.9 1244.5 119 1246.1 118.8 1247.7 118.8 1249.3 118.3 1251 118.8 1252.6 118.5 1254.2 118.3 1255.8 118.2 1257.4 118.5 1259 118.5 1260.6 118.6 1262.2 118.7 1263.8 118.8 1265.4 118.9 1267 118.5 1268.6 118.4 1270.2 118.5 1271.8 118 1273.4 118.2 1275 118.4 1276.6 118.3 1278.2 118.7 1279.8 119 1281.4 118.6 1283 118.6 1284.6 118.9 1286.2 118.8 1287.9 118.7 1289.5 118.7 1291.1 118.8 1292.7 119 1294.3 118.9 1295.9 118.5 1297.5 118.1 1299.1 118.2 1300.7 117.9 1302.3 118.3 1303.9 118.5 1305.5 118.8 1307.1 118.7 1308.7 118.7 1310.3 118.6 1311.9 118.7 1313.5 118.9 1315.1 118.7 1316.7 118.6 1318.3 119 1319.9 118.9 1321.5 118.5 1323.2 118.4 1324.8 118.5 1326.4 118.9 1328 118.4 1329.6 118.3 1331.2 118.3 1332.8 118.7 1334.4 118.3 1336 118 1337.6 118.3 1339.2 118.2 1340.8 118.1 1342.4 118.1 1344 117.9 1345.6 117.8 1347.2 117.8 1348.8 118.2 1350.4 118.3 1352 117.9 1353.6 117.3 1355.2 117.7 1356.8 117.7 1358.4 117.6 1360.1 117.8 1361.7 117.5 1363.3 117.4 1364.9 117.6 1366.5 117.5 1368.1 117.7 1369.7 117.5 1371.3 117.1 1372.9 117.1 1374.5 117.3 1376.1 117.4 1377.7 117.3 1379.3 116.8 1380.9 117 1382.5 117.2 1384.1 117.3 1385.7 117 1387.3 116.5 1388.9 116.7 1390.5 116.6 1392.1 116.6 1393.7 116.3 1395.4 116.3 1397 117.4 1398.6 118.3 1400.2 118.9 1401.8 119.5 1403.4 120.3 1405 121.2 1406.6 121.9 1408.2 122.5 1409.8 120.8 1411.4 118.9 1413 117.1 1413 124.6" fill="#c7c9cb" stroke="#262626" stroke-width="1" stroke-linejoin="round"/>
<path d="M1052 125h21v14h-21z" fill="#a718ff" shape-rendering="crispEdges"/>
<path d="M1076 125h2v14h-2zM1095 125h21v14h-21zM1122 125h13v14h-13zM1144 125h5v14h-5zM1151 125h22v14h-22zM1175 125h4v14h-4zM1180 125h3v14h-3zM1185 125h27v14h-27zM1223 125h2v14h-2zM1225 125h13v14h-13zM1241 125h14v14h-14zM1282 125h11v14h-11zM1295 125h3v14h-3zM1302 125h37v14h-37zM1341 125h7v14h-7z" fill="#dbac3e" shape-rendering="crispEdges"/>
<path d="M1116 125h6v14h-6zM1135 125h9v14h-9zM1149 125h2v14h-2zM1238 125h3v14h-3zM1255 125h27v14h-27zM1293 125h2v14h-2zM1298 125h4v14h-4zM1339 125h2v14h-2z" fill="#dd3029" shape-rendering="crispEdges"/>
<path d="M1051 138.8L1051 137.5 1052.6 137.6 1054.2 137.4 1055.8 137.1 1057.4 137.1 1059 136.8 1060.6 136.8 1062.2 136.7 1063.8 136.7 1065.4 136.5 1067 136.1 1068.6 136.1 1070.2 135.7 1071.8 135.3 1073.4 135.1 1075 134.9 1076.6 134.8 1078.2 134.4 1079.8 134.7 1081.5 134.5 1083.1 134.8 1084.7 134.5 1086.3 134.6 1087.9 134.6 1089.5 134.5 1091.1 134.1 1092.7 134.3 1094.3 134.3 1095.9 134.5 1097.5 134.2 1099.1 134.1 1100.7 134.4 1102.3 133.9 1103.9 134 1105.5 134 1107.1 134.1 1108.7 134.3 1110.3 134.1 1111.9 133.7 1113.5 134 1115.1 134.2 1116.7 134.1 1118.3 134.3 1119.9 134 1121.5 134.3 1123.1 134.2 1124.7 134 1126.3 134.1 1127.9 133.9 1129.5 133.9 1131.1 134 1132.7 133.9 1134.3 133.5 1135.9 133.8 1137.5 134.1 1139.1 133.8 1140.8 133.8 1142.4 133.8 1144 133.8 1145.6 134 1147.2 134 1148.8 133.9 1150.4 134 1152 133.7 1153.6 133.7 1155.2 133.8 1156.8 133.8 1158.4 133.9 1160 133.8 1161.6 133.2 1163.2 133.5 1164.8 133.6 1166.4 133.9 1168 133.9 1169.6 133.9 1171.2 133.7 1172.8 133.7 1174.4 133.5 1176 133.5 1177.6 133.5 1179.2 133.4 1180.8 133.8 1182.4 133.9 1184 133.5 1185.6 133.6 1187.2 133.3 1188.8 133.2 1190.4 133 1192 133.2 1193.6 133.3 1195.2 132.9 1196.8 132.9 1198.4 133.4 1200.1 133 1201.7 133.2 1203.3 133.3 1204.9 133.3 1206.5 133.5 1208.1 133.4 1209.7 132.8 1211.3 133.1 1212.9 133.5 1214.5 133.6 1216.1 133.9 1217.7 133.7 1219.3 133.7 1220.9 133.5 1222.5 133.1 1224.1 133.1 1225.7 133.2 1227.3 133 1228.9 133.1 1230.5 132.9 1232.1 132.8 1233.7 132.8 1235.3 132.9 1236.9 132.8 1238.5 132.8 1240.1 132.9 1241.7 133 1243.3 133 1244.9 132.8 1246.5 132.8 1248.1 132.8 1249.7 133 1251.3 132.9 1252.9 132.8 1254.5 132.8 1256.1 133 1257.7 133.3 1259.4 133.2 1261 133.1 1262.6 132.8 1264.2 132.5 1265.8 132.5 1267.4 132.5 1269 132.6 1270.6 132.4 1272.2 132.4 1273.8 132.6 1275.4 132.7 1277 132.6 1278.6 132.8 1280.2 133 1281.8 132.8 1283.4 133 1285 133.3 1286.6 133 1288.2 133 1289.8 132.8 1291.4 132.6 1293 132.7 1294.6 132.5 1296.2 132.5 1297.8 133 1299.4 132.9 1301 132.9 1302.6 132.8 1304.2 132.9 1305.8 133.1 1307.4 133 1309 132.5 1310.6 132.8 1312.2 132.9 1313.8 132.5 1315.4 132.6 1317 132.5 1318.7 132.5 1320.3 132.8 1321.9 132.9 1323.5 132.6 1325.1 132.7 1326.7 132.8 1328.3 132.6 1329.9 132.8 1331.5 132.5 1333.1 132.7 1334.7 132.6 1336.3 133 1337.9 132.8 1339.5 132.5 1341.1 132.6 1342.7 133 1344.3 132.8 1345.9 132.7 1347.5 132.7 1349.1 132.3 1350.7 132.6 1352.3 132.8 1353.9 132.7 1355.5 132.7 1357.1 132.6 1358.7 132.6 1360.3 132.8 1361.9 132.6 1363.5 132.6 1365.1 132.9 1366.7 132.8 1368.3 132.6 1369.9 132.8 1371.5 132.5 1373.1 132.2 1374.7 132.3 1376.3 132.2 1378 132 1379.6 131.9 1381.2 131.6 1382.8 131.8 1384.4 131.6 1386 131.6 1387.6 130.8 1389.2 131.2 1390.8 131.2 1392.4 131.1 1394 130.9 1395.6 130.7 1397.2 130.6 1398.8 131.3 1400.4 131.2 1402 130.8 1403.6 130.5 1405.2 130.4 1406.8 130.8 1406.8 138.8" fill="#c7c9cb" stroke="#262626" stroke-width="1" stroke-linejoin="round"/>
<path d="M1050 139h19v14h-19zM1072 139h6v14h-6zM1269 139h2v14h-2zM1276 139h2v14h-2zM1290 139h2v14h-2z" fill="#a718ff" shape-rendering="crispEdges"/>
<path d="M1069 139h2v14h-2zM1078 139h4v14h-4zM1099 139h3v14h-3zM1108 139h4v14h-4zM1114 139h3v14h-3zM1119 139h9v14h-9zM1129 139h2v14h-2zM1136 139h11v14h-11zM1149 139h2v14h-2zM1156 139h2v14h-2zM1161 139h12v14h-12zM1175 139h17v14h-17zM1199 139h2v14h-2zM1206 139h8v14h-8zM1218 139h7v14h-7zM1225 139h3v14h-3zM1309 139h2v14h-2zM1327 139h11v14h-11z" fill="#dbac3e" shape-rendering="crispEdges"/>
<path d="M1071 139h1v14h-1zM1117 139h2v14h-2zM1147 139h2v14h-2zM1151 139h5v14h-5zM1158 139h3v14h-3zM1173 139h2v14h-2zM1228 139h41v14h-41zM1271 139h5v14h-5zM1278 139h12v14h-12zM1292 139h17v14h-17zM1311 139h16v14h-16z" fill="#dd3029" shape-rendering="crispEdges"/>
<path d="M1049.2 153L1049.2 152.3 1050.8 152.3 1052.4 152.3 1054 152.2 1055.6 151.8 1057.2 152.1 1058.8 151.8 1060.4 151.5 1062 151.6 1063.6 151.3 1065.2 151.1 1066.8 151 1068.4 150.7 1070 150.7 1071.6 150.3 1073.2 150.2 1074.8 150.1 1076.4 149.9 1078 149.6 1079.6 149.6 1081.2 149.5 1082.8 149.5 1084.4 149.5 1086 149.7 1087.6 149.9 1089.2 149.7 1090.8 149.7 1092.4 149.8 1094.1 150 1095.7 150 1097.3 149.7 1098.9 149.4 1100.5 149.7 1102.1 149.9 1103.7 149.7 1105.3 149.5 1106.9 149.4 1108.5 149.6 1110.1 149.4 1111.7 149.6 1113.3 149.4 1114.9 149.4 1116.5 149.4 1118.1 149.2 1119.7 149.4 1121.3 149.4 1122.9 149.3 1124.5 149.1 1126.1 149.3 1127.7 149.4 1129.3 149.3 1130.9 149.3 1132.5 149.3 1134.1 149.3 1135.7 149.2 1137.3 149.2 1138.9 148.9 1140.5 148.8 1142.1 149.1 1143.7 149.4 1145.3 149.2 1146.9 149.3 1148.5 149.4 1150.1 149.1 1151.7 148.9 1153.3 148.9 1154.9 149.2 1156.5 149.1 1158.1 149.1 1159.7 148.8 1161.3 148.8 1162.9 148.6 1164.5 148.7 1166.1 148.5 1167.7 148.6 1169.3 148.7 1170.9 148.4 1172.5 148.4 1174.1 148.6 1175.7 149 1177.3 148.9 1178.9 148.7 1180.5 148.5 1182.2 148.9 1183.8 148.7 1185.4 148.6 1187 148.4 1188.6 148.4 1190.2 148.5 1191.8 148.7 1193.4 148.5 1195 148.8 1196.6 148.8 1198.2 149 1199.8 148.8 1201.4 148.7 1203 148.7 1204.6 148.9 1206.2 148.6 1207.8 148.6 1209.4 149 1211 148.8 1212.6 148.7 1214.2 148.5 1215.8 148.3 1217.4 148.3 1219 148.5 1220.6 148.2 1222.2 148.1 1223.8 147.9 1225.4 148.2 1227 148 1228.6 148.2 1230.2 148.3 1231.8 148.4 1233.4 148.2 1235 148.2 1236.6 148.5 1238.2 148.2 1239.8 147.9 1241.4 148.1 1243 148 1244.6 147.9 1246.2 148.2 1247.8 147.9 1249.4 147.7 1251 147.8 1252.6 148 1254.2 148.1 1255.8 148.1 1257.4 147.9 1259 148.1 1260.6 147.9 1262.2 148 1263.8 147.8 1265.4 147.6 1267 147.7 1268.6 147.7 1270.3 147.7 1271.9 147.9 1273.5 148.2 1275.1 147.8 1276.7 148.2 1278.3 147.9 1279.9 147.7 1281.5 147.6 1283.1 147.7 1284.7 148.1 1286.3 148.2 1287.9 147.8 1289.5 147.7 1291.1 147.8 1292.7 147.9 1294.3 147.7 1295.9 147.6 1297.5 148 1299.1 148.2 1300.7 147.7 1302.3 147.9 1303.9 147.9 1305.5 147.8 1307.1 147.9 1308.7 147.7 1310.3 147.8 1311.9 148.1 1313.5 147.8 1315.1 148 1316.7 148 1318.3 147.9 1319.9 147.8 1321.5 147.9 1323.1 147.4 1324.7 147.9 1326.3 148.1 1327.9 148 1329.5 148.1 1331.1 147.7 1332.7 147.8 1334.3 147.4 1335.9 147.6 1337.5 147.7 1339.1 147.9 1340.7 147.9 1342.3 148 1343.9 148.3 1345.5 148 1347.1 147.8 1348.7 147.6 1350.3 147.2 1351.9 147.8 1353.5 147.7 1355.1 147.9 1356.7 147.8 1358.4 147.8 1360 147.9 1361.6 148 1363.2 148.1 1364.8 147.6 1366.4 148 1368 147.8 1369.6 147.9 1371.2 147.5 1372.8 147.4 1374.4 147.5 1376 147.6 1377.6 147.7 1379.2 147.9 1380.8 147.9 1382.4 147.7 1384 147.8 1385.6 147.7 1387.2 148.1 1388.8 147.7 1390.4 148.2 1392 148 1393.6 148.1 1395.2 148.2 1396.8 148.1 1398.4 148 1400 147.6 1401.6 147.7 1401.6 153" fill="#c7c9cb" stroke="#262626" stroke-width="1" stroke-linejoin="round"/>
<path d="M1050 153h19v14h-19zM1072 153h7v14h-7zM1080 153h2v14h-2zM1238 153h13v14h-13zM1259 153h2v14h-2zM1289 153h2v14h-2zM1293 153h19v14h-19z" fill="#a718ff" shape-rendering="crispEdges"/>
<path d="M1069 153h1v14h-1zM1086 153h3v14h-3zM1091 153h5v14h-5zM1098 153h3v14h-3zM1103 153h2v14h-2zM1107 153h5v14h-5zM1113 153h16v14h-16zM1136 153h12v14h-12zM1150 153h1v14h-1zM1152 153h2v14h-2zM1156 153h5v14h-5zM1162 153h12v14h-12zM1176 153h10v14h-10zM1187 153h11v14h-11zM1217 153h8v14h-8zM1225 153h1v14h-1zM1226 153h2v14h-2zM1331 153h8v14h-8zM1342 153h6v14h-6zM1349 153h2v14h-2zM1392 153h3v14h-3z" fill="#dbac3e" shape-rendering="crispEdges"/>
<path d="M1070 153h2v14h-2zM1079 153h1v14h-1zM1082 153h4v14h-4zM1096 153h2v14h-2zM1148 153h2v14h-2zM1151 153h1v14h-1zM1154 153h2v14h-2zM1161 153h1v14h-1zM1174 153h2v14h-2zM1225 153h1v14h-1zM1228 153h10v14h-10zM1251 153h8v14h-8zM1261 153h28v14h-28zM1291 153h2v14h-2zM1312 153h19v14h-19zM1339 153h3v14h-3z" fill="#dd3029" shape-rendering="crispEdges"/>
<path d="M1049.2 167.2L1049.2 166.4 1050.8 166.4 1052.4 166.2 1054 166.2 1055.6 166.2 1057.2 165.9 1058.8 165.8 1060.4 165.6 1062 165.4 1063.6 165.2 1065.2 165.1 1066.8 165 1068.4 164.8 1070 165.1 1071.7 164.7 1073.3 164.7 1074.9 164.3 1076.5 164.3 1078.1 164.3 1079.7 164.1 1081.3 164.1 1082.9 164.1 1084.5 164 1086.1 164.3 1087.7 164.1 1089.3 163.9 1090.9 163.7 1092.5 163.6 1094.1 163.7 1095.7 163.6 1097.3 163.5 1098.9 163.7 1100.5 163.7 1102.1 163.8 1103.7 163.7 1105.3 163.6 1106.9 163.8 1108.5 163.8 1110.1 163.6 1111.7 163.4 1113.3 163.9 1115 163.9 1116.6 163.7 1118.2 163.3 1119.8 163.6 1121.4 163.7 1123 163.5 1124.6 163.7 1126.2 163.6 1127.8 163.2 1129.4 163.6 1131 163.6 1132.6 163.3 1134.2 163.2 1135.8 163.4 1137.4 163.2 1139 163.5 1140.6 163.5 1142.2 163.7 1143.8 163.5 1145.4 163.5 1147 163.4 1148.6 163.6 1150.2 163.1 1151.8 163.2 1153.4 163.4 1155 163.3 1156.6 163.5 1158.3 163.3 1159.9 163.1 1161.5 163.5 1163.1 163.3 1164.7 163.2 1166.3 163 1167.9 163 1169.5 162.9 1171.1 163 1172.7 162.9 1174.3 163.1 1175.9 163.1 1177.5 163.1 1179.1 163 1180.7 163.2 1182.3 163.1 1183.9 163 1185.5 162.7 1187.1 162.3 1188.7 162.2 1190.3 162.4 1191.9 162.4 1193.5 162.5 1195.1 162.6 1196.7 162.8 1198.3 162.6 1199.9 162.9 1201.6 162.6 1203.2 162.8 1204.8 162.6 1206.4 162.8 1208 162.5 1209.6 162.4 1211.2 162.5 1212.8 162.5 1214.4 162.6 1216 162.4 1217.6 161.9 1219.2 162.2 1220.8 162.6 1222.4 162.6 1224 162.3 1225.6 162.4 1227.2 162.5 1228.8 162.5 1230.4 162.3 1232 162.4 1233.6 162.4 1235.2 162.5 1236.8 162.5 1238.4 162.5 1240 162.4 1241.6 162.7 1243.2 162.7 1244.8 162.6 1246.5 162.7 1248.1 162.6 1249.7 162.5 1251.3 162.8 1252.9 162.9 1254.5 162.9 1256.1 162.9 1257.7 163 1259.3 162.7 1260.9 162.7 1262.5 162.6 1264.1 162.3 1265.7 162.4 1267.3 162.2 1268.9 162.1 1270.5 162 1272.1 161.9 1273.7 162.1 1275.3 161.6 1276.9 161.9 1278.5 162.3 1280.1 162 1281.7 162.1 1283.3 162.1 1284.9 161.8 1286.5 162.1 1288.1 161.9 1289.8 162.3 1291.4 162 1293 162.1 1294.6 162.5 1296.2 162.2 1297.8 162.2 1299.4 162.5 1301 162 1302.6 161.9 1304.2 161.6 1305.8 161.9 1307.4 161.3 1309 161.5 1310.6 161.7 1312.2 161.8 1313.8 162 1315.4 162.1 1317 161.7 1318.6 161.8 1320.2 161.8 1321.8 161.5 1323.4 161.7 1325 161.6 1326.6 161.8 1328.2 161.7 1329.8 162 1331.4 161.9 1333.1 161.6 1334.7 162.1 1336.3 162.3 1337.9 162 1339.5 162.3 1341.1 162.3 1342.7 162.2 1344.3 162.2 1345.9 162.2 1347.5 162 1349.1 162 1350.7 161.9 1352.3 161.9 1353.9 162.1 1355.5 162.2 1357.1 162 1358.7 162 1360.3 162 1361.9 162.3 1363.5 162.2 1365.1 161.7 1366.7 162 1368.3 162.1 1369.9 162.1 1371.5 161.9 1373.1 162.1 1374.7 162.2 1376.4 162.7 1378 162.5 1379.6 162.7 1381.2 162.9 1382.8 162.7 1384.4 162.6 1386 162.6 1387.6 162.2 1389.2 161.7 1390.8 161.7 1392.4 162.1 1394 161.9 1395.6 161.9 1397.2 162.2 1397.2 167.2" fill="#c7c9cb" stroke="#262626" stroke-width="1" stroke-linejoin="round"/>
<path d="M1050 167h19v14h-19zM1072 167h12v14h-12zM1086 167h1v14h-1zM1238 167h24v14h-24zM1287 167h5v14h-5zM1295 167h7v14h-7zM1304 167h12v14h-12z" fill="#a718ff" shape-rendering="crispEdges"/>
<path d="M1069 167h2v14h-2zM1091 167h3v14h-3zM1096 167h3v14h-3zM1101 167h1v14h-1zM1105 167h3v14h-3zM1109 167h5v14h-5zM1122 167h6v14h-6zM1141 167h7v14h-7zM1151 167h6v14h-6zM1158 167h15v14h-15zM1175 167h1v14h-1zM1178 167h15v14h-15zM1194 167h4v14h-4zM1217 167h8v14h-8zM1326 167h13v14h-13zM1341 167h8v14h-8zM1356 167h10v14h-10zM1367 167h2v14h-2z" fill="#dbac3e" shape-rendering="crispEdges"/>
<path d="M1071 167h1v14h-1zM1084 167h2v14h-2zM1087 167h4v14h-4zM1099 167h2v14h-2zM1108 167h1v14h-1zM1148 167h3v14h-3zM1157 167h1v14h-1zM1173 167h2v14h-2zM1176 167h2v14h-2zM1225 167h13v14h-13zM1262 167h25v14h-25zM1292 167h3v14h-3zM1302 167h2v14h-2zM1316 167h10v14h-10zM1339 167h2v14h-2z" fill="#dd3029" shape-rendering="crispEdges"/>
<path d="M1049.2 181.4L1049.2 181 1050.8 180.6 1052.4 180.6 1054 180.3 1055.6 180.3 1057.2 179.9 1058.8 179.8 1060.4 179.7 1062 179.6 1063.6 179.6 1065.2 179.3 1066.8 179.1 1068.4 179.1 1070 179.1 1071.6 179.1 1073.2 178.8 1074.9 178.7 1076.5 178.6 1078.1 178.3 1079.7 178.3 1081.3 178.3 1082.9 178.1 1084.5 178.2 1086.1 178.3 1087.7 178.1 1089.3 178.1 1090.9 178.2 1092.5 177.9 1094.1 178.2 1095.7 178.1 1097.3 178 1098.9 178.3 1100.5 178 1102.1 178 1103.7 178 1105.3 177.9 1106.9 177.9 1108.5 178.4 1110.1 177.8 1111.7 177.8 1113.3 177.7 1114.9 177.6 1116.5 177.9 1118.1 177.9 1119.7 177.9 1121.3 177.7 1123 177.6 1124.6 177.6 1126.2 177.5 1127.8 177.4 1129.4 177.5 1131 177.4 1132.6 177.4 1134.2 177.5 1135.8 177 1137.4 177.6 1139 177.4 1140.6 177.5 1142.2 177.5 1143.8 177.4 1145.4 177.7 1147 177.4 1148.6 177.2 1150.2 177.2 1151.8 177.6 1153.4 177.6 1155 177.6 1156.6 177.6 1158.2 177.3 1159.8 176.9 1161.4 177.1 1163 177.2 1164.6 177.2 1166.2 176.7 1167.8 177 1169.4 177.2 1171.1 177.4 1172.7 177 1174.3 177.1 1175.9 177.1 1177.5 177.1 1179.1 177.2 1180.7 177.2 1182.3 177 1183.9 177.2 1185.5 177.2 1187.1 177 1188.7 176.9 1190.3 176.9 1191.9 176.6 1193.5 176.3 1195.1 176.4 1196.7 176.7 1198.3 176.4 1199.9 176.4 1201.5 176.1 1203.1 176.4 1204.7 176.6 1206.3 176.6 1207.9 177 1209.5 177.2 1211.1 176.4 1212.7 176.5 1214.3 176.8 1215.9 176.6 1217.5 176.7 1219.2 176.9 1220.8 177.1 1222.4 177.2 1224 176.7 1225.6 176.6 1227.2 176.5 1228.8 176.5 1230.4 176.5 1232 176.3 1233.6 176.4 1235.2 176.7 1236.8 176.9 1238.4 176.9 1240 176.7 1241.6 176.9 1243.2 177 1244.8 176.8 1246.4 176.8 1248 176.8 1249.6 176.8 1251.2 177 1252.8 177.2 1254.4 176.7 1256 176.7 1257.6 176.7 1259.2 176.7 1260.8 176.7 1262.4 176.8 1264 176.6 1265.6 176.4 1267.3 176.6 1268.9 177 1270.5 177 1272.1 176.7 1273.7 176.5 1275.3 176.4 1276.9 176.1 1278.5 176.3 1280.1 176.4 1281.7 176 1283.3 176.1 1284.9 176.2 1286.5 176.6 1288.1 176.5 1289.7 176.3 1291.3 176.4 1292.9 176.2 1294.5 176.4 1296.1 176.5 1297.7 176.3 1299.3 176.6 1300.9 176.2 1302.5 176.5 1304.1 176.3 1305.7 176.1 1307.3 175.9 1308.9 176.4 1310.5 176.2 1312.1 176.6 1313.7 176.7 1315.4 176.6 1317 176.6 1318.6 176.5 1320.2 176 1321.8 176.4 1323.4 176.5 1325 176.1 1326.6 176.1 1328.2 175.9 1329.8 176 1331.4 176.3 1333 176.5 1334.6 176.2 1336.2 176.3 1337.8 175.9 1339.4 176.3 1341 176.3 1342.6 176.2 1344.2 176.7 1345.8 176.4 1347.4 176.4 1349 176.6 1350.6 176.4 1352.2 176.5 1353.8 176.3 1355.4 176.6 1357 176.4 1358.6 175.9 1360.2 175.8 1361.8 176.5 1363.5 176.2 1365.1 176.2 1366.7 176.1 1368.3 176.1 1369.9 176.2 1371.5 176.1 1373.1 176.3 1374.7 176.1 1376.3 176.1 1377.9 176.1 1379.5 176.4 1381.1 176.4 1382.7 176.5 1384.3 176.3 1385.9 176.3 1387.5 176.3 1387.5 181.4" fill="#c7c9cb" stroke="#262626" stroke-width="1" stroke-linejoin="round"/>
<path d="M1050 181h35v15h-35zM1225 181h37v15h-37z" fill="#a718ff" shape-rendering="crispEdges"/>
<path d="M1085 181h2v15h-2zM1094 181h5v15h-5zM1101 181h4v15h-4zM1106 181h2v15h-2zM1159 181h6v15h-6zM1176 181h2v15h-2zM1216 181h3v15h-3zM1221 181h4v15h-4zM1225 181h1v15h-1zM1262 181h20v15h-20zM1285 181h17v15h-17zM1304 181h5v15h-5z" fill="#dd3029" shape-rendering="crispEdges"/>
<path d="M1087 181h7v15h-7zM1099 181h2v15h-2zM1105 181h1v15h-1zM1108 181h7v15h-7zM1117 181h6v15h-6zM1125 181h2v15h-2zM1129 181h6v15h-6zM1136 181h1v15h-1zM1139 181h3v15h-3zM1145 181h14v15h-14zM1165 181h11v15h-11zM1178 181h8v15h-8zM1188 181h16v15h-16zM1207 181h9v15h-9zM1219 181h2v15h-2zM1282 181h3v15h-3zM1302 181h2v15h-2zM1309 181h29v15h-29zM1340 181h4v15h-4z" fill="#dbac3e" shape-rendering="crispEdges"/>
<path d="M1049.2 195.6L1049.2 194.8 1050.8 194.9 1052.4 194.8 1054 194.6 1055.6 194.6 1057.2 194.1 1058.8 193.9 1060.4 193.9 1062 193.6 1063.6 193.6 1065.2 193.5 1066.8 193.4 1068.4 193.5 1070 193.3 1071.6 193.3 1073.2 193 1074.8 193 1076.4 192.8 1078 192.7 1079.6 192.5 1081.2 192.3 1082.8 192.3 1084.4 192.4 1086 192.2 1087.6 192.2 1089.2 192.1 1090.8 192.5 1092.4 192 1094 192.2 1095.6 192.1 1097.2 192.3 1098.8 192.3 1100.4 192.2 1102 192.3 1103.6 192.3 1105.2 192.2 1106.8 191.9 1108.4 191.9 1110 191.9 1111.6 191.8 1113.2 191.6 1114.8 191.6 1116.4 191.8 1118 192.1 1119.6 192.2 1121.2 192 1122.8 191.8 1124.4 191.8 1126 191.9 1127.6 191.9 1129.2 191.6 1130.8 191.8 1132.4 192.1 1134 192.1 1135.6 191.7 1137.2 191.7 1138.8 191.8 1140.4 191.9 1142 191.4 1143.6 191.3 1145.2 191.5 1146.8 191.9 1148.4 192 1150 191.4 1151.6 191.7 1153.2 191.7 1154.8 191.9 1156.4 191.8 1158 191.7 1159.6 191.9 1161.2 191.4 1162.8 191.6 1164.4 191.6 1166 191.5 1167.6 191.3 1169.2 191.4 1170.8 191.2 1172.4 191 1174 191.3 1175.6 191.1 1177.2 191.2 1178.8 191.3 1180.4 191 1182 191.1 1183.6 191.3 1185.2 190.9 1186.8 191.1 1188.4 191.8 1190 191.3 1191.6 191.1 1193.2 191 1194.8 191.1 1196.4 191.1 1198 191.1 1199.6 190.8 1201.2 190.8 1202.8 190.8 1204.4 191.4 1206 191 1207.6 190.9 1209.2 191.1 1210.8 191.2 1212.4 191.3 1214 190.9 1215.6 190.7 1217.2 190.6 1218.8 190.9 1220.4 190.8 1222 190.6 1223.6 190.6 1225.2 190.6 1226.8 190.6 1228.4 190.5 1230 190.8 1231.6 190.7 1233.2 190.5 1234.8 190.6 1236.4 190.6 1238 190.5 1239.6 190.4 1241.2 190.4 1242.8 190.6 1244.4 190.8 1246 190.7 1247.6 190.6 1249.2 190.5 1250.8 190.5 1252.4 190.7 1254 190.7 1255.6 190.5 1257.2 190.8 1258.8 191 1260.4 191.1 1262 191.1 1263.6 190.7 1265.2 191 1266.8 190.7 1268.4 190.7 1270 190.5 1271.6 190.9 1273.2 190.6 1274.8 190.9 1276.4 190.3 1278 190.3 1279.6 190.5 1281.2 190.6 1282.8 190.5 1284.4 190.4 1286 190.4 1287.6 190.4 1289.2 190.3 1290.8 190.9 1292.4 190.6 1294 190.2 1295.6 190.4 1297.2 190.2 1298.8 190.2 1300.4 190.3 1302 190.3 1303.6 190 1305.2 190 1306.8 190.1 1308.4 190.5 1310 190.4 1311.6 190.4 1313.2 190.4 1314.8 190.6 1316.4 190.6 1318 190.5 1319.6 190.2 1321.2 190.7 1322.8 190.7 1324.4 190.6 1326 190.2 1327.6 190.2 1329.2 190.3 1330.8 190.2 1332.4 190.4 1334 190.7 1335.6 190.1 1337.2 190.4 1338.8 190.6 1340.4 190.5 1342 190.7 1343.6 190.6 1345.2 190.7 1346.8 190.6 1348.4 190.7 1350 190.2 1351.6 190.5 1353.2 190.3 1354.8 190.5 1356.4 190.6 1358 190.4 1359.6 190.1 1361.2 190.1 1361.2 195.6" fill="#c7c9cb" stroke="#262626" stroke-width="1" stroke-linejoin="round"/>
<path d="M1050 196h9v14h-9zM1061 196h24v14h-24zM1223 196h2v14h-2zM1225 196h39v14h-39zM1266 196h12v14h-12z" fill="#a718ff" shape-rendering="crispEdges"/>
<path d="M1059 196h2v14h-2zM1087 196h3v14h-3zM1094 196h5v14h-5zM1109 196h6v14h-6zM1117 196h10v14h-10zM1129 196h6v14h-6zM1141 196h15v14h-15zM1178 196h2v14h-2zM1182 196h9v14h-9zM1211 196h5v14h-5zM1292 196h4v14h-4zM1335 196h9v14h-9z" fill="#dbac3e" shape-rendering="crispEdges"/>
<path d="M1085 196h2v14h-2zM1099 196h10v14h-10zM1156 196h22v14h-22zM1180 196h2v14h-2zM1216 196h7v14h-7zM1264 196h2v14h-2zM1278 196h14v14h-14zM1296 196h39v14h-39z" fill="#dd3029" shape-rendering="crispEdges"/>
<path d="M1049.2 209.8L1049.2 209.1 1050.8 208.8 1052.4 208.7 1054 208.5 1055.6 208.4 1057.2 208.3 1058.8 208.3 1060.4 208.2 1062 208.1 1063.6 207.9 1065.2 207.8 1066.8 207.8 1068.4 207.6 1070 207.4 1071.6 207.4 1073.2 207.3 1074.8 207 1076.4 206.9 1078 206.9 1079.6 206.9 1081.2 206.6 1082.8 206.4 1084.4 206.3 1086 206.6 1087.7 206.5 1089.3 206.6 1090.9 206.5 1092.5 206.5 1094.1 206.7 1095.7 206.3 1097.3 206.5 1098.9 206.4 1100.5 206.5 1102.1 206.4 1103.7 206.5 1105.3 206.5 1106.9 206.4 1108.5 206.7 1110.1 206.6 1111.7 206.4 1113.3 206.3 1114.9 206.3 1116.5 206.1 1118.1 205.8 1119.7 205.8 1121.3 206 1122.9 205.9 1124.5 206 1126.1 206.1 1127.7 206 1129.3 205.8 1130.9 206.2 1132.5 206.1 1134.1 206.2 1135.7 205.9 1137.3 205.9 1138.9 205.9 1140.5 205.9 1142.1 205.8 1143.7 205.9 1145.3 205.8 1146.9 205.8 1148.5 205.5 1150.1 205.3 1151.7 205.4 1153.3 205.6 1154.9 205.6 1156.5 205.5 1158.1 205.9 1159.7 205.7 1161.4 205.8 1163 205.7 1164.6 205.4 1166.2 205.5 1167.8 205.7 1169.4 205.6 1171 205.7 1172.6 205.3 1174.2 205.6 1175.8 205.7 1177.4 205.4 1179 205.3 1180.6 205.6 1182.2 205.7 1183.8 205.8 1185.4 205.8 1187 205.8 1188.6 205.7 1190.2 205.8 1191.8 205.6 1193.4 205.6 1195 205.9 1196.6 205.1 1198.2 205.1 1199.8 205.5 1201.4 205.4 1203 205.3 1204.6 205.4 1206.2 205.3 1207.8 205.2 1209.4 205.6 1211 205.4 1212.6 205.5 1214.2 205.3 1215.8 205 1217.4 205.1 1219 205.1 1220.6 205.1 1222.2 205.1 1223.8 204.7 1225.4 204.9 1227 205 1228.6 204.8 1230.2 205 1231.8 205.2 1233.4 205.2 1235 205.1 1236.7 205.1 1238.3 205 1239.9 205.2 1241.5 205.1 1243.1 204.9 1244.7 204.9 1246.3 204.8 1247.9 204.9 1249.5 204.9 1251.1 205.2 1252.7 205.4 1254.3 205.1 1255.9 205 1257.5 204.9 1259.1 204.5 1260.7 204.4 1262.3 204.5 1263.9 204.5 1265.5 204.6 1267.1 204.7 1268.7 205 1270.3 204.8 1271.9 204.4 1273.5 204.3 1275.1 204.3 1276.7 204.7 1278.3 204.7 1279.9 204.8 1281.5 204.8 1283.1 205.1 1284.7 204.9 1286.3 204.4 1287.9 204.4 1289.5 204.6 1291.1 205 1292.7 205 1294.3 205 1295.9 204.8 1297.5 204.7 1299.1 204.9 1300.7 204.4 1302.3 204.3 1303.9 204.2 1305.5 204.6 1307.1 204.9 1308.7 204.8 1310.4 204.8 1312 204.6 1313.6 204.7 1315.2 205.1 1316.8 204.7 1318.4 205 1320 204.7 1321.6 205 1323.2 205 1324.8 205 1326.4 204.5 1328 204.6 1329.6 204.6 1331.2 204.8 1332.8 204.6 1334.4 204.8 1336 204.8 1337.6 205 1339.2 204.5 1340.8 204.6 1342.4 204.5 1344 204.4 1345.6 204.7 1347.2 204.7 1347.2 209.8" fill="#c7c9cb" stroke="#262626" stroke-width="1" stroke-linejoin="round"/>
<path d="M1050 210h29v14h-29zM1216 210h2v14h-2zM1232 210h3v14h-3zM1244 210h40v14h-40zM1292 210h3v14h-3zM1296 210h9v14h-9zM1309 210h3v14h-3z" fill="#a718ff" shape-rendering="crispEdges"/>
<path d="M1079 210h3v14h-3zM1084 210h2v14h-2zM1092 210h4v14h-4zM1098 210h7v14h-7zM1119 210h2v14h-2zM1151 210h1v14h-1zM1157 210h1v14h-1zM1164 210h19v14h-19zM1208 210h8v14h-8zM1218 210h7v14h-7zM1225 210h7v14h-7zM1235 210h9v14h-9zM1284 210h8v14h-8zM1295 210h1v14h-1zM1305 210h4v14h-4zM1312 210h9v14h-9z" fill="#dd3029" shape-rendering="crispEdges"/>
<path d="M1082 210h2v14h-2zM1086 210h6v14h-6zM1096 210h2v14h-2zM1105 210h14v14h-14zM1121 210h13v14h-13zM1140 210h11v14h-11zM1152 210h5v14h-5zM1158 210h6v14h-6zM1183 210h8v14h-8zM1193 210h1v14h-1zM1197 210h2v14h-2zM1201 210h3v14h-3zM1206 210h2v14h-2zM1321 210h5v14h-5z" fill="#dbac3e" shape-rendering="crispEdges"/>
<path d="M1049.2 224L1049.2 223.6 1050.8 223.6 1052.4 223.5 1054 223.3 1055.6 223.2 1057.2 223 1058.8 222.7 1060.4 222.3 1062 222.3 1063.6 222.1 1065.2 222 1066.8 221.9 1068.4 221.9 1070 221.6 1071.6 221.4 1073.2 221.5 1074.8 221.3 1076.4 221.3 1078 221 1079.6 221 1081.2 220.7 1082.8 221 1084.4 220.9 1086 220.8 1087.6 220.7 1089.2 220.6 1090.8 220.6 1092.4 220.3 1094 220.4 1095.6 220.5 1097.2 220.9 1098.8 220.8 1100.4 220.7 1102 220.8 1103.6 220.6 1105.2 220.4 1106.8 220.3 1108.4 220.5 1110 220.5 1111.6 220.6 1113.2 220.6 1114.8 220.7 1116.4 220.5 1118 220.3 1119.6 220.5 1121.2 220.3 1122.8 220.4 1124.4 220.4 1126 220.2 1127.6 220.2 1129.2 220.3 1130.8 220.2 1132.4 220 1134 220.2 1135.6 220.1 1137.2 220.4 1138.8 220.2 1140.4 220.2 1142 220.3 1143.6 220.2 1145.2 220.2 1146.8 220.1 1148.4 220.3 1150 220.1 1151.6 220.4 1153.2 220.4 1154.8 220.5 1156.4 220.3 1158 220 1159.6 219.8 1161.2 219.8 1162.8 219.8 1164.4 219.7 1166 219.6 1167.6 219.7 1169.2 219.7 1170.8 219.6 1172.4 219.7 1174 219.6 1175.6 219.5 1177.2 219.4 1178.8 219.6 1180.4 219.6 1182 219.4 1183.6 219.2 1185.2 219.5 1186.8 219.7 1188.5 219.2 1190.1 219.6 1191.7 219.5 1193.3 219.5 1194.9 219.4 1196.5 219.5 1198.1 219.3 1199.7 219.6 1201.3 219.5 1202.9 219.3 1204.5 219.4 1206.1 219.6 1207.7 219.6 1209.3 219.7 1210.9 219.7 1212.5 219.7 1214.1 219.7 1215.7 219.5 1217.3 219.6 1218.9 219.5 1220.5 219.8 1222.1 219.5 1223.7 219.4 1225.3 219.2 1226.9 219.3 1228.5 219.1 1230.1 218.9 1231.7 219 1233.3 219.2 1234.9 219.3 1236.5 219.1 1238.1 219.2 1239.7 219.1 1241.3 219.5 1242.9 219.1 1244.5 218.8 1246.1 218.4 1247.7 218.8 1249.3 219.1 1250.9 219.4 1252.5 219 1254.1 219.4 1255.7 219.2 1257.3 219 1258.9 218.9 1260.5 219.1 1262.1 219.2 1263.7 219.2 1265.3 219.1 1266.9 219.1 1268.5 218.8 1270.1 218.7 1271.7 219.1 1273.3 219 1274.9 219.2 1276.5 218.9 1278.1 218.9 1279.7 219 1281.3 219 1282.9 219 1284.5 218.8 1286.1 218.9 1287.7 219.2 1289.3 219.4 1290.9 219.1 1292.5 219.1 1294.1 219.2 1295.7 219 1297.3 218.7 1298.9 218.6 1300.5 218.8 1302.1 218.7 1303.7 218.7 1305.3 218.6 1306.9 218.2 1308.5 218.6 1310.1 218.6 1311.7 218.7 1313.3 218.6 1314.9 218.8 1316.5 218.8 1318.1 219 1319.7 219.2 1321.3 219.3 1322.9 219 1324.5 219.1 1326.1 219 1326.1 224" fill="#c7c9cb" stroke="#262626" stroke-width="1" stroke-linejoin="round"/>
<path d="M1050 224h31v14h-31zM1083 224h3v14h-3zM1094 224h2v14h-2zM1251 224h45v14h-45z" fill="#a718ff" shape-rendering="crispEdges"/>
<path d="M1081 224h2v14h-2zM1086 224h3v14h-3zM1092 224h2v14h-2zM1096 224h5v14h-5zM1116 224h5v14h-5zM1125 224h1v14h-1zM1146 224h2v14h-2zM1150 224h3v14h-3zM1162 224h4v14h-4zM1171 224h8v14h-8zM1179 224h5v14h-5zM1210 224h2v14h-2zM1226 224h25v14h-25zM1296 224h7v14h-7z" fill="#dd3029" shape-rendering="crispEdges"/>
<path d="M1089 224h3v14h-3zM1101 224h9v14h-9zM1112 224h4v14h-4zM1121 224h4v14h-4zM1126 224h7v14h-7zM1135 224h2v14h-2zM1139 224h7v14h-7zM1148 224h2v14h-2zM1153 224h9v14h-9zM1166 224h5v14h-5zM1179 224h1v14h-1zM1184 224h10v14h-10zM1196 224h14v14h-14zM1212 224h13v14h-13zM1225 224h1v14h-1z" fill="#dbac3e" shape-rendering="crispEdges"/>
<path d="M1049.2 238.2L1049.2 237.5 1050.8 237.6 1052.4 237.4 1054 237.2 1055.6 237.2 1057.2 237.1 1058.8 236.9 1060.5 236.8 1062.1 236.7 1063.7 236.6 1065.3 236.3 1066.9 236.4 1068.5 236.2 1070.1 235.8 1071.7 235.6 1073.3 235.6 1074.9 235.4 1076.5 235.5 1078.1 235.4 1079.8 235.4 1081.4 235.1 1083 234.8 1084.6 234.8 1086.2 234.9 1087.8 234.7 1089.4 234.5 1091 234.8 1092.6 234.9 1094.2 234.9 1095.8 234.8 1097.4 234.8 1099.1 234.7 1100.7 234.6 1102.3 234.7 1103.9 234.8 1105.5 234.9 1107.1 234.9 1108.7 235 1110.3 234.7 1111.9 234.8 1113.5 235.1 1115.1 234.8 1116.7 234.7 1118.4 234.8 1120 234.9 1121.6 234.5 1123.2 234.5 1124.8 234.5 1126.4 234.7 1128 234.6 1129.6 234.5 1131.2 234.5 1132.8 234.4 1134.4 234.4 1136 234.3 1137.7 233.8 1139.3 233.9 1140.9 234.4 1142.5 234.4 1144.1 234.5 1145.7 234.3 1147.3 234.2 1148.9 234.3 1150.5 234.2 1152.1 234.2 1153.7 234.2 1155.3 234.3 1157 234.1 1158.6 234.2 1160.2 234.3 1161.8 234.2 1163.4 234.4 1165 234 1166.6 234.1 1168.2 233.9 1169.8 233.8 1171.4 233.7 1173 233.4 1174.6 233.5 1176.2 233.6 1177.9 233.7 1179.5 233.6 1181.1 233.8 1182.7 233.6 1184.3 233.8 1185.9 233.9 1187.5 233.9 1189.1 233.7 1190.7 233.9 1192.3 233.5 1193.9 234 1195.5 233.9 1197.2 233.8 1198.8 233.6 1200.4 233.5 1202 233.4 1203.6 233 1205.2 233 1206.8 233 1208.4 233.2 1210 233.9 1211.6 233.6 1213.2 233.3 1214.8 233.7 1216.5 233.6 1218.1 233.1 1219.7 233.3 1221.3 233 1222.9 232.7 1224.5 233 1226.1 233.3 1227.7 233.4 1229.3 233.5 1230.9 233.7 1232.5 233.6 1234.1 233.9 1235.8 233.7 1237.4 233.5 1239 233.4 1240.6 233.5 1242.2 233.4 1243.8 233.5 1245.4 233.5 1247 233.5 1248.6 233.2 1250.2 233.2 1251.8 233.4 1253.4 233.5 1255.1 233.1 1256.7 233.7 1258.3 233.9 1259.9 233.7 1261.5 233.9 1263.1 233.4 1264.7 233.4 1266.3 233.4 1267.9 233.3 1269.5 233 1271.1 232.9 1272.7 232.5 1274.4 232.6 1276 233 1277.6 232.8 1279.2 232.9 1280.8 232.8 1282.4 233.1 1284 233.3 1285.6 233 1287.2 233.2 1288.8 233.4 1290.4 232.7 1292 232.8 1293.7 232.9 1295.3 233.3 1296.9 233 1298.5 233 1300.1 233 1301.7 233.5 1303.3 233.4 1303.3 238.2" fill="#c7c9cb" stroke="#262626" stroke-width="1" stroke-linejoin="round"/>
<path d="M1050 238h25v14h-25zM1087 238h7v14h-7zM1110 238h2v14h-2zM1239 238h3v14h-3z" fill="#a718ff" shape-rendering="crispEdges"/>
<path d="M1075 238h3v14h-3zM1083 238h2v14h-2zM1103 238h5v14h-5zM1118 238h3v14h-3zM1122 238h2v14h-2zM1127 238h1v14h-1zM1132 238h24v14h-24zM1159 238h12v14h-12zM1178 238h2v14h-2zM1183 238h2v14h-2zM1186 238h13v14h-13zM1208 238h2v14h-2zM1212 238h10v14h-10zM1223 238h2v14h-2zM1225 238h4v14h-4zM1274 238h4v14h-4zM1281 238h1v14h-1zM1287 238h1v14h-1z" fill="#dbac3e" shape-rendering="crispEdges"/>
<path d="M1078 238h5v14h-5zM1085 238h2v14h-2zM1094 238h9v14h-9zM1108 238h2v14h-2zM1112 238h6v14h-6zM1121 238h1v14h-1zM1124 238h3v14h-3zM1128 238h4v14h-4zM1156 238h3v14h-3zM1171 238h7v14h-7zM1180 238h3v14h-3zM1185 238h1v14h-1zM1199 238h9v14h-9zM1210 238h2v14h-2zM1229 238h10v14h-10zM1242 238h32v14h-32zM1278 238h3v14h-3zM1282 238h5v14h-5z" fill="#dd3029" shape-rendering="crispEdges"/>
<path d="M1049.2 252.4L1049.2 251.9 1050.8 251.8 1052.4 251.4 1054 251.5 1055.6 251.4 1057.2 251.2 1058.8 251.2 1060.4 250.8 1062 250.6 1063.6 250.4 1065.3 250.3 1066.9 249.9 1068.5 250.1 1070.1 249.6 1071.7 249.6 1073.3 249.7 1074.9 249.5 1076.5 249.3 1078.1 249.4 1079.7 249.2 1081.3 249.2 1082.9 248.9 1084.5 248.9 1086.1 249 1087.7 249 1089.3 249.2 1090.9 249.2 1092.5 249.5 1094.2 249.4 1095.8 249.3 1097.4 249.5 1099 249.3 1100.6 249.2 1102.2 249 1103.8 248.9 1105.4 249 1107 249.5 1108.6 249.5 1110.2 249.4 1111.8 249.3 1113.4 249.1 1115 249 1116.6 249.3 1118.2 249.3 1119.8 249.3 1121.4 248.9 1123 249 1124.7 248.7 1126.3 248.3 1127.9 248.3 1129.5 248.4 1131.1 248.3 1132.7 248.3 1134.3 248.5 1135.9 248.6 1137.5 248.5 1139.1 248.4 1140.7 248.4 1142.3 248.6 1143.9 248.8 1145.5 248.8 1147.1 248.6 1148.7 248.6 1150.3 248.5 1151.9 248.1 1153.5 248.2 1155.2 248 1156.8 248.2 1158.4 247.9 1160 248 1161.6 247.9 1163.2 248 1164.8 247.9 1166.4 248.3 1168 247.9 1169.6 248.4 1171.2 248 1172.8 248.1 1174.4 248.3 1176 247.9 1177.6 247.5 1179.2 247.8 1180.8 247.9 1182.4 247.7 1184.1 248 1185.7 248.2 1187.3 248.5 1188.9 248.1 1190.5 248 1192.1 248.1 1193.7 248.4 1195.3 248.4 1196.9 248.4 1198.5 248.3 1200.1 248.6 1201.7 248.1 1203.3 248.1 1204.9 247.6 1206.5 247.4 1208.1 247.6 1209.7 247.6 1211.3 247.9 1212.9 247.8 1214.6 248.1 1216.2 247.9 1217.8 247.8 1219.4 247.9 1221 247.9 1222.6 247.7 1224.2 247.8 1225.8 247.5 1227.4 247.5 1229 247.5 1230.6 247.6 1232.2 247.6 1233.8 247.7 1235.4 247.4 1237 247.6 1238.6 247.1 1240.2 247.2 1241.8 247.4 1243.4 247.5 1245.1 247.5 1246.7 247.6 1248.3 248 1249.9 247.9 1251.5 247.8 1253.1 247.8 1254.7 247.6 1256.3 247.7 1257.9 247.8 1259.5 247.6 1261.1 247.6 1262.7 247.5 1264.3 247.6 1265.9 247.5 1267.5 247.8 1269.1 247.5 1270.7 247.5 1272.3 247.7 1274 247.7 1275.6 247.6 1277.2 247.1 1278.8 247.4 1280.4 247.4 1282 247.4 1283.6 247.2 1285.2 247.2 1286.8 247.3 1288.4 247 1288.4 252.4" fill="#c7c9cb" stroke="#262626" stroke-width="1" stroke-linejoin="round"/>
<path d="M1050 252h26v15h-26zM1091 252h10v15h-10zM1110 252h2v15h-2zM1126 252h2v15h-2z" fill="#a718ff" shape-rendering="crispEdges"/>
<path d="M1084 252h7v15h-7zM1101 252h9v15h-9zM1112 252h3v15h-3zM1120 252h2v15h-2zM1123 252h3v15h-3zM1128 252h6v15h-6zM1138 252h3v15h-3zM1143 252h1v15h-1zM1151 252h7v15h-7zM1178 252h1v15h-1zM1181 252h3v15h-3zM1201 252h4v15h-4zM1207 252h2v15h-2zM1233 252h2v15h-2zM1239 252h2v15h-2z" fill="#dd3029" shape-rendering="crispEdges"/>
<path d="M1115 252h5v15h-5zM1122 252h1v15h-1zM1134 252h4v15h-4zM1141 252h2v15h-2zM1144 252h7v15h-7zM1158 252h20v15h-20zM1179 252h2v15h-2zM1184 252h17v15h-17zM1205 252h2v15h-2zM1209 252h16v15h-16zM1225 252h8v15h-8zM1235 252h4v15h-4zM1241 252h11v15h-11zM1255 252h3v15h-3zM1265 252h4v15h-4z" fill="#dbac3e" shape-rendering="crispEdges"/>
<path d="M1049.2 266.6L1049.2 266.2 1050.8 266.1 1052.4 266 1054 265.6 1055.6 265.4 1057.3 265.5 1058.9 265.3 1060.5 265.1 1062.1 265.2 1063.7 265 1065.3 264.9 1066.9 264.6 1068.5 264.5 1070.2 264.2 1071.8 264.1 1073.4 263.8 1075 264 1076.6 263.9 1078.2 263.8 1079.8 263.8 1081.4 263.5 1083 263.6 1084.7 263.6 1086.3 263.8 1087.9 263.6 1089.5 263.6 1091.1 263.2 1092.7 263.1 1094.3 262.9 1095.9 263 1097.6 263 1099.2 263 1100.8 262.7 1102.4 263 1104 262.7 1105.6 262.8 1107.2 262.8 1108.8 263 1110.4 262.7 1112.1 262.8 1113.7 263 1115.3 262.9 1116.9 263.1 1118.5 262.9 1120.1 262.6 1121.7 262.9 1123.3 263.1 1124.9 262.7 1126.6 262.7 1128.2 262.3 1129.8 262.5 1131.4 262.6 1133 262.5 1134.6 262.8 1136.2 262.8 1137.8 262.6 1139.5 262.9 1141.1 262.8 1142.7 262.9 1144.3 262.9 1145.9 262.8 1147.5 263.1 1149.1 262.7 1150.7 262.7 1152.3 262.6 1154 262.4 1155.6 262.2 1157.2 262.4 1158.8 262.4 1160.4 262.5 1162 262.5 1163.6 262.6 1165.2 262.5 1166.9 262.3 1168.5 262.3 1170.1 262.2 1171.7 262.4 1173.3 262.1 1174.9 262.2 1176.5 262.3 1178.1 262.3 1179.7 261.8 1181.4 261.6 1183 261.6 1184.6 261.5 1186.2 261.7 1187.8 262 1189.4 262.2 1191 262.1 1192.6 262.2 1194.3 262.1 1195.9 262.2 1197.5 261.8 1199.1 261.5 1200.7 261.7 1202.3 261.8 1203.9 261.9 1205.5 261.5 1207.1 261.6 1208.8 262 1210.4 262.1 1212 262.2 1213.6 262 1215.2 262.1 1216.8 262.3 1218.4 261.9 1220 262.1 1221.6 262.1 1223.3 261.7 1224.9 261.6 1226.5 261.4 1228.1 261.4 1229.7 261.2 1231.3 261.4 1232.9 261.5 1234.5 261.7 1236.2 261.6 1237.8 261.8 1239.4 262.1 1241 262.1 1242.6 262.1 1244.2 262.1 1245.8 261.9 1247.4 261.8 1249 262.2 1250.7 261.6 1252.3 261.5 1253.9 261.7 1255.5 261.7 1257.1 261.7 1258.7 261.8 1260.3 261.5 1261.9 261.5 1263.6 261.4 1265.2 261.6 1266.8 262 1268.4 261.8 1270 261.3 1270 266.6" fill="#c7c9cb" stroke="#262626" stroke-width="1" stroke-linejoin="round"/>
<path d="M1050 267h26v14h-26zM1092 267h10v14h-10zM1104 267h5v14h-5zM1126 267h2v14h-2z" fill="#a718ff" shape-rendering="crispEdges"/>
<path d="M1081 267h4v14h-4zM1112 267h2v14h-2zM1131 267h3v14h-3zM1144 267h8v14h-8zM1154 267h28v14h-28zM1185 267h1v14h-1zM1188 267h4v14h-4zM1199 267h11v14h-11zM1212 267h3v14h-3zM1217 267h6v14h-6zM1232 267h19v14h-19z" fill="#dbac3e" shape-rendering="crispEdges"/>
<path d="M1085 267h7v14h-7zM1102 267h2v14h-2zM1109 267h3v14h-3zM1114 267h12v14h-12zM1128 267h3v14h-3zM1134 267h10v14h-10zM1152 267h2v14h-2zM1192 267h7v14h-7zM1223 267h2v14h-2zM1225 267h7v14h-7z" fill="#dd3029" shape-rendering="crispEdges"/>
<path d="M1049.2 280.8L1049.2 280.3 1050.8 280.2 1052.4 279.9 1054 279.6 1055.6 279.6 1057.3 279.6 1058.9 279.3 1060.5 279.3 1062.1 279 1063.7 278.8 1065.3 278.7 1066.9 278.5 1068.5 278.3 1070.2 278.3 1071.8 278.4 1073.4 278.3 1075 278.3 1076.6 277.9 1078.2 278.1 1079.8 277.8 1081.4 277.6 1083.1 277.6 1084.7 277.5 1086.3 277.5 1087.9 277.7 1089.5 277.4 1091.1 277.2 1092.7 277.3 1094.3 277.5 1095.9 277.1 1097.6 277.1 1099.2 277.5 1100.8 277.5 1102.4 277.7 1104 277.4 1105.6 277.5 1107.2 277.3 1108.8 277.4 1110.5 277.3 1112.1 277.2 1113.7 277.4 1115.3 277.2 1116.9 277.2 1118.5 277.4 1120.1 277.3 1121.7 277.2 1123.4 277 1125 277 1126.6 276.9 1128.2 277 1129.8 277 1131.4 276.8 1133 277 1134.6 276.8 1136.2 276.9 1137.9 276.8 1139.5 277 1141.1 276.7 1142.7 276.6 1144.3 276.6 1145.9 276.7 1147.5 276.6 1149.1 276.5 1150.8 276.7 1152.4 276.8 1154 276.5 1155.6 276.5 1157.2 276.4 1158.8 276.4 1160.4 276.8 1162 276.8 1163.7 276.8 1165.3 276.4 1166.9 276.4 1168.5 276.6 1170.1 276.6 1171.7 276.8 1173.3 276.6 1174.9 276.8 1176.5 276.3 1178.2 276.4 1179.8 276.3 1181.4 275.8 1183 275.8 1184.6 276 1186.2 276 1187.8 275.9 1189.4 276.2 1191.1 276.2 1192.7 276.4 1194.3 276.3 1195.9 276.5 1197.5 276.4 1199.1 276.5 1200.7 276.5 1202.3 276.2 1204 276.3 1205.6 276.5 1207.2 276.7 1208.8 276.9 1210.4 276.3 1212 276.3 1213.6 276.4 1215.2 276.5 1216.8 276.4 1218.5 276.6 1220.1 276.3 1221.7 276.4 1223.3 276.2 1224.9 276.3 1226.5 276.2 1228.1 276.2 1229.7 276.2 1231.4 275.8 1233 275.8 1234.6 275.7 1236.2 275.7 1237.8 275.6 1239.4 275.8 1241 275.9 1242.6 276 1244.3 276 1245.9 276.1 1247.5 276 1249.1 275.8 1250.7 275.7 1250.7 280.8" fill="#c7c9cb" stroke="#262626" stroke-width="1" stroke-linejoin="round"/>
<path d="M1049 281h26v14h-26zM1085 281h24v14h-24zM1126 281h1v14h-1zM1129 281h1v14h-1z" fill="#a718ff" shape-rendering="crispEdges"/>
<path d="M1075 281h2v14h-2zM1083 281h1v14h-1zM1109 281h3v14h-3zM1114 281h12v14h-12zM1127 281h2v14h-2zM1130 281h14v14h-14zM1146 281h5v14h-5zM1179 281h2v14h-2zM1190 281h5v14h-5zM1196 281h3v14h-3zM1209 281h3v14h-3zM1219 281h3v14h-3z" fill="#dd3029" shape-rendering="crispEdges"/>
<path d="M1080 281h3v14h-3zM1084 281h1v14h-1zM1112 281h2v14h-2zM1144 281h2v14h-2zM1151 281h18v14h-18zM1171 281h8v14h-8zM1181 281h9v14h-9zM1195 281h1v14h-1zM1199 281h10v14h-10zM1212 281h7v14h-7zM1222 281h13v14h-13z" fill="#dbac3e" shape-rendering="crispEdges"/>
<path d="M1049.2 295L1049.2 294.4 1050.8 294.2 1052.4 293.9 1054 293.8 1055.6 293.7 1057.2 293.4 1058.8 293.5 1060.4 293.4 1062 293.3 1063.6 293.2 1065.2 293.1 1066.8 293.1 1068.4 292.7 1070 292.5 1071.6 292.3 1073.2 292.2 1074.8 292.4 1076.4 292.3 1078 292.1 1079.6 292 1081.2 291.9 1082.8 291.6 1084.4 291.4 1086 291.6 1087.6 291.5 1089.2 291.6 1090.8 291.5 1092.4 291.4 1094 291.8 1095.6 291.4 1097.2 291.4 1098.8 291.5 1100.4 291.5 1102 291.4 1103.6 291.3 1105.2 291.3 1106.8 291.4 1108.4 291.4 1110 291.3 1111.6 291.3 1113.2 291.2 1114.8 291.3 1116.4 291.2 1118 291.3 1119.6 291.3 1121.2 291.2 1122.8 291.2 1124.4 291.3 1126 291.2 1127.6 291.3 1129.2 291.1 1130.8 291.3 1132.4 291.4 1134 291.3 1135.6 291.3 1137.2 291.3 1138.8 291.4 1140.4 291.3 1142.1 291 1143.7 290.9 1145.3 291.1 1146.9 291 1148.5 291 1150.1 291.1 1151.7 291 1153.3 291 1154.9 290.7 1156.5 291.1 1158.1 290.9 1159.7 290.6 1161.3 290.3 1162.9 290.8 1164.5 290.7 1166.1 290.7 1167.7 290.6 1169.3 290.6 1170.9 290.8 1172.5 290.8 1174.1 290.4 1175.7 290.4 1177.3 290.5 1178.9 290.6 1180.5 290.7 1182.1 290.9 1183.7 290.8 1185.3 290.6 1186.9 290.5 1188.5 290.2 1190.1 290.3 1191.7 290.1 1193.3 290.3 1194.9 290.4 1196.5 290.3 1198.1 290.4 1199.7 290.4 1201.3 290.4 1202.9 290.9 1204.5 290.6 1206.1 290.6 1207.7 290.4 1209.3 290.3 1210.9 290.2 1212.5 290.2 1214.1 289.9 1215.7 290.2 1217.3 290.3 1218.9 290.3 1220.5 290.4 1222.1 290 1223.7 290.4 1225.3 290.2 1226.9 290.3 1228.5 290.3 1230.1 290.3 1231.7 290.3 1233.3 290.3 1234.9 290.3 1234.9 295" fill="#c7c9cb" stroke="#262626" stroke-width="1" stroke-linejoin="round"/>
<path d="M1049 295h26v14h-26zM1085 295h24v14h-24zM1111 295h1v14h-1zM1114 295h2v14h-2zM1121 295h13v14h-13z" fill="#a718ff" shape-rendering="crispEdges"/>
<path d="M1075 295h2v14h-2zM1082 295h3v14h-3zM1109 295h2v14h-2zM1112 295h2v14h-2zM1116 295h5v14h-5zM1134 295h14v14h-14zM1175 295h4v14h-4zM1192 295h7v14h-7z" fill="#dd3029" shape-rendering="crispEdges"/>
<path d="M1078 295h4v14h-4zM1148 295h13v14h-13zM1163 295h2v14h-2zM1167 295h1v14h-1zM1170 295h5v14h-5zM1179 295h13v14h-13zM1199 295h15v14h-15z" fill="#dbac3e" shape-rendering="crispEdges"/>
<path d="M1049.2 309.2L1049.2 308.6 1050.8 308.7 1052.4 308.5 1054 308.2 1055.6 308.2 1057.2 308 1058.8 308 1060.4 307.9 1062 307.7 1063.6 307.7 1065.2 307.7 1066.8 307.3 1068.4 307.2 1070 306.9 1071.6 306.9 1073.2 306.5 1074.8 306.3 1076.4 306.3 1078.1 306.4 1079.7 306.3 1081.3 306.3 1082.9 306.1 1084.5 306 1086.1 305.8 1087.7 305.9 1089.3 305.9 1090.9 305.9 1092.5 305.9 1094.1 306 1095.7 305.8 1097.3 305.7 1098.9 305.8 1100.5 306 1102.1 306 1103.7 305.7 1105.3 305.7 1106.9 305.5 1108.5 305.6 1110.1 305.9 1111.7 305.7 1113.3 305.7 1114.9 305.4 1116.5 305.1 1118.1 305.1 1119.7 305.1 1121.3 305.3 1122.9 305.3 1124.5 305.5 1126.1 305.3 1127.7 305.3 1129.3 305.1 1130.9 305.5 1132.6 305.4 1134.2 305.3 1135.8 305.5 1137.4 305.2 1139 305.4 1140.6 305.5 1142.2 305.4 1143.8 305.3 1145.4 305.6 1147 305.4 1148.6 305.5 1150.2 305.4 1151.8 305.3 1153.4 305.3 1155 305.2 1156.6 305.2 1158.2 305.3 1159.8 305.3 1161.4 305.2 1163 305.1 1164.6 304.6 1166.2 304.3 1167.8 304.6 1169.4 304.7 1171 304.6 1172.6 304.5 1174.2 304.7 1175.8 304.7 1177.4 305.2 1179 305.2 1180.6 305.1 1182.2 305 1183.8 305.2 1185.4 305.1 1187.1 305.1 1188.7 304.9 1190.3 305.1 1191.9 305.4 1193.5 305.2 1195.1 305.4 1196.7 305.4 1198.3 305.3 1199.9 305.3 1201.5 305.2 1203.1 304.9 1204.7 304.8 1206.3 304.9 1207.9 304.7 1209.5 304.7 1211.1 304.6 1212.7 304.7 1214.3 304.2 1214.3 309.2" fill="#c7c9cb" stroke="#262626" stroke-width="1" stroke-linejoin="round"/>
<path d="M1049 309h29v14h-29zM1085 309h17v14h-17zM1105 309h2v14h-2zM1109 309h2v14h-2zM1114 309h3v14h-3zM1126 309h6v14h-6z" fill="#a718ff" shape-rendering="crispEdges"/>
<path d="M1078 309h2v14h-2zM1145 309h2v14h-2zM1149 309h9v14h-9zM1165 309h13v14h-13zM1183 309h6v14h-6zM1193 309h2v14h-2z" fill="#dbac3e" shape-rendering="crispEdges"/>
<path d="M1080 309h5v14h-5zM1102 309h3v14h-3zM1107 309h2v14h-2zM1111 309h3v14h-3zM1117 309h9v14h-9zM1132 309h13v14h-13zM1147 309h2v14h-2zM1178 309h5v14h-5z" fill="#dd3029" shape-rendering="crispEdges"/>
<path d="M1049.2 323.4L1049.2 322.9 1050.8 322.7 1052.4 322.9 1054 322.7 1055.6 322.5 1057.2 322.3 1058.8 322 1060.4 321.9 1062 321.8 1063.6 321.5 1065.2 321.5 1066.8 321.2 1068.4 320.9 1070 320.8 1071.6 320.6 1073.2 320.7 1074.8 320.8 1076.4 320.5 1078 320.3 1079.6 320.2 1081.2 320.4 1082.8 320.2 1084.4 320.3 1086 320.3 1087.6 320.2 1089.2 320.5 1090.8 320.3 1092.4 320.1 1094 320 1095.6 320.2 1097.2 320.3 1098.8 320.2 1100.4 319.9 1102 320.2 1103.6 320.3 1105.2 320.1 1106.8 319.9 1108.4 319.7 1110 319.5 1111.6 319.8 1113.2 319.7 1114.8 319.8 1116.4 319.8 1118 319.8 1119.6 319.6 1121.2 319.6 1122.8 319.2 1124.4 319.6 1126 319.7 1127.6 319.8 1129.2 319.6 1130.8 319.8 1132.4 319.4 1134 319.5 1135.6 319.3 1137.2 319.2 1138.8 319 1140.4 319.2 1142 319.1 1143.6 319.2 1145.2 319.4 1146.8 319.3 1148.4 319.3 1150 319.1 1151.6 318.9 1153.2 319.3 1154.8 319.4 1156.4 319.2 1158 319.1 1159.6 319.4 1161.2 319.5 1162.8 319.4 1164.4 319.1 1166 319 1167.6 319.1 1169.2 319 1170.8 319 1172.4 318.9 1174 318.9 1175.6 318.8 1177.2 318.9 1178.8 318.9 1180.4 318.8 1182 318.6 1183.6 319 1185.2 318.9 1186.8 318.8 1188.4 318.7 1190 319 1191.6 318.9 1193.2 319.1 1194.8 318.9 1196.4 318.8 1198 319 1199.6 318.9 1201.2 318.9 1201.2 323.4" fill="#c7c9cb" stroke="#262626" stroke-width="1" stroke-linejoin="round"/>
<path d="M1049 323h29v15h-29zM1081 323h3v15h-3zM1085 323h17v15h-17zM1113 323h6v15h-6zM1121 323h5v15h-5zM1130 323h2v15h-2zM1135 323h2v15h-2z" fill="#a718ff" shape-rendering="crispEdges"/>
<path d="M1078 323h1v15h-1zM1145 323h11v15h-11zM1158 323h3v15h-3zM1163 323h2v15h-2zM1167 323h6v15h-6zM1175 323h2v15h-2z" fill="#dbac3e" shape-rendering="crispEdges"/>
<path d="M1079 323h2v15h-2zM1084 323h1v15h-1zM1102 323h11v15h-11zM1119 323h2v15h-2zM1126 323h4v15h-4zM1132 323h3v15h-3zM1137 323h8v15h-8zM1156 323h2v15h-2zM1161 323h2v15h-2zM1165 323h2v15h-2z" fill="#dd3029" shape-rendering="crispEdges"/>
<path d="M1049.2 337.6L1049.2 337.3 1050.8 337 1052.4 336.9 1054 336.8 1055.7 336.5 1057.3 336.4 1058.9 336.3 1060.5 335.8 1062.1 335.6 1063.7 335.5 1065.3 335.6 1066.9 335.5 1068.5 335.2 1070.2 335.3 1071.8 335.2 1073.4 334.8 1075 334.7 1076.6 334.7 1078.2 334.7 1079.8 334.5 1081.5 334.3 1083.1 334.4 1084.7 334.4 1086.3 334.5 1087.9 334.6 1089.5 334.6 1091.1 334.2 1092.7 334.2 1094.4 333.9 1096 334.2 1097.6 334.2 1099.2 334.4 1100.8 334.3 1102.4 334.4 1104 334.3 1105.6 334.3 1107.2 334.2 1108.9 334.2 1110.5 334.2 1112.1 334.2 1113.7 334.3 1115.3 334.4 1116.9 334 1118.5 333.7 1120.2 333.8 1121.8 333.6 1123.4 333.7 1125 333.5 1126.6 333.6 1128.2 333.7 1129.8 333.9 1131.4 333.9 1133 333.9 1134.7 334.1 1136.3 334.1 1137.9 334.2 1139.5 333.9 1141.1 333.5 1142.7 333.7 1144.3 333.7 1146 333.5 1147.6 333.4 1149.2 333.2 1150.8 333.4 1152.4 333.2 1154 333.2 1155.6 333.2 1157.2 333.1 1158.9 333.2 1160.5 333.2 1162.1 333.3 1163.7 333.5 1165.3 333.4 1166.9 333.6 1168.5 333.6 1170.1 333.5 1171.8 333.6 1173.4 333.2 1175 333.1 1176.6 333.4 1178.2 333.3 1178.2 337.6" fill="#c7c9cb" stroke="#262626" stroke-width="1" stroke-linejoin="round"/>
<line x1="288.2" y1="63.5" x2="288.2" y2="337.5" stroke="#000000" stroke-opacity="0.36" stroke-width="1.8"/>
<line x1="808.8" y1="66" x2="808.8" y2="337.5" stroke="#000000" stroke-opacity="0.36" stroke-width="1.8"/>
<line x1="1246.8" y1="67.5" x2="1246.8" y2="337.5" stroke="#000000" stroke-opacity="0.36" stroke-width="1.8"/>
<circle cx="291.3" cy="189.3" r="45.5" fill="none" stroke="#151515" stroke-width="2.4" stroke-dasharray="5.2 3"/>
<circle cx="810.3" cy="188.3" r="46" fill="none" stroke="#151515" stroke-width="2.4" stroke-dasharray="5.2 3"/>
<circle cx="1249.2" cy="188.6" r="46" fill="none" stroke="#151515" stroke-width="2.4" stroke-dasharray="5.2 3"/>
<path d="M279 188.6 L289.3 176.3 L299.6 188.6 L289.3 200.9 Z" fill="none" stroke="#fff01e" stroke-width="2.1"/>
<path d="M798.4 188.6 L809 176.6 L819.6 188.6 L809 200.6 Z" fill="none" stroke="#fff01e" stroke-width="2.1"/>
<path d="M1237.4 189.3 L1247.5 176.9 L1257.6 189.3 L1247.5 201.7 Z" fill="none" stroke="#fff01e" stroke-width="2.1"/>
<line x1="54.7" y1="337.7" x2="476.6" y2="337.7" stroke="#111" stroke-width="1.3"/>
<line x1="55.3" y1="337.7" x2="55.3" y2="343.6" stroke="#111" stroke-width="1.2"/>
<line x1="139.44" y1="337.7" x2="139.44" y2="343.6" stroke="#111" stroke-width="1.2"/>
<line x1="223.58" y1="337.7" x2="223.58" y2="343.6" stroke="#111" stroke-width="1.2"/>
<line x1="307.72" y1="337.7" x2="307.72" y2="343.6" stroke="#111" stroke-width="1.2"/>
<line x1="391.86" y1="337.7" x2="391.86" y2="343.6" stroke="#111" stroke-width="1.2"/>
<line x1="476" y1="337.7" x2="476" y2="343.6" stroke="#111" stroke-width="1.2"/>
<line x1="608.2" y1="337.7" x2="977.7" y2="337.7" stroke="#111" stroke-width="1.3"/>
<line x1="608.8" y1="337.7" x2="608.8" y2="343.6" stroke="#111" stroke-width="1.2"/>
<line x1="682.46" y1="337.7" x2="682.46" y2="343.6" stroke="#111" stroke-width="1.2"/>
<line x1="756.12" y1="337.7" x2="756.12" y2="343.6" stroke="#111" stroke-width="1.2"/>
<line x1="829.78" y1="337.7" x2="829.78" y2="343.6" stroke="#111" stroke-width="1.2"/>
<line x1="903.44" y1="337.7" x2="903.44" y2="343.6" stroke="#111" stroke-width="1.2"/>
<line x1="977.1" y1="337.7" x2="977.1" y2="343.6" stroke="#111" stroke-width="1.2"/>
<line x1="1048.2" y1="338.2" x2="1414.4" y2="338.2" stroke="#111" stroke-width="1.3"/>
<line x1="1048.8" y1="338.2" x2="1048.8" y2="344.1" stroke="#111" stroke-width="1.2"/>
<line x1="1121.8" y1="338.2" x2="1121.8" y2="344.1" stroke="#111" stroke-width="1.2"/>
<line x1="1194.8" y1="338.2" x2="1194.8" y2="344.1" stroke="#111" stroke-width="1.2"/>
<line x1="1267.8" y1="338.2" x2="1267.8" y2="344.1" stroke="#111" stroke-width="1.2"/>
<line x1="1340.8" y1="338.2" x2="1340.8" y2="344.1" stroke="#111" stroke-width="1.2"/>
<line x1="1413.8" y1="338.2" x2="1413.8" y2="344.1" stroke="#111" stroke-width="1.2"/>
<text x="55.3" y="356.7" font-size="11.2" text-anchor="middle" fill="#111" textLength="7.1" lengthAdjust="spacingAndGlyphs">0</text>
<text x="608.8" y="356.8" font-size="11.2" text-anchor="middle" fill="#111" textLength="6.15" lengthAdjust="spacingAndGlyphs">0</text>
<text x="1048.8" y="357" font-size="11.2" text-anchor="middle" fill="#111" textLength="6.15" lengthAdjust="spacingAndGlyphs">0</text>
<text x="139.44" y="356.7" font-size="11.2" text-anchor="middle" fill="#111" textLength="14.2" lengthAdjust="spacingAndGlyphs">20</text>
<text x="682.46" y="356.8" font-size="11.2" text-anchor="middle" fill="#111" textLength="12.3" lengthAdjust="spacingAndGlyphs">20</text>
<text x="1121.8" y="357" font-size="11.2" text-anchor="middle" fill="#111" textLength="12.3" lengthAdjust="spacingAndGlyphs">20</text>
<text x="223.58" y="356.7" font-size="11.2" text-anchor="middle" fill="#111" textLength="14.2" lengthAdjust="spacingAndGlyphs">40</text>
<text x="756.12" y="356.8" font-size="11.2" text-anchor="middle" fill="#111" textLength="12.3" lengthAdjust="spacingAndGlyphs">40</text>
<text x="1194.8" y="357" font-size="11.2" text-anchor="middle" fill="#111" textLength="12.3" lengthAdjust="spacingAndGlyphs">40</text>
<text x="307.72" y="356.7" font-size="11.2" text-anchor="middle" fill="#111" textLength="14.2" lengthAdjust="spacingAndGlyphs">60</text>
<text x="829.78" y="356.8" font-size="11.2" text-anchor="middle" fill="#111" textLength="12.3" lengthAdjust="spacingAndGlyphs">60</text>
<text x="1267.8" y="357" font-size="11.2" text-anchor="middle" fill="#111" textLength="12.3" lengthAdjust="spacingAndGlyphs">60</text>
<text x="391.86" y="356.7" font-size="11.2" text-anchor="middle" fill="#111" textLength="14.2" lengthAdjust="spacingAndGlyphs">80</text>
<text x="903.44" y="356.8" font-size="11.2" text-anchor="middle" fill="#111" textLength="12.3" lengthAdjust="spacingAndGlyphs">80</text>
<text x="1340.8" y="357" font-size="11.2" text-anchor="middle" fill="#111" textLength="12.3" lengthAdjust="spacingAndGlyphs">80</text>
<text x="476" y="356.7" font-size="11.2" text-anchor="middle" fill="#111" textLength="21.3" lengthAdjust="spacingAndGlyphs">100</text>
<text x="977.1" y="356.8" font-size="11.2" text-anchor="middle" fill="#111" textLength="18.45" lengthAdjust="spacingAndGlyphs">100</text>
<text x="1413.8" y="357" font-size="11.2" text-anchor="middle" fill="#111" textLength="18.45" lengthAdjust="spacingAndGlyphs">100</text>
<text x="46.6" y="76.55" font-size="11.2" text-anchor="end" fill="#111" textLength="6.6" lengthAdjust="spacingAndGlyphs">6</text>
<text x="601.8" y="77.7" font-size="11" text-anchor="end" fill="#111" textLength="6" lengthAdjust="spacingAndGlyphs">6</text>
<text x="1041.8" y="78.5" font-size="11" text-anchor="end" fill="#111" textLength="6" lengthAdjust="spacingAndGlyphs">6</text>
<text x="46.6" y="90.82" font-size="11.2" text-anchor="end" fill="#111" textLength="6.6" lengthAdjust="spacingAndGlyphs">8</text>
<text x="601.8" y="91.92" font-size="11" text-anchor="end" fill="#111" textLength="6" lengthAdjust="spacingAndGlyphs">8</text>
<text x="1041.8" y="92.7" font-size="11" text-anchor="end" fill="#111" textLength="6" lengthAdjust="spacingAndGlyphs">8</text>
<text x="46.6" y="105.09" font-size="11.2" text-anchor="end" fill="#111" textLength="13.2" lengthAdjust="spacingAndGlyphs">10</text>
<text x="601.8" y="106.14" font-size="11" text-anchor="end" fill="#111" textLength="12" lengthAdjust="spacingAndGlyphs">10</text>
<text x="1041.8" y="106.9" font-size="11" text-anchor="end" fill="#111" textLength="12" lengthAdjust="spacingAndGlyphs">10</text>
<text x="46.6" y="119.36" font-size="11.2" text-anchor="end" fill="#111" textLength="13.2" lengthAdjust="spacingAndGlyphs">12</text>
<text x="601.8" y="120.36" font-size="11" text-anchor="end" fill="#111" textLength="12" lengthAdjust="spacingAndGlyphs">12</text>
<text x="1041.8" y="121.1" font-size="11" text-anchor="end" fill="#111" textLength="12" lengthAdjust="spacingAndGlyphs">12</text>
<text x="46.6" y="133.63" font-size="11.2" text-anchor="end" fill="#111" textLength="13.2" lengthAdjust="spacingAndGlyphs">15</text>
<text x="601.8" y="134.58" font-size="11" text-anchor="end" fill="#111" textLength="12" lengthAdjust="spacingAndGlyphs">15</text>
<text x="1041.8" y="135.3" font-size="11" text-anchor="end" fill="#111" textLength="12" lengthAdjust="spacingAndGlyphs">15</text>
<text x="46.6" y="147.9" font-size="11.2" text-anchor="end" fill="#111" textLength="13.2" lengthAdjust="spacingAndGlyphs">20</text>
<text x="601.8" y="148.8" font-size="11" text-anchor="end" fill="#111" textLength="12" lengthAdjust="spacingAndGlyphs">20</text>
<text x="1041.8" y="149.5" font-size="11" text-anchor="end" fill="#111" textLength="12" lengthAdjust="spacingAndGlyphs">20</text>
<text x="46.6" y="162.17" font-size="11.2" text-anchor="end" fill="#111" textLength="13.2" lengthAdjust="spacingAndGlyphs">25</text>
<text x="601.8" y="163.02" font-size="11" text-anchor="end" fill="#111" textLength="12" lengthAdjust="spacingAndGlyphs">25</text>
<text x="1041.8" y="163.7" font-size="11" text-anchor="end" fill="#111" textLength="12" lengthAdjust="spacingAndGlyphs">25</text>
<text x="46.6" y="176.44" font-size="11.2" text-anchor="end" fill="#111" textLength="13.2" lengthAdjust="spacingAndGlyphs">30</text>
<text x="601.8" y="177.24" font-size="11" text-anchor="end" fill="#111" textLength="12" lengthAdjust="spacingAndGlyphs">30</text>
<text x="1041.8" y="177.9" font-size="11" text-anchor="end" fill="#111" textLength="12" lengthAdjust="spacingAndGlyphs">30</text>
<text x="46.6" y="190.71" font-size="11.2" text-anchor="end" fill="#111" textLength="13.2" lengthAdjust="spacingAndGlyphs">40</text>
<text x="601.8" y="191.46" font-size="11" text-anchor="end" fill="#111" textLength="12" lengthAdjust="spacingAndGlyphs">40</text>
<text x="1041.8" y="192.1" font-size="11" text-anchor="end" fill="#111" textLength="12" lengthAdjust="spacingAndGlyphs">40</text>
<text x="46.6" y="204.98" font-size="11.2" text-anchor="end" fill="#111" textLength="13.2" lengthAdjust="spacingAndGlyphs">50</text>
<text x="601.8" y="205.68" font-size="11" text-anchor="end" fill="#111" textLength="12" lengthAdjust="spacingAndGlyphs">50</text>
<text x="1041.8" y="206.3" font-size="11" text-anchor="end" fill="#111" textLength="12" lengthAdjust="spacingAndGlyphs">50</text>
<text x="46.6" y="219.25" font-size="11.2" text-anchor="end" fill="#111" textLength="13.2" lengthAdjust="spacingAndGlyphs">60</text>
<text x="601.8" y="219.9" font-size="11" text-anchor="end" fill="#111" textLength="12" lengthAdjust="spacingAndGlyphs">60</text>
<text x="1041.8" y="220.5" font-size="11" text-anchor="end" fill="#111" textLength="12" lengthAdjust="spacingAndGlyphs">60</text>
<text x="46.6" y="233.52" font-size="11.2" text-anchor="end" fill="#111" textLength="13.2" lengthAdjust="spacingAndGlyphs">70</text>
<text x="601.8" y="234.12" font-size="11" text-anchor="end" fill="#111" textLength="12" lengthAdjust="spacingAndGlyphs">70</text>
<text x="1041.8" y="234.7" font-size="11" text-anchor="end" fill="#111" textLength="12" lengthAdjust="spacingAndGlyphs">70</text>
<text x="46.6" y="247.79" font-size="11.2" text-anchor="end" fill="#111" textLength="13.2" lengthAdjust="spacingAndGlyphs">80</text>
<text x="601.8" y="248.34" font-size="11" text-anchor="end" fill="#111" textLength="12" lengthAdjust="spacingAndGlyphs">80</text>
<text x="1041.8" y="248.9" font-size="11" text-anchor="end" fill="#111" textLength="12" lengthAdjust="spacingAndGlyphs">80</text>
<text x="46.6" y="262.06" font-size="11.2" text-anchor="end" fill="#111" textLength="13.2" lengthAdjust="spacingAndGlyphs">90</text>
<text x="601.8" y="262.56" font-size="11" text-anchor="end" fill="#111" textLength="12" lengthAdjust="spacingAndGlyphs">90</text>
<text x="1041.8" y="263.1" font-size="11" text-anchor="end" fill="#111" textLength="12" lengthAdjust="spacingAndGlyphs">90</text>
<text x="46.6" y="276.33" font-size="11.2" text-anchor="end" fill="#111" textLength="19.8" lengthAdjust="spacingAndGlyphs">100</text>
<text x="601.8" y="276.78" font-size="11" text-anchor="end" fill="#111" textLength="18" lengthAdjust="spacingAndGlyphs">100</text>
<text x="1041.8" y="277.3" font-size="11" text-anchor="end" fill="#111" textLength="18" lengthAdjust="spacingAndGlyphs">100</text>
<text x="46.6" y="290.6" font-size="11.2" text-anchor="end" fill="#111" textLength="19.8" lengthAdjust="spacingAndGlyphs">110</text>
<text x="601.8" y="291" font-size="11" text-anchor="end" fill="#111" textLength="18" lengthAdjust="spacingAndGlyphs">110</text>
<text x="1041.8" y="291.5" font-size="11" text-anchor="end" fill="#111" textLength="18" lengthAdjust="spacingAndGlyphs">110</text>
<text x="46.6" y="304.87" font-size="11.2" text-anchor="end" fill="#111" textLength="19.8" lengthAdjust="spacingAndGlyphs">120</text>
<text x="601.8" y="305.22" font-size="11" text-anchor="end" fill="#111" textLength="18" lengthAdjust="spacingAndGlyphs">120</text>
<text x="1041.8" y="305.7" font-size="11" text-anchor="end" fill="#111" textLength="18" lengthAdjust="spacingAndGlyphs">120</text>
<text x="46.6" y="319.14" font-size="11.2" text-anchor="end" fill="#111" textLength="19.8" lengthAdjust="spacingAndGlyphs">130</text>
<text x="601.8" y="319.44" font-size="11" text-anchor="end" fill="#111" textLength="18" lengthAdjust="spacingAndGlyphs">130</text>
<text x="1041.8" y="319.9" font-size="11" text-anchor="end" fill="#111" textLength="18" lengthAdjust="spacingAndGlyphs">130</text>
<text x="46.6" y="333.41" font-size="11.2" text-anchor="end" fill="#111" textLength="19.8" lengthAdjust="spacingAndGlyphs">140</text>
<text x="601.8" y="333.66" font-size="11" text-anchor="end" fill="#111" textLength="18" lengthAdjust="spacingAndGlyphs">140</text>
<text x="1041.8" y="334.1" font-size="11" text-anchor="end" fill="#111" textLength="18" lengthAdjust="spacingAndGlyphs">140</text>
<text x="3.6" y="341.9" font-size="11" fill="#111" textLength="43" lengthAdjust="spacingAndGlyphs">n = 502</text>
<text x="564.2" y="342" font-size="10.6" fill="#111" textLength="37.6" lengthAdjust="spacingAndGlyphs">n = 256</text>
<text x="1004.5" y="342.3" font-size="10.6" fill="#111" textLength="37.2" lengthAdjust="spacingAndGlyphs">n = 256</text>
<text x="179.4" y="372.7" font-size="11" fill="#111" textLength="173.6" lengthAdjust="spacingAndGlyphs">prevalence of positive group [%]</text>
<text x="717.4" y="372.8" font-size="10.2" fill="#111" textLength="150.4" lengthAdjust="spacingAndGlyphs">prevalence of positive group [%]</text>
<text x="1155.8" y="372.8" font-size="10.2" fill="#111" textLength="150.6" lengthAdjust="spacingAndGlyphs">prevalence of positive group [%]</text>
<text transform="translate(10.6 192.05) rotate(-90)" x="0" y="0" font-size="10.6" text-anchor="middle" fill="#2e3335" textLength="119.5" lengthAdjust="spacingAndGlyphs">stain intensity threshold</text>
<text transform="translate(571.8 193.5) rotate(-90)" x="0" y="0" font-size="10.6" text-anchor="middle" fill="#2e3335" textLength="119.4" lengthAdjust="spacingAndGlyphs">stain intensity threshold</text>
<text transform="translate(1013.1 196.6) rotate(-90)" x="0" y="0" font-size="10.6" text-anchor="middle" fill="#2e3335" textLength="119" lengthAdjust="spacingAndGlyphs">stain intensity threshold</text>
<text transform="translate(1442 202.6) rotate(-90)" x="0" y="0" font-size="10.6" text-anchor="middle" fill="#2e3335" textLength="118.8" lengthAdjust="spacingAndGlyphs">stain intensity threshold</text>
<rect x="12.7" y="389.3" width="22.7" height="8.3" fill="#dbac3e"/>
<text x="42.9" y="396.7" font-size="10.2" fill="#111" textLength="122.4" lengthAdjust="spacingAndGlyphs">p_val_interact &lt;= 0.05</text>
<rect x="186.2" y="389.3" width="22.4" height="8.3" fill="#dd3029"/>
<text x="217.1" y="396.7" font-size="10.2" fill="#111" textLength="121.1" lengthAdjust="spacingAndGlyphs">p_val_interact &lt;= 0.01</text>
<rect x="359.4" y="389.3" width="23.1" height="8.3" fill="#a718ff"/>
<text x="390.3" y="396.7" font-size="10.2" fill="#111" textLength="127.4" lengthAdjust="spacingAndGlyphs">p_val_interact &lt;= 0.001</text>
<rect x="632.6" y="389.6" width="19.8" height="8.3" fill="#dbac3e"/>
<text x="659.3" y="396.9" font-size="9.3" fill="#111" textLength="66.2" lengthAdjust="spacingAndGlyphs">p_val &lt;= 0.05</text>
<rect x="742.9" y="389.6" width="19.9" height="8.3" fill="#dd3029"/>
<text x="769.7" y="396.9" font-size="9.3" fill="#111" textLength="65.3" lengthAdjust="spacingAndGlyphs">p_val &lt;= 0.01</text>
<rect x="853.8" y="389.6" width="19.9" height="8.3" fill="#a718ff"/>
<text x="880.8" y="396.9" font-size="9.3" fill="#111" textLength="70.9" lengthAdjust="spacingAndGlyphs">p_val &lt;= 0.001</text>
<rect x="1097.1" y="389.6" width="19.6" height="8.3" fill="#dbac3e"/>
<text x="1123.6" y="396.9" font-size="9.3" fill="#111" textLength="48.8" lengthAdjust="spacingAndGlyphs">HR &lt;= 0.6</text>
<rect x="1190.3" y="389.6" width="19.4" height="8.3" fill="#dd3029"/>
<text x="1216.6" y="396.9" font-size="9.3" fill="#111" textLength="54.6" lengthAdjust="spacingAndGlyphs">HR &lt;= 0.55</text>
<rect x="1289.1" y="389.6" width="19.9" height="8.3" fill="#a718ff"/>
<text x="1315.9" y="396.9" font-size="9.3" fill="#111" textLength="48.2" lengthAdjust="spacingAndGlyphs">HR &lt;= 0.5</text>
<text x="265.05" y="445.8" font-size="38.5" text-anchor="middle" fill="#141414">(a)</text>
<text x="1011.25" y="446.4" font-size="38.5" text-anchor="middle" fill="#141414">(b)</text>
</svg>
</body></html>
